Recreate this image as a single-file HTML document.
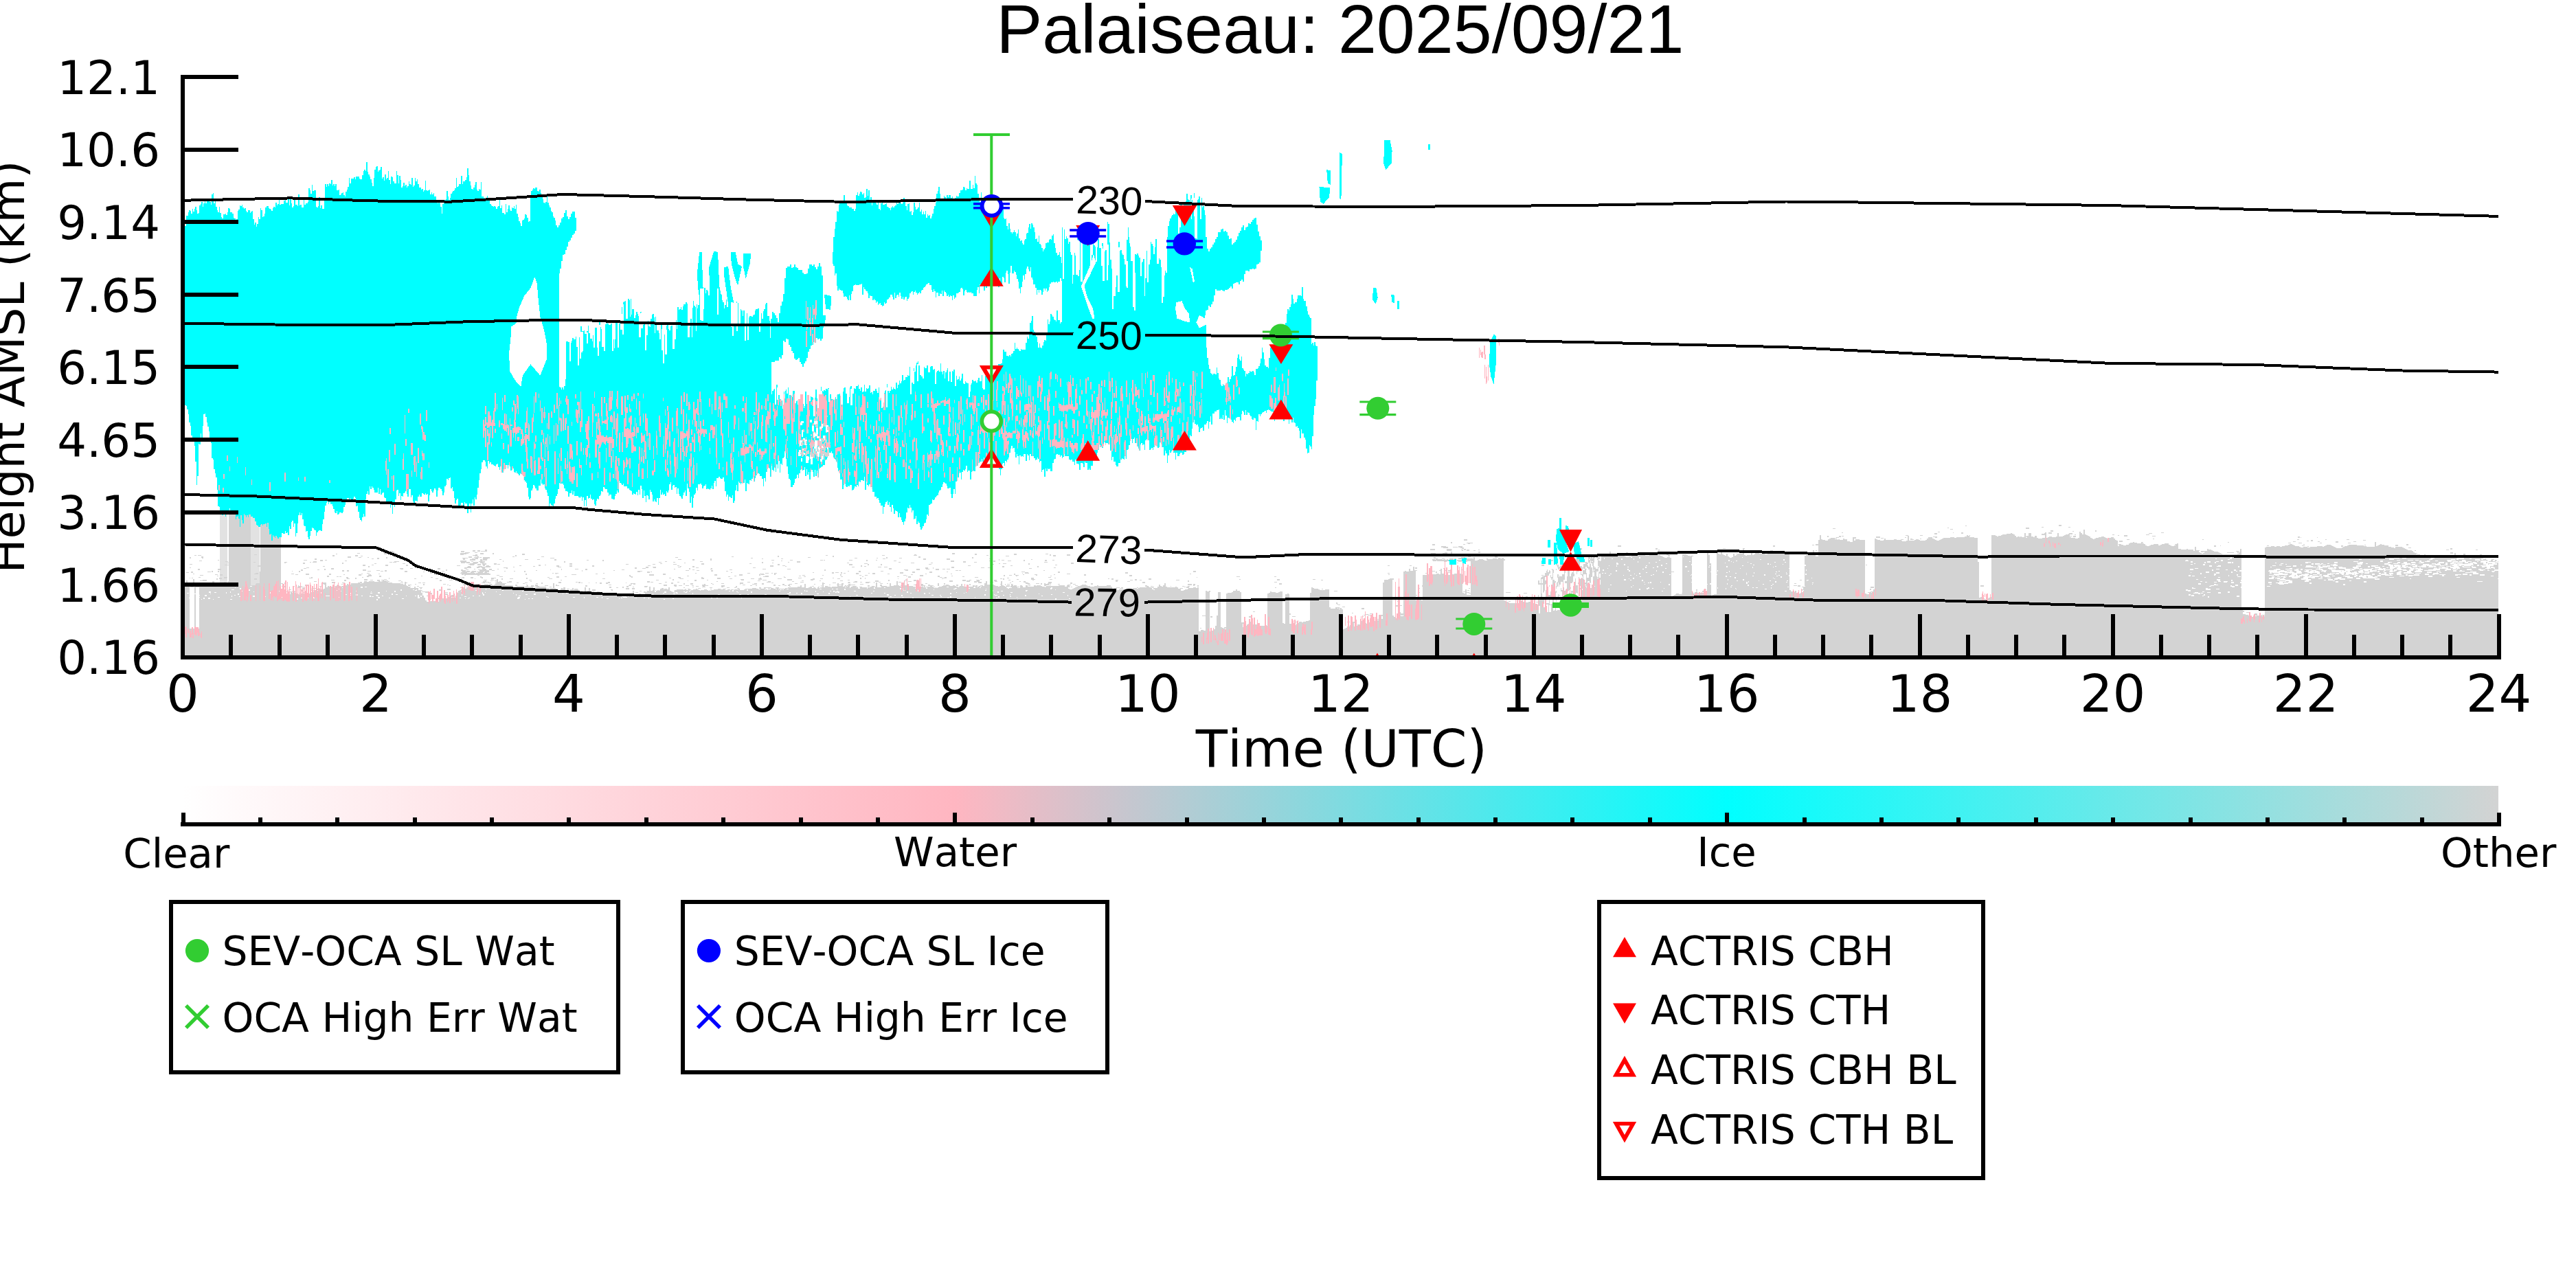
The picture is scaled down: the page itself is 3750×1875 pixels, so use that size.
<!DOCTYPE html>
<html><head><meta charset="utf-8"><title>Palaiseau: 2025/09/21</title>
<style>html,body{margin:0;padding:0;background:#fff;width:3750px;height:1875px;overflow:hidden}svg{display:block}text{font-kerning:none}</style></head>
<body><svg width="3750" height="1875" viewBox="0 0 3750 1875">
<rect width="3750" height="1875" fill="#fff"/>
<g shape-rendering="crispEdges"><path fill="#d3d3d3" d="M269,850.8H271V844.7H273V852.2H275V852.7H277V852H279V851.3H281V842.8H283V850.4H285V850.7H287V850.5H289V849.9H291V849.7H293V850.1H295V850.8H297V851.6H299V852H301V852.2H303V852.3H305V852.1H307V851.9H309V851.7H311V851.5H313V851.5H315V851.9H317V852.2H319V852.3H321V852.4H323V852.8H325V853.5H327V847.1H329V853.4H331V852.6H333V749.1H335V749.3H337V749.7H339V748.9H341V750.3H343V750.5H345V750.3H347V749.6H349V748.8H351V748.1H353V747.6H355V747.4H357V747.8H359V748.8H361V749.5H363V749.2H365V851.5H367V850.7H369V850.2H371V850.2H373V850.9H375V852.2H377V831.7H379V763.5H381V763H383V762.7H385V762.9H387V763.2H389V763H391V762.6H393V762.3H395V761.9H397V761.5H399V761.3H401V761.8H403V762.8H405V763.6H407V764H409V869.6H411V869.1H413V868.8H415V868.5H417V867.9H419V866.8H421V865.4H423V862.3H425V862.8H427V862.3H429V862.9H431V864.2H433V865.5H435V865.8H437V865.1H439V864.3H441V864.1H443V864.1H445V863.9H447V863.8H449V863.5H451V862.8H453V861.8H455V861H457V860.4H459V860H461V859.9H463V860.1H465V860.2H467V859.8H469V858.8H471V857.4H473V849.6H475V854.8H477V854.4H479V854.4H481V854.4H483V854.4H485V854.4H487V854.6H489V854.7H491V852.5H493V854.2H495V854.2H497V854.6H499V854.6H501V853.6H503V852.3H505V851.4H507V851.1H509V851H511V849.2H513V849.7H515V848.8H517V848.5H519V848.9H521V849.7H523V850.1H525V849.7H527V848.7H529V847.6H531V846.9H533V846.8H535V846.7H537V846.4H539V845.9H541V845.9H543V846.4H545V846.9H547V846.9H549V846.8H551V847H553V846.8H555V846H557V845H559V844.8H561V845.6H563V846.8H565V847.7H567V848.2H569V848.4H571V848.6H573V848.7H575V848.6H577V848.8H579V849.7H581V851H583V851.8H585V852.1H587V852.4H589V846.7H591V853.5H593V854.3H595V855.1H597V856.1H599V857.4H601V858.5H603V854H605V858.6H607V858.4H609V859H611V860.4H613V862.8H615V866.5H617V870.1H619V873.7H621V876.1H623V875.7H625V875.1H627V874.5H629V874.3H631V874.6H633V875.4H635V876.1H637V875.9H639V874.4H641V872.4H643V871.1H645V870.9H647V871.1H649V871.1H651V870.3H653V869.3H655V868.9H657V869.6H659V870.3H661V870.3H663V867H665V863.3H667V860.1H669V858.8H671V857.8H673V857.3H675V857H677V856.5H679V855.1H681V853.2H683V851.4H685V850.1H687V846.7H689V850.7H691V851.4H693V852.3H695V852.9H697V852.9H699V852.3H701V851.6H703V850.8H705V849.9H707V849.5H709V849.9H711V850.8H713V851.3H715V851.6H717V851.7H719V851.4H721V850.1H723V843.4H725V847H727V846.4H729V847.2H731V849.2H733V848.8H735V851.7H737V851.6H739V851.9H741V852.8H743V853.4H745V853.5H747V853.6H749V854.1H751V853.6H753V854.3H755V853.8H757V853.4H759V853.4H761V853.6H763V853.6H765V853.3H767V853.2H769V853.7H771V854.8H773V856.1H775V856.7H777V856.3H779V855.3H781V853.2H783V853.4H785V853.6H787V854.2H789V854.4H791V854.5H793V855.1H795V856.1H797V857.1H799V857.6H801V857.6H803V857.2H805V848.9H807V856H809V856.7H811V858.3H813V859.7H815V860.2H817V856.3H819V859.3H821V858.9H823V858.8H825V859.3H827V860.2H829V861H831V860.9H833V856.4H835V860.1H837V860.7H839V861.6H841V861.9H843V861.3H845V860.6H847V860.5H849V861.2H851V854.5H853V862H855V861.8H857V856.1H859V860.6H861V861.2H863V861.6H865V862.5H867V863.5H869V864.5H871V865.4H873V865.7H875V865.3H877V864.8H879V864.7H881V865H883V865.8H885V866.8H887V867.3H889V866.8H891V865.7H893V864.9H895V864.6H897V864.7H899V865.3H901V866.5H903V867.7H905V868.8H907V869.5H909V869.8H911V869.8H913V869.2H915V868H917V866.8H919V866.7H921V860.2H923V868.8H925V868.5H927V867.5H929V866.8H931V867H933V867.7H935V868.3H937V868.6H939V860.5H941V860.4H943V860.4H945V853.7H947V861.4H949V862.3H951V854.9H953V861.7H955V860.1H957V858.5H959V857.5H961V857.4H963V858.1H965V859.3H967V859.7H969V859H971V858.3H973V855.1H975V859.7H977V861.3H979V861.8H981V860.9H983V859.3H985V858.3H987V858.1H989V858.2H991V858.3H993V858.7H995V859.7H997V861H999V861.8H1001V858.7H1003V860.8H1005V860H1007V859.3H1009V858.4H1011V857.6H1013V857.2H1015V857.7H1017V858.7H1019V859.5H1021V859.6H1023V859H1025V858.2H1027V858.1H1029V858.8H1031V859.5H1033V859.9H1035V859.8H1037V859.1H1039V858.3H1041V858.3H1043V858.7H1045V859H1047V859.4H1049V860.2H1051V860.9H1053V860.7H1055V859.8H1057V859.4H1059V859.9H1061V860.9H1063V861.2H1065V860.6H1067V859.3H1069V858.1H1071V857.5H1073V857.8H1075V858.5H1077V858.9H1079V859H1081V858.5H1083V857.8H1085V857.3H1087V857.2H1089V857.1H1091V856.9H1093V856.5H1095V856.1H1097V855.9H1099V856.3H1101V856.9H1103V857.2H1105V856.9H1107V856.5H1109V856.6H1111V857.1H1113V857.9H1115V858.5H1117V858.6H1119V858.2H1121V857.7H1123V857.3H1125V857.3H1127V857.6H1129V857.8H1131V857.6H1133V857H1135V856.6H1137V856.8H1139V857.2H1141V857.1H1143V856.4H1145V855.6H1147V855.1H1149V854.8H1151V854.5H1153V854.7H1155V855.2H1157V855.3H1159V854.7H1161V854H1163V853.9H1165V852.3H1167V854.8H1169V855.1H1171V850H1173V855.6H1175V855.5H1177V854.9H1179V854.1H1181V853.8H1183V854.5H1185V855.8H1187V856.5H1189V856.5H1191V856.5H1193V856.7H1195V856.8H1197V848.2H1199V854.6H1201V853.1H1203V852.8H1205V853.6H1207V854.7H1209V854.9H1211V854.2H1213V853.7H1215V853.8H1217V853.8H1219V848.9H1221V853.7H1223V854.1H1225V848.9H1227V853.8H1229V853.2H1231V853.3H1233V854.3H1235V855.5H1237V855.6H1239V854.4H1241V853H1243V852.5H1245V853H1247V853.8H1249V854.1H1251V854H1253V854.1H1255V854.8H1257V856.2H1259V857.3H1261V857.2H1263V856.1H1265V854.7H1267V853.8H1269V853.4H1271V853.3H1273V853.5H1275V848.3H1277V854.5H1279V854.8H1281V854.6H1283V853.9H1285V853.3H1287V853H1289V853.2H1291V853.7H1293V853.8H1295V850.7H1297V852.9H1299V852.5H1301V852.2H1303V852H1305V846.1H1307V852.2H1309V853H1311V853.6H1313V853.8H1315V848.2H1317V853H1319V852.8H1321V852.9H1323V853H1325V853.2H1327V853.4H1329V853.8H1331V854.1H1333V854.1H1335V853.8H1337V853.6H1339V853.6H1341V854.1H1343V854.6H1345V854.8H1347V854.5H1349V854.3H1351V854.4H1353V854.7H1355V852.7H1357V854.2H1359V854.2H1361V855H1363V855.8H1365V848.6H1367V854.8H1369V853.8H1371V853.1H1373V852.3H1375V851.5H1377V851H1379V851.1H1381V851.7H1383V852.9H1385V854.2H1387V855.3H1389V856.3H1391V857H1393V853.9H1395V855.1H1397V853.4H1399V850H1401V852.9H1403V853.8H1405V854.6H1407V854.9H1409V854.7H1411V854.4H1413V854.6H1415V855.3H1417V855.8H1419V855.8H1421V855.1H1423V854.1H1425V853H1427V852.2H1429V852.1H1431V852.7H1433V848.5H1435V845.9H1437V851.8H1439V851.3H1441V850.9H1443V850.5H1445V850.9H1447V852.1H1449V853.4H1451V853.9H1453V853.6H1455V853H1457V846.1H1459V851.9H1461V852.7H1463V854.4H1465V856H1467V856.8H1469V855.5H1471V855.9H1473V855.2H1475V854.6H1477V854.4H1479V854.9H1481V855.6H1483V855.9H1485V855.4H1487V854.9H1489V855H1491V855.3H1493V855.2H1495V854.6H1497V853.8H1499V853.5H1501V853.8H1503V854H1505V852.6H1507V852.5H1509V851.9H1511V851.8H1513V852H1515V852.6H1517V853.6H1519V854.4H1521V854.6H1523V854.5H1525V854.5H1527V854.3H1529V853.7H1531V852.9H1533V852.5H1535V852.6H1537V853.1H1539V853.4H1541V853.3H1543V853.1H1545V852.7H1547V853.4H1549V853.6H1551V853.9H1553V855H1555V856.6H1557V857.8H1559V857.7H1561V856.7H1563V855.8H1565V855H1567V854.1H1569V853.3H1571V852.8H1573V852.3H1575V851.3H1577V850.7H1579V850.9H1581V851.8H1583V852.6H1585V853.2H1587V853.7H1589V853.9H1591V853.7H1593V853.1H1595V852.5H1597V852.4H1599V852.8H1601V853.2H1603V853.2H1605V852.8H1607V852.6H1609V852.6H1611V852.2H1613V851.9H1615V852.4H1617V854.1H1619V858.5H1621V859.1H1623V859H1625V858.9H1627V858.7H1629V858.1H1631V857.8H1633V857.9H1635V858.1H1637V858.2H1639V858.8H1641V859.5H1643V859.6H1645V858.5H1647V856.9H1649V855.8H1651V855.8H1653V856.4H1655V856.7H1657V856.3H1659V855.4H1661V854.7H1663V854.5H1665V854.6H1667V854.5H1669V854.2H1671V854.1H1673V854.8H1675V856.3H1677V858H1679V858.8H1681V858.3H1683V856.4H1685V854.3H1687V851.2H1689V853.3H1691V853.7H1693V853.8H1695V849.2H1697V854H1699V854.5H1701V855.1H1703V855.4H1705V855.4H1707V855.1H1709V854.5H1711V854.3H1713V855H1715V857H1717V856.8H1719V860.4H1721V860H1723V858.9H1725V858H1727V857.5H1729V857H1731V856.4H1733V855.9H1735V855.6H1737V855.3H1739V855.2H1741V855.6H1743V854.9H1745V918.7H1747V918.8H1749V918.4H1751V918H1753V917.6H1755V860.2H1757V860.5H1759V861.1H1761V918.6H1763V918.2H1765V917.5H1767V916.3H1769V911.1H1771V895.9H1773V862.3H1775V861.6H1777V913.1H1779V914H1781V915.2H1783V915.9H1785V864H1787V863.3H1789V862.8H1791V862.5H1793V862.1H1795V861.4H1797V860.4H1799V859.7H1801V859.6H1803V860.2H1805V861.5H1807V906.3H1809V912.8H1811V912.5H1813V911.1H1815V909.4H1817V908.4H1819V905.3H1821V908.5H1823V908.7H1825V908.6H1827V908.7H1829V909.4H1831V910.2H1833V910.7H1835V910.9H1837V911.1H1839V911.3H1841V908.3H1843V911H1845V863.9H1847V862.9H1849V861.2H1851V861.8H1853V862H1855V862.4H1857V862.8H1859V863H1861V862.3H1863V861.1H1865V860.5H1867V907H1869V907.6H1871V864.6H1873V864.8H1875V865.1H1877V907.5H1879V907.9H1881V908.8H1883V909.7H1885V909.5H1887V908.1H1889V906.8H1891V906.1H1893V905.9H1895V905.7H1897V905.3H1899V904.9H1901V904.4H1903V903.7H1905V902.9H1907V862.6H1909V855.4H1911V856.4H1913V857.1H1915V857.1H1917V857.2H1919V857.9H1921V859H1923V859.3H1925V859H1927V858.5H1929V858H1931V857.6H1933V857.6H1935V884.3H1937V885.6H1939V886.4H1941V886.4H1943V885.9H1945V885.6H1947V885.8H1949V886.6H1951V885.2H1953V886.9H1955V915.5H1957V914.6H1959V914.1H1961V913.2H1963V911.7H1965V910.4H1967V910.2H1969V905.3H1971V911.6H1973V911.9H1975V911.4H1977V910.6H1979V910.2H1981V903.9H1983V910.9H1985V910.4H1987V909.3H1989V908.4H1991V907.4H1993V906.4H1995V905.7H1997V905.3H1999V904.9H2001V904.2H2003V903.4H2005V902.7H2007V895.2H2009V895.6H2011V900.6H2013V847.9H2015V843.6H2017V843.6H2019V843.5H2021V843.4H2023V841.6H2025V843.6H2027V896.4H2029V898.3H2031V899.7H2033V899.7H2035V898.6H2037V890.8H2039V897.1H2041V896.9H2043V831.5H2045V831.4H2047V831.5H2049V831.9H2051V828.2H2053V831.4H2055V831H2057V825.2H2059V831.2H2061V874.4H2063V873.6H2065V872.8H2067V872.7H2069V873.6H2071V836.6H2073V837H2075V836.9H2077V833H2079V835.8H2081V835.5H2083V835.6H2085V835.9H2087V835.8H2089V835.6H2091V835.4H2093V835.4H2095V835.5H2097V828.1H2099V835.2H2101V835.8H2103V836.8H2105V837.3H2107V837.1H2109V836.8H2111V836.5H2113V836.1H2115V835.7H2117V835.4H2119V835.1H2121V835H2123V835.2H2125V835.3H2127V835.5H2129V863.3H2131V864.2H2133V858.4H2135V865.7H2137V866.2H2139V866.3H2141V816.9H2143V816.2H2145V810.6H2147V816.2H2149V816.3H2151V815.3H2153V813.9H2155V813.5H2157V814.4H2159V815.4H2161V815.7H2163V815.5H2165V815.4H2167V815.2H2169V814.7H2171V813.8H2173V813.1H2175V813H2177V813.4H2179V813.8H2181V813.6H2183V813.2H2185V812.6H2187V812H2189V874.1H2191V874.5H2193V875.8H2195V877.2H2197V878H2199V878.2H2201V878H2203V877.8H2205V877.7H2207V877.8H2209V877.7H2211V877.1H2213V875H2215V876.2H2217V876.2H2219V876.4H2221V876.7H2223V876.8H2225V876.6H2227V876.6H2229V876.9H2231V877.5H2233V878.4H2235V879.4H2237V879.9H2239V844.2H2241V842.2H2243V840H2245V838.5H2247V837.5H2249V834.2H2251V829.3H2253V832.8H2255V830H2257V829.6H2259V828.9H2261V828.6H2263V828.2H2265V827.6H2267V821.5H2269V825.2H2271V823.2H2273V820.9H2275V819.3H2277V818.7H2279V818.9H2281V818.9H2283V818H2285V816.4H2287V814.9H2289V813.8H2291V813H2293V812.6H2295V812.2H2297V811.6H2299V810.2H2301V809.2H2303V808.6H2305V808.8H2307V809.3H2309V809.8H2311V809.7H2313V809.1H2315V808.3H2317V808H2319V808.1H2321V807.9H2323V807.3H2325V807.2H2327V808H2329V809.7H2331V810.4H2333V809.7H2335V808.7H2337V807.8H2339V807.8H2341V808.2H2343V803.4H2345V808.7H2347V809.1H2349V808.9H2351V807.7H2353V806.1H2355V805.2H2357V805H2359V805.6H2361V807.2H2363V808.9H2365V810.4H2367V811.1H2369V810.9H2371V810.2H2373V809.8H2375V809.2H2377V808.2H2379V807.2H2381V806.8H2383V806.7H2385V806.5H2387V806H2389V806H2391V806.8H2393V807.8H2395V808.6H2397V808.9H2399V808.7H2401V808H2403V807.3H2405V807.1H2407V807.4H2409V807.8H2411V807.9H2413V807.8H2415V808.2H2417V808.9H2419V809.8H2421V810.7H2423V811.5H2425V811.5H2427V811H2429V811.2H2431V811.6H2433V868.3H2435V867.1H2437V865.8H2439V865.1H2441V865H2443V865.2H2445V865.3H2447V864.9H2449V807.2H2451V806.8H2453V807H2455V807.6H2457V808.7H2459V809.6H2461V810.1H2463V861.7H2465V864H2467V863.5H2469V858.2H2471V863.1H2473V863.2H2475V863.4H2477V863.4H2479V862.9H2481V862.2H2483V861.7H2485V804.4H2487V807.8H2489V820H2491V867.4H2493V866.1H2495V864.9H2497V864.6H2499V804.4H2501V806.1H2503V807.3H2505V799.9H2507V807.1H2509V807.5H2511V808.5H2513V805.7H2515V810H2517V811H2519V811.5H2521V811H2523V805.5H2525V808.7H2527V807.6H2529V806.5H2531V805.9H2533V805.8H2535V806.3H2537V802.2H2539V808.4H2541V808.7H2543V808.2H2545V807.6H2547V807.7H2549V803.4H2551V807.6H2553V806.5H2555V805.2H2557V804.7H2559V805.2H2561V806H2563V806.3H2565V806.3H2567V806.4H2569V806.8H2571V806.8H2573V806.1H2575V805.2H2577V804.8H2579V805.1H2581V801.7H2583V805.6H2585V805.8H2587V806H2589V806.2H2591V806.2H2593V806.3H2595V806.1H2597V805.6H2599V805H2601V805H2603V805.5H2605V859.4H2607V860.5H2609V861.4H2611V861.8H2613V860.2H2615V862.7H2617V863.4H2619V863.5H2621V862.9H2623V861.8H2625V854H2627V808.5H2629V807.9H2631V807.4H2633V806.9H2635V806.3H2637V804.2H2639V800.6H2641V808.3H2643V809.6H2645V809.9H2647V786.1H2649V779.1H2651V785.1H2653V785.6H2655V786.4H2657V787.1H2659V786.9H2661V785.4H2663V783.6H2665V782.6H2667V782.7H2669V783.8H2671V784.9H2673V785.4H2675V785.6H2677V786H2679V786.2H2681V785.7H2683V783.5H2685V785.5H2687V786.5H2689V787.7H2691V788H2693V789.3H2695V789.2H2697V781.5H2699V786.7H2701V785.4H2703V785H2705V785.3H2707V785.7H2709V785.8H2711V785.8H2713V786.2H2715V864.4H2717V865H2719V865.2H2721V862.7H2723V864.1H2725V862.4H2727V857.7H2729V784.1H2731V784.5H2733V785.5H2735V786.4H2737V786.8H2739V786.7H2741V786.7H2743V783.7H2745V786.2H2747V785.7H2749V785.7H2751V785.9H2753V785.9H2755V785.7H2757V785.3H2759V785.2H2761V785.5H2763V785.8H2765V786.1H2767V786.6H2769V787.5H2771V788H2773V787.7H2775V787.1H2777V780.1H2779V786.5H2781V786.9H2783V787.3H2785V786.9H2787V785.9H2789V785H2791V784.8H2793V785.6H2795V786.5H2797V787.2H2799V787.4H2801V787.2H2803V786.1H2805V784.3H2807V782.3H2809V781.6H2811V782.3H2813V783.6H2815V784.8H2817V785.8H2819V786.6H2821V786.7H2823V785.9H2825V784.7H2827V783.8H2829V783.3H2831V783.2H2833V783.2H2835V783.3H2837V783H2839V782.4H2841V782H2843V782H2845V782.8H2847V783.3H2849V783.2H2851V782.7H2853V782.3H2855V782.3H2857V782.3H2859V781.7H2861V780.5H2863V778.7H2865V780.3H2867V781.9H2869V783H2871V783H2873V782.5H2875V782.6H2877V783.3H2879V818.3H2881V869.6H2883V868.6H2885V868.9H2887V870.5H2889V872H2891V872.3H2893V871.4H2895V870.2H2897V869.1H2899V778.8H2901V778.6H2903V779H2905V779.9H2907V780.5H2909V780.4H2911V779.6H2913V778.6H2915V778H2917V777.7H2919V777.5H2921V777.1H2923V776.8H2925V776.6H2927V776.4H2929V776.8H2931V778.2H2933V780.2H2935V781.8H2937V782.1H2939V781.6H2941V781.3H2943V781.8H2945V782.4H2947V775.7H2949V782.7H2951V781.9H2953V775.8H2955V776H2957V781.3H2959V781.5H2961V781.5H2963V781.9H2965V782.9H2967V783.6H2969V783.9H2971V783.8H2973V783.3H2975V782.7H2977V774.8H2979V782.6H2981V781.5H2983V781H2985V781.4H2987V782.1H2989V782.2H2991V781.7H2993V781.3H2995V775.6H2997V781H2999V781.2H3001V780.9H3003V779.8H3005V778.8H3007V778.3H3009V778.3H3011V776.5H3013V781.5H3015V782.9H3017V783.1H3019V783.1H3021V783.6H3023V783.9H3025V783.1H3027V773.9H3029V775.9H3031V777.9H3033V771H3035V777.5H3037V778.5H3039V779.8H3041V781.3H3043V783H3045V784.4H3047V784.8H3049V784.3H3051V783.4H3053V782.7H3055V782.2H3057V781.9H3059V781.4H3061V781.2H3063V781.8H3065V782.9H3067V783.7H3069V783.4H3071V782.6H3073V781.8H3075V782H3077V783.6H3079V785.8H3081V786.9H3083V794.7H3085V793.6H3087V793.1H3089V793.2H3091V793.5H3093V793.5H3095V793.3H3097V792.5H3099V791.4H3101V790.2H3103V789.5H3105V789.3H3107V789.6H3109V790.2H3111V790.8H3113V791.2H3115V791H3117V789.3H3119V790.6H3121V791.7H3123V793.5H3125V794.7H3127V794.7H3129V794.1H3131V793.3H3133V792.7H3135V792H3137V791.6H3139V792.2H3141V793.5H3143V794H3145V793.3H3147V792.3H3149V791.6H3151V791H3153V790.8H3155V791.3H3157V792.5H3159V793.7H3161V794.6H3163V794.9H3165V794.4H3167V793H3169V791.3H3171V798.5H3173V798.9H3175V799.9H3177V800.5H3179V800.6H3181V800.2H3183V799.2H3185V799.7H3187V800.2H3189V801H3191V801.7H3193V801.7H3195V795.9H3197V801.2H3199V802H3201V803.5H3203V805.1H3205V805.8H3207V805.1H3209V803.4H3211V801.7H3213V799.2H3215V800.1H3217V800.3H3219V801.1H3221V801.9H3223V802.5H3225V802.5H3227V802.6H3229V803.5H3231V804.9H3233V806.3H3235V807H3237V806.6H3239V806.7H3241V806.5H3243V806.7H3245V806.8H3247V806.7H3249V806.8H3251V807.2H3253V807.2H3255V806.8H3257V806H3259V805H3261V798.9H3263V888.1H3265V894H3267V894.2H3269V894.9H3271V895.4H3273V895.9H3275V896.7H3277V897.7H3279V898.2H3281V897.6H3283V896.7H3285V896.2H3287V895.9H3289V895.7H3291V896.1H3293V896.9H3295V897.4H3297V796.6H3299V796.2H3301V796.2H3303V795.7H3305V795.9H3307V795.7H3309V795.9H3311V796H3313V795.7H3315V795.2H3317V795.2H3319V795.5H3321V795.7H3323V795.5H3325V795H3327V794.6H3329V793.9H3331V793H3333V791.5H3335V792.3H3337V793.2H3339V794.2H3341V794.7H3343V794.7H3345V795.1H3347V796.1H3349V797H3351V797H3353V796.3H3355V795.7H3357V796H3359V796.7H3361V796.8H3363V796.2H3365V795.6H3367V795.5H3369V795.8H3371V796H3373V795.4H3375V794.7H3377V794.8H3379V795.4H3381V795.5H3383V794.9H3385V793.9H3387V793H3389V792.6H3391V793H3393V794.2H3395V795.4H3397V796.4H3399V797.2H3401V797.7H3403V798H3405V798H3407V797.5H3409V796.7H3411V796H3413V795.4H3415V794.6H3417V793.9H3419V793.2H3421V792.8H3423V792.9H3425V793.1H3427V793H3429V793H3431V793.5H3433V794.1H3435V794.4H3437V794.4H3439V794.4H3441V794.7H3443V795.2H3445V795.7H3447V795.7H3449V795.8H3451V795.9H3453V795.9H3455V795.8H3457V789.2H3459V794.7H3461V793.5H3463V792.6H3465V792.4H3467V792.7H3469V793.2H3471V793.9H3473V794.7H3475V795.2H3477V795.7H3479V796H3481V796.5H3483V797.3H3485V797.7H3487V797.2H3489V796.3H3491V795.7H3493V795.8H3495V796.3H3497V797.3H3499V798.2H3501V799.2H3503V800.2H3505V800.7H3507V800.8H3509V801.2H3511V802.4H3513V804.3H3515V805.9H3517V806.5H3519V806.7H3521V807.4H3523V808.8H3525V810.1H3527V811.3H3529V807.4H3531V811.3H3533V812H3535V811.1H3537V810H3539V809.1H3541V808.8H3543V808.7H3545V808.5H3547V808.1H3549V809.2H3551V809.8H3553V810H3555V810.2H3557V810.3H3559V810.1H3561V809.9H3563V810.1H3565V810.8H3567V811.2H3569V811H3571V810.9H3573V805.2H3575V812.2H3577V813.2H3579V813.9H3581V814.4H3583V814.4H3585V813.6H3587V812.3H3589V808.5H3591V810.1H3593V810.3H3595V811.3H3597V812.1H3599V812.4H3601V809.6H3603V812.1H3605V812.1H3607V812.2H3609V812.3H3611V812.2H3613V812H3615V812.3H3617V813.3H3619V814.7H3621V815.7H3623V815.6H3625V814.8H3627V814.3H3629V814.3H3631V814.7H3633V815.3H3635V815.9H3637V957H269Z"/><path fill="#fff" d="M276.3,852.2L283.1,852.2L283.1,914.7L276.3,914.7ZM285,854.9L289.9,854.9L289.9,914.7L285,914.7Z"/><path fill="#e2e2e2" d="M320,745h10.5v107h-10.5zM364.6,752h13.4v100h-13.4z"/><path fill="#d3d3d3" d="M696.9,851.4h2.2v1.5h-2.2zM474.3,858.2h2.1v1.2h-2.1zM482.9,846.9h4.6v1.7h-4.6zM876.9,841.7h4.3v1.5h-4.3zM1305.5,852.5h4.1v1.4h-4.1zM1222.9,836.3h1.7v1.7h-1.7zM316.6,848.9h3.6v1.7h-3.6zM344.2,734.9h2.7v1h-2.7zM698.7,839.4h1.8v1.7h-1.8zM325.4,851.7h2.7v1.1h-2.7zM1463.9,808.8h4.7v1.2h-4.7zM1344.8,852.8h2.5v1.6h-2.5zM380.1,762.5h4.8v1.3h-4.8zM1295.5,851.5h1.8v1.4h-1.8zM490.5,855h1.6v1.3h-1.6zM603.6,855.9h4.9v1.7h-4.9zM1180.6,855.7h4.1v1.6h-4.1zM951.1,859.7h2.2v1.3h-2.2zM626.7,839.8h3.1v1.5h-3.1zM1427.3,843h2.1v1.3h-2.1zM1460.2,853.7h2.3v1.5h-2.3zM1371.9,827.7h4.1v1.6h-4.1zM751.9,853.3h3.7v1.1h-3.7zM1299.9,854.7h1.6v1.8h-1.6zM485.9,847.1h1.7v1.8h-1.7zM291.4,837.1h4.5v1.2h-4.5zM280.2,853.5h1.7v1.6h-1.7zM951.7,825h3.7v1.5h-3.7zM530.4,847.9h4.9v1.8h-4.9zM834.7,835.9h4v1.2h-4zM527.9,828.9h4.9v1.8h-4.9zM730.8,852.1h2.6v1.1h-2.6zM1544.1,852.4h4.5v1.2h-4.5zM1508.3,848.5h4.4v1.5h-4.4zM1258.2,855.1h1.8v1.3h-1.8zM1402.1,817.1h4v1.5h-4zM333.4,712.8h3.8v1.5h-3.8zM1356.2,853.8h3.7v1.5h-3.7zM1245.5,855.1h4v1.7h-4zM1080.6,858.7h4.7v1.1h-4.7zM567.2,818.1h3.6v1.3h-3.6zM1306.5,842.2h1.9v1.2h-1.9zM1315.6,829h1.8v1.4h-1.8zM1189.8,854.6h1.7v1.3h-1.7zM1475.9,835.3h2.2v1.7h-2.2zM1131.2,856.6h2.4v1.1h-2.4zM792.1,853.7h2.5v1.7h-2.5zM1251.6,849.9h4.9v1.5h-4.9zM1498,826.5h3.7v1.6h-3.7zM1269.6,834.4h4.6v1.3h-4.6zM738.8,852h4.7v1.7h-4.7zM840.2,857.8h2v1.8h-2zM1136.7,813h3.7v1.4h-3.7zM1236,821.2h4.5v1.3h-4.5zM923.8,826h3.3v1.6h-3.3zM947.1,832.4h1.7v1h-1.7zM387,759h2.8v1.8h-2.8zM1556.1,853.5h4.4v1.4h-4.4zM1355.2,852.2h4.2v1h-4.2zM873.4,862.9h2.4v1.2h-2.4zM810.7,851.8h3.3v1.6h-3.3zM1336.6,810.3h3.8v1.2h-3.8zM1016.7,856h2.3v1.3h-2.3zM565.6,841.2h1.7v1.4h-1.7zM801.3,856.1h2.5v1.8h-2.5zM1017.6,859.5h3.5v1.6h-3.5zM443.8,861.2h2.2v1.4h-2.2zM1330.9,854h2v1.1h-2zM1062.5,859.1h3.3v1.6h-3.3zM1258.7,841.2h1.5v1.3h-1.5zM584,845.8h2v1.1h-2zM1497.2,820.2h1.8v1.7h-1.8zM355.1,747.3h5v1.8h-5zM873.1,848.3h2.8v1.7h-2.8zM677.8,856.9h2v1.5h-2zM989.6,823.8h2v1.6h-2zM1487.5,833.9h1.9v1.1h-1.9zM383.4,761h4.2v1.1h-4.2zM849.2,861.6h3.9v1.1h-3.9zM1293.1,844.4h2.2v1.6h-2.2zM720.4,845.2h3.4v1.2h-3.4zM808,833.6h4.5v1.7h-4.5zM1003,827.4h2v1.8h-2zM328.1,816.6h4.3v1.3h-4.3zM1289.6,811.3h2.1v1.5h-2.1zM275.7,840.6h1.7v1.5h-1.7zM304.7,849.4h4.5v1.2h-4.5zM1520.3,849h2.1v1.7h-2.1zM470.5,849.5h4.8v1.8h-4.8zM986.8,859.5h3.3v1.2h-3.3zM675.5,857.3h2.2v1h-2.2zM1238.4,855.2h3.5v1.3h-3.5zM1108.5,849.3h3.2v1.6h-3.2zM1007.9,824.2h3.5v1.7h-3.5zM1384.7,837.7h2.7v1.4h-2.7zM371.9,834.3h3.8v1.7h-3.8zM378.9,762.4h3.8v1.6h-3.8zM365.1,852.2h2.6v1.3h-2.6zM337.2,748.9h2.2v1h-2.2zM460.7,861h2.8v1.6h-2.8zM1123.2,847.8h3.1v1.1h-3.1zM332.2,851.9h4.8v1.7h-4.8zM1005.2,849.2h4.1v1.7h-4.1zM581.5,826.6h3.8v1.2h-3.8zM641.1,872.4h3.4v1.8h-3.4zM1288.8,854.7h1.9v1.2h-1.9zM482,856.6h4.1v1.3h-4.1zM999.5,858.5h4.9v1.5h-4.9zM450.1,840.7h2.5v1.4h-2.5zM640.6,867.5h2.6v1.3h-2.6zM473.3,814.5h2.2v1.2h-2.2zM799.3,856h2.3v1.3h-2.3zM1023.2,852.7h2.8v1.5h-2.8zM1231.8,854.6h2.3v1.5h-2.3zM800.7,828.5h1.5v1.4h-1.5zM719.7,851.1h4.5v1.2h-4.5zM1287.3,824.6h4.9v1.1h-4.9zM471.3,858.8h2.6v1.7h-2.6zM1100.4,858.2h1.9v1.6h-1.9zM1074,859h3.6v1.2h-3.6zM648.8,872.1h5v1.4h-5zM1065.8,858.8h2.8v1.5h-2.8zM1233.3,818.7h2.4v1.2h-2.4zM790,854.3h4.4v1.3h-4.4zM751.8,847.8h3.5v1.3h-3.5zM281.3,834.6h1.9v1.7h-1.9zM588.5,852.3h3.4v1.7h-3.4zM760.9,849h3v1.1h-3zM641.9,834.7h4.8v1.2h-4.8zM1456.9,853.7h4v1h-4zM819.6,855.2h3v1.8h-3zM724.4,851.7h1.9v1.6h-1.9zM435.8,864.9h2.2v1.8h-2.2zM843.6,860.8h3.8v1.3h-3.8zM983.1,810.5h3.9v1.4h-3.9zM1557.8,847.9h3.1v1.7h-3.1zM1505.9,836.1h2.8v1.3h-2.8zM281.5,852.8h4.2v1.4h-4.2zM1374.9,840.3h3.5v1.6h-3.5zM912.2,853.4h3.2v1.3h-3.2zM1256.9,855.1h4.9v1.8h-4.9zM1341.2,850h3.1v1.3h-3.1zM862.5,862.7h4.3v1.7h-4.3zM915.9,837.2h2.5v1.7h-2.5zM1525.5,839.6h4.9v1.6h-4.9zM1164.5,852.1h1.7v1.1h-1.7zM1337.8,854.2h3.9v1.1h-3.9zM1244.2,811.9h3.7v1h-3.7zM1220.8,850.7h4.5v1.1h-4.5zM632.1,835h4.4v1.7h-4.4zM941.6,846.1h4.8v1.5h-4.8zM382.8,762.4h1.5v1.1h-1.5zM305.1,849.8h3.7v1.7h-3.7zM797.2,855.7h4.7v1.7h-4.7zM1530.9,853.5h3.6v1.5h-3.6zM959.2,859.9h4.7v1.4h-4.7zM317.9,850.5h4v1.2h-4zM1271.6,854.6h3v1.2h-3zM434.7,831.4h2.7v1.6h-2.7zM1419.7,853h1.5v1.4h-1.5zM573.7,817.2h2.1v1.6h-2.1zM303.1,851.4h2.2v1.7h-2.2zM1042.9,846.1h1.8v1.2h-1.8zM1421.3,843.5h4.2v1.4h-4.2zM534.8,810.5h2.4v1.1h-2.4zM1107.1,858.1h4.2v1.6h-4.2zM764.3,848h3.2v1.1h-3.2zM372.7,850.4h1.5v1.1h-1.5zM741.6,841.5h3.3v1.1h-3.3zM1249.6,831.2h3.8v1.6h-3.8zM597,827h3.5v1.1h-3.5zM1152.8,845.7h3.5v1.4h-3.5zM1259.2,836.8h3.6v1.1h-3.6zM569.2,802.1h2.9v1.5h-2.9zM439.8,856.1h3.6v1.6h-3.6zM1519.9,849.5h2.6v1.1h-2.6zM701.2,847.6h4.9v1.4h-4.9zM1140.8,838.7h1.5v1.2h-1.5zM967,860.1h2v1.6h-2zM1139.6,857.2h1.9v1.7h-1.9zM879.4,863.9h4v1.5h-4zM1552.6,853.5h4.2v1.4h-4.2zM590,848h1.6v1.1h-1.6zM410.4,852.8h4v1.2h-4zM666.3,843.1h2.9v1.3h-2.9zM1489.8,846.4h3.4v1.5h-3.4zM323.2,849.5h4.3v1.5h-4.3zM1418.2,852.7h3.2v1.2h-3.2zM509.2,851.5h2.2v1.1h-2.2zM836.3,857.2h4.2v1.6h-4.2zM967.6,847h3.1v1.2h-3.1zM919.6,856h4.8v1.7h-4.8zM355.9,736.9h1.8v1.5h-1.8zM1365.6,838.3h1.9v1.3h-1.9zM521.7,836.3h4v1.6h-4zM729.7,842.4h2.2v1.7h-2.2zM1480.4,853.6h3.5v1.6h-3.5zM567.9,848.5h1.5v1.6h-1.5zM285.8,850.3h4.3v1h-4.3zM1181.7,852.8h2.9v1.4h-2.9zM724,820.6h3.8v1.3h-3.8zM425.2,860.7h5v1.7h-5zM357.6,747.1h3.1v1.3h-3.1zM414.4,867.5h3.4v1.6h-3.4zM1194.1,841.9h3.9v1h-3.9zM551.4,845.6h2.4v1.3h-2.4zM785.2,853.6h1.5v1.7h-1.5zM1504.3,842.9h2.5v1.4h-2.5zM1446.7,844h3.9v1.6h-3.9zM1535.3,840.6h1.9v1.4h-1.9zM1459.6,853.6h1.7v1h-1.7zM360.2,748.8h4.2v1.5h-4.2zM1213.9,847.8h2.7v1.6h-2.7zM489,853.4h3v1.5h-3zM1251.7,847h3.6v1.2h-3.6zM1035.2,830.4h3v1.6h-3zM925.4,861.9h3.6v1.1h-3.6zM547.7,847.1h3.4v1.5h-3.4zM1182.7,855.9h2.7v1.1h-2.7zM1113.5,854.9h2.5v1.2h-2.5zM1494.3,848.7h5v1.3h-5zM548.1,830.1h4.7v1.1h-4.7zM1381.9,845h4.7v1.8h-4.7zM820.6,817.1h2.1v1.4h-2.1zM841.8,860.2h3.2v1.6h-3.2zM409.8,863.5h3.3v1.2h-3.3zM1098.3,857.8h3.5v1.5h-3.5zM1236,814.9h4.7v1.4h-4.7zM609,858.5h4.3v1.6h-4.3zM1294.3,826.9h3.5v1.7h-3.5zM1117.7,846.4h4.4v1.5h-4.4zM1260.5,815.4h2.9v1.6h-2.9zM655.1,866.7h4.6v1.8h-4.6zM1492.4,833h4.5v1.7h-4.5zM1056.8,858.6h1.6v1.6h-1.6zM1250.8,836.8h3.5v1.5h-3.5zM1196.8,849.2h3.8v1.2h-3.8zM959.1,848.8h3.5v1.2h-3.5zM433.5,852.3h1.9v1.6h-1.9zM504.9,830.3h2.7v1.7h-2.7zM561.1,847h3.9v1.6h-3.9zM720.8,847h3.8v1.2h-3.8zM771.8,846.3h2.6v1.1h-2.6zM1442.1,853.7h5v1.7h-5zM846.5,830.3h1.7v1.5h-1.7zM726.1,850.8h4.6v1h-4.6zM1382,854.1h3.9v1.2h-3.9zM949.7,821.2h4.3v1.1h-4.3zM663.7,863.9h4v1h-4zM1384.5,825.3h4.8v1.2h-4.8zM545.1,819.6h3.3v1.2h-3.3zM291.9,851.8h3.9v1.6h-3.9zM727,813.9h3.3v1.4h-3.3zM779.1,852.1h2.8v1.7h-2.8zM837.8,859.8h3v1.7h-3zM1094.3,858.5h3v1.4h-3zM287.9,808.3h4.7v1.1h-4.7zM982.4,858.7h2.2v1.2h-2.2zM339.1,733.8h2.8v1.6h-2.8zM1321.8,846.2h2.7v1.1h-2.7zM1110.4,843.9h4.2v1.1h-4.2zM329.5,819.1h3.6v1.1h-3.6zM1184.6,856.1h3.7v1.4h-3.7zM1192.7,855.9h4.7v1.8h-4.7zM1540.2,832.2h2.6v1.8h-2.6zM1062.4,841.7h3.8v1.2h-3.8zM1370.5,841.8h2.3v1.3h-2.3zM455.2,858.6h5v1.3h-5zM780.1,830.1h1.8v1.1h-1.8zM1232,855.2h3.6v1.7h-3.6zM996.3,859.7h2.2v1.4h-2.2zM1500.8,840.7h3.9v1.5h-3.9zM690.5,841.8h1.5v1.3h-1.5zM1317.3,854.3h3.8v1.6h-3.8zM471.9,828.1h2.4v1.8h-2.4zM714.5,840.8h4.8v1.7h-4.8zM896.6,866.1h3.7v1.5h-3.7zM352.5,746.6h4.7v1.4h-4.7zM503.6,840.2h3.1v1.7h-3.1zM902.2,866.6h2.1v1.1h-2.1zM1497.1,851.6h2.7v1.8h-2.7zM536,836.9h4.8v1.7h-4.8zM476.9,853.2h2.4v1.6h-2.4zM587.4,852.4h2.5v1.1h-2.5zM1194.2,855h2.9v1.2h-2.9zM760.5,852.7h2.7v1.6h-2.7zM494.3,839.2h2.7v1.1h-2.7zM424.5,830.6h1.6v1.2h-1.6zM1383.9,854.1h2.2v1.2h-2.2zM1348.2,854.3h4.8v1.1h-4.8zM999.5,837.8h3.5v1.4h-3.5zM834.5,859.3h5v1.3h-5zM1095,849.6h4.9v1.2h-4.9zM469.9,823.5h3.3v1.5h-3.3zM1076.4,836.2h4.4v1.6h-4.4zM276.4,825.7h1.6v1.7h-1.6zM271.4,832.6h3.7v1h-3.7zM1242.3,846.5h1.9v1.7h-1.9zM1032.6,855.2h4.8v1.2h-4.8zM497.5,818.9h2.1v1.7h-2.1zM540.7,821.8h2.9v1.5h-2.9zM1053.3,856.6h3.3v1.5h-3.3zM446,825.8h4.4v1.2h-4.4zM560.6,844.5h4.2v1.4h-4.2zM676.2,836.6h2.2v1.6h-2.2zM1242.2,855.2h3.5v1.5h-3.5zM1522.9,852.5h3.1v1.7h-3.1zM438.4,829.3h2.8v1.3h-2.8zM1553.6,851.1h2.4v1.2h-2.4zM1167.3,844.8h2.3v1.4h-2.3zM639.7,844.4h2.8v1.5h-2.8zM1448.5,853.2h4.8v1.4h-4.8zM1096,857.7h3.9v1.6h-3.9zM1034,828.2h3.2v1h-3.2zM1448.3,845.6h3.7v1.5h-3.7zM323.2,851.2h1.8v1.5h-1.8zM1372.6,840.9h4.3v1.3h-4.3zM310.6,849.3h2.1v1.2h-2.1zM578.1,850.4h3.9v1.5h-3.9zM1331.4,807h2.3v1.8h-2.3zM1260.3,847.1h4.9v1.4h-4.9zM306.5,852.1h2.6v1.6h-2.6zM1000.5,844.9h1.6v1.2h-1.6zM985.6,847h3v1.2h-3zM669.6,841h4v1.2h-4zM1496.2,853.5h2.3v1.4h-2.3zM1307.6,846.6h3.9v1.8h-3.9zM743.5,852.6h2.9v1.5h-2.9zM443.4,863.9h4v1.8h-4zM1471.5,851.4h3.1v1.7h-3.1zM1540.5,851.7h4.8v1.6h-4.8zM460,857.2h1.5v1.3h-1.5zM944.7,836h2.7v1.5h-2.7zM1125.5,851.4h3.6v1.4h-3.6zM1057.6,855h4.7v1.1h-4.7zM1384.4,834.6h1.5v1.6h-1.5zM738,846.8h3.3v1.6h-3.3zM897.4,854.6h2.3v1.1h-2.3zM1132,809.3h1.8v1.7h-1.8zM765.9,841.3h2.4v1.6h-2.4zM832.3,835.6h2.5v1.3h-2.5zM1076.7,858.9h4.9v1.5h-4.9zM1524.3,853.3h4v1.2h-4zM377.1,848.5h3.1v1.4h-3.1zM871.8,863.9h3.9v1.2h-3.9zM644.5,849.7h3.9v1.6h-3.9zM1459.2,823.7h2.3v1.8h-2.3zM940.8,852.6h2.5v1.3h-2.5zM988.9,859.8h4v1.3h-4zM1162.6,838.3h3.7v1.1h-3.7zM996.4,858h4v1.6h-4zM918.3,849.1h2v1.7h-2zM1520.3,817.8h4.3v1.3h-4.3zM1473,845.7h2.3v1.4h-2.3zM1367.6,839.8h4.4v1h-4.4zM1521.1,814.9h3.3v1.7h-3.3zM504.6,850.2h2.1v1.5h-2.1zM1453.6,813.9h1.8v1.6h-1.8zM990.9,859.4h4.6v1.4h-4.6zM324.2,850h3.9v1.7h-3.9zM526.7,839.5h1.8v1.7h-1.8zM282.5,807.7h3.5v1.6h-3.5zM1133.2,851.8h3v1.2h-3zM639.6,872.7h2.4v1.5h-2.4zM981.6,851.8h3.4v1.8h-3.4zM1366.8,853.5h3.4v1.8h-3.4zM615.2,847.5h3.8v1.5h-3.8zM987.7,840.7h2.8v1.7h-2.8zM1001.7,858.2h3.7v1.5h-3.7zM1455.9,841.9h3.3v1.3h-3.3zM819,857.1h3.7v1.7h-3.7zM1034.7,859.1h1.6v1.7h-1.6zM650.8,856.8h4.8v1.8h-4.8zM985.7,822.5h2.9v1.8h-2.9zM1145.7,857.1h4.3v1.1h-4.3zM1556.2,853.5h4.1v1.1h-4.1zM966.7,857.9h4.6v1.2h-4.6zM1198.9,814.7h1.7v1.6h-1.7zM378.2,740h4.5v1.1h-4.5zM1410.7,850.4h2.6v1.8h-2.6zM765.6,853.8h2.7v1.7h-2.7zM1539.5,849.5h3.2v1.5h-3.2zM1353.1,854.3h4.3v1.8h-4.3zM792.9,852.1h4.9v1.3h-4.9zM756,822.8h3.2v1.5h-3.2zM639.4,858.2h2.8v1.6h-2.8zM905.4,828.6h3.4v1.7h-3.4zM838.2,846.5h2.4v1.5h-2.4zM1125.3,857.4h3.4v1.7h-3.4zM530.3,843.3h4.4v1.3h-4.4zM308.6,845.8h3.1v1.7h-3.1zM1126.5,835.4h2.8v1.7h-2.8zM1338.7,854.4h3.8v1.7h-3.8zM1108.7,812.6h2.4v1.5h-2.4zM958.1,859.1h4.2v1.3h-4.2zM1107.9,835.4h4v1.1h-4zM341.3,722.4h3.8v1.1h-3.8zM437.7,859.3h2.1v1.7h-2.1zM558.9,805.2h4v1.4h-4zM1135.8,842h2.5v1.4h-2.5zM355.6,748.9h4.8v1.7h-4.8zM1242.2,855.2h3.7v1.6h-3.7zM825.4,856.6h4v1h-4zM877,864.2h3.1v1.4h-3.1zM812.4,824.5h4.6v1.6h-4.6zM1294.9,849.3h2.4v1.7h-2.4zM420.3,857.5h3.7v1.1h-3.7zM533.5,834h4.5v1.3h-4.5zM955.3,843.6h3.5v1.4h-3.5zM1093.2,841.8h4.3v1.4h-4.3zM1122.6,857.5h2.1v1.6h-2.1zM558.5,843.2h4.6v1.1h-4.6zM1145.5,856.6h3.7v1.7h-3.7zM1328.4,832.1h3.3v1.4h-3.3zM491.8,854.7h4.1v1h-4.1zM1473.2,853.4h4v1.4h-4zM1060.4,838.6h2.5v1.7h-2.5zM1244.4,846.4h3.5v1.3h-3.5zM1520.2,851.1h2.3v1.4h-2.3zM1458.1,814.6h3.5v1.3h-3.5zM1233.8,847.5h4.4v1.7h-4.4zM1176,810.6h3.8v1.8h-3.8zM1111,857.7h3.7v1.6h-3.7zM815.9,857.5h2.7v1.6h-2.7zM537.9,847.8h4.6v1.8h-4.6zM1390.9,829.5h4.1v1.4h-4.1zM1110.9,838.5h2.7v1.2h-2.7zM1165.2,846.7h5v1.3h-5zM804.2,856.3h1.6v1.1h-1.6zM1033.7,815h1.9v1.1h-1.9zM1149.6,856h1.7v1.7h-1.7zM462.2,857.1h4.1v1.6h-4.1zM1503,844.2h2v1.1h-2zM1099.6,851.6h2.4v1.1h-2.4zM721.8,850.7h2.7v1.3h-2.7zM1240.8,851h4.5v1.4h-4.5zM644.7,833.5h3.8v1.7h-3.8zM570.5,803.2h3.7v1.3h-3.7zM593.9,854.5h1.6v1.2h-1.6zM669.7,855.3h2.9v1h-2.9zM456.3,861.8h1.6v1.2h-1.6zM1093.7,858.4h4.6v1.8h-4.6zM1063.4,859.1h2.1v1.4h-2.1zM1476,806.4h4.1v1.7h-4.1zM395.3,756.8h3.2v1.2h-3.2zM997.7,851.8h4.9v1.1h-4.9zM655.9,871.4h2.3v1.3h-2.3zM745.9,809.5h2.6v1.4h-2.6zM484,855.9h2.3v1.5h-2.3zM658,870.6h3.3v1h-3.3zM1383.8,854.1h2.9v1.8h-2.9zM486.7,855.7h3.2v1.5h-3.2zM763.2,853.6h3.9v1.5h-3.9zM717.7,840.8h4.4v1.4h-4.4zM770.3,843.8h3.3v1.1h-3.3zM1435.1,853.8h4.1v1.3h-4.1zM1280.6,848.6h4.4v1.4h-4.4zM588.8,831.3h4.4v1.4h-4.4zM1468.5,837.1h4.8v1.2h-4.8zM1487.1,832.1h4.8v1.3h-4.8zM987.2,824.9h3.9v1.2h-3.9zM643,830.6h3.8v1h-3.8zM603.8,849.8h2.2v1.4h-2.2zM1131.3,857.5h2.4v1.7h-2.4zM322.7,852.1h4.4v1.5h-4.4zM878.1,834.2h2.2v1h-2.2zM1317.9,842.7h2.7v1.5h-2.7zM375,851h3.5v1.7h-3.5zM678.4,856.9h1.8v1.2h-1.8zM1077.8,842.6h3.9v1.7h-3.9zM1149.5,843.1h3.6v1.5h-3.6zM1212.3,809.2h2.1v1.5h-2.1zM430.4,865.3h4.7v1.3h-4.7zM1001.6,859.4h3.3v1h-3.3zM1019.3,816.5h3.9v1.5h-3.9zM985.8,858.6h4.2v1.3h-4.2zM704.2,843.8h4.9v1.6h-4.9zM1140.3,857.2h4.3v1.3h-4.3zM1080.7,851h4.2v1h-4.2zM395.9,761.6h2.2v1.5h-2.2zM420.6,866.9h3.4v1.1h-3.4zM1294.5,853.3h2.6v1.5h-2.6zM1529.2,852.7h2.3v1.3h-2.3zM1275.2,814.8h2v1h-2zM664.5,866.5h4.1v1.5h-4.1zM1234,852.7h3v1.8h-3zM332.4,852.2h1.6v1.7h-1.6zM938,852.8h3.8v1.7h-3.8zM953.5,858.8h1.9v1.3h-1.9zM521.7,810.5h4.2v1.2h-4.2zM929.7,863.5h3.6v1.8h-3.6zM625.6,863.1h3.3v1.8h-3.3zM551.4,834.7h1.8v1.4h-1.8zM1508,836.1h1.6v1.8h-1.6zM966.3,851.3h4.8v1.5h-4.8zM554.7,843.6h4.1v1.3h-4.1zM487.4,853.2h1.9v1.1h-1.9zM426.7,860.3h2.6v1.1h-2.6zM1223,845h4.4v1.1h-4.4zM1070.2,858.3h3.2v1.4h-3.2zM1022.5,851.2h4.7v1.5h-4.7zM723.5,827.7h2.1v1.6h-2.1zM1014.2,858.9h4.1v1.1h-4.1zM316,851.4h3.3v1.5h-3.3zM675.4,849.9h4.9v1.8h-4.9zM1200,854.7h3.2v1.6h-3.2zM1414.5,811.3h2.9v1.3h-2.9zM703.4,828.1h4.9v1.5h-4.9zM841.7,847.1h3v1.5h-3zM512.5,850.9h2.9v1.2h-2.9zM466.1,815.3h3.9v1.3h-3.9zM1549.3,853.5h2.7v1.7h-2.7zM1518.8,829.7h2.2v1.5h-2.2zM361.9,748.9h4.5v1h-4.5zM395.1,762.5h4v1.5h-4zM548.5,844.4h4.8v1.2h-4.8zM357.4,736.5h1.9v1.4h-1.9zM598.9,856h3.8v1.6h-3.8zM675.3,858.5h4.9v1.2h-4.9zM587.7,850.7h2.3v1.2h-2.3zM1462.5,853.6h4.4v1.4h-4.4zM315.5,852.1h3.8v1.4h-3.8zM582.2,850.4h4.7v1.6h-4.7zM1123.9,818.9h2.3v1.3h-2.3zM1351.3,850.7h3.1v1.6h-3.1zM1559.2,819.4h4.2v1.4h-4.2zM1180.9,855.8h2.4v1.2h-2.4zM1149.5,814.9h4.1v1.2h-4.1zM1121.9,856h4.4v1.4h-4.4zM592,853h1.8v1.3h-1.8zM707.7,846.7h3.8v1.7h-3.8zM1324.5,846.1h2.8v1.1h-2.8zM1032.6,859.4h1.7v1.5h-1.7zM481.9,827.1h3.8v1.4h-3.8zM1477.7,853.5h2.6v1.4h-2.6zM1515.3,853.5h3.6v1.7h-3.6zM456.8,845.5h3.9v1.3h-3.9zM960.9,819.8h3.1v1.4h-3.1zM997.9,859.7h4.3v1h-4.3zM1532.6,808.1h4.4v1.7h-4.4zM1064.1,858h3.6v1.5h-3.6zM452.7,840.4h2.6v1.4h-2.6zM613.9,860.5h4.6v1.6h-4.6zM350.8,727.1h4.7v1.6h-4.7zM1163.1,856h3.9v1.3h-3.9zM1460.5,837.4h2.6v1.7h-2.6zM1268.6,854.7h2.3v1h-2.3zM1263.3,855h2.5v1.6h-2.5zM664.4,867h1.7v1h-1.7zM1007.6,859.6h4.9v1h-4.9zM677.5,857.2h4.6v1.6h-4.6zM413.8,867.8h1.8v1.6h-1.8zM1234,843.7h3.2v1.4h-3.2zM1038.3,859.3h4.3v1.6h-4.3zM1148.2,856.6h2.3v1.8h-2.3zM1493.7,833.8h4.2v1.4h-4.2zM1401.4,838.7h3v1.5h-3zM372.7,849.6h4.5v1.4h-4.5zM987.6,852h4.8v1.2h-4.8zM1149.1,853.2h2.3v1h-2.3zM1057.4,858.9h3.5v1.3h-3.5zM793.2,821.5h1.8v1.4h-1.8zM804.7,856.3h2.9v1.7h-2.9zM525.5,834.5h2.4v1.4h-2.4zM980.8,859.9h4.3v1.3h-4.3zM540.6,847.3h4.9v1.8h-4.9zM875.2,863.9h4v1h-4zM1378.1,854.2h1.7v1.3h-1.7zM858.4,862.7h2.5v1.8h-2.5zM1268.2,855h4.6v1.4h-4.6zM1546.2,852.2h2.6v1.5h-2.6zM899.6,865.7h3.3v1.5h-3.3zM673.1,833h4.1v1.6h-4.1zM1121.7,857.3h4v1.1h-4zM453.1,856.9h2.1v1.1h-2.1zM1033.9,813.2h1.7v1.4h-1.7zM386.5,755.6h3.5v1.4h-3.5zM320.4,836.1h3.3v1.5h-3.3zM1131.9,821h3v1.7h-3zM496.8,849.7h2.1v1.3h-2.1zM1435.5,807.7h3.2v1.2h-3.2zM686.3,816.5h3v1.2h-3zM1347.1,848.6h3v1.7h-3zM1232.5,855.3h4.9v1.4h-4.9zM502.1,815.7h3v1.5h-3zM1238.5,855h4.9v1.5h-4.9zM343.5,742.1h1.6v1.8h-1.6zM1129.2,855.3h4.3v1.6h-4.3zM1173.6,855.9h1.8v1.7h-1.8zM1416,852.3h2.9v1.3h-2.9zM627,832.8h3.4v1.6h-3.4zM1050.8,859.2h1.8v1.1h-1.8zM911,855.8h5v1.7h-5zM1223.3,853h2.7v1.6h-2.7zM716,830h4v1.1h-4zM1307,854.6h2.6v1.8h-2.6zM1110.1,827.6h4.7v1.2h-4.7zM1296.4,852.6h1.7v1.1h-1.7zM432.9,853.8h3.7v1.7h-3.7zM650.7,851h2.4v1.3h-2.4zM1116,855.4h5v1.3h-5zM576.3,817.1h4.6v1.1h-4.6zM705.5,845.2h1.7v1.3h-1.7zM1263.6,833.5h2v1.2h-2zM616.2,850.4h2v1.8h-2zM419.7,860.5h4v1.8h-4zM1062.2,828.8h3.4v1.2h-3.4zM813.1,847.2h3.4v1.6h-3.4zM966,857.7h3.3v1.4h-3.3zM282.9,851.7h3.5v1.6h-3.5zM821.5,838.8h3.3v1.3h-3.3zM582.7,827.2h4.7v1.6h-4.7zM554.4,830.6h3.3v1.7h-3.3zM277.8,831.9h3.1v1.7h-3.1zM1051.5,859.2h3.9v1.4h-3.9zM578.6,850.6h2.9v1.4h-2.9zM887,865.9h2v1.5h-2zM974,840.7h3v1.2h-3zM1299.6,854.3h1.7v1.3h-1.7zM852.1,861.6h4.8v1.2h-4.8zM427.3,852.7h2v1.2h-2zM803.8,855.5h3.8v1.1h-3.8zM1101,858.3h3.5v1.8h-3.5zM1285.1,812.9h3.4v1.1h-3.4zM747.6,830.8h2v1.5h-2zM686,814.6h2.7v1.3h-2.7zM621.2,866.6h4.8v1.4h-4.8zM1226.4,849.1h1.8v1.5h-1.8zM1036.7,849.8h2.5v1.2h-2.5zM694.7,851.7h2.1v1.2h-2.1zM930.8,830.9h4v1.4h-4zM1194.5,852.1h1.7v1.5h-1.7zM1179.9,843.3h4.5v1.6h-4.5zM1339.4,854.4h5v1.5h-5zM1034.8,848.9h2.4v1.2h-2.4zM1401.2,844.3h4.9v1.2h-4.9zM1025.2,849.7h1.6v1.5h-1.6zM765.8,850.7h2.1v1.5h-2.1zM1138.7,822.6h4.4v1.8h-4.4zM1528.8,837.5h2.5v1.4h-2.5zM377.7,844.1h2.6v1.4h-2.6zM1237.6,855.2h4.6v1h-4.6zM902,866.2h1.6v1.4h-1.6zM608,858.7h4.4v1.2h-4.4zM1480.3,843.3h2.7v1h-2.7zM1373.5,854.2h4.2v1.4h-4.2zM857.7,862.6h3v1h-3zM1254.5,838.6h2v1.4h-2zM499.7,836.3h2.2v1.1h-2.2zM636.8,827.3h4.4v1.3h-4.4zM1294.8,852.8h2.2v1.7h-2.2zM317.3,828.4h4.9v1.1h-4.9zM1378.4,831.6h1.6v1.4h-1.6zM605.6,855.7h2.8v1.3h-2.8zM282.6,852.4h2.5v1.5h-2.5zM1167.8,836.6h3.7v1.7h-3.7zM987.5,858.6h1.6v1.6h-1.6zM995.4,859.6h3.3v1.8h-3.3zM1051.1,858h4.3v1.3h-4.3zM289.3,852.2h4.9v1.1h-4.9zM1280.6,854.9h3v1.2h-3zM713.8,851.1h2.9v1.6h-2.9zM947,860.2h4.3v1.7h-4.3zM858.5,860.8h1.6v1.1h-1.6zM754.2,853.4h4.9v1.5h-4.9zM673.6,850.6h2.1v1.7h-2.1zM916,851.4h2.1v1.4h-2.1zM1190.8,853.6h1.7v1.4h-1.7zM1333,850.2h4.9v1.4h-4.9zM1408.7,854h3.7v1.4h-3.7zM731.6,816.2h1.8v1.4h-1.8zM665.4,822.5h4.2v1.2h-4.2zM434.8,865h2.1v1.7h-2.1zM1396,829.6h2.9v1.4h-2.9zM1012,834.1h1.5v1.1h-1.5zM1020,859.4h4.8v1h-4.8zM1526,853.2h2.2v1.3h-2.2zM1092.8,811.7h3.2v1.7h-3.2zM1418.7,806.4h2.8v1.4h-2.8zM297.9,849.8h2.7v1.1h-2.7zM1343.9,853.5h2v1.1h-2zM301.5,831.8h3.4v1.4h-3.4zM803.7,811.8h2.8v1.4h-2.8zM1160.1,817.3h4.5v1.7h-4.5zM506.4,810.2h4.4v1.3h-4.4zM1309,811.8h4.1v1.6h-4.1zM1351.7,821.3h4.2v1.1h-4.2zM539.2,847.7h3.1v1.1h-3.1zM980.3,821.1h4.9v1h-4.9zM1150.5,856.9h4.5v1h-4.5zM403.1,761.1h1.5v1.5h-1.5zM535.3,830.5h4.8v1.4h-4.8zM876.5,815.3h2.6v1.7h-2.6zM1190,856h2.5v1.6h-2.5zM328.2,821.6h4.7v1.6h-4.7zM1316.3,845h4.3v1.4h-4.3zM796.8,839.7h3.1v1.2h-3.1zM611.5,856.3h2.8v1.6h-2.8zM1281.5,830.6h4.5v1.3h-4.5zM746.6,824.6h2.1v1.6h-2.1zM946.9,846.6h3.9v1.5h-3.9zM573.2,849.6h4.8v1.7h-4.8zM921.1,854.3h1.8v1.4h-1.8zM1028.5,843.5h2.3v1.1h-2.3zM1509.9,824h2.1v1.7h-2.1zM1317.9,854.4h4.3v1.3h-4.3zM701.1,851.1h3.6v1.5h-3.6zM929.7,868h4.3v1.3h-4.3zM611.2,847.7h2.1v1.7h-2.1zM1106.1,834.7h2.7v1.3h-2.7zM594.3,854h3v1.6h-3zM919,839.6h1.9v1.2h-1.9zM317.3,814.8h1.7v1.4h-1.7zM1138.6,857h4.9v1.8h-4.9zM577.4,850.3h3.8v1.4h-3.8zM1049.5,848.5h4.8v1.6h-4.8zM673.3,840.1h3.1v1.8h-3.1zM885.8,865.8h4.7v1.2h-4.7zM1329.8,844.1h4.1v1.6h-4.1zM1438.1,825.9h3.8v1.3h-3.8zM907,866h2.7v1.4h-2.7zM815.9,856.7h2.6v1.2h-2.6zM517,841.4h1.8v1.2h-1.8zM490.1,838.6h2.5v1.1h-2.5zM1329.5,850.9h4.3v1.3h-4.3zM717,843.5h1.7v1.8h-1.7zM442.1,826.7h3.8v1.6h-3.8zM540.9,813h3.4v1.3h-3.4zM518.6,849.9h4.5v1.8h-4.5zM809.6,839.2h3.9v1.4h-3.9zM889.6,858.5h2.7v1.6h-2.7zM809.2,851.3h2.1v1.8h-2.1zM370.3,834.9h3.8v1.3h-3.8zM1529.8,853.5h2.5v1.3h-2.5zM1098.2,849.1h4v1.7h-4zM294.9,844.3h2.9v1.6h-2.9zM949.7,858.5h1.5v1.2h-1.5zM845.4,859.6h2.8v1.5h-2.8zM702.8,821.3h2.8v1.3h-2.8zM829.1,823.1h3.6v1.8h-3.6zM275.8,810.8h2.2v1.7h-2.2zM326.7,821.7h3.7v1.5h-3.7zM774.6,852.2h2v1.1h-2zM1075.2,857.4h1.6v1.1h-1.6zM489.3,855h3.1v1.7h-3.1zM1020.6,840.4h1.9v1.6h-1.9zM1385.9,805h4v1.5h-4zM1511.1,853.5h4.3v1.6h-4.3zM1206.8,853.7h1.8v1.1h-1.8zM1143.3,856h4.8v1.1h-4.8zM1320.4,849.9h2.5v1.2h-2.5zM725.9,849.8h2.3v1.2h-2.3zM1522.8,850.4h3.7v1.6h-3.7zM698.2,811.1h2.5v1.2h-2.5zM327.4,851.5h1.7v1.5h-1.7zM1012.3,859.6h4.8v1.6h-4.8zM979.8,818.2h3.4v1.1h-3.4zM1275.8,811.7h1.7v1.4h-1.7zM562.1,811.2h1.8v1.6h-1.8zM535.9,835.8h3.9v1.6h-3.9zM338.4,744h1.9v1.1h-1.9zM478.8,857.2h4.8v1.4h-4.8zM597.3,850.6h1.7v1.2h-1.7zM1078.9,843.3h3.7v1.8h-3.7zM1533.7,825.6h3.1v1.6h-3.1zM591.4,822.4h2.4v1.8h-2.4zM287.6,828.4h3.3v1.7h-3.3zM942.2,832.4h4v1.5h-4zM1497.3,853.5h4.7v1.4h-4.7zM1182.6,842.4h2.9v1.4h-2.9zM1524.8,848.5h4.7v1h-4.7zM1010.8,844.4h2.9v1.1h-2.9zM1291.8,834.6h2.8v1.1h-2.8zM1352.9,832.1h4.4v1.7h-4.4zM609.4,848.1h3.1v1.3h-3.1zM799.4,841.9h5v1.4h-5zM742.9,841.5h3.7v1.3h-3.7zM1103.3,845.2h4.1v1.1h-4.1zM1111.8,855h4.6v1.5h-4.6zM1316.2,829.1h2.2v1.1h-2.2zM1249.8,855.1h4.8v1.6h-4.8zM816.1,843.8h2v1.5h-2zM1456.9,853.7h4.8v1.2h-4.8zM782,814.1h4.3v1.3h-4.3zM1533.7,853.5h3.8v1.4h-3.8zM1414.8,853.9h2.6v1.4h-2.6zM364.5,736.6h4.5v1.7h-4.5zM455.9,856.2h4.9v1.1h-4.9zM1179.3,855.4h4.7v1.5h-4.7zM1426.2,853.9h3.6v1.3h-3.6zM409.2,865.5h4.1v1.5h-4.1zM1036.1,858.5h3.3v1.4h-3.3zM1443.9,820.8h3v1.4h-3zM647.5,864h2v1.8h-2zM804.6,856.4h2.5v1.8h-2.5zM670.2,859.2h4.9v1.6h-4.9zM735.1,852.2h2.9v1.3h-2.9zM1424.1,847h4.7v1.8h-4.7zM1391.8,851.3h2.9v1.4h-2.9zM1146.3,827.5h4.4v1.3h-4.4zM1219.4,853.2h4.2v1h-4.2zM1364.9,838.4h2v1.2h-2zM671.5,854.9h4.7v1.8h-4.7zM1047.7,859.2h4.9v1.8h-4.9zM383.7,748.9h3.8v1.5h-3.8zM1205.4,855.6h2.6v1.3h-2.6zM1107.6,858.1h2.5v1.1h-2.5zM331.1,847.6h2.2v1.4h-2.2zM536,824.2h1.9v1.6h-1.9zM1118.2,857.7h2.8v1.3h-2.8zM856.7,848.3h1.6v1.1h-1.6zM1171.1,856.5h4.5v1.3h-4.5zM316.8,830.7h2.4v1.8h-2.4zM1460.2,819.8h4.6v1.1h-4.6zM304.4,849.5h3v1.3h-3zM1039.9,836.4h4.3v1.7h-4.3zM1142.7,824.3h1.8v1h-1.8zM852.4,828.4h2.8v1.1h-2.8zM432.9,864.8h4.5v1.3h-4.5zM1378.4,812.8h4.2v1.7h-4.2zM599.2,855.8h2.3v1h-2.3zM1470.7,853.3h3.7v1.2h-3.7zM966.6,856.6h4v1.2h-4zM642.4,872.4h2.6v1.7h-2.6zM1513,853.5h4.5v1.6h-4.5zM372.2,852h4.5v1.2h-4.5zM1441.4,846.8h4.9v1.4h-4.9zM439.1,854.4h3.1v1.1h-3.1zM1325.9,818.9h4.9v1.5h-4.9zM1022.3,859.2h4.9v1.6h-4.9zM1132.4,841.9h4.4v1.3h-4.4zM414.2,819.1h1.6v1.2h-1.6zM904.6,866.7h2.6v1.7h-2.6zM1076.8,850h1.6v1.3h-1.6zM427.3,863.6h2.9v1.3h-2.9zM677.6,834.6h3.1v1.7h-3.1zM713.9,851h2.7v1.7h-2.7zM733,825.7h3.9v1.2h-3.9zM516.8,850.3h3.1v1.6h-3.1zM649.3,829h1.5v1.6h-1.5zM489.3,805.5h1.8v1.7h-1.8zM787.9,854.4h1.6v1.2h-1.6zM764.4,813.6h4.9v1.1h-4.9zM994.9,859.8h1.9v1.5h-1.9zM949.6,824.5h4.7v1.1h-4.7zM1087.7,833.6h4.2v1.5h-4.2zM930.8,859.7h2.9v1.5h-2.9zM1420.2,852.2h3v1.4h-3zM1387.8,853.6h3v1.6h-3zM776,824.3h3.4v1.1h-3.4zM743.1,852.7h3v1.3h-3zM707.8,823.4h4.6v1.6h-4.6zM1258.3,820.3h4.7v1.1h-4.7zM1427.7,853.7h2.5v1.6h-2.5zM454.5,817.6h4.8v1h-4.8zM1090.9,819.6h3.4v1.4h-3.4zM1027,851.9h3.5v1.5h-3.5zM1503.5,853.5h2.3v1h-2.3zM356.2,748.6h4.7v1.3h-4.7zM1045.5,858.1h5v1.2h-5zM779.4,852.8h2.2v1.1h-2.2zM774.3,854.3h1.6v1.7h-1.6zM712.6,851.1h3.7v1.4h-3.7zM1159.7,854.9h2v1.5h-2zM783.9,822.3h2.6v1.2h-2.6zM509.9,850.7h2.3v1.4h-2.3zM750.1,807.9h2.2v1.8h-2.2zM703.2,846.3h4.9v1.6h-4.9zM1491.3,846.6h2.6v1.5h-2.6zM1153.8,856.9h1.9v1.8h-1.9zM1200,828.9h2.2v1.8h-2.2zM658.2,871.4h2.8v1.3h-2.8zM345.1,719.6h4.5v1.2h-4.5zM980.6,827.8h2.8v1.4h-2.8zM584.8,847.5h2.6v1.7h-2.6zM475.3,858h4.7v1.1h-4.7zM978.5,843.3h2.6v1.7h-2.6zM705.9,850.7h1.7v1.7h-1.7zM548.7,811.9h3.1v1.7h-3.1zM382.1,732.2h4.9v1.6h-4.9zM442.4,814.5h4.3v1.2h-4.3zM1521.9,853.5h2v1h-2zM1034.1,856.6h1.8v1.4h-1.8zM1406.5,854h3.7v1.1h-3.7zM928.9,866.3h2.5v1h-2.5zM1016.2,855.9h3.9v1.1h-3.9zM1538.9,853.5h2.2v1.5h-2.2zM442.9,863.3h3.3v1.6h-3.3zM1385.2,852.9h3.8v1h-3.8zM1418.9,839.9h4.7v1.2h-4.7zM910.7,847.7h1.6v1.7h-1.6zM1183,832.8h2.1v1.6h-2.1zM1001.4,859.6h2v1.7h-2zM784.1,854.4h2.8v1.5h-2.8zM445.9,863.5h3.8v1.7h-3.8zM1136.7,815.7h2.5v1.3h-2.5zM750.8,851.4h2.4v1.6h-2.4zM635.5,869.9h3.2v1.8h-3.2zM695,836.3h2.6v1.6h-2.6zM770.1,854.3h3.3v1.3h-3.3zM611.5,858.8h1.5v1.6h-1.5zM976.5,848.2h3.5v1.3h-3.5zM861.8,858.4h4.7v1.3h-4.7zM466.6,859.7h2.7v1.5h-2.7zM1021.4,841.4h3.8v1.1h-3.8zM772.7,852.4h1.9v1.5h-1.9zM1269.3,855h3.4v1.1h-3.4zM1271.5,847.2h1.7v1.4h-1.7zM580.8,850.8h3.8v1.3h-3.8zM1467.4,815.8h4.5v1.3h-4.5zM1437.1,853.8h4.2v1.3h-4.2zM1386.7,854.1h3.5v1.1h-3.5zM650.1,864h2v1.6h-2zM931.5,867.7h3.4v1.4h-3.4zM313.4,835.5h4v1.7h-4zM1484.6,851.5h3.8v1.5h-3.8zM337.6,731.1h2.5v1.3h-2.5zM1070.6,853.4h2.5v1.7h-2.5zM391,752.6h2.1v1.7h-2.1zM1478,836.6h4.6v1.6h-4.6zM1113.8,838.3h4.7v1.2h-4.7zM1210.8,855.3h3.1v1.3h-3.1zM1087.6,846.7h4.7v1.7h-4.7zM354,748.7h1.7v1.6h-1.7zM716.7,805.2h2.3v1.8h-2.3zM1245.9,834.2h3.6v1.7h-3.6zM572.3,817.5h4.6v1.5h-4.6zM1123.1,857.3h3.2v1.5h-3.2zM677.8,857.2h4.8v1.6h-4.8zM741.1,846h3.6v1.8h-3.6zM990.4,842.1h4.3v1.1h-4.3zM1020.6,819.9h4.4v1.7h-4.4zM479.4,834.9h2.5v1.7h-2.5zM1281.7,852.7h3.5v1.4h-3.5zM1484.4,846h1.8v1.4h-1.8zM294.8,852.1h3.2v1.4h-3.2zM359,747.3h2.5v1.2h-2.5zM841.5,860.7h1.6v1.2h-1.6zM1194.1,815.3h4.1v1.1h-4.1zM1334.1,828h4.5v1.6h-4.5zM606.7,853.1h3v1h-3zM967.3,859.3h4.8v1.5h-4.8zM1314.6,854.6h4v1.6h-4zM865.4,862.9h3.2v1.4h-3.2zM829.7,858h3.8v1.7h-3.8zM616.3,831.8h1.7v1.6h-1.7zM714.3,844.8h2.7v1.1h-2.7zM484.3,808.3h3v1.8h-3zM940.4,824.8h3.1v1.8h-3.1zM886,865.2h2.1v1.1h-2.1zM411.9,853.3h2.8v1.7h-2.8zM525.3,808.9h2.2v1.2h-2.2zM708.4,850.1h3v1.6h-3zM361.9,748.4h1.7v1.6h-1.7zM424.4,860.6h4.5v1.3h-4.5zM419.2,866.3h4.8v1.1h-4.8zM1384.5,854.1h2.1v1.6h-2.1zM1095,857.2h4v1.1h-4zM1406.8,845.4h4.8v1.5h-4.8zM1007.7,829h3.5v1.1h-3.5zM1059.3,858.1h3.7v1.8h-3.7zM1056.9,831.2h2.7v1h-2.7zM330.4,852.2h2.3v1.2h-2.3zM684.7,840.4h4.1v1.6h-4.1zM1240,824.9h4v1.4h-4zM803,856.2h1.5v1.7h-1.5zM461.8,829.4h2.9v1h-2.9zM1339.4,837.4h5v1.4h-5zM1469.8,848h2.4v1.3h-2.4zM1121.3,823.4h4.4v1.7h-4.4zM962.8,855.9h3.3v1.7h-3.3zM742.4,852.8h2.9v1.5h-2.9zM1344.4,812.9h3.9v1.7h-3.9zM1318,829.2h3.6v1.8h-3.6zM1420,853.9h1.9v1.8h-1.9zM1129.6,857.5h4.7v1.1h-4.7zM963.7,857.7h2.5v1.2h-2.5zM381.9,760.3h1.9v1.5h-1.9zM684.7,831.9h4.8v1.7h-4.8zM1224,832.7h1.8v1.8h-1.8zM1013.2,852.5h3.9v1.1h-3.9zM876.3,864.7h4.7v1.4h-4.7zM440.9,818.9h3.5v1.6h-3.5zM1306.1,839h3.1v1.2h-3.1zM336.5,737.9h1.9v1.3h-1.9zM1417.6,817.7h4.4v1.2h-4.4zM1484.6,853.4h4.7v1.6h-4.7zM1522.3,806h3.3v1.2h-3.3zM1454.6,852.5h2.7v1.5h-2.7zM452.9,858.5h2v1.4h-2zM1440.4,815.5h4.9v1.6h-4.9zM1233,852h4.6v1.1h-4.6zM484.8,856.1h2.9v1h-2.9zM1177.8,856.1h3.9v1.5h-3.9zM1162.4,840.6h4.3v1.4h-4.3zM1006,859.1h3.3v1.1h-3.3zM1501.4,814h1.8v1h-1.8zM779.6,848.5h3.2v1.3h-3.2zM1072.9,856.3h2.9v1h-2.9zM1035.4,859.4h4.5v1.4h-4.5zM727.4,838.6h4.6v1.1h-4.6zM787.7,809.5h4.5v1.3h-4.5zM737.3,826.4h1.8v1.1h-1.8zM1006.7,851.5h3.5v1.6h-3.5zM1406.9,851.3h2.6v1.7h-2.6zM585.8,819.5h4v1.7h-4zM1091.9,858.5h4v1.4h-4zM507,851.8h2.4v1.1h-2.4zM445,834.7h4.8v1.8h-4.8zM991.6,851.7h1.7v1.1h-1.7zM1263.8,846.7h3.5v1.6h-3.5zM1319.1,837.8h1.5v1.4h-1.5zM1347.8,827.9h4.8v1.4h-4.8zM943.7,860.3h3.3v1.5h-3.3zM1454.1,819.9h1.7v1.1h-1.7zM763.3,831.4h2.1v1.6h-2.1zM1034.7,826.5h2.7v1.3h-2.7zM347.7,742.8h4.2v1.4h-4.2zM942.7,822.6h4.2v1.3h-4.2zM1488.7,835.7h2.6v1.2h-2.6zM1141.6,851.6h3.6v1.1h-3.6zM1257.8,824.1h3v1.2h-3zM1527.6,807.4h1.9v1.4h-1.9zM833.6,858.9h3.3v1.5h-3.3zM742.9,851.6h4.5v1.5h-4.5zM664,868.4h2.8v1.8h-2.8zM1341.6,854.1h3.6v1h-3.6zM1440.2,812.5h2.3v1.3h-2.3zM658.4,871.2h3.9v1.3h-3.9zM276.5,853.6h3.8v1.6h-3.8zM291.4,844.8h3.7v1.5h-3.7zM1110.3,835.5h2.7v1.7h-2.7zM839.7,860.5h3.8v1.3h-3.8zM1089.4,856.5h3.2v1.4h-3.2zM1183.4,855.2h3.8v1.2h-3.8zM1290.5,854.3h1.8v1h-1.8zM1042.2,858h3.5v1.2h-3.5zM837,828.1h4.7v1h-4.7zM1493.2,847.9h4.1v1.7h-4.1zM513,848.6h4.6v1.4h-4.6zM1427.7,825.5h5v1.5h-5zM356.5,712.9h2.1v1.1h-2.1zM746,852.6h2v1.5h-2zM1443.9,853.1h2.8v1.5h-2.8zM657,866.3h4.7v1.1h-4.7zM959.8,859.8h4.2v1.2h-4.2zM1315.9,851.9h4.8v1.3h-4.8zM906,866.8h2.5v1.3h-2.5zM1421.7,844.8h4.3v1.7h-4.3zM386.3,761.3h4.4v1.6h-4.4zM997.6,857h3.2v1h-3.2zM435.9,863.1h2v1.2h-2zM1310.4,833.1h4.1v1.5h-4.1zM1459.1,853.2h3.7v1.3h-3.7zM1485.1,851.9h2.3v1.6h-2.3zM1315.2,837.2h4.2v1.2h-4.2zM1050.4,852.4h4.7v1.3h-4.7zM586.9,851.3h3.3v1.8h-3.3zM1170.3,839h3.1v1.3h-3.1zM1471.6,849.7h1.9v1.6h-1.9zM530.3,845.9h3.6v1.7h-3.6zM278.8,840.9h2v1.5h-2zM1050.3,853.2h3v1.4h-3zM1504.7,851.8h3.1v1.1h-3.1zM771.2,854.4h4.7v1.3h-4.7zM1479.6,853.5h3.8v1.5h-3.8zM1122.9,833.7h1.8v1.6h-1.8zM303.6,851.1h4.5v1.5h-4.5zM1470.9,822.5h3v1.2h-3zM532.8,848h4v1.6h-4zM331.5,847h4.4v1.5h-4.4zM807.4,814.4h3v1.2h-3zM911.4,865.4h2.9v1.4h-2.9zM370,842.2h3.5v1.6h-3.5zM583.4,851.6h4v1.3h-4zM1040.9,858.6h2.7v1.2h-2.7zM905.5,854.3h2.3v1.3h-2.3zM866.5,847.9h2.8v1h-2.8zM939.4,864h5v1.5h-5zM329.6,840h1.8v1.3h-1.8zM315.3,842.4h2.1v1.8h-2.1zM519.5,804.9h4.7v1.4h-4.7zM868.8,861.4h4.1v1.2h-4.1zM727.3,851.9h3v1.2h-3zM1456.2,849.8h2.3v1.2h-2.3zM499.9,853.1h1.7v1.6h-1.7zM405.3,733.7h4.9v1.7h-4.9zM497.8,829.7h3.6v1.8h-3.6zM648.2,862.1h3.7v1.2h-3.7zM1044.3,841.4h4.3v1.7h-4.3zM304.3,831.5h2.6v1.6h-2.6zM465.1,857.9h2.9v1.6h-2.9zM1064.4,833.2h1.5v1.2h-1.5zM1219.3,854.9h4.5v1.2h-4.5zM1130.4,857.5h4.7v1.1h-4.7zM800.4,853.6h2.6v1.4h-2.6zM946.7,836.3h4.9v1.6h-4.9zM1203.1,855.4h2.2v1h-2.2zM389.9,739.7h1.7v1.2h-1.7zM764.5,853.9h2.7v1.2h-2.7zM797.8,855.7h1.6v1.7h-1.6zM1228.1,833.6h2.4v1.8h-2.4zM1344.9,851.5h2.5v1.6h-2.5zM296.9,843.8h4.5v1.7h-4.5zM1462.6,850.3h1.6v1.3h-1.6zM618.7,860.8h4v1.8h-4zM681.8,853h1.8v1.7h-1.8zM913.3,866.7h3.3v1.4h-3.3zM1324.4,854.1h3.3v1.4h-3.3zM399.4,762.4h2.3v1.3h-2.3zM986.6,840.3h4.7v1.1h-4.7zM1525.9,850.6h4.2v1.3h-4.2zM1211.9,840.5h1.6v1.7h-1.6zM326.4,847h2.3v1.5h-2.3zM504.9,841.9h4.2v1.5h-4.2zM1350.6,852h3.8v1.4h-3.8zM1450.9,853.7h4.5v1h-4.5zM1373.6,854.2h3.9v1.1h-3.9zM1276.7,854.5h1.7v1.7h-1.7zM1013.7,830.2h4.3v1.1h-4.3zM394.2,745.4h4.5v1.1h-4.5zM1414.1,853.9h4.2v1.5h-4.2zM766.8,851.8h2.6v1.4h-2.6zM915.4,867.1h1.5v1.4h-1.5zM515.8,850.5h2.4v1.1h-2.4zM1386.2,853.2h3.8v1h-3.8zM1123,814.7h4.1v1.6h-4.1zM809,852.2h4.7v1.2h-4.7zM922.1,849.4h2.7v1.4h-2.7zM315.7,837.5h2.1v1.2h-2.1zM560.1,829.7h2.9v1.8h-2.9zM1301.1,815.9h3.9v1.2h-3.9zM687.7,850.1h2.2v1.4h-2.2zM1290.5,848.6h2.1v1.6h-2.1zM1515,848.9h2v1.6h-2zM965.4,834.8h3.6v1.7h-3.6zM288.5,839.7h3.6v1.6h-3.6zM552.1,838.1h2.4v1.6h-2.4zM372.8,852h4.8v1.6h-4.8zM595.2,853.7h3v1.2h-3zM450.9,817.6h2.2v1.6h-2.2zM1196.5,837.1h2.6v1.2h-2.6zM1065.4,809.8h2.9v1.2h-2.9zM925.5,867.5h2.7v1.6h-2.7zM582.8,847.7h3.8v1.1h-3.8zM456.3,817.2h4.5v1.7h-4.5zM1008.4,854h1.9v1.2h-1.9zM415,861h3v1.1h-3zM397.5,754h2v1h-2zM561,822.4h3.8v1.4h-3.8zM560.7,842.7h1.5v1.3h-1.5zM888.4,865.9h3.5v1.4h-3.5zM339.8,748.8h3.2v1.7h-3.2zM343.4,741h2.5v1.3h-2.5zM1459.9,842.3h2.5v1.4h-2.5zM1535.9,821.8h3v1.4h-3zM861.3,862.9h4.9v1.2h-4.9zM552.7,847h4.8v1.7h-4.8zM1091.8,852.1h3.5v1.3h-3.5zM1417.9,846.2h4.5v1.6h-4.5zM1145.8,843.2h4.2v1.7h-4.2zM1151.3,855.7h2.4v1.2h-2.4zM1374.2,849.2h1.5v1.5h-1.5zM1384,816h4.8v1.7h-4.8zM498,847.5h4v1.5h-4zM732.6,852.2h4.6v1.6h-4.6zM1387.2,851.7h2.4v1.7h-2.4zM1114.4,844.3h1.6v1.1h-1.6zM1262.5,821.4h2.7v1.7h-2.7zM501.2,844.1h2.7v1.4h-2.7zM523.8,847h3.1v1.5h-3.1zM534.4,837.9h2.2v1.8h-2.2zM581.3,851.2h2.4v1.5h-2.4zM845.6,848h1.9v1.3h-1.9zM987.3,813.8h4.6v1.5h-4.6zM657.5,871.5h3.7v1.5h-3.7zM881.8,847.9h3.1v1.6h-3.1zM642.2,871.1h4.7v1.5h-4.7zM1501.9,853.5h4.7v1h-4.7zM1234.6,846.5h1.9v1.2h-1.9zM888.9,858.2h3.2v1h-3.2zM1553,851.8h4v1.7h-4zM1526.8,853.3h4.6v1.4h-4.6zM1115.2,857.4h2v1.5h-2zM1435.1,850.7h4.8v1.6h-4.8zM294.2,812h1.9v1.2h-1.9zM996.1,818.8h2v1.2h-2zM328.8,852.2h3v1.5h-3zM929.3,868h3v1.4h-3zM1476.3,852.2h3.7v1.4h-3.7zM1274,845h5v1.5h-5zM710.8,847.8h4.5v1.3h-4.5zM1465.5,850h4.8v1.1h-4.8zM1281.4,851.1h2.3v1.5h-2.3zM346.8,748.6h4.5v1.4h-4.5zM706.3,850.8h2.1v1.2h-2.1zM864.2,863.3h2.2v1.3h-2.2zM1408.6,822.5h4.8v1.2h-4.8zM430.3,836h3.9v1.2h-3.9zM828.9,820.3h4.4v1.7h-4.4zM907.1,866.6h3.4v1.1h-3.4zM421,866.8h2.4v1.1h-2.4zM602.5,841.5h3.9v1h-3.9zM1378.1,827.7h4.8v1.2h-4.8zM1211.9,847.7h4v1.7h-4zM374.7,823.4h4.5v1.5h-4.5zM788,848.4h2v1.6h-2zM981.1,851.4h4v1.1h-4zM331.1,852.1h1.8v1.6h-1.8zM440.8,862.1h3.8v1.2h-3.8zM1446.1,816.3h2.9v1.5h-2.9zM1283.6,807.7h3.9v1.4h-3.9zM325.9,840.1h3.8v1.6h-3.8zM719,820.4h3.6v1.3h-3.6zM583.7,851.7h4v1.3h-4zM1371.6,852.9h2.6v1.6h-2.6zM760.3,806h3.5v1.7h-3.5zM427,866.1h1.5v1.7h-1.5zM885.1,847.2h3.3v1.8h-3.3zM1314.8,849.9h2.1v1.3h-2.1zM773.9,852.7h4v1.7h-4zM1340.6,854.1h2.1v1.5h-2.1zM1215.8,832.5h4.7v1.3h-4.7zM357.6,746.8h2.6v1.1h-2.6zM1146.5,851.3h3.7v1.7h-3.7zM1012.8,825.5h4.3v1.4h-4.3zM1068.9,854.6h2.9v1.6h-2.9zM1045.4,857.2h3.8v1.4h-3.8zM413.5,848.3h3.2v1.7h-3.2zM1429.8,853.8h2.4v1.6h-2.4zM528.4,821.7h3.9v1.8h-3.9zM723.2,836.5h3.6v1.5h-3.6zM1493.2,851.8h2.3v1.6h-2.3zM465,852.7h4.7v1.7h-4.7zM1161.9,856.7h4.9v1.4h-4.9zM645.4,872.3h2v1h-2zM992.3,857.5h2.5v1.7h-2.5zM373.2,849h4.3v1.7h-4.3zM1184.8,849.8h2.1v1.3h-2.1zM1210.5,832.8h3.6v1.7h-3.6zM998.3,830.3h4.7v1.1h-4.7zM458,813.4h2.5v1.4h-2.5zM816.5,828.2h1.5v1.4h-1.5zM865.6,863.5h3.1v1.7h-3.1zM336.4,748.3h3.6v1.4h-3.6zM1250.2,853.5h1.9v1.3h-1.9zM1341.2,850.9h2.9v1.6h-2.9zM1025.2,859.4h2.8v1.7h-2.8zM307.8,831.2h2.6v1.6h-2.6zM482.2,843.7h4.5v1.1h-4.5zM1504.9,853.5h1.5v1.7h-1.5zM931.4,868.1h3.8v1.4h-3.8zM1553.4,807.3h4.6v1.4h-4.6zM1326.1,835.7h2.5v1.6h-2.5zM651.5,868.8h1.8v1.1h-1.8zM916.7,839h4.3v1.1h-4.3zM969.9,858.9h2.2v1.3h-2.2zM1147.1,818.1h1.8v1.2h-1.8zM1235.1,849.9h2.9v1.6h-2.9zM293.3,810.3h2.5v1.7h-2.5zM1346.9,826h3.7v1.5h-3.7zM332.1,848.9h3.7v1.2h-3.7zM1148.8,849.6h3.8v1.7h-3.8zM701.3,840.2h1.7v1.6h-1.7zM1321.6,839.4h3.9v1.4h-3.9zM689.6,827.8h2v1.5h-2zM409.1,848.9h3.3v1.5h-3.3zM489.8,852.1h3.8v1.4h-3.8zM1203.3,855.6h2.8v1.1h-2.8zM1223.1,852.8h4.1v1.6h-4.1zM318.7,841.3h4.3v1.7h-4.3zM384.3,762.5h3.1v1.6h-3.1zM414,818.2h4v1h-4zM1229.6,851.9h2.1v1.5h-2.1zM1192.5,845h2.4v1.1h-2.4zM347.3,748.7h2.8v1.3h-2.8zM360.1,719.8h2.2v1.1h-2.2zM539.3,844.1h3.7v1.1h-3.7zM465,860.1h2.9v1.8h-2.9zM1277.8,824.9h4.7v1.2h-4.7zM1105,855.2h2.8v1.6h-2.8zM995,848.8h2.4v1.8h-2.4zM1116.2,846.5h4.2v1.7h-4.2zM496.7,853h4.9v1.5h-4.9zM1416.1,852.5h5v1.3h-5zM1308,817.5h3.3v1.3h-3.3zM912.3,867.1h1.8v1.8h-1.8zM1111.4,858h3.6v1.2h-3.6zM1353.5,852.4h1.6v1.5h-1.6zM1552.8,834.7h4.9v1.1h-4.9zM646.2,850.1h3.1v1.1h-3.1zM712.2,850.1h4v1.6h-4zM1218.9,841.6h4.1v1.7h-4.1zM610.4,858.6h4.9v1.7h-4.9zM1127.3,833.8h3.8v1.2h-3.8zM999.3,859.2h1.8v1.3h-1.8zM1313,854.5h1.7v1.2h-1.7zM1281.9,821.3h2.5v1.8h-2.5zM886.3,850.8h3.8v1.4h-3.8zM1355.2,819h3.2v1.2h-3.2zM1478.5,837.6h2.8v1.1h-2.8zM779,851.1h4.3v1.6h-4.3zM928.3,831.2h3.5v1.7h-3.5zM353.2,748.9h4.5v1.6h-4.5zM604.3,857.6h1.8v1.3h-1.8zM1412.5,853.7h2.4v1.7h-2.4zM508.6,851.1h4.1v1.7h-4.1zM1485.4,853.5h2.7v1.5h-2.7zM698.1,832.3h2.3v1.5h-2.3zM479.1,857.1h4.3v1.5h-4.3zM1002.3,857.5h3.9v1.8h-3.9zM753.7,853.4h2.4v1.6h-2.4zM653.8,851.5h2.2v1.5h-2.2zM741.7,846h2.8v1.5h-2.8zM1223.5,839.3h3v1h-3zM1337,854.4h2.8v1.6h-2.8zM1533.6,835.5h1.9v1.8h-1.9zM331.1,852.2h4.1v1.7h-4.1zM1096,825.8h3.8v1.1h-3.8zM1068.9,837.7h3.2v1.6h-3.2zM873.7,864.4h4.5v1.2h-4.5zM534.1,847.9h2.7v1.3h-2.7zM526.1,848.8h3.1v1h-3.1zM904.5,866.7h2v1.1h-2zM1362.2,828.2h4.9v1.6h-4.9zM922.7,865.1h3.5v1.5h-3.5zM1545.2,852h4.7v1.8h-4.7zM1501.4,842.4h3.7v1.8h-3.7zM804,834.1h1.8v1.2h-1.8zM919.9,848.7h2.1v1.7h-2.1zM1011.4,859.5h1.6v1.3h-1.6zM1330.3,808.1h4.2v1.2h-4.2zM1427.4,853.7h2.9v1.5h-2.9zM706.1,849.5h3v1.7h-3zM874,864.5h2.7v1.5h-2.7zM967.7,816.8h3.3v1.6h-3.3zM1237.8,850.9h3v1.4h-3zM424.1,866.4h1.9v1.1h-1.9zM375.9,849.6h2v1.8h-2zM794.3,855.7h3.8v1.6h-3.8zM1492.9,853h2.6v1.6h-2.6zM1077.2,847.8h4.8v1.8h-4.8zM281,850.9h4.8v1h-4.8zM707.2,829.7h1.8v1.5h-1.8zM1457,847h1.5v1.1h-1.5zM797.8,855.9h3.8v1.2h-3.8zM712,828.1h4.1v1.6h-4.1zM514.9,849h3.7v1.4h-3.7zM1310.5,851.7h4.7v1.2h-4.7zM1113.8,833.5h5v1.3h-5zM1410.5,844.1h3.7v1.2h-3.7zM1403.7,854h5v1.5h-5zM1020.7,859.3h3.9v1.1h-3.9zM1347.2,834.7h2.1v1.6h-2.1zM1086.7,857.7h3.8v1.6h-3.8zM914.7,851.7h4.3v1.7h-4.3zM1341.5,854.4h4.5v1.8h-4.5zM893,829.7h2.3v1h-2.3zM845.9,861.1h2v1.4h-2zM1526.4,847.4h5v1.4h-5zM867.5,863.7h1.8v1.7h-1.8zM1156.7,848.9h4.6v1.5h-4.6zM633.9,841.5h4.1v1.1h-4.1zM1342.6,852.4h4.5v1.7h-4.5zM1440.9,853.7h4.1v1.3h-4.1zM1376.4,854.1h4.6v1.8h-4.6zM936.5,861h3.6v1.7h-3.6zM383.6,732.5h2.7v1.3h-2.7zM1396.2,854h2v1.5h-2zM1211.2,855h3.9v1.3h-3.9zM305.5,851.5h2.1v1.4h-2.1zM854.6,859.9h4.7v1.3h-4.7zM516.8,808.3h3.7v1.8h-3.7zM852.4,851.9h2.6v1.8h-2.6zM626.1,833.8h2.7v1.6h-2.7zM1104.8,835.8h2.2v1.8h-2.2zM910.9,867h3.9v1.1h-3.9zM1106,840.9h2.2v1.1h-2.2zM443.8,850.8h4.1v1.7h-4.1zM689.2,852h3.7v1.7h-3.7zM1206.5,850.5h2.4v1.6h-2.4zM1374.7,853.8h4v1.6h-4zM1555.8,851.4h2.9v1h-2.9zM476.3,838.4h2.5v1.7h-2.5zM681.2,831.1h2.8v1.6h-2.8zM835.5,859.6h2.2v1.2h-2.2zM423.5,834.8h4.7v1.6h-4.7zM276.1,820.5h4.3v1.7h-4.3zM1084.3,858.4h2.5v1.3h-2.5zM508.2,851.6h4.8v1.3h-4.8zM1054.6,859.1h4.5v1.6h-4.5zM322.1,851.9h4.1v1h-4.1zM300.4,852.1h2v1.6h-2zM1279.2,846.5h2.6v1.6h-2.6zM1088.1,858.6h2.2v1.6h-2.2zM1000.3,857.2h3.4v1.2h-3.4zM1026.1,859.4h5v1.7h-5zM911.3,820.5h3.9v1.5h-3.9zM1104.2,842.1h5v1.6h-5zM576.3,850.2h4.7v1.6h-4.7zM1021.7,854.4h4.8v1h-4.8zM470.3,857.8h5v1.6h-5zM1045,857.7h2.1v1h-2.1zM453.1,862.3h3.3v1.3h-3.3zM1531.7,815.1h3.4v1.1h-3.4zM679.4,856.3h3.8v1.3h-3.8zM1465.3,852.4h4.5v1.3h-4.5zM1113,856.2h4.3v1.2h-4.3zM476.4,857.8h2.8v1.6h-2.8zM866.7,834.7h3.6v1.4h-3.6zM913.4,867.2h3.6v1.2h-3.6zM376.5,852.1h2.1v1.5h-2.1zM639.2,871.7h2.9v1.8h-2.9zM602.5,856h2.4v1.3h-2.4zM654.2,844.1h4.9v1.3h-4.9zM1389.3,854.1h3.2v1.7h-3.2zM386.4,712.7h2.9v1.4h-2.9zM1490.1,815.3h2.2v1.4h-2.2zM1218.2,851.2h4.8v1.2h-4.8zM1528.4,842.6h3.6v1.5h-3.6zM611.7,856.1h2.3v1.6h-2.3zM697.1,851.4h4.6v1.3h-4.6zM1495.8,849.8h3.8v1.6h-3.8zM935.4,826.7h4.3v1.7h-4.3zM955.9,860.1h2.1v1.1h-2.1zM959.2,817.6h3.4v1.3h-3.4zM415.3,865.4h2.1v1.4h-2.1zM861.8,822.8h2.9v1.7h-2.9zM324.1,850.5h4v1.4h-4zM371.9,850.3h3.4v1.8h-3.4zM576.1,850.2h4.2v1.5h-4.2zM720.9,849.1h2.6v1.5h-2.6zM1386.8,853.1h4.7v1.3h-4.7zM903.8,866.1h1.8v1.2h-1.8zM593.6,850.9h3.2v1.7h-3.2zM733.8,831h2.4v1.4h-2.4zM368.8,817.5h2.7v1.5h-2.7zM994.9,854.7h2.3v1.7h-2.3zM879.5,865h1.8v1.4h-1.8zM999,858.9h2.3v1.7h-2.3zM1152.3,856.9h4.3v1h-4.3zM1357.5,826h1.9v1.8h-1.9zM1431.4,853.6h3.8v1.4h-3.8zM456.6,861.5h2.2v1.5h-2.2zM1007.9,814.2h2.6v1.4h-2.6zM749.7,850.9h3.5v1.6h-3.5zM1152,856.9h2.5v1.5h-2.5zM1252.6,823.4h2.8v1.4h-2.8zM332.2,846h2.6v1.4h-2.6zM1044.7,859.1h1.8v1.6h-1.8zM1201.6,807.7h3.3v1.1h-3.3zM369.6,806.7h4.1v1.1h-4.1zM815.9,857.4h4.2v1.6h-4.2zM1466,840.6h2.9v1.7h-2.9zM764.5,835.3h2.3v1.2h-2.3zM1050.5,858.2h4.5v1.4h-4.5zM1467.8,843.8h3.5v1.4h-3.5zM520.6,848h4.6v1.5h-4.6zM1263.4,852h2.2v1.6h-2.2zM808.6,834.4h1.7v1.3h-1.7zM1108.7,818.4h2.2v1.8h-2.2zM1140.7,857h1.6v1.7h-1.6zM1141.3,839.6h2.9v1.1h-2.9zM887.3,853.7h2.5v1.8h-2.5zM1268.3,855h2.5v1.7h-2.5zM1233.9,830.5h2.2v1.7h-2.2zM1119.4,855.1h3.9v1.2h-3.9zM1428.1,853.9h2.4v1.6h-2.4zM809.6,823.4h4.4v1.5h-4.4zM734.6,848.7h2.7v1.2h-2.7zM285.7,852.1h3.9v1.4h-3.9zM696.4,850.2h2.1v1.1h-2.1zM469.9,848.2h4.8v1.5h-4.8zM715.1,843.2h2v1.1h-2zM350.8,740.8h3.6v1.1h-3.6zM1485.7,853.4h3.3v1.5h-3.3zM310.7,851.4h3.4v1.5h-3.4zM1149.6,843.7h1.8v1h-1.8zM1379.7,854h2.8v1.7h-2.8zM327.3,821.6h3.8v1.3h-3.8zM579.8,844.7h4.4v1.2h-4.4zM588.6,847.5h4.3v1.3h-4.3zM800.5,811.8h3.4v1.6h-3.4zM1138.7,850h3v1.5h-3zM1343.7,854.3h2.4v1.2h-2.4zM1315.1,853.3h3.1v1.4h-3.1zM1504.3,853.5h2.1v1.7h-2.1zM859.8,860.8h4.8v1.1h-4.8zM290,815.6h4.4v1.4h-4.4zM612.8,837.8h2.1v1.3h-2.1zM490.9,852.1h1.5v1.4h-1.5zM854,814.9h2.8v1.4h-2.8zM464.9,859.2h2.3v1.8h-2.3zM434.6,852.9h4.4v1.8h-4.4zM1179.7,856.1h4.7v1.4h-4.7zM950.8,825.5h1.6v1.6h-1.6zM1251.8,841.2h2.2v1.7h-2.2zM578.9,849.4h4.4v1.7h-4.4zM610,854.6h4.5v1.4h-4.5zM563.7,845.6h3.7v1.6h-3.7z"/><path fill="#d3d3d3" d="M1788.1,862.9h4.2v1.2h-4.2zM1742,855.8h2.3v1.1h-2.3zM1845.2,909.1h3.8v1.1h-3.8zM1823.9,889.7h3.1v1.7h-3.1zM1728.8,844.7h1.8v1.8h-1.8zM2271.8,818.8h2.2v1.6h-2.2zM2155.3,807.7h4.2v1.2h-4.2zM2137.8,862.8h3.3v1.3h-3.3zM1717.8,855.9h4.6v1h-4.6zM1923.8,856.5h1.9v1.1h-1.9zM1883.1,906.7h2.4v1.2h-2.4zM1729.4,850.3h4.9v1.2h-4.9zM1855.7,855.2h2.6v1.1h-2.6zM2040.3,894.7h1.5v1.3h-1.5zM2210.8,876.6h4.6v1.5h-4.6zM2176.3,810.2h4v1.7h-4zM1687.2,856.2h3.5v1.4h-3.5zM1945.1,883.8h4.9v1.5h-4.9zM2011.9,901.5h2.5v1.2h-2.5zM2294.6,811.4h3.3v1.6h-3.3zM2019.9,833.6h2.8v1.1h-2.8zM1728.6,852.6h3.3v1.3h-3.3zM2240,839.8h2.2v1.5h-2.2zM1990.6,894.9h3.5v1h-3.5zM1918.1,858.9h2.3v1.6h-2.3zM2272.5,810h2.3v1.3h-2.3zM2196.9,862.2h1.7v1.2h-1.7zM1998.3,904.5h1.6v1.2h-1.6zM1960.7,904.7h4.1v1.5h-4.1zM2003,900.5h4.3v1.5h-4.3zM2065.1,855.9h1.9v1h-1.9zM1953.6,882.9h4.7v1.2h-4.7zM2060.6,866.1h2.3v1h-2.3zM1869.7,909.1h2.2v1.4h-2.2zM1692.6,852.3h3.7v1.4h-3.7zM1977.6,909.2h3.5v1.7h-3.5zM2188,814.1h2.6v1.6h-2.6zM1997.3,903.7h4.4v1.7h-4.4zM1976.3,909.4h4.9v1.4h-4.9zM1816.1,911.3h4.8v1.6h-4.8zM1612.7,853.4h4.7v1.1h-4.7zM2060.1,826.3h3.3v1.6h-3.3zM1809,906.3h4.6v1.5h-4.6zM1948.4,879.6h2.2v1.3h-2.2zM2090.1,831.8h1.9v1.7h-1.9zM1864.4,862.8h2v1.7h-2zM2100.6,835.3h2.2v1.7h-2.2zM1668.6,853.1h3.8v1.8h-3.8zM2067.8,873.9h3.3v1.7h-3.3zM1759.9,860.3h1.7v1.7h-1.7zM2250.9,834h2.6v1.3h-2.6zM1691.8,854.5h3.2v1.4h-3.2zM1637.8,833.2h3.7v1.5h-3.7zM2171.7,814.1h3.6v1.3h-3.6zM2034.4,875.3h1.7v1.1h-1.7zM1819.8,907.7h4.4v1.6h-4.4zM1966.3,911.8h3.3v1.4h-3.3zM1643.7,837.4h4.4v1.5h-4.4zM1742.7,852h2.6v1.5h-2.6zM1587.5,848.6h3.5v1.7h-3.5zM1982.6,896.8h2.3v1.4h-2.3zM1799.6,839.2h4.9v1.2h-4.9zM2021.4,844h3.4v1.8h-3.4zM1663.4,847.1h3.3v1.8h-3.3zM1862.3,849.4h3.6v1.6h-3.6zM2190.6,870.4h2.7v1.5h-2.7zM2144.7,800.9h3.7v1.4h-3.7zM1622.1,856.2h3.8v1.3h-3.8zM2060.8,870.8h2.9v1.2h-2.9zM2187,813.7h3.7v1.1h-3.7zM2272.9,825.8h3.3v1.6h-3.3zM1732.3,850.1h2.9v1.8h-2.9zM1659,856.1h3.4v1.5h-3.4zM1986.1,907.3h3.2v1.1h-3.2zM2058.2,829.7h4.9v1.3h-4.9zM1598.2,853.5h2.7v1.2h-2.7zM2263.4,819.1h2.8v1.2h-2.8zM1610.1,853.5h4.1v1h-4.1zM2140.9,861.8h3.9v1.5h-3.9zM1640.5,846h4.6v1.1h-4.6zM2278.4,809.7h3.6v1.6h-3.6zM1594.2,853.3h4.7v1.7h-4.7zM1721.1,852.6h2.7v1.1h-2.7zM2138.4,855.9h1.7v1.5h-1.7zM1569.3,853.5h2.9v1h-2.9zM1944.8,877.4h2.4v1.6h-2.4zM1612.8,853.5h3.2v1h-3.2zM2121.1,818.6h1.5v1.6h-1.5zM1981.5,885.4h4.3v1.7h-4.3zM2192.4,861.6h4.2v1.7h-4.2zM1624.1,843.8h3.9v1.3h-3.9zM1883.6,907.6h2.6v1.6h-2.6zM1968,892h2.4v1.2h-2.4zM2105.6,814.2h2.8v1.3h-2.8zM1600.4,853.3h4.7v1.8h-4.7zM1923.3,843.9h2.3v1.5h-2.3zM2235.9,875.8h3.7v1.6h-3.7zM1664.1,855.9h3.6v1.2h-3.6zM1678.8,856.2h4.2v1.4h-4.2zM1971.2,905h2.6v1.5h-2.6zM1894.4,907.1h3.3v1.4h-3.3zM2069.7,852h1.7v1.5h-1.7zM2080.6,833.5h3v1.6h-3zM1960.5,911.8h3.8v1.5h-3.8zM1625.2,855.3h4.6v1.1h-4.6zM1946.1,878.9h1.9v1.2h-1.9zM1798.9,858.2h1.9v1.6h-1.9zM2064.8,861.5h2.3v1.4h-2.3zM2195.6,874.9h3.5v1.3h-3.5zM2107.6,830.2h4.1v1.8h-4.1zM2136.2,858.8h2.4v1.4h-2.4zM2260.3,808h1.9v1.5h-1.9zM1576.7,853.5h2.8v1.1h-2.8zM2041.5,893h2.8v1.7h-2.8zM1823.4,910.5h2.5v1h-2.5zM2094.6,829.7h3v1.7h-3zM1805,862.9h1.6v1.1h-1.6zM1892.5,906.5h3.1v1h-3.1zM1579.4,846.4h3v1.6h-3zM2185.9,813.2h3.1v1.6h-3.1zM1658.9,843.7h2.8v1.2h-2.8zM1906.7,900.3h4.4v1.7h-4.4zM1586.2,853.5h2.7v1h-2.7zM1891.2,905.3h3.3v1.3h-3.3zM1736.9,851.7h1.7v1h-1.7zM2111,835.7h2.1v1.2h-2.1zM1985.3,907.4h3.8v1.5h-3.8zM1859,843.4h4.1v1.1h-4.1zM1729.7,856.2h4v1.2h-4zM1894.6,907.1h4.6v1.6h-4.6zM2051.9,822.5h2.8v1.2h-2.8zM1573.4,852.1h4.7v1h-4.7zM1703.6,853h1.8v1.2h-1.8zM2116.2,835.7h2.6v1.2h-2.6zM1712,843.7h4.8v1.5h-4.8zM1748.4,917.1h3.9v1.6h-3.9zM2164.3,814.1h2.2v1.3h-2.2zM1877.1,893.3h1.8v1.2h-1.8zM1645.3,843.8h4v1.6h-4zM1794.9,859.9h4.6v1h-4.6zM2152.2,803.4h3v1.6h-3zM2120.8,835.8h4.9v1.8h-4.9zM1749.7,895.8h3.4v1.4h-3.4zM2133.1,844.2h2.4v1.1h-2.4zM2180.7,812.3h3.4v1.4h-3.4zM2209.8,872.5h4v1.6h-4zM1562.1,849.6h3.6v1.1h-3.6zM1683.7,856.2h3v1.6h-3zM1741.6,840.1h1.7v1.3h-1.7zM1731.8,834.5h2.1v1.7h-2.1zM1943.6,884.4h3v1.1h-3zM2010,895.1h3v1.6h-3zM2127.2,828.8h4.1v1.3h-4.1zM1675.2,853h3.1v1.1h-3.1zM2074.9,834h3.9v1.2h-3.9zM1732.7,856.2h4.7v1.6h-4.7zM1788.6,863h2.7v1.6h-2.7zM2225.3,876.5h4.7v1.2h-4.7zM1586,853.5h1.6v1.2h-1.6zM2129.7,860.7h4.3v1.1h-4.3zM2113.9,835.8h2.6v1.7h-2.6zM2100.5,826.7h3.8v1.3h-3.8zM2024.5,842.3h4.3v1.5h-4.3zM2218.1,862.5h4.4v1.1h-4.4zM1575.5,852.4h4.8v1.5h-4.8zM1987.9,893.5h3.7v1.1h-3.7zM1910.6,843.1h4.3v1h-4.3zM2299.1,806h2.5v1.3h-2.5zM2257.8,815.3h2.7v1.5h-2.7zM1613.2,841.7h1.8v1.6h-1.8zM1794.6,863h2v1.8h-2zM1724.4,854h2v1.4h-2zM2166.9,813.8h4v1.3h-4zM1652.2,843.4h2.7v1.5h-2.7zM2264.7,821h2.7v1.5h-2.7zM2114.3,835.7h4.8v1.2h-4.8zM1587.6,850.2h3.2v1.1h-3.2zM1917.6,858.6h4.3v1.4h-4.3zM1948.1,884.7h4.8v1.2h-4.8zM1991.9,895h3.3v1.3h-3.3zM2036,887h2v1.2h-2zM1695.5,856.2h3.7v1.8h-3.7zM1761.7,897h2.8v1.7h-2.8zM1629.7,855.6h4.5v1.7h-4.5zM2153.7,806.8h2.6v1.8h-2.6zM1984.5,894.6h2.9v1.8h-2.9zM2020.8,835.6h2v1.3h-2zM1631.6,855.3h3.5v1.2h-3.5zM1564.8,851.8h4.2v1.3h-4.2zM2135.2,861.8h3.4v1.2h-3.4zM1624.1,844.9h3.3v1.6h-3.3zM2140.7,851.8h2.8v1.2h-2.8zM1727,854h3.6v1.7h-3.6zM2298.4,800.2h3.5v1.2h-3.5zM1991.7,905.7h4.5v1.2h-4.5zM1863.2,862.8h2.3v1.6h-2.3zM1709.9,855.6h1.7v1.7h-1.7zM2225,875.5h4.7v1.2h-4.7zM1747.1,913.6h2.3v1.7h-2.3zM2278.2,822.3h3.1v1.3h-3.1zM2291.7,789.4h1.7v1.8h-1.7zM2038.6,893.4h3v1.7h-3zM1655.1,854.9h1.9v1.3h-1.9zM2152.2,800.2h2v1.2h-2zM2078.5,835.8h1.7v1.7h-1.7zM1577.5,836.3h3.6v1.3h-3.6zM1782.1,913.4h4.6v1.5h-4.6zM1667.3,852.3h2.6v1.7h-2.6zM1678.1,853.6h1.6v1.2h-1.6zM2084.5,830.6h4.7v1.1h-4.7zM1904,906.7h3.9v1.1h-3.9zM2243.8,836.9h3.4v1.3h-3.4zM1855,846.8h4.2v1.3h-4.2zM2164.2,813h1.8v1.2h-1.8zM1874,863.9h2.1v1.6h-2.1zM1736.5,850h3.3v1.5h-3.3zM2220.7,868.2h3.7v1.5h-3.7zM1942.4,860.3h4.4v1.1h-4.4zM1674.5,854.5h4.7v1.1h-4.7zM1736.6,831.3h4.1v1.4h-4.1zM1682.9,856.2h2.7v1.2h-2.7zM2214,873.6h3.3v1.5h-3.3zM1925.2,858.7h4.1v1.6h-4.1zM2232.6,874.1h2v1.8h-2zM1571.1,853.5h4v1.7h-4zM2257.8,828.2h2.5v1h-2.5zM2103.7,829.8h1.9v1.6h-1.9zM2262.9,830.5h3.6v1.3h-3.6zM2015.2,844h4.6v1.2h-4.6zM2034.6,895.4h2.1v1.8h-2.1zM1751,895.8h4.5v1.4h-4.5zM1975.8,909.8h4.2v1.5h-4.2zM1993.6,892.8h3.1v1.3h-3.1zM2108.2,833.2h3.6v1.1h-3.6zM1708.7,856.1h4.3v1.8h-4.3zM2280.5,817.1h4.2v1.1h-4.2zM1803.7,842.6h2.5v1.1h-2.5zM1881.1,897h5v1h-5zM2031.2,881.3h4.4v1.7h-4.4zM2038.1,880.9h2.9v1.5h-2.9zM1966.3,910.1h3.1v1.6h-3.1zM1671.8,842.3h4v1.2h-4zM1818.1,896.8h3v1.7h-3zM1854.9,838.6h2.9v1.8h-2.9zM1844.5,907.7h2.1v1.6h-2.1zM1618.1,842.2h3.2v1.7h-3.2zM2019.5,823h3.3v1.2h-3.3zM2243.6,822h4.4v1.5h-4.4zM1754.7,917.4h4.3v1.5h-4.3zM1886,904.5h4.3v1.2h-4.3z"/><path fill="#d3d3d3" d="M2327.6,808.7h5v1.2h-5zM3606.7,814.7h3.9v1.4h-3.9zM2961.4,783h3.5v1.5h-3.5zM3415.6,785.2h4.3v1h-4.3zM3472.5,793.8h4.5v1.7h-4.5zM2408.5,807.7h3.3v1.5h-3.3zM3554.5,810.9h3.6v1.4h-3.6zM2479.5,857.7h4v1.1h-4zM2439.5,863.9h4.8v1.7h-4.8zM3188.3,800.4h4.8v1.4h-4.8zM2485.3,805.2h1.8v1.7h-1.8zM2972.4,776.9h4.5v1.6h-4.5zM3358.1,786.8h2.8v1h-2.8zM2639.4,804.1h2.6v1.8h-2.6zM2721.8,857.1h1.9v1.4h-1.9zM3372.5,781.8h1.8v1.6h-1.8zM3590.5,813.5h4.3v1h-4.3zM3205.9,784.8h1.8v1.6h-1.8zM2447.7,862.5h2.7v1.4h-2.7zM3313.7,795h2.5v1.1h-2.5zM2845.1,782.8h1.6v1.6h-1.6zM3241.5,803.6h3.8v1.5h-3.8zM2759.7,785.5h2.3v1.5h-2.3zM2478.3,860.4h2.9v1.4h-2.9zM3314.4,795h2.6v1.4h-2.6zM2735,781.4h2v1.7h-2zM3560.6,811.3h3.2v1.3h-3.2zM2760.4,785.7h3.4v1.6h-3.4zM2616.9,852.1h4.1v1.5h-4.1zM3486.7,792.8h4.3v1.8h-4.3zM3441.9,792.5h2.5v1.5h-2.5zM3264.2,889.4h2.9v1.6h-2.9zM2744.1,786.4h4.9v1.7h-4.9zM2866.7,779.3h1.6v1.8h-1.6zM2773.4,781.6h2v1.1h-2zM3084.6,787.3h4.9v1.6h-4.9zM3117,788.8h2.5v1.3h-2.5zM3136.5,792.4h2.6v1.1h-2.6zM2348.2,807.3h2.8v1.4h-2.8zM2832.6,783.2h4.5v1h-4.5zM2328.9,808.7h4.3v1.3h-4.3zM3565,811.2h2.9v1.6h-2.9zM3566.9,798.4h2.8v1.5h-2.8zM2381.9,805.7h3.8v1.2h-3.8zM3177,800.4h4.2v1.1h-4.2zM2997.1,763.9h3.7v1.8h-3.7zM3566.6,804.2h4.3v1.6h-4.3zM2982.4,775.1h4.3v1.7h-4.3zM2309.4,808.7h3.1v1.6h-3.1zM2860.4,781.4h1.6v1.5h-1.6zM3577,808.7h2.4v1.5h-2.4zM2794.8,783.8h1.7v1.6h-1.7zM2301,798.4h1.5v1.6h-1.5zM2767.4,784.9h3.2v1.1h-3.2zM2576.7,801.2h4.7v1.1h-4.7zM2667.9,768.7h3.9v1.7h-3.9zM2815.5,776.1h4v1.6h-4zM2937,781h2.8v1.1h-2.8zM2405.2,807.9h4.5v1.3h-4.5zM3049.7,772.4h1.9v1.3h-1.9zM2794.7,778.5h4.7v1h-4.7zM3028,780.7h2.6v1.3h-2.6zM2675.6,784.5h2.8v1.4h-2.8zM2634.3,807.8h2.3v1.3h-2.3zM3246.9,803.9h5v1.1h-5zM3358.8,794.8h1.7v1.6h-1.7zM3055.5,782.2h2.8v1.7h-2.8zM3244.9,803.5h2.3v1.5h-2.3zM2461.1,808.5h4.3v1.6h-4.3zM2334.2,807.3h2.9v1.6h-2.9zM2869.2,781.7h4.4v1.2h-4.4zM3165.6,792.1h3.7v1.1h-3.7zM3471.3,795.3h3.9v1.6h-3.9zM2925.3,778.1h1.9v1.4h-1.9zM3010.9,767h2.7v1.1h-2.7zM2842.6,774.5h1.5v1h-1.5zM3635.3,814h4v1.4h-4zM2561,802.4h2.3v1.4h-2.3zM2580.8,794.1h2.9v1.6h-2.9zM2543.5,803.7h2.5v1.1h-2.5zM2722.6,863h3.6v1.4h-3.6zM3441.5,795.6h2.9v1.8h-2.9zM2763.8,785.7h4.3v1.1h-4.3zM3254.8,801.9h4.6v1.4h-4.6zM3208.1,802h4.9v1.2h-4.9zM3418.4,789.9h3.2v1.3h-3.2zM2414.1,800.1h2.3v1.7h-2.3zM3487.2,796.2h2.5v1.6h-2.5zM3322.2,795.1h4.4v1.7h-4.4zM3133,779.9h4.9v1.2h-4.9zM3560.9,800.2h3.6v1.1h-3.6zM3585.7,806.2h2.8v1.3h-2.8zM3571.4,812h4.4v1.4h-4.4zM3231.5,793.6h1.8v1.2h-1.8zM2452.4,807.7h2v1.7h-2zM3353.1,791.9h2.2v1.2h-2.2zM3091.8,779.2h4.8v1.7h-4.8zM2731.4,781.2h3.3v1.4h-3.3zM3205.3,801.7h2.4v1.3h-2.4zM2611.7,849.2h2.8v1h-2.8zM3146.4,775.2h3.4v1.2h-3.4zM3506.2,796.8h3.7v1.4h-3.7zM3331.3,790.1h3.4v1.3h-3.4zM3348.5,781.8h1.8v1h-1.8zM2433,832h3.7v1.3h-3.7zM3604,799.5h3v1.3h-3zM3012.4,776.3h4.4v1.7h-4.4zM2680.9,774.7h1.8v1.2h-1.8zM2861.1,782.2h2.7v1h-2.7zM3377.2,790h2.4v1.4h-2.4zM2821.1,774.1h2.5v1.2h-2.5zM3338.1,787.7h4v1.1h-4zM2355.2,794.4h4.9v1.2h-4.9zM2957.3,781.2h2.5v1.1h-2.5zM2638.3,792.9h3v1.2h-3zM2401.1,804.3h4.4v1.2h-4.4zM3308.7,795.1h2v1.5h-2zM2426,807.1h3.2v1h-3.2zM3399.6,788.3h4.3v1.5h-4.3zM2676.6,780h3.5v1.5h-3.5zM3305.7,794.8h4.7v1.4h-4.7zM2722.6,860.7h4.9v1.6h-4.9zM2427.5,808.4h3.9v1.8h-3.9zM3020.4,777.7h1.5v1.1h-1.5zM3377.4,794.9h3.4v1.5h-3.4zM3096.2,784.7h3.8v1.2h-3.8zM3082.9,778.6h1.7v1.8h-1.7zM3128.1,775.8h4.5v1h-4.5zM2410.4,797.8h2.4v1.7h-2.4zM3609.6,807.1h3.7v1.4h-3.7zM3515,800.8h1.8v1.6h-1.8zM2743.2,786.4h2.8v1.7h-2.8zM3292.4,894.8h4.4v1.4h-4.4zM2753,786.1h3.9v1.2h-3.9zM2976.1,783.8h3.7v1h-3.7zM2672.8,781.6h4.5v1.6h-4.5zM2685.2,784.7h3.3v1.8h-3.3zM2537,798.9h1.9v1.7h-1.9zM2448.2,864.9h2.8v1.5h-2.8zM2722.6,854h4.9v1.6h-4.9zM2328.5,808.7h4.3v1.3h-4.3zM2985.1,772.2h4v1.4h-4zM2701.4,785.6h1.9v1h-1.9zM2834.6,768h1.9v1.4h-1.9zM3123.5,777.6h5v1.5h-5zM3075.4,777.8h3v1.6h-3zM3418.9,795h3.3v1.3h-3.3zM2467.4,861.9h3.6v1.4h-3.6zM2813.8,781.1h3.3v1h-3.3zM3222.6,794.4h3.1v1.5h-3.1zM2623.4,853.8h3.1v1.5h-3.1zM3199.3,800.6h2.2v1.8h-2.2zM3407.7,794.3h2.8v1.7h-2.8zM3305.7,794.8h4.4v1.3h-4.4zM3425.3,795.3h4.8v1.3h-4.8zM3531.4,809.1h2.8v1.2h-2.8zM3084.1,792.2h3.9v1.5h-3.9zM3325.9,793.7h3v1.2h-3zM2950.3,779.9h2.5v1.4h-2.5zM2530,806.2h2.6v1.4h-2.6zM3336.6,795.1h3v1.1h-3zM2773.9,778.6h3.7v1.6h-3.7zM3388.5,794.5h2.8v1.2h-2.8zM2738.2,782.7h3.8v1.6h-3.8zM3017.7,780h3.8v1.7h-3.8zM3466.7,796h2.8v1.4h-2.8zM3134.3,783.7h1.6v1.7h-1.6zM2883.3,852.3h4.3v1.3h-4.3zM3570.9,810.6h1.9v1.2h-1.9zM3016.7,772.6h2.6v1.8h-2.6zM2642.8,792h3.8v1.6h-3.8zM2817,781.4h2.7v1.4h-2.7zM3425.8,787.6h4.4v1.3h-4.4zM2697.3,782.2h4.8v1.6h-4.8zM2611,851.8h4.6v1.6h-4.6zM3270.2,890.5h3.5v1.3h-3.5zM3259.7,803.3h2.1v1.7h-2.1zM3524.5,808.7h4.3v1.5h-4.3zM2742.2,785.9h2v1.4h-2zM2583.6,802.3h4.8v1.2h-4.8zM2645.4,806.5h1.9v1.1h-1.9zM2536.9,797.5h3.3v1.6h-3.3zM3413.8,794.7h2.1v1h-2.1zM3281.7,893.2h4.5v1.5h-4.5zM2527,805.6h2.9v1.1h-2.9zM2489.1,802.8h3.8v1.3h-3.8zM2467,862.8h3v1.6h-3zM2854.7,775.1h2.8v1.5h-2.8zM3300.3,794h3.1v1h-3.1zM2450.4,803.4h1.8v1.2h-1.8zM2949.1,768h5v1.6h-5zM2783.5,784.9h2.9v1.1h-2.9zM2680.5,779.6h3.7v1.7h-3.7zM2719.4,861.9h4.1v1.2h-4.1zM2620.4,843.5h2.7v1.7h-2.7zM2838.6,770.2h4.4v1.2h-4.4zM2367.1,803.8h2.7v1.3h-2.7zM3256.6,803.3h2.5v1.7h-2.5zM3364,786h2.6v1.8h-2.6zM2982.5,783h2v1.6h-2zM3242.8,789.1h1.8v1h-1.8zM3489.7,796.1h2.7v1.1h-2.7zM2970.3,783.5h1.7v1.8h-1.7zM2485,817.4h2.2v1.7h-2.2zM3344.5,781.4h3.2v1.6h-3.2zM3384.6,784.8h2v1.4h-2zM3175.7,800.4h4.2v1.5h-4.2zM3373.7,788.1h3v1.1h-3zM2623.1,858.4h4.8v1.2h-4.8zM3391.5,794.9h3.6v1.7h-3.6zM2899.6,778.7h2.6v1.6h-2.6zM3195.1,797.6h2.2v1.6h-2.2zM3420.6,793.7h2.5v1.5h-2.5zM3351.4,793.7h3.5v1.6h-3.5zM3526.3,808.9h3.9v1.1h-3.9zM2660,780.3h2.1v1.5h-2.1zM3346.2,789.8h4.4v1.5h-4.4zM2972.4,766.5h2.7v1.1h-2.7zM2961.9,779.8h2.8v1.8h-2.8zM2743.8,786.3h3.4v1.2h-3.4zM3139.6,792h2.8v1.5h-2.8zM3208.5,802.2h3.5v1.5h-3.5zM2780.8,784.3h3.6v1.6h-3.6zM3343.8,784.6h3.4v1.2h-3.4zM3279.8,895.6h1.6v1.1h-1.6zM2371.9,807.6h2.9v1.8h-2.9zM3439.9,785.7h4.1v1.1h-4.1zM2507.9,797.8h4.2v1h-4.2zM2854.8,782.1h3.4v1.4h-3.4zM2923.8,776.5h4.2v1.7h-4.2zM2949,781.3h4.5v1h-4.5zM3329.4,795.1h2.5v1.7h-2.5zM2715.6,821.6h1.9v1.8h-1.9zM2848.2,781.9h4.7v1.7h-4.7zM2630.1,808.7h4.6v1.3h-4.6zM2915.7,779.8h2.9v1.7h-2.9zM3515,804.8h3.7v1.1h-3.7zM2976.2,775.7h2.4v1.5h-2.4zM2560,807h3.7v1.3h-3.7zM2590.5,806.9h4.2v1.3h-4.2zM3103.6,792.1h3.7v1h-3.7zM2376.1,808.6h4.3v1.1h-4.3zM2861,764.6h2.3v1.1h-2.3zM2669.3,783.2h4.6v1h-4.6zM3010.6,779.6h5v1.4h-5zM3204.3,801.8h3.2v1.7h-3.2zM2457.8,808.6h2.6v1.7h-2.6zM3503.1,792.4h2.4v1.3h-2.4zM3283.2,894.3h2.7v1.8h-2.7zM2642.8,800.6h2.1v1.7h-2.1z"/><path fill="#fff" d="M2396.9,856.1h2.1v1.5h-2.1zM2516.4,815.2h1.6v1.6h-1.6zM2342.2,836.6h1.8v1.3h-1.8zM2395.4,825.4h1.3v1.2h-1.3zM2312.7,847.5h2.3v1.1h-2.3zM2319.6,829.2h1.2v1.3h-1.2zM2386.7,838.8h2.1v1.5h-2.1zM2543.6,851.4h2.5v1.2h-2.5zM2353.2,818.5h1.7v1.4h-1.7zM2582.7,818.3h1.8v1h-1.8zM2494.7,853.3h1.5v1.4h-1.5zM2515.1,843.2h1.3v1.3h-1.3zM2318.7,830.6h1.1v1.6h-1.1zM2417.6,822.4h2.4v1.3h-2.4zM2473.9,853.4h1.8v1.2h-1.8zM2550.8,825.1h1.2v1.4h-1.2zM2469.1,859.9h1.8v1.5h-1.8zM2314.6,811.2h1.5v1.5h-1.5zM2461.6,840.5h1.5v1.2h-1.5zM2412.4,824.2h1.1v1.4h-1.1zM2404.9,855.9h1.9v1.1h-1.9zM2400,819.1h2.1v1.2h-2.1zM2489.9,831.7h1.6v1.5h-1.6zM2474.1,825.5h1.3v1.2h-1.3zM2364.4,843.2h2.1v1.4h-2.1zM2541.9,847.4h1.9v1.1h-1.9zM2517.7,811.2h1.7v1.1h-1.7zM2537,843.4h1.5v1.4h-1.5zM2541.9,835.6h1.4v1.1h-1.4zM2596.2,814.4h1.3v1.5h-1.3zM2316.9,817.2h1.6v1.1h-1.6zM2313.9,848.8h1.3v1.5h-1.3zM2316.8,823.7h1.9v1.1h-1.9zM2462.7,834.3h1.9v1.6h-1.9zM2438.9,855.4h1.3v1.4h-1.3zM2445.7,848.8h1.8v1.5h-1.8zM2352.6,823.2h1.8v1.4h-1.8zM2428.9,850.2h1.6v1.6h-1.6zM2616.5,812.1h2v1.5h-2zM2317.2,846.9h1.9v1.3h-1.9zM2393.1,846.7h1.3v1.1h-1.3zM2419,859.6h1.6v1.1h-1.6zM2435.9,848.3h1.9v1.4h-1.9zM2580.9,824.5h1.5v1.5h-1.5zM2430,835.6h2.2v1.4h-2.2zM2610.5,810.7h1.9v1.3h-1.9zM2439.7,824.8h1.6v1.5h-1.6zM2462,821h2v1.5h-2zM2438.1,816.5h2.1v1.4h-2.1zM2535.8,810.7h1.2v1.6h-1.2zM2488.4,823h1.1v1.3h-1.1zM2410.2,817.8h2v1.1h-2zM2622.1,821.6h2.3v1.2h-2.3zM2399.4,847.9h1.8v1.1h-1.8zM2585.7,837.5h1.9v1.2h-1.9zM2580.6,840.7h1.1v1.5h-1.1zM2492.5,823.6h1.1v1h-1.1zM2341.6,822.8h1.8v1.1h-1.8zM2568,836.3h1.6v1.3h-1.6zM2381.8,836.9h1.3v1.2h-1.3zM2473.5,841.7h1.5v1.4h-1.5zM2421.6,855.8h1.2v1.3h-1.2zM2420.6,832.7h1.2v1.2h-1.2zM2364.2,843.8h2.2v1.5h-2.2zM2610.2,829.1h2v1.6h-2zM2469.9,836h2v1h-2zM2588.7,830.8h2.1v1.1h-2.1zM2467.4,838.4h2.2v1.4h-2.2zM2511.5,856.2h1.4v1.3h-1.4zM2599.5,832.8h1.9v1.3h-1.9zM2631.1,844h2.2v1h-2.2zM2434.2,847.4h1.3v1.5h-1.3zM2613.2,848.1h2.1v1.2h-2.1zM2341.1,856.9h1.6v1.5h-1.6zM2526.9,856.6h1v1.5h-1zM2551.3,838.2h1.2v1.1h-1.2zM2615.9,829.5h2.1v1.6h-2.1zM2377.5,813.3h1.1v1.3h-1.1zM2580.4,850h1.9v1h-1.9zM2383.8,817.4h1.2v1.1h-1.2zM2311.7,835.2h1.5v1.2h-1.5zM2393.8,849.6h1.4v1.1h-1.4zM2396,822.5h1.5v1.2h-1.5zM2377.3,841.4h1.2v1.5h-1.2zM2600.3,834.7h2.1v1.1h-2.1zM2399.1,855.4h1.7v1.4h-1.7zM2576.2,845.1h1.7v1.2h-1.7zM2320.4,853.2h2v1h-2zM2583.5,824.2h2.3v1.1h-2.3zM2307.5,852.9h2.3v1.3h-2.3zM2610.5,814.5h1.2v1.6h-1.2zM2619.4,844.7h1.5v1.4h-1.5zM2300.1,827.7h2.3v1.1h-2.3zM2343.8,834.6h2v1.2h-2zM2578.1,855.4h1.3v1.2h-1.3zM2584,835.1h2.1v1.2h-2.1zM2578.1,851.7h2.2v1.5h-2.2zM2433,835.8h2.2v1.4h-2.2zM2482.5,811.8h1.3v1.3h-1.3zM2556,855.2h2.5v1.2h-2.5zM2628.5,829.1h1.3v1.6h-1.3zM2336,833.8h2.2v1.4h-2.2zM2589.3,836.5h1.7v1.2h-1.7zM2512,838.2h1.8v1.4h-1.8zM2472.1,844.7h1.7v1.5h-1.7zM2369.2,828h1.5v1.5h-1.5zM2497.5,857.1h1.8v1.6h-1.8zM2551.3,854.7h1.4v1.6h-1.4zM2402.1,847.4h1.9v1.2h-1.9zM2335.3,812.3h1v1.3h-1zM2490.8,815.4h1.1v1h-1.1zM2497.1,847.7h2.3v1.3h-2.3zM2552.4,821.9h1.1v1.3h-1.1zM2410.7,830.1h1.2v1.4h-1.2zM2600.3,847.1h1.2v1.2h-1.2zM2366.7,859.5h1.6v1.1h-1.6zM2576.7,820.6h1.1v1.2h-1.1zM2312.5,832.9h1.7v1.2h-1.7zM2489.2,849.4h1.5v1.2h-1.5zM2516.5,831h1.4v1.6h-1.4zM2371.3,830h1.4v1.5h-1.4zM2525.8,855.5h1.4v1.5h-1.4zM2527.1,815.6h1.4v1.5h-1.4zM2447.9,818.1h1.2v1.2h-1.2zM2520.1,816.7h1.2v1.5h-1.2zM2389.6,844.1h2.2v1.4h-2.2zM2513.3,832.5h2.1v1.2h-2.1zM2559.6,844.9h1.2v1h-1.2zM2525.7,833.8h1.9v1.4h-1.9zM2459.3,816.6h1.9v1.2h-1.9zM2470.2,811.4h2.4v1.1h-2.4zM2637.5,849.6h1.6v1.3h-1.6zM2374.4,810.6h1.7v1h-1.7zM2360.4,813.3h1.8v1.4h-1.8zM2626.8,822.2h2.3v1.4h-2.3zM2304.5,828.3h2.5v1.4h-2.5zM2527.6,845h2.4v1.3h-2.4zM2346.3,812.5h1.9v1.1h-1.9zM2618,858.8h1.8v1.4h-1.8zM2344.2,850.6h1.6v1.5h-1.6zM2445.7,850.1h1.2v1.6h-1.2zM2532.8,827.2h1.6v1.1h-1.6zM2473.3,854.7h1.7v1.2h-1.7zM2457.3,830.8h1.6v1.3h-1.6zM2544.5,845.9h1v1.6h-1zM2420,832h1.8v1.5h-1.8zM2314,852.2h2v1.3h-2zM2437.1,836.8h2.1v1.3h-2.1zM2614.9,838.4h1.7v1.5h-1.7zM2309.4,855.1h1.7v1.1h-1.7zM2536.3,822.6h1.7v1.3h-1.7zM2629.7,844.1h1.7v1.4h-1.7zM2522.7,817.5h1.6v1.1h-1.6zM2340.2,826.7h1.1v1.1h-1.1zM2362.8,837.1h1.6v1.1h-1.6zM2638.2,847.6h2v1.4h-2zM2548,819.8h2.1v1.2h-2.1zM2369,824.6h2.2v1.2h-2.2zM2598.2,859.8h2.4v1.3h-2.4zM2492.5,840.2h1.1v1.5h-1.1zM2573.4,820.1h1.5v1.4h-1.5zM2625,828h2.3v1h-2.3zM2487,825h2.3v1.1h-2.3zM2332.6,829.1h2.1v1.4h-2.1zM2416.9,846.5h1.2v1.3h-1.2zM2598.2,818.2h1.4v1.2h-1.4zM2372.9,836.6h1.6v1.4h-1.6zM2307,850.8h1.6v1h-1.6zM2511.1,818.8h1.3v1.5h-1.3zM2324.7,857.4h1.4v1.4h-1.4zM2340.8,860h2.4v1.4h-2.4zM2391.1,828.2h1.9v1.2h-1.9zM2499.7,855.3h1.2v1.2h-1.2zM2627.3,853h1.1v1.1h-1.1zM2519.7,851.8h2.5v1.1h-2.5zM2461.6,835.7h2.3v1.3h-2.3zM2313.2,813.8h1.8v1.1h-1.8zM2474.3,839.4h1.8v1.3h-1.8zM2305.3,844.8h1.1v1.3h-1.1zM2351.5,830.2h2.2v1.5h-2.2zM2600.9,844.7h1.8v1.5h-1.8zM2323.7,811.6h2.3v1.4h-2.3zM2446,822.8h2.5v1.1h-2.5zM2386.1,857.2h2.1v1.5h-2.1zM2619.2,857.9h1.6v1.1h-1.6zM2491.1,829.1h1.5v1.3h-1.5zM2604,837.4h1.5v1.1h-1.5zM2583.1,841.9h1.3v1.5h-1.3zM2327.2,814.4h1.4v1.5h-1.4zM2478.7,844.6h2.4v1.6h-2.4zM2585.3,831.9h1.8v1h-1.8zM2326.7,831.9h1.5v1.3h-1.5zM2302,857.4h1.7v1.1h-1.7zM2517.5,838.8h2.1v1.6h-2.1zM2449.6,810h1.3v1.2h-1.3zM2385.8,834.4h1.9v1.3h-1.9zM2318.2,811.3h1v1.4h-1zM2438.1,837.6h1.6v1.4h-1.6zM2636.8,840.7h1.3v1.4h-1.3zM2372.7,844.4h1.9v1h-1.9zM2364.1,821.3h1.6v1.5h-1.6zM2541.5,834h1.6v1h-1.6zM2374,854h1.6v1.2h-1.6zM2619.8,821.1h2.2v1.2h-2.2zM2424.1,826.7h1.4v1.2h-1.4zM2395.8,833.2h1.7v1h-1.7zM2434,851h2.1v1.1h-2.1zM2370.5,841.5h1.9v1h-1.9zM2405.7,835.5h2v1.3h-2zM2518.7,854.3h2.3v1.1h-2.3zM2595.2,820.6h1v1.5h-1zM2608.3,815.2h2.1v1h-2.1zM2611.2,833.2h1.7v1.5h-1.7zM2403.4,837h1.2v1.1h-1.2zM2481.8,853.3h1.6v1h-1.6zM2379.1,834.9h1.1v1.1h-1.1zM2376.5,852.1h1.6v1.1h-1.6zM2482.8,838.8h1.9v1.4h-1.9zM2492.8,812.6h1.9v1.4h-1.9zM2470.9,817.2h1.3v1.4h-1.3zM2562,813.7h2.1v1.3h-2.1zM2513.7,849.3h1.1v1.4h-1.1zM2552.8,833.4h1.4v1.3h-1.4zM2499.5,830.2h1.8v1.4h-1.8zM2569.4,857.2h2.5v1h-2.5zM2607.7,854.1h2.5v1.5h-2.5zM2622,859.1h1.2v1.1h-1.2zM2490.8,855.8h1.8v1.3h-1.8zM2591.5,839.2h2.2v1.4h-2.2zM2476,834.9h2.2v1.1h-2.2zM2415.2,814.9h2v1.2h-2zM2604.2,827.1h2.4v1.2h-2.4zM2620.8,854.9h1.4v1.3h-1.4zM2325.3,841.1h2v1.3h-2zM2446.7,834.7h2.2v1.1h-2.2zM2584,845.9h1.6v1.6h-1.6zM2498.3,835.5h1.8v1.2h-1.8zM2479.4,814.7h1.9v1.2h-1.9zM2524.6,840.2h2.5v1.4h-2.5zM2302.7,816h1.7v1.3h-1.7zM2461.9,846.6h2.4v1h-2.4zM2513.2,824.4h1.6v1.6h-1.6zM2322.8,820.3h1.8v1.4h-1.8zM2623.6,858.6h2.4v1.5h-2.4zM2453.2,824.2h2.3v1.4h-2.3zM2541.5,848.6h2.4v1.3h-2.4zM2386.8,810.6h1.4v1.4h-1.4zM2425.4,819.8h1.2v1h-1.2zM2494,842.9h2.4v1.5h-2.4zM2353.1,820.3h2.4v1.2h-2.4zM2483.7,850.2h2v1h-2zM2460.5,836.6h1.8v1.1h-1.8zM2627.6,835h2v1.5h-2zM2385.9,811.3h1.9v1.5h-1.9zM2602.4,853.9h1.3v1.5h-1.3zM2325.9,824.2h2.2v1.1h-2.2zM2565.5,849.8h2.4v1.5h-2.4zM2544,818.4h1.2v1h-1.2zM2405.8,825.6h2.5v1.5h-2.5zM2331.8,833.5h2.2v1.2h-2.2z"/><path fill="#fff" d="M2270.4,874.1h3.3v4.5h-3.3zM2288.9,846.8h1.3v5.7h-1.3zM2293.2,829.8h1.6v11.6h-1.6zM2264.8,876.4h1.8v3.6h-1.8zM2294.8,838.4h3.4v9.1h-3.4zM2289.8,838.5h2.8v10.3h-2.8zM2280.1,877.1h3.3v8.1h-3.3zM2296.4,863.7h3.3v4.3h-3.3zM2256.5,827.6h1.3v8.9h-1.3zM2298.2,858.3h3.4v10.4h-3.4zM2276.4,843.6h1.7v11.6h-1.7zM2296.4,875.5h2v9.7h-2zM2271.2,870.7h2.5v3.1h-2.5zM2255.2,835.3h2v6.1h-2zM2239.1,850.7h3.4v8.6h-3.4zM2251.2,880.2h3.2v10.9h-3.2zM2245.2,863.1h2v10.2h-2zM2261.2,833.7h3.4v10.7h-3.4zM2278.2,848.8h2.5v8.9h-2.5zM2264.5,844.1h1.8v8.6h-1.8zM2255.7,844.7h1.9v11.2h-1.9zM2270.2,827.6h1.5v9.9h-1.5zM2296.1,832.4h2.5v7.4h-2.5zM2265.2,862.7h3v10.4h-3zM2251.7,856.6h1.6v4.7h-1.6zM2259.4,854.6h2.3v3.4h-2.3zM2268.5,828.9h1.6v10.8h-1.6zM2278.2,833.8h3v11.8h-3zM2290.9,827.5h2.7v6.7h-2.7zM2265.3,829.8h1.5v11.8h-1.5zM2266.3,828.6h2.3v7.1h-2.3zM2247.7,865.4h2.6v9.5h-2.6zM2290.1,874.2h3.5v9.3h-3.5zM2298.8,881.2h1.6v6.5h-1.6zM2267.8,848h1.4v6.5h-1.4zM2287,850.6h2.7v9.2h-2.7zM2276.9,818.8h2.1v9.7h-2.1zM2260.7,880h3.4v7.6h-3.4zM2298.8,831.3h2.3v11.3h-2.3zM2243.6,850.7h2.2v6.5h-2.2zM2264.9,856.5h3.3v3.5h-3.3zM2247,862h2.4v9.5h-2.4zM2290.4,870.6h1.9v4.9h-1.9zM2276.5,821.5h2.6v8.6h-2.6zM2268.1,872.6h1.4v3.2h-1.4zM2295.8,871.9h1.3v9.5h-1.3zM2274.4,827.1h2.2v8.4h-2.2zM2275.7,830.9h1.2v3.6h-1.2zM2252.9,838h1.7v6.1h-1.7zM2244.3,843.2h2v5.7h-2zM2261.6,873.2h3v4.2h-3zM2244.1,854h1.4v10.3h-1.4zM2261.1,880.8h2v7.9h-2zM2241.9,829h1.6v11.5h-1.6zM2299.6,858.8h2.6v9.9h-2.6zM2265.3,877.8h1.7v11.2h-1.7zM2239.2,855.7h2.6v9.8h-2.6zM2249.3,839.9h3.3v4.8h-3.3zM2256.4,854.9h3.5v6h-3.5zM2248.7,825.9h3.5v5.3h-3.5zM2284.1,822.6h2.2v8.3h-2.2zM2283.6,858.6h2.2v4.5h-2.2zM2263.7,847.7h1.9v4.3h-1.9zM2292.9,830.4h2.1v7.2h-2.1zM2248.3,868h1.6v10.5h-1.6zM2239.6,819.5h2.4v7.8h-2.4zM2266.4,876.7h2.9v10.4h-2.9zM2286.3,870.5h3.1v11h-3.1zM2284.9,829.7h2.4v9.3h-2.4zM2269.6,850.5h1.9v4.5h-1.9zM2293.9,841.4h1.3v6.2h-1.3zM2299.9,819.2h3.5v4.7h-3.5zM2240.1,881.6h1.8v11.8h-1.8zM2254,840.6h3.5v5.3h-3.5zM2288.8,871.6h2.1v4.1h-2.1zM2288.1,828.1h2v4.8h-2zM2293.7,835.9h2.5v9.1h-2.5zM2254.3,854.4h2.9v11.9h-2.9zM2264.7,840h2v8h-2zM2257.6,844.2h2.7v9.6h-2.7zM2282.8,860h1.5v9.1h-1.5zM2251.4,872.3h3.3v5.5h-3.3zM2297.2,858.5h2.9v9.5h-2.9zM2279.3,826.8h2.6v11.8h-2.6zM2289.2,846.9h3.5v11.1h-3.5zM2265.5,872.4h1.8v4.3h-1.8zM2269,869.9h2.8v5.8h-2.8zM2268.6,867.3h2.9v11.5h-2.9zM2247.2,865.2h2.7v5.5h-2.7zM2297.4,849.7h2.7v11.9h-2.7zM2271.3,860.6h2.5v10.6h-2.5zM2279.7,827.3h1.3v11.1h-1.3zM2284.8,826.1h3.2v9h-3.2zM2275.6,866.2h3.3v5.7h-3.3zM2241.5,861.4h1.9v9.5h-1.9zM2280.4,861.2h3.1v4.4h-3.1zM2249.2,851.3h1.6v7.5h-1.6zM2254.6,881.1h3.1v10.1h-3.1zM2291.8,833.7h2.4v8.5h-2.4zM2241.1,833.9h3.1v5.3h-3.1zM2294.2,848.1h2.4v4.1h-2.4zM2290.9,844.2h1.7v4.5h-1.7zM2248.2,867.7h2v8.3h-2zM2259.5,877.3h2.4v7.2h-2.4zM2296.5,870.1h3.5v9.9h-3.5zM2252.2,847.6h3v5.1h-3zM2265.7,826.2h2.2v8h-2.2zM2248.9,856.3h1.5v7.5h-1.5zM2280.9,864.7h2.2v4.5h-2.2zM2298.6,852.8h2.3v3.3h-2.3zM2285,868.4h2.9v7.1h-2.9zM2266.8,870.7h3.3v8.3h-3.3zM2277.7,871.7h2v4.6h-2zM2284.6,857.4h2v10.6h-2zM2284.8,820.1h2.4v9.3h-2.4zM2294.2,863.4h1.7v4.4h-1.7zM2297.8,873h2.2v6.7h-2.2zM2285.5,859.2h1.8v7.4h-1.8zM2298.6,846.8h1.2v3.9h-1.2zM2247.5,859.8h2v8.9h-2zM2255.7,868.7h2.3v11.4h-2.3zM2285.4,848.6h3.4v5.9h-3.4zM2267.1,840.8h1.3v5.8h-1.3zM2242.4,825.4h1.5v6.3h-1.5zM2272.5,854.2h2.7v4.7h-2.7zM2256,826.1h3.3v4.4h-3.3zM2277.2,849.7h1.4v10.5h-1.4zM2269.4,853.9h2.9v5.8h-2.9zM2262,827.2h3.2v6.4h-3.2zM2290.6,872.5h2.1v8.4h-2.1zM2252.7,848.8h1.9v11.4h-1.9zM2279.5,875.5h1.8v4.9h-1.8zM2238.1,855.6h1.9v5.5h-1.9zM2266,854.4h2.9v11h-2.9zM2250,849.6h3.3v5.9h-3.3zM2272.4,846.5h2.9v9.6h-2.9zM2262.7,835h2.6v11.4h-2.6zM2262.9,850h1.8v11h-1.8zM2241.4,842.4h1.4v7h-1.4zM2275.2,825h2.7v5.4h-2.7zM2251.1,839.6h3.3v10.9h-3.3zM2256.7,820h1.4v7.1h-1.4zM2239.6,862h2.6v6.7h-2.6zM2247.3,879.2h2v5.2h-2zM2299.1,866h2.4v6.2h-2.4zM2288.1,862.9h3.2v11.8h-3.2zM2274,870.9h3.3v4.8h-3.3zM2276.9,872.3h3v9.7h-3zM2266.5,873.4h2.3v5.6h-2.3zM2265.5,870.8h1.4v3.1h-1.4zM2241.9,826.5h1.7v4.2h-1.7zM2239.1,835.3h2.6v9.7h-2.6zM2267.3,877.3h1.3v10.9h-1.3zM2241,856.4h1.7v9.5h-1.7zM2284.3,870.1h1.9v4.4h-1.9zM2285.1,862h2.2v6.9h-2.2zM2269.1,879.1h1.5v8.4h-1.5zM2291.2,824.5h2.9v10.4h-2.9zM2253.4,840h2.2v11.9h-2.2zM2294.3,877.4h2v11h-2zM2268.8,856.2h2.7v9.6h-2.7zM2258.8,841.8h1.5v10.8h-1.5zM2266.1,879.4h1.8v8.7h-1.8zM2299.8,862.7h3.3v11.4h-3.3zM2271.1,829.7h2.6v8.9h-2.6zM2257.9,829.7h2v10h-2zM2257.7,868.9h2v10.2h-2zM2275.8,878.2h1.7v9.9h-1.7zM2265.8,831.2h1.6v5.2h-1.6zM2280.1,872.4h1.9v6.1h-1.9z"/><path fill="#fff" d="M2303.7,826.5h1.5v3.9h-1.5zM2327.2,825.9h1.9v6.5h-1.9zM2300,836.9h3.1v4.9h-3.1zM2306.4,811.2h3.3v6.3h-3.3zM2329.2,809.6h2.2v6.7h-2.2zM2317.6,824.2h1.5v7.7h-1.5zM2306.4,836h2.6v6.7h-2.6zM2323.1,823h2.4v2.5h-2.4zM2322.5,814.1h1.5v2.3h-1.5zM2308.8,806.5h1.6v4.4h-1.6zM2310.4,813.4h1.6v5.7h-1.6zM2316.2,819.6h1.6v6.7h-1.6zM2303.1,819.1h1.7v6.4h-1.7zM2316.1,845.5h2.7v5.9h-2.7zM2302.4,800.6h2.7v6.7h-2.7zM2325.9,849.5h3.2v5.3h-3.2zM2320.6,817.7h3.4v7.8h-3.4zM2321.2,811.6h2.5v6.1h-2.5zM2324.4,832.2h3v6.7h-3zM2319.6,805.8h2.9v4.8h-2.9zM2324,805.4h2.3v3.9h-2.3zM2314.5,849.1h3v7.3h-3zM2325.1,803.1h2.9v6.5h-2.9zM2322.7,812.6h2.1v5.9h-2.1zM2308.2,825.3h2.1v2.5h-2.1zM2302.2,810.3h2.2v7.5h-2.2zM2322.9,815.4h3v6.9h-3zM2327.8,835.1h2.6v6h-2.6zM2302.2,829.8h1.3v5.8h-1.3zM2320,818.9h1.6v5.1h-1.6zM2304.7,819.1h2.8v2.2h-2.8zM2328.1,844.3h2v6.9h-2zM2324.5,835.5h2.2v4.2h-2.2zM2306.1,840.1h2.7v7.8h-2.7zM2318.6,800.2h1.7v2.3h-1.7zM2308.7,828.7h2.5v5.6h-2.5zM2311,845.7h2.2v3.4h-2.2zM2312.4,819.3h1.6v5.4h-1.6zM2315.8,800.7h1.9v2.7h-1.9zM2310.2,808.4h1.4v4.2h-1.4zM2301.2,803.4h2.9v3.3h-2.9zM2323,820.8h2.5v7h-2.5zM2303.2,801.2h2v7.7h-2zM2310.8,820.5h2.6v2h-2.6zM2317.8,832.8h3.3v5.9h-3.3zM2320,804.7h2.2v3.3h-2.2zM2309.1,803.7h2.1v2.9h-2.1zM2309.1,801.7h3.4v4.5h-3.4zM2310,834.4h2.9v6.1h-2.9zM2309.5,827.2h2.2v6.5h-2.2zM2311.8,846.2h2.1v3.3h-2.1zM2326.1,803.4h3.5v7.9h-3.5zM2314.8,815.9h1.5v4.7h-1.5zM2321.6,810.3h2.8v3.9h-2.8zM2316.3,839.7h2.3v5.9h-2.3zM2310.4,829.1h3.1v7.3h-3.1zM2328.5,814.3h1.4v2.2h-1.4zM2304.6,835.9h1.6v6.6h-1.6zM2301.6,839.2h2.1v3h-2.1zM2317.8,837.7h1.3v4.5h-1.3z"/><path fill="#fff" d="M3332,838.2h4.6v1.5h-4.6zM3501.4,820.3h7.6v1.4h-7.6zM3442.1,832.9h6.4v1.7h-6.4zM3570.9,827.6h2.3v1.6h-2.3zM3389,825.6h2.1v1.4h-2.1zM3458.3,822.8h4v1.4h-4zM3334.4,837h4.1v1.5h-4.1zM3570.7,826h3.6v1.8h-3.6zM3400.2,841h7.5v1.5h-7.5zM3331,846.7h6.1v1.8h-6.1zM3473.1,835.5h4.1v1.8h-4.1zM3333.3,829.6h4v1.1h-4zM3442.1,830.1h5.5v1.6h-5.5zM3380.6,824.1h7.1v1.7h-7.1zM3508.9,821.6h2.7v1.5h-2.7zM3317.5,849.2h7.1v1.4h-7.1zM3498.7,821.6h5.9v1.7h-5.9zM3389.3,843h6.5v1.5h-6.5zM3482.8,824.5h5.7v1.9h-5.7zM3311.9,836.9h6.4v1.4h-6.4zM3370.6,832.6h6.6v1.2h-6.6zM3490,818.3h3.6v1.8h-3.6zM3483.9,820.2h7v1h-7zM3577.9,819.9h2v1.2h-2zM3342.9,832.3h6.6v1.4h-6.6zM3517.2,831h7.1v1.2h-7.1zM3342.7,838.1h7v1.3h-7zM3575.3,835.8h7.2v1.4h-7.2zM3579.8,830.5h5.2v1.7h-5.2zM3356.2,835.7h4.3v1.1h-4.3zM3376.8,836.4h2.7v1.8h-2.7zM3509.5,837.1h7.3v1h-7.3zM3607.5,827.9h4.8v1.9h-4.8zM3417.1,830.2h2.6v1.7h-2.6zM3400.8,831.3h7.2v1.4h-7.2zM3416.1,829.5h4.4v1.9h-4.4zM3479.1,827.1h2v1.9h-2zM3413.7,837.5h7.3v1.4h-7.3zM3377.3,821h2.6v1.1h-2.6zM3309.7,828.7h6.7v1.6h-6.7zM3612.4,816.1h6.4v1.7h-6.4zM3542.9,824.9h4.1v1.2h-4.1zM3622.9,821.9h7.5v1.6h-7.5zM3319.6,819.7h4.2v1.7h-4.2zM3447.6,837h3v1.9h-3zM3406.1,842.2h7.4v1.6h-7.4zM3354.3,830.6h5v1.3h-5zM3325.4,848.4h5.6v1.5h-5.6zM3334,836.8h6.8v1.2h-6.8zM3608.5,814.6h2.8v1.8h-2.8zM3362.8,834h3.6v1.1h-3.6zM3508.7,825.5h2.7v1.6h-2.7zM3550.2,824.6h7v1.2h-7zM3570,827.5h7.1v1.1h-7.1zM3481.5,839.5h3v1.4h-3zM3486.3,823.9h3.5v1.3h-3.5zM3625.9,824.9h4.4v1.8h-4.4zM3530.3,817.1h2.9v1.3h-2.9zM3634.9,814.7h3.7v1.9h-3.7zM3575.4,824.2h3.4v1.4h-3.4zM3584.4,820.6h7.8v1.4h-7.8zM3470.2,829.4h2.6v1.6h-2.6zM3502.8,834.1h3v1h-3zM3424.4,828.1h2.4v1.5h-2.4zM3358.6,840.2h2.4v1h-2.4zM3524.5,805.9h7.5v1.4h-7.5zM3566.3,802.7h4.9v1.4h-4.9zM3535.5,823.9h6.9v1.7h-6.9zM3546.8,821h6.3v1.5h-6.3zM3541.7,828.3h7.3v1.8h-7.3zM3492.3,832.1h5.1v1.3h-5.1zM3590.9,828.2h6.6v1.5h-6.6zM3631.3,829.2h3.8v1.9h-3.8zM3495.9,821.7h6.2v1.5h-6.2zM3492.6,830.9h2.2v1.9h-2.2zM3524.2,817.8h5v1.3h-5zM3317.1,830.9h6.7v1.9h-6.7zM3427.4,831.5h3.4v1.9h-3.4zM3528.6,820.9h7.5v1.7h-7.5zM3479.9,825.3h6v1.8h-6zM3412.9,827.6h3v1h-3zM3468.8,827.4h3.3v1.9h-3.3zM3457.4,824.8h7.2v1.8h-7.2zM3519.8,828.7h3.1v1.6h-3.1zM3499.2,811.2h4.4v1.2h-4.4zM3612.2,828.5h6.1v1h-6.1zM3478.8,825.5h2.5v1.2h-2.5zM3352.9,841.2h7.2v1.6h-7.2zM3409.9,826h5.3v1.8h-5.3zM3496.2,825h4.6v1.3h-4.6zM3405.7,833.8h6.6v1.6h-6.6zM3407.8,834.9h4.8v1.1h-4.8zM3570.8,830.3h5.3v1.6h-5.3zM3489,823.7h2.3v1.6h-2.3zM3395,837.9h3.8v1.4h-3.8zM3604.6,834.3h3.6v1.7h-3.6zM3443.9,820h2.7v1h-2.7zM3569.4,825.4h3.7v1.2h-3.7zM3446.5,827.5h4.9v1.7h-4.9zM3352.6,836.4h3.3v1.2h-3.3zM3403.7,830.2h6.3v1.1h-6.3zM3388.4,841.2h4.2v1h-4.2zM3593.1,822.4h4.3v1.7h-4.3zM3617.3,823.3h7.6v1.6h-7.6zM3625.9,837.6h3.9v1.7h-3.9zM3511.4,833.5h2.7v1.4h-2.7zM3511,820.7h5v1.9h-5zM3308.3,829.6h6.3v1.4h-6.3zM3373.2,834.3h4.1v1.6h-4.1zM3343.3,832.8h7.5v1.9h-7.5zM3630.5,829h6.9v1.2h-6.9zM3336.2,836.2h7.4v1.1h-7.4zM3370,820.1h7.2v1.5h-7.2zM3315.9,848.3h7.7v1.2h-7.7zM3577.7,817.6h4.5v1.8h-4.5zM3513.8,835.5h6v1.3h-6zM3538.3,813h4.1v1h-4.1zM3327.1,832.2h6v1.5h-6zM3433.9,813.8h3.9v1.3h-3.9zM3505.6,837h6.4v1.6h-6.4zM3629.9,811.5h7.6v1.3h-7.6zM3550.2,818h7.9v1.6h-7.9zM3323.6,835.2h5.9v1.7h-5.9zM3424.9,825.4h6.9v1.8h-6.9zM3554.8,824.6h4.1v1.7h-4.1zM3332.2,832.4h6.1v1.8h-6.1zM3382.9,843.7h3.5v1.4h-3.5zM3514.7,836.2h7.3v1.6h-7.3zM3567.9,814.6h6.8v1.2h-6.8zM3415,833.4h4.4v1.4h-4.4zM3409.1,831.2h3.2v1.8h-3.2zM3432.8,831.3h4.7v1.4h-4.7zM3360.8,839h4.5v1.8h-4.5zM3506.9,833h4v1h-4zM3361.8,832.2h3.2v1.6h-3.2zM3338.3,823.3h4.3v1.3h-4.3zM3599.7,832.1h5.6v1.9h-5.6zM3572.1,824.6h7.5v1.2h-7.5zM3545.2,815.8h3.8v1.4h-3.8zM3302.4,847.1h3.6v1.6h-3.6zM3348.7,821.7h2.1v1.5h-2.1zM3440.5,846.1h4.6v1.5h-4.6zM3491.7,828.3h4.3v1.8h-4.3zM3633,807h3.9v1.9h-3.9zM3484.5,822.3h3v1.6h-3zM3341.5,837.6h7.8v1.5h-7.8zM3453.1,839.6h5.1v1.8h-5.1zM3304.1,850.1h3v1.2h-3zM3491.3,824.4h3v1.8h-3zM3462.1,828.6h4.1v1.4h-4.1zM3480,830.8h6.6v1.3h-6.6zM3508.5,827.3h6.2v1.4h-6.2zM3612.3,813.2h2.5v1.6h-2.5zM3428.2,833.8h3.3v1.7h-3.3zM3587.5,818.3h5v1.3h-5zM3573.5,836.2h4.7v1.4h-4.7zM3364,831.4h4.4v1.4h-4.4zM3356.3,824.7h2.4v1.3h-2.4zM3521,828.5h3.3v1.7h-3.3zM3377.6,827.7h3.5v1h-3.5zM3620.1,816.6h3.2v1.5h-3.2zM3584.6,824.5h4.8v1.7h-4.8zM3307.7,832.7h6.3v1.6h-6.3zM3420.3,844.9h2.4v1h-2.4zM3500.2,829.4h2.9v1.8h-2.9zM3447.2,838.4h6.3v1.4h-6.3zM3354.9,828.7h2.2v1.3h-2.2zM3496.9,823.1h4.6v1.5h-4.6zM3312,818.9h2.3v1.5h-2.3zM3515.8,826.6h5.4v1.9h-5.4zM3314.9,841.7h3.9v1.1h-3.9zM3593,820.1h7.1v1.9h-7.1zM3384.3,839.2h7.5v1h-7.5zM3597.8,824.1h2v1.5h-2zM3588.4,804.9h7.3v1.5h-7.3zM3334.8,837.6h3.8v1.6h-3.8zM3390.1,826.1h3.9v1.5h-3.9zM3516,836.4h2.2v1.5h-2.2zM3409.5,831.3h6.3v1.7h-6.3zM3352.8,836.5h7.2v1.3h-7.2zM3534.8,824.5h5.6v1.2h-5.6zM3525.1,822.8h7.3v1.7h-7.3zM3510,818.7h6.8v1.4h-6.8zM3515.4,824.4h2.1v1.5h-2.1zM3570.4,823.3h2.5v1h-2.5zM3358.7,833.2h3.8v1.2h-3.8zM3594,821.5h6.9v1.3h-6.9zM3572.5,827.8h5.1v1.1h-5.1zM3393.6,828.9h6.1v1.2h-6.1zM3515.5,814.9h5.6v1.3h-5.6zM3529.7,834.7h6v1.8h-6zM3615.1,819.1h3.5v1.1h-3.5zM3635.7,841.8h6.5v1.6h-6.5zM3353.2,839.9h2.8v1.4h-2.8zM3332.5,833.3h2.3v1.4h-2.3zM3354.6,845.4h6.5v1.8h-6.5zM3618.1,826.7h7.7v1.7h-7.7zM3478.7,825h4v1h-4zM3539.3,829.2h6.4v1.9h-6.4zM3566.5,824.6h5.3v1.9h-5.3zM3380.7,821.6h5.6v1.6h-5.6zM3397.7,842.1h5v1.8h-5zM3625.2,818.1h6.8v1.5h-6.8zM3517.4,829.5h6.8v1.4h-6.8zM3433.7,838.1h7.8v1.4h-7.8zM3443,828.8h8v1.2h-8zM3502,833.3h7.3v1.3h-7.3zM3507.6,826.9h4.3v1.1h-4.3zM3394.3,830.2h3.8v1.4h-3.8zM3397.3,831.2h4.1v1.7h-4.1zM3509.9,817.7h2.8v1.8h-2.8zM3327,820.8h2.1v1.5h-2.1zM3304.3,831.8h5.9v1.6h-5.9zM3332.1,844.8h4.6v1.9h-4.6zM3494.3,828.9h7.9v1.3h-7.9zM3452.9,830.9h6.3v1h-6.3zM3304.2,831.9h7.8v1.1h-7.8zM3307.1,838.7h2.8v1.3h-2.8zM3590.6,820.8h2.3v1.4h-2.3zM3545.8,827.8h3.6v1.3h-3.6zM3303.9,833.3h2.6v1.2h-2.6zM3450.4,829.6h2.5v2h-2.5zM3470.7,833.1h3.1v1.5h-3.1zM3330.5,832.2h7.7v1.9h-7.7zM3507.5,841.6h2.7v1.3h-2.7zM3305.4,824.7h2v1.1h-2zM3635.7,810.2h7.9v1.5h-7.9zM3464.4,828.4h4.4v1.3h-4.4zM3534.5,816.3h3.9v1h-3.9zM3625.2,810.2h4.5v1.8h-4.5zM3516.2,822.3h2.8v1.8h-2.8zM3382.5,831h3.4v1.6h-3.4zM3551.1,835.8h6.1v1.6h-6.1zM3502.2,824.6h7.5v1.6h-7.5zM3318.2,822.1h4v1.2h-4zM3532.8,822.3h7.4v1.9h-7.4zM3632.3,817.5h5.4v1.4h-5.4zM3544.9,820.8h2.4v1.3h-2.4zM3373.9,823.4h3.6v1.5h-3.6zM3404.7,832.6h6.8v1.1h-6.8zM3382.2,837.1h4.4v1.6h-4.4zM3326.4,832.6h4.4v1.8h-4.4zM3440.6,836.7h2.2v1.3h-2.2zM3634.4,829.6h7.1v1.4h-7.1zM3462.5,826.5h4.1v2h-4.1zM3457.4,827.9h6.6v1.2h-6.6zM3480.2,827.1h4.7v1.1h-4.7zM3546.2,820.6h6.1v1.9h-6.1zM3457.4,839.3h4v1.8h-4zM3615.3,820h6.9v1.8h-6.9zM3376,825.4h4.5v1.1h-4.5zM3489.4,827.3h5.2v2h-5.2zM3367.2,825h5.1v1.2h-5.1zM3505.3,814.5h7.4v1.9h-7.4zM3478.5,835.6h2.9v1.2h-2.9zM3477.6,821.8h2.8v1.7h-2.8zM3463.9,811.7h4.4v1.5h-4.4zM3566.6,821.6h6.7v1.5h-6.7zM3339.6,833.9h2.8v1.3h-2.8zM3491.1,831.7h4.4v1.1h-4.4zM3479.1,825.5h7.6v1.8h-7.6zM3390.9,826.7h7.7v1.1h-7.7zM3479.3,830h3.5v1.5h-3.5zM3303.2,847.4h3.8v1.1h-3.8zM3479.1,817.5h3.2v1.9h-3.2zM3447.1,823.8h2.6v2h-2.6zM3497.7,829.8h6v1.6h-6zM3463.6,834.3h2.6v1.8h-2.6zM3313.1,828h5.7v1.9h-5.7zM3603.1,814.4h6.9v1.2h-6.9zM3364.7,840.3h5.4v1.5h-5.4zM3608.3,828.7h4.2v1.5h-4.2zM3362.4,837.3h3.1v1.5h-3.1zM3331,823.6h4.2v1.8h-4.2zM3356.5,843.1h7.2v1.7h-7.2zM3369.7,831h5.6v2h-5.6zM3436.5,838.4h6.1v2h-6.1zM3437.1,837.8h2.6v1.9h-2.6zM3372.4,831.5h4.6v1.3h-4.6zM3605.7,845.5h8v1.8h-8zM3523.7,818.6h2v1.8h-2zM3420.4,833.7h6.4v2h-6.4zM3548,819.5h4.1v1.3h-4.1zM3402.5,839.6h6.3v1.3h-6.3zM3431.7,820.2h3.5v1.7h-3.5zM3570,816.9h7.8v1.9h-7.8zM3624.6,818h4.2v1.7h-4.2zM3626,825.1h4.1v1h-4.1zM3605.6,816.9h2.7v1.4h-2.7zM3397.9,818.2h4.6v1.9h-4.6zM3405.2,826.1h6.5v1.7h-6.5zM3312.6,828.9h7v1.2h-7zM3451.8,826.7h3.2v1.5h-3.2zM3620.7,829.8h3.7v1h-3.7zM3319.5,829.9h5.2v1.6h-5.2zM3388.1,819.9h2.9v1.2h-2.9zM3320.8,841.6h4v1.3h-4zM3442.3,837.1h7.5v1.3h-7.5zM3315.3,843.5h6.4v1.2h-6.4zM3426.6,826.2h7.4v1.9h-7.4zM3318.1,846.4h4.5v1.6h-4.5zM3579.8,821.3h7.6v1.6h-7.6zM3550.1,826.7h6.4v1.5h-6.4zM3578.9,823h3.7v1h-3.7zM3557.4,825.7h6.7v1.8h-6.7zM3364.8,811.4h5.3v2h-5.3zM3614.5,822.7h3.4v1.8h-3.4zM3477.7,831.8h5.1v1.3h-5.1zM3429.9,840.9h5.6v1.8h-5.6zM3430,823.4h7.4v1.6h-7.4zM3628.8,814.8h3.3v1.7h-3.3zM3352.7,837.7h5.8v1h-5.8zM3377.6,839.2h3.8v1.7h-3.8zM3538.7,824.1h7v1.2h-7zM3346.9,837.4h4.1v1.2h-4.1zM3474.4,820.5h5.2v1.8h-5.2zM3417.1,840.3h7.5v1.6h-7.5zM3527,821.4h3.8v1.2h-3.8zM3543.2,827.2h4.4v1.4h-4.4zM3600.2,818.1h3.6v1.4h-3.6zM3320.3,838.7h6.1v1.2h-6.1zM3401,833.5h3.6v1.6h-3.6zM3634.1,814.4h4.5v1.8h-4.5zM3558.3,807.7h6.3v1.1h-6.3zM3320.4,846h7.4v1.2h-7.4zM3532.9,832.3h7.3v1.8h-7.3zM3584.4,816.2h5.9v1.9h-5.9zM3636,814.1h2.3v1.7h-2.3zM3497.2,810.9h6.1v1.7h-6.1zM3415.1,834.1h7.9v1.5h-7.9zM3332.5,833h7.3v1.4h-7.3zM3567.9,814.4h6.2v2h-6.2zM3552.3,822.6h4.4v1.7h-4.4zM3447.3,840.2h6.7v1.4h-6.7zM3537,824.5h2.2v1.3h-2.2zM3359.6,817.6h4v1.1h-4zM3353.8,837.9h5.6v1.3h-5.6zM3435.2,818.3h4.5v1.5h-4.5zM3467.6,823.6h3v1.5h-3zM3573,821.3h4v1.4h-4zM3366,838.1h7.1v1.7h-7.1zM3316.8,833.8h6.5v1.4h-6.5zM3395.8,844.6h2.8v1.8h-2.8zM3391,835.5h6.2v1.9h-6.2zM3560.5,828.2h7.2v2h-7.2zM3312.4,840.9h7.3v1.5h-7.3zM3303,837.2h7.9v1.1h-7.9zM3592.1,817.3h5.7v1h-5.7zM3627.8,831.2h2.8v1.8h-2.8zM3418,827.5h5.1v1.8h-5.1zM3496.2,819.6h7.2v1.4h-7.2zM3488.6,825.7h7.8v1.5h-7.8zM3575.5,839.6h5.6v1.8h-5.6zM3370.9,827.6h6.4v1.7h-6.4zM3621.5,825.6h3.1v1.4h-3.1zM3600.4,824.8h3.9v1.5h-3.9zM3546.5,830.6h6.2v1.4h-6.2zM3595.6,818.7h6.6v1h-6.6zM3480.3,834.4h4.1v1.2h-4.1zM3465.3,815.8h3.9v1.8h-3.9zM3560.9,824h6.4v1.4h-6.4zM3313.1,831.7h5.5v2h-5.5zM3472.4,836.8h7.2v1.4h-7.2zM3375.5,826.3h2v1.5h-2zM3359.4,824h7.6v1.7h-7.6zM3485,811.6h7.6v1.4h-7.6zM3333.9,830h2.5v1.9h-2.5zM3436.9,834.8h3.5v1.2h-3.5zM3365.1,820.4h3v1.5h-3zM3595.3,832.8h5.2v1.4h-5.2zM3416.6,830.6h4.5v2h-4.5zM3485.3,829.1h3.6v1.4h-3.6zM3452.4,822.9h5.3v1.7h-5.3zM3536.2,813.6h5.1v1.8h-5.1zM3328,831.6h7v1.7h-7zM3622.5,820.5h6v1.8h-6zM3435.3,830h4.7v1.8h-4.7zM3375.7,828.8h6.5v1.5h-6.5zM3474.1,825.9h2.8v1.1h-2.8zM3475.5,817.9h3.5v1.1h-3.5zM3618.9,821.9h3.6v1.3h-3.6zM3362.3,848.4h3.1v1.8h-3.1zM3488.6,835h7.1v1.5h-7.1zM3311.1,835.9h6v1.5h-6zM3439.9,840.9h7.8v1.5h-7.8zM3602.1,818.9h3.4v1.7h-3.4zM3565,823.9h3.3v1.1h-3.3zM3312.5,847.5h5v1.6h-5zM3467,834.5h3.1v2h-3.1zM3555.2,822.9h2.3v1.1h-2.3zM3506.9,831.3h3.5v1.7h-3.5zM3414.4,829.3h6.4v1.2h-6.4zM3323.5,840.4h2.5v1.6h-2.5zM3525.3,824.1h6.6v1.4h-6.6zM3512.2,824.2h6.3v1.5h-6.3zM3475.9,818h2.9v1.6h-2.9zM3308.1,831.1h6.7v1.9h-6.7zM3584.5,835.3h7.8v2h-7.8zM3435.7,826.6h2.9v1.6h-2.9zM3411,850.4h3v1.6h-3zM3488.5,815h5.6v1h-5.6zM3501.7,821.5h3.2v1.8h-3.2zM3547.5,828.4h4.5v1.2h-4.5zM3300.1,852.9h4.8v1.5h-4.8zM3399.4,835h5.8v1.4h-5.8zM3576.3,813.3h2.7v1.9h-2.7zM3366.6,836.2h6.4v1h-6.4zM3475,836.9h7.6v1.5h-7.6zM3473.3,829.1h6.8v1.3h-6.8zM3308.3,823.2h4.7v1.2h-4.7zM3542.4,833.9h7.9v1.9h-7.9zM3379.2,831.4h6.5v1h-6.5zM3577.3,826.3h3.8v1.9h-3.8zM3457.1,842.3h6.9v1.9h-6.9zM3349.1,828h3v1.7h-3zM3465.6,835.8h7.9v1.1h-7.9zM3453.4,841.1h4.4v1.2h-4.4zM3462.9,834.1h3.1v1.9h-3.1zM3581.4,829.6h2.4v1.7h-2.4zM3452.8,835.2h4v1.3h-4zM3612.6,828.6h5.8v1.5h-5.8zM3399.8,840.6h7.3v1.9h-7.3zM3333.6,837.4h6v1.7h-6zM3408,832.4h5.4v1.8h-5.4zM3328,834.5h3.4v1.4h-3.4zM3411.8,837.8h2.8v1.4h-2.8zM3408.7,835.1h3.5v1.3h-3.5zM3387.4,837.3h2.6v1.2h-2.6zM3595.3,812.7h2.8v1.6h-2.8zM3355.7,818.1h4.2v1.6h-4.2zM3355.7,828.5h4.3v1.7h-4.3zM3572.1,819.8h3.9v1.9h-3.9zM3405.5,829.7h6.6v1.7h-6.6zM3478.5,824.2h5.4v1h-5.4zM3620.2,824.7h4.9v1.9h-4.9zM3588.2,824.5h7.6v1.9h-7.6zM3356.8,830h4.3v1.6h-4.3zM3519.8,827.9h6v1.6h-6zM3468.5,831.6h3.6v1.4h-3.6zM3540.8,835.5h3.5v1h-3.5zM3538.9,811.1h5.2v1.9h-5.2zM3521.6,816.3h3.7v1.6h-3.7zM3579.5,817h4.5v1.2h-4.5zM3340.1,829.4h4.4v1.4h-4.4zM3584,823.9h3.4v1.1h-3.4zM3306.7,839.3h3.9v1.7h-3.9zM3364.7,832.9h6.4v1.1h-6.4zM3485.7,822.3h7.6v1.9h-7.6zM3319,843h5.3v1.7h-5.3zM3584.2,815.2h4.7v1.3h-4.7zM3506.9,829.2h6.1v1.7h-6.1zM3533,816.4h3.9v1.7h-3.9zM3430,833.7h3.5v1.3h-3.5zM3519.4,831.2h7v1.8h-7zM3486.1,828.9h4.1v1.1h-4.1zM3551.3,833.2h2.7v1.1h-2.7zM3446.2,837.8h3.2v1.2h-3.2zM3435,819.9h3.6v1.6h-3.6zM3336.5,840h5v1.9h-5zM3366.2,839.6h3.4v1.1h-3.4zM3332.9,827.3h3.7v1.6h-3.7zM3355.1,834.7h5.4v1.8h-5.4zM3342.8,827.6h4.4v1.3h-4.4zM3596.2,830.5h3.8v1.4h-3.8zM3499,818.4h5v1.3h-5zM3343,830.7h6.9v1.9h-6.9zM3395.9,830.9h4.4v1.4h-4.4zM3396.6,821.2h4.1v1.1h-4.1zM3577.4,820.2h3.2v1.4h-3.2zM3460.6,837.2h5v1.8h-5zM3574.3,825.6h4.2v1.7h-4.2zM3414.1,828.3h3.6v1.3h-3.6zM3325.2,837.5h3.8v1.1h-3.8zM3388.4,835h4.2v2h-4.2zM3609.7,835.6h6.8v1.9h-6.8zM3357,823.1h6.7v1.9h-6.7zM3505.8,825.4h4.1v1.2h-4.1zM3558.1,822h4.4v1h-4.4zM3611.1,822.5h7.6v1.7h-7.6zM3633.4,817.3h2.8v1.8h-2.8zM3574.4,822.8h5.6v1.1h-5.6zM3349.7,842.3h7.2v1.2h-7.2zM3520,823.5h5.2v1.5h-5.2zM3529.4,829.7h7.8v1.6h-7.8zM3460.8,830.9h3.6v1.6h-3.6zM3364.9,829.6h2.5v1.4h-2.5zM3395.3,831.5h6.2v1.9h-6.2zM3430.8,818.9h5.9v1.1h-5.9zM3586.9,822.4h6.1v1.3h-6.1zM3477.5,834.1h5.7v1.8h-5.7zM3445.3,827.6h4.6v1h-4.6zM3424.9,832.8h6.1v1.4h-6.1zM3576.1,825.5h4.5v1.3h-4.5zM3437.4,828.6h5.4v1.1h-5.4zM3452.6,830h7.4v1.7h-7.4zM3428.5,837.3h3.7v1.3h-3.7zM3524.1,828.3h2.9v1.5h-2.9zM3555.4,837.1h2.7v1.6h-2.7zM3615,812.4h3.4v1.8h-3.4zM3631.6,817.6h7.2v1.1h-7.2zM3446.5,831.5h7.2v1.8h-7.2zM3439.2,839.6h6.2v1.3h-6.2zM3441.7,838.3h3.7v1.8h-3.7zM3319.4,842.5h4.2v1.7h-4.2zM3375.1,841.7h5.6v1.1h-5.6zM3379.2,820h2.7v1h-2.7zM3383.4,829.6h3.2v1.5h-3.2zM3579.7,819.9h5.3v1.1h-5.3zM3416.4,828.9h4.9v1.9h-4.9zM3440.9,838.4h3.3v1.7h-3.3zM3559.3,828.9h3v1.6h-3zM3613.4,824.2h3.8v1.5h-3.8zM3409.4,835.3h2.3v1.7h-2.3zM3301.5,830.7h6.7v1.2h-6.7zM3492.2,823.1h3.1v1.4h-3.1zM3562.1,814.6h5.8v1.2h-5.8zM3476.9,822.7h5.2v1.6h-5.2zM3535.4,838.4h5.1v1.4h-5.1zM3393,822h7.3v1.3h-7.3zM3539.9,819.5h5.6v1.7h-5.6zM3535,822.1h7.9v1.2h-7.9zM3550.4,809.9h5v1h-5zM3320.9,832.1h6.4v1h-6.4zM3328.3,823.9h7.1v1.5h-7.1zM3581,831.1h6.6v1.1h-6.6zM3542.9,821.6h5.8v1.2h-5.8zM3410.8,838.1h2.5v1.2h-2.5zM3396.3,821.7h7v1.9h-7zM3579.5,817.2h5.8v1.6h-5.8zM3516.3,833.7h7.5v1.6h-7.5zM3310.7,835.6h5.3v1.8h-5.3zM3413.5,835.7h5v1.2h-5zM3498.6,825h6.1v1h-6.1zM3565.4,811h4.9v1.4h-4.9zM3630.4,817.7h7.5v1.3h-7.5zM3468.9,835.4h5v1.3h-5zM3478.2,813.3h6.3v1.8h-6.3zM3503.6,831.2h3.1v1.4h-3.1zM3599.6,834.1h7.6v1.5h-7.6zM3546.8,833.2h2.1v1.4h-2.1zM3493,838h6.9v1.2h-6.9zM3399.5,846.1h4.2v1.4h-4.2zM3491,828.6h4.6v1.1h-4.6zM3305.3,829.5h2.4v1.7h-2.4zM3560.1,818.6h2.5v1h-2.5zM3595,836.4h2.9v2h-2.9zM3507.1,825.8h2.6v1.6h-2.6zM3555.1,835.8h5v1.1h-5zM3372,832.4h4.7v1h-4.7zM3329.4,830h7.9v1.3h-7.9zM3477.9,839.5h6.6v1.5h-6.6zM3472.3,833.4h2.1v1.4h-2.1zM3341.6,840.6h2.9v1.8h-2.9zM3398.6,830.4h5.6v1.7h-5.6zM3391.7,833.7h7.2v1.5h-7.2zM3541.4,830.1h2.2v1.1h-2.2zM3349.7,835.8h6.3v2h-6.3zM3435.9,836.8h2.7v1.3h-2.7zM3502.7,824.4h2.2v1.9h-2.2zM3635.2,815.3h3.8v1.6h-3.8zM3441,827.5h7.2v1.6h-7.2zM3339.8,829.5h7.2v1.9h-7.2zM3403.6,825.2h6.7v1.2h-6.7zM3376,836.7h2.5v1.7h-2.5zM3589,833.1h6v1.1h-6zM3421,829.7h2.6v1.3h-2.6zM3424,832.9h5.8v1.6h-5.8zM3396.9,824.6h3.6v1.1h-3.6zM3621.3,818.1h4.8v1.8h-4.8zM3471,820.1h5.7v1.9h-5.7zM3488.7,833.2h5.8v1.8h-5.8zM3341.5,838.9h6.3v2h-6.3zM3418.8,832.7h4.2v1.6h-4.2zM3302.7,830.2h3.1v1.5h-3.1zM3354.8,839h6.3v1.9h-6.3zM3555.4,826.3h5.9v1.1h-5.9zM3323.9,831h4.6v1.9h-4.6zM3414.3,838.3h7v1.3h-7zM3433.7,827.5h3.5v1.9h-3.5zM3309.7,835.1h7.1v1.6h-7.1zM3365.6,829.9h6.6v1.7h-6.6zM3563,815.6h5.6v1.9h-5.6zM3632,814.2h6.6v1.2h-6.6zM3636.6,825.5h5v1.7h-5zM3588.4,821.6h6.5v1.8h-6.5zM3433.5,832.3h7.3v1.3h-7.3zM3571.6,823.2h4.2v1.3h-4.2zM3363.1,830.5h7.2v1.3h-7.2zM3390.9,827.6h3.7v1.3h-3.7zM3613.8,816h6.6v1.8h-6.6zM3425.9,816.5h6.9v1.5h-6.9zM3370.7,838.8h6.4v1.4h-6.4zM3572.9,827.4h2v1.1h-2zM3336.1,839h7.9v1.7h-7.9zM3446.1,827.9h6.9v1.6h-6.9zM3388.5,826.4h7.1v2h-7.1zM3620.5,815.4h5.2v1.4h-5.2zM3302.7,841.1h7v1.4h-7zM3521.4,818.9h6.8v1.3h-6.8zM3379.9,829.8h3.3v1.7h-3.3zM3515.1,830.7h3.9v2h-3.9zM3559.6,820.4h3v1.4h-3zM3315.1,838.8h3.4v1.2h-3.4zM3480.7,827.6h2.4v1.9h-2.4zM3326.8,844.1h7.6v1.5h-7.6zM3598.5,825.9h6.5v1.5h-6.5zM3506.2,833.7h6.1v1.2h-6.1zM3610.2,828.8h4.4v1.7h-4.4zM3592.4,821.1h6.9v1.4h-6.9zM3426.8,838.3h3v1.5h-3zM3486.6,823.4h2.9v1.1h-2.9zM3420.7,828.1h7.9v1.2h-7.9zM3306.8,830.7h4.8v1.6h-4.8zM3413.8,829.6h3.3v1.3h-3.3zM3386.7,823.2h4.9v1.4h-4.9zM3317.1,834.9h6.8v1.8h-6.8zM3620.6,827.3h2.2v1.2h-2.2zM3323.4,843.3h3.7v1.8h-3.7zM3397.5,826.1h3.6v1.6h-3.6zM3627.7,820.4h6.8v1.5h-6.8zM3611.2,816.9h7.9v1.8h-7.9zM3535.2,829.3h7.4v1.7h-7.4zM3326.5,827.5h7.8v1.7h-7.8zM3434.5,831.1h4.2v1.4h-4.2zM3480.9,831h5.4v1.3h-5.4zM3489.6,810.4h6v1.6h-6zM3336.2,834h7.6v1.6h-7.6zM3324.8,839.5h3v1.4h-3zM3355.6,831.6h6.6v1.6h-6.6zM3400.3,841h6.3v1.2h-6.3zM3606.2,822h3v2h-3zM3626.5,831h5.1v1.3h-5.1zM3512,818.2h3.6v1.1h-3.6zM3423.5,836h6.3v1.3h-6.3zM3501.8,835.8h3.6v1.8h-3.6zM3580.1,816.8h5.5v1.1h-5.5zM3499.3,833h3.3v1.7h-3.3zM3342.4,836.7h2.6v1.8h-2.6zM3435.6,838.4h4.7v1.8h-4.7zM3469.4,826.6h3.9v1.6h-3.9zM3567.3,819.3h5.1v1.8h-5.1zM3373.2,825.6h3.7v1.7h-3.7zM3396.7,829.6h7v1.5h-7zM3629.5,826.2h2.1v1.7h-2.1zM3574,817.1h3v1h-3zM3499.1,825.3h3.4v1.7h-3.4zM3476.5,821.9h7.5v1.9h-7.5zM3359.6,828.7h5.9v1h-5.9zM3370.5,838.1h4.3v1.7h-4.3zM3521.9,825.7h2.1v2h-2.1z"/><path fill="#fff" d="M3191.3,837.5h3.2v1.5h-3.2zM3289.2,818.8h4.3v1.9h-4.3zM3195.9,808.2h2.4v1h-2.4zM3187.4,859.3h1.6v1.3h-1.6zM3188.5,816.8h3.4v1.9h-3.4zM3275.8,815h4.4v1.9h-4.4zM3207.4,820.9h2.8v1.8h-2.8zM3289.1,841.5h2.9v1.4h-2.9zM3229.4,823.1h4v1.6h-4zM3218.3,851.7h4.2v1.2h-4.2zM3222.9,846.7h4.1v1.1h-4.1zM3191.7,856.2h4.2v1.2h-4.2zM3222.8,850.3h3.3v1.8h-3.3zM3202.7,834.1h2.7v1.8h-2.7zM3216.3,853.1h3v1.2h-3zM3249,817.9h1.9v1.9h-1.9zM3278.6,829.6h2.8v1.6h-2.8zM3248,844.3h2.4v1.8h-2.4zM3213.2,862.1h4.8v1.3h-4.8zM3246.6,851.7h2.3v2h-2.3zM3229.1,839.7h2.7v1.4h-2.7zM3189.7,866.2h4.6v1.8h-4.6zM3289.8,861.8h3.7v1h-3.7zM3285.5,856.3h3.4v1.5h-3.4zM3249.3,853.1h3.4v1.4h-3.4zM3188.6,832.7h1.8v1.4h-1.8zM3276.1,857.6h3.3v1.7h-3.3zM3227.1,842.8h4.6v2h-4.6zM3210.8,855.6h2.8v1.5h-2.8zM3224.1,818.1h2.3v1.9h-2.3zM3243.2,817.8h4.9v1.8h-4.9zM3264,841.7h3.6v1.1h-3.6zM3199.9,849.2h3.8v1.4h-3.8zM3269.7,822h2.1v1.1h-2.1zM3282.7,840.8h3.5v1.7h-3.5zM3193.1,862.6h4.9v1.2h-4.9zM3205.8,860.8h3.3v1.2h-3.3zM3286.9,859.9h2.8v1.6h-2.8zM3260.1,830.2h3.5v1.4h-3.5zM3272.9,822.1h3.1v1.1h-3.1zM3245.8,811.7h2.7v1.8h-2.7zM3239.8,829.3h3.2v1.1h-3.2zM3207.8,865h2v1.8h-2zM3261.4,847.4h4.2v1.1h-4.2zM3219.5,829.3h2.3v1.2h-2.3zM3213.6,867.7h2.8v1.8h-2.8zM3262.4,854h3.2v1.5h-3.2zM3200,862.8h2.8v1.7h-2.8zM3275.6,843.4h2.8v1.9h-2.8zM3190.8,854.8h2.5v1.7h-2.5zM3204.1,863.1h3.2v1.1h-3.2zM3268.4,829.4h1.8v1.8h-1.8zM3189.3,820.8h2.2v1.4h-2.2zM3287.1,812.5h5v1.3h-5zM3226,857h4.5v1.1h-4.5zM3256,836h1.8v2h-1.8zM3225.2,851.1h4.1v1.2h-4.1zM3211.3,832.3h4.6v1.8h-4.6zM3251.9,829.4h2.6v1.4h-2.6zM3222.5,836.8h2.9v1.3h-2.9zM3262.8,862.5h4.6v1.2h-4.6zM3243.8,818.8h4.6v1.5h-4.6zM3181.5,858.4h3.9v1.1h-3.9zM3274.5,811.8h4.6v2h-4.6zM3228.8,845.2h2.9v1.5h-2.9zM3271.2,857h2.9v1.8h-2.9zM3215.3,856.7h2.6v1.8h-2.6zM3209.2,840h2.1v1.1h-2.1zM3225.4,813h2v1.4h-2zM3264,830.8h1.6v1.4h-1.6zM3226.5,823.5h2.7v1.5h-2.7zM3236.7,845.7h4.8v1.9h-4.8zM3255.3,830.8h1.6v1.4h-1.6zM3210.3,846.5h2.2v1.6h-2.2zM3209,818.4h1.7v1.5h-1.7zM3193.7,819.9h2.5v1.2h-2.5zM3181.4,815.6h4.1v1.4h-4.1zM3254.1,851h3.6v1.6h-3.6zM3273.2,813h2.6v1h-2.6zM3229.4,861.7h3.3v1.9h-3.3zM3247.4,810.8h1.8v1.7h-1.8zM3285,817.8h4.7v1.7h-4.7zM3195.2,826.5h4.5v1.9h-4.5zM3255.8,866.9h4.2v1.9h-4.2zM3222.9,835.3h2.6v1.2h-2.6zM3213.4,816.9h4.8v1.6h-4.8zM3285,816.6h3.7v1.4h-3.7zM3280.3,809.1h3.6v1.5h-3.6zM3186,837.4h2.5v1.3h-2.5zM3184.6,859.3h2.2v1.9h-2.2zM3195.3,862.4h4.9v1.5h-4.9zM3274.4,824h2v1.7h-2zM3242.5,860.8h3.4v2h-3.4zM3226.4,833.2h4.2v2h-4.2zM3215.9,823.4h4.3v1.3h-4.3zM3197.2,842.9h2.5v1.1h-2.5zM3248.3,832.4h1.9v1.3h-1.9zM3225.9,817.1h3.9v1h-3.9zM3226.4,827.5h4.7v1.1h-4.7zM3188.4,828.2h4.9v1.5h-4.9zM3276.1,810.6h4.3v1.7h-4.3zM3287.4,819.5h1.9v2h-1.9zM3282.8,839.9h4.7v1.8h-4.7zM3243.6,836.9h1.6v1.7h-1.6zM3262.2,844.4h4.2v1.5h-4.2zM3205.9,866.9h1.8v1.3h-1.8zM3202.6,845.8h3.1v1.6h-3.1zM3231.4,845.9h1.9v1.4h-1.9zM3240.2,845.7h3v1.1h-3zM3257,839.1h4.9v1.3h-4.9zM3254.8,810.6h3.9v1.1h-3.9zM3247.5,847.4h4v1.5h-4zM3233.3,815.4h2.4v1.8h-2.4zM3285.2,828.7h3.4v1.3h-3.4zM3211,857.2h4.4v1.6h-4.4zM3275.6,808.3h4.7v1.1h-4.7zM3182.4,815.2h2.4v1.5h-2.4zM3186.4,864.6h3v2h-3zM3258.2,823.9h2.2v1.8h-2.2zM3243.3,813.8h2.4v1.1h-2.4z"/><path fill="#fff" d="M1034.9,869.9h1.7v1h-1.7zM1480.3,868.8h1.1v1.2h-1.1zM764.1,871.7h1.1v1.6h-1.1zM1072,860.6h1.8v1.4h-1.8zM671.6,858.7h2.6v1.2h-2.6zM1315.3,859.4h2.4v1h-2.4zM967.1,861.4h2.6v1.4h-2.6zM1115.4,856.3h2.7v1.5h-2.7zM938.2,865.5h1.5v1.2h-1.5zM980.7,861.4h1.3v1.5h-1.3zM1193.3,856.7h2.9v1.3h-2.9zM876,869.4h1.2v1.1h-1.2zM1529.9,855.3h1.9v1.6h-1.9zM676.6,870.6h1.3v1.5h-1.3zM271.7,862.6h2.9v1.5h-2.9zM1148.9,862.1h2.5v1.4h-2.5zM477.2,866.6h2.6v1.4h-2.6zM574.4,860.4h1.4v1.2h-1.4zM794.7,868.3h2.5v1.1h-2.5zM1312.2,866.3h1.7v1.3h-1.7zM410.1,856.2h1.5v1.5h-1.5zM507.9,858.2h2v1.2h-2zM538.8,862.9h3v1.3h-3zM1383,868.9h1.3v1.3h-1.3zM834.1,868.5h2.4v1.4h-2.4zM1426.4,855.1h1.2v1.3h-1.2zM1115.1,865.7h2.7v1.1h-2.7zM405.4,859.6h2.4v1.2h-2.4zM1205.9,863.4h1.6v1.3h-1.6zM868.1,869.1h2.6v1.1h-2.6zM550.2,869.1h2.7v1.5h-2.7zM750.5,855.4h2.1v1.6h-2.1zM1026.6,866h1.1v1.2h-1.1zM497.7,854.5h1.4v1.2h-1.4zM915.5,864.6h2.1v1.2h-2.1zM466.8,862.4h2.8v1.5h-2.8zM1450,869.9h2.1v1.3h-2.1zM555.5,867.2h2.2v1.2h-2.2zM348.7,856.4h2.4v1.3h-2.4zM1271.6,855.2h2.4v1.5h-2.4zM309.7,871.6h1.1v1.4h-1.1zM958.6,858.9h1.7v1h-1.7zM1248,853.4h2.9v1.6h-2.9zM1348.1,855.4h2.2v1.5h-2.2zM792.1,861.1h2.6v1h-2.6zM754.2,869h2.6v1.6h-2.6zM1388.4,856.8h2.9v1.1h-2.9zM980.3,863.9h2.3v1.4h-2.3zM566.3,869.5h1.3v1.4h-1.3zM275.2,870h2.8v1.2h-2.8zM982.8,862.2h2.9v1.2h-2.9zM368.6,860.5h1.6v1.2h-1.6zM1271.4,860.3h1.3v1.1h-1.3zM1391.9,861.8h1.4v1.3h-1.4zM411.4,862.1h1.5v1.2h-1.5zM1471.1,862.2h2.5v1.2h-2.5zM518.3,859.6h1.4v1.3h-1.4zM1138.6,858h2.4v1.3h-2.4zM1294.7,867.5h2.9v1.4h-2.9zM352.3,859.5h1.8v1.5h-1.8zM1388.3,857.1h2.8v1.2h-2.8zM1138.6,865.7h1.9v1.3h-1.9zM877.8,866h2.7v1.3h-2.7zM1402.5,862.5h1.1v1.4h-1.1zM688.1,867h1.6v1.4h-1.6zM518.3,865.3h2.2v1.4h-2.2zM312.1,861.6h2.5v1.3h-2.5zM646.9,867.3h2.4v1.3h-2.4zM1355.8,865.9h3v1.4h-3zM1515.9,867h1.9v1h-1.9zM1219.4,861.1h2.7v1.5h-2.7zM1344.8,863.4h2.3v1.4h-2.3zM845.7,860.6h3v1h-3zM1389.5,855.5h1.2v1.5h-1.2zM289.2,865.6h1.5v1.5h-1.5zM998.6,857.4h2.2v1.4h-2.2zM1364.5,853.4h2.8v1.5h-2.8zM570.1,864.4h2v1.4h-2zM585.1,870.5h2.4v1.3h-2.4zM1492.6,860h2.1v1.4h-2.1zM1065.5,859.4h2.2v1.3h-2.2zM1207.7,859.9h1.9v1.4h-1.9zM509.3,863.4h2.8v1.4h-2.8zM915.5,855.5h2.1v1.2h-2.1zM754.8,866.6h2.9v1.3h-2.9zM509.7,865.9h1.9v1.5h-1.9zM1243.4,859.8h2.6v1.3h-2.6zM1182,854.2h1.6v1.5h-1.6zM297.6,866.1h2.9v1.5h-2.9zM466.7,855.4h1.8v1h-1.8zM1062.4,865.5h2.4v1.5h-2.4zM682.6,853.3h1.4v1.5h-1.4zM461.1,855h2.4v1.4h-2.4zM1452.5,868.4h2.8v1.5h-2.8zM286.1,871h1.5v1.1h-1.5zM1434.4,858.7h1.3v1.3h-1.3zM1336.4,859.2h2.7v1.6h-2.7zM959.2,857.4h1.6v1.1h-1.6zM839.6,860.5h1.6v1.2h-1.6zM608,869.3h2.8v1.3h-2.8zM419.9,858.6h2.4v1.6h-2.4zM1245.5,854.2h1.7v1h-1.7zM994.6,860.5h1.9v1.2h-1.9zM385.6,867.9h1.7v1h-1.7zM530.8,853.9h2.7v1.1h-2.7zM1480.9,871.5h1.2v1.5h-1.2zM547.6,866.5h2.9v1.3h-2.9zM547.3,865.5h2.2v1.1h-2.2zM965.1,862.7h1.8v1.2h-1.8zM1459.7,865.5h1.8v1.3h-1.8zM1078.5,869.5h1.9v1.5h-1.9zM474.3,866.9h2.4v1h-2.4zM1100.8,854.4h2.8v1.3h-2.8zM463.8,866.9h1.5v1h-1.5zM994.6,868.2h2.4v1.5h-2.4zM1186.5,860.3h1.4v1.2h-1.4zM1343.7,853.4h1.2v1.6h-1.2zM283.3,863.5h2.8v1.3h-2.8zM1229.8,853.6h2.5v1.4h-2.5zM1086.8,858.2h2.2v1.5h-2.2zM1359.2,854.5h2.8v1.4h-2.8zM973.5,867h2.5v1.3h-2.5zM1378.9,869.6h2.6v1.1h-2.6zM768.9,870.5h2.1v1.1h-2.1zM1310.2,856.3h2.9v1.4h-2.9zM1492.9,858.9h2.8v1.2h-2.8zM368.4,867.3h2.9v1.6h-2.9zM442.5,863.6h2.3v1.2h-2.3zM1212.5,860.2h2.7v1.3h-2.7zM823.9,862.5h1.8v1.3h-1.8zM1171.3,859.3h1v1.4h-1zM850.4,869.4h1v1.5h-1zM658.5,868.5h1.6v1.1h-1.6zM1104.2,857h2.6v1.3h-2.6zM1368.3,865.8h1.9v1.4h-1.9zM341.7,854.9h1.5v1.3h-1.5zM1427.2,853.2h1.5v1.1h-1.5zM1327.6,869.8h2.1v1.1h-2.1zM1335.7,859.3h2.2v1.5h-2.2zM706.9,857.1h1.1v1.6h-1.1zM316.7,868.6h2.9v1.3h-2.9zM444.1,866.1h1.4v1.3h-1.4zM696.8,866.8h2.5v1.4h-2.5zM925.9,867.1h1.4v1.1h-1.4zM492.8,856.6h1.9v1.1h-1.9zM1465.5,854.3h2.9v1.5h-2.9zM984,863h2.6v1.2h-2.6zM1319.7,861.2h2.6v1.3h-2.6zM1529.5,864.7h2.3v1.1h-2.3zM1557.8,854.2h1.1v1.2h-1.1zM1536,858h1.1v1.2h-1.1zM1256.4,868h1.2v1.2h-1.2zM823.1,856.3h1.3v1.2h-1.3zM765.3,864.5h2.3v1.4h-2.3zM815.1,856.3h1.2v1.1h-1.2zM1217.4,856.6h1.9v1.1h-1.9zM611.5,867.2h2.6v1.3h-2.6zM1076.1,865.1h2.6v1h-2.6zM616.7,868.1h3v1.4h-3zM1333.2,856.5h1.1v1.6h-1.1zM583,858.3h2.3v1.3h-2.3zM1358.6,857.6h1.4v1h-1.4zM1291.2,865.4h2.4v1.2h-2.4zM525.7,866.8h2.6v1.2h-2.6zM676,868.1h2.6v1.1h-2.6zM607.6,867.4h2.4v1.2h-2.4zM1301.9,866.1h1.9v1.3h-1.9zM540.1,860.7h1.2v1.3h-1.2zM364.2,853.2h2.9v1.1h-2.9zM682.3,869.8h1.2v1.3h-1.2zM914.4,864.1h2.3v1.3h-2.3zM1433.4,865.2h1.3v1.3h-1.3zM337.2,858h2.8v1h-2.8zM712.3,854.3h2.8v1h-2.8zM997.1,861.8h2.8v1h-2.8zM289.9,868.7h1.4v1.3h-1.4zM1444.6,859h1.4v1.5h-1.4zM1305,871.9h2.6v1.4h-2.6zM538.2,867.3h2.1v1.3h-2.1zM1025.3,855.9h2.9v1.2h-2.9zM1469.8,867.8h2.3v1.2h-2.3zM1172.9,860h2.8v1.2h-2.8zM1377.9,853.9h2.6v1.3h-2.6zM1044.6,864.8h3v1.4h-3zM1492.2,866.4h1.9v1.6h-1.9zM1245.7,866.3h2.8v1.1h-2.8zM503.1,864.5h1.7v1.1h-1.7zM619.3,853.8h2.7v1.1h-2.7zM305.5,863.5h1.5v1.1h-1.5zM939.9,860.9h1.8v1.4h-1.8zM483.5,862.3h2.8v1.2h-2.8zM1218,860.1h1.5v1.2h-1.5zM362.2,858.4h1.6v1.5h-1.6zM1368.7,867.5h2v1h-2zM1158.6,862.6h2.6v1.3h-2.6zM328.9,862.9h1.2v1.5h-1.2zM334.7,861.3h1.3v1.3h-1.3zM335.2,871.6h2.3v1.5h-2.3zM760.1,859.5h1.8v1h-1.8zM1166,863.3h2.2v1.2h-2.2zM340.7,865.6h2.7v1.2h-2.7zM794.9,857.9h1.5v1.4h-1.5zM965.5,871.7h2.2v1.1h-2.2zM608,865.8h1.7v1.4h-1.7zM1116.3,867.9h2.2v1.3h-2.2zM921.5,858h1.4v1.5h-1.4zM1146.1,863.9h2.6v1.1h-2.6zM1042.8,869h2.1v1.5h-2.1zM432,871.1h1.6v1.4h-1.6zM1511.8,863.6h1.6v1.6h-1.6zM603.6,866.6h2.2v1.3h-2.2zM1274.6,870.6h2.9v1.5h-2.9zM1331.8,853.6h1.7v1.3h-1.7zM883,870.8h2.8v1.3h-2.8zM1457,859.7h2.6v1.1h-2.6zM1546.6,861.6h2.9v1.2h-2.9zM629.7,858.3h1.6v1.1h-1.6zM1286.9,862.7h2v1.2h-2zM891,861.7h1v1.2h-1zM490.4,858.7h1.9v1.6h-1.9zM753.2,869.9h2.5v1.6h-2.5zM1323.7,870.9h1.3v1.5h-1.3zM721.8,860.5h1.2v1.1h-1.2zM1145.4,857.2h2.3v1.2h-2.3zM1088.4,864.9h1.4v1.5h-1.4zM1189.4,863.7h2.2v1.4h-2.2zM727.2,864.6h1.3v1.6h-1.3zM1173.4,867.6h2.5v1.5h-2.5zM866.5,857.8h1.1v1.3h-1.1zM469.3,861.8h1.1v1.5h-1.1zM730.8,858.8h2.6v1.2h-2.6zM876,865.6h1.1v1.2h-1.1zM1553.8,866h1.3v1.6h-1.3zM1469.9,865.4h1v1.2h-1zM767.6,856.4h2.2v1.2h-2.2zM1135.4,857.7h2.8v1.2h-2.8zM288.7,869.1h1.4v1h-1.4zM1492.9,859.1h2.4v1.1h-2.4zM1313.8,869h1.6v1.1h-1.6zM444.9,864.1h1.8v1.5h-1.8zM746.5,862.6h1.8v1.2h-1.8zM346,864.3h1.6v1.5h-1.6zM1113.4,865h2.7v1.1h-2.7zM1419,868.5h1.4v1.1h-1.4zM328.5,861.5h1.2v1.5h-1.2zM627.1,857.3h2.8v1.2h-2.8zM702.2,863.6h2.1v1.2h-2.1zM1067.3,857.1h2.3v1.2h-2.3zM561.5,859.5h1.5v1.5h-1.5zM1249.1,855.1h2.8v1.5h-2.8zM392.8,862.4h2v1.3h-2zM296,870.4h1.9v1.4h-1.9zM979.4,870.6h1.6v1.4h-1.6zM680.6,870.6h1.6v1h-1.6zM896.9,866.4h1.8v1.4h-1.8zM1229.2,857.3h1.8v1.6h-1.8zM937.3,869.7h1.8v1.1h-1.8zM1406.2,861.6h1v1.4h-1zM961.7,868.7h2.9v1.4h-2.9zM438.3,854.8h2.7v1.4h-2.7zM1325.1,863.4h2.2v1h-2.2zM818.7,863.7h1.6v1h-1.6zM1409.8,855.9h2v1.4h-2zM904.1,869.9h1.5v1.5h-1.5zM1383,863.4h1.8v1.5h-1.8zM901,871.3h1.3v1.1h-1.3zM491.8,869h1.9v1.3h-1.9zM1132.5,856.9h1.9v1.4h-1.9zM304.4,861.3h2.2v1.3h-2.2zM525.1,854.2h2.9v1.5h-2.9zM984.1,866.8h1v1.6h-1zM705.8,861.5h1.1v1.2h-1.1zM421.1,859.4h1.8v1.4h-1.8zM437.8,869.5h2.9v1.1h-2.9zM462.7,867.9h1.7v1.2h-1.7zM612.6,856.6h2.8v1.4h-2.8zM548.3,872h1.7v1.5h-1.7zM1215.8,861.3h2.3v1.2h-2.3zM1211.4,856.9h1.3v1.2h-1.3zM1179.6,866.6h1.6v1h-1.6zM981.4,867.2h1.1v1.1h-1.1zM859.8,856.7h1.8v1.1h-1.8zM1176.8,867.8h2.9v1h-2.9zM446.4,869.7h2.4v1.4h-2.4zM292.8,871.9h1.6v1h-1.6zM411,855.7h2.3v1.2h-2.3zM661.1,856.2h1.6v1.5h-1.6zM744.7,853.1h3v1.6h-3zM750.5,865.3h1.2v1.3h-1.2zM337.7,857.5h2.9v1.1h-2.9zM949.6,864.3h1.4v1.6h-1.4zM921.3,854.5h2.5v1.3h-2.5zM494.8,859.8h2.1v1.3h-2.1zM837.1,853.1h1.2v1.2h-1.2zM1529.1,856.3h1.5v1.3h-1.5zM668.6,869.7h2.5v1.4h-2.5zM450,860h2.6v1.3h-2.6zM455.9,869.2h2.8v1.5h-2.8zM1037.7,856.1h1.7v1.3h-1.7zM1007.6,863.2h1.3v1.4h-1.3zM1313.9,857h1.1v1.2h-1.1zM774.3,870.6h1.5v1.5h-1.5zM1332,855.5h2.8v1.3h-2.8zM1383,868h2v1.5h-2zM692.2,859.1h2.2v1.2h-2.2zM541.4,868.3h2.6v1h-2.6zM1181.8,870.5h2.6v1.1h-2.6zM382.8,861.5h2.8v1.5h-2.8zM303.4,870.1h2.3v1.4h-2.3zM576.2,864.9h2.9v1.3h-2.9zM1448.1,866.1h1.5v1.2h-1.5zM604.2,858.7h2.3v1.3h-2.3zM1434.5,856.8h1.3v1.1h-1.3zM590.8,866.6h1.3v1.4h-1.3zM1446.6,864.9h1.4v1.5h-1.4zM1352.1,863h1.8v1.4h-1.8zM396.7,865.5h1.5v1.4h-1.5zM670.8,860.1h2.9v1.2h-2.9zM1286.5,855h2.4v1h-2.4zM923.6,869.9h1.5v1.2h-1.5zM1451.7,861.2h2.3v1.4h-2.3zM1204.9,871.3h2.9v1h-2.9zM336.9,867.1h1.4v1.4h-1.4zM417.8,861.7h1.9v1.3h-1.9zM986.6,855.4h1.9v1.6h-1.9zM347.8,868h2.1v1.1h-2.1zM1134,859.5h2v1.1h-2zM1555.8,870.7h2v1.3h-2zM777.2,864h2.3v1.5h-2.3zM458,870.3h1.1v1.6h-1.1zM549.9,862.3h2.7v1.2h-2.7zM404.5,865.9h2.5v1.2h-2.5zM1120,869h1v1.4h-1zM1073.9,861.6h1.4v1.2h-1.4zM796.7,868.5h2.5v1.3h-2.5zM660.5,869.6h1.1v1.2h-1.1zM701.7,862.2h1.1v1.3h-1.1zM455.3,854.1h3v1.5h-3zM703.2,865.4h1.5v1.5h-1.5zM1092.9,861.3h1.6v1.3h-1.6zM1236.7,867.8h1.1v1.6h-1.1zM943.7,870.2h1.1v1.5h-1.1zM1031.5,854.8h1v1.1h-1zM1450.3,865.5h1.7v1.2h-1.7zM1197.9,860.6h1.2v1.4h-1.2zM926.1,869.6h1.2v1.4h-1.2zM1267.5,862.6h2.6v1.5h-2.6zM1218.9,856.7h1.2v1.3h-1.2zM1536.4,871.2h1.9v1.4h-1.9zM672.1,865.1h1v1.5h-1z"/><path fill="#d3d3d3" d="M704.5,824.6h2.7v1.4h-2.7zM702.9,834.2h6v2.3h-6zM697,834.3h5.1v2.3h-5.1zM697.3,816.5h6.4v1.8h-6.4zM695.6,829.3h6.9v1.1h-6.9zM671,818.1h5.9v1.9h-5.9zM670.4,834.2h6.2v1.2h-6.2zM671,802.3h4.7v1.2h-4.7zM684,814.2h6.2v1.4h-6.2zM699.3,833.9h2.9v1.9h-2.9zM684.2,819.5h6.5v2.5h-6.5zM698.6,833.7h3.7v1.3h-3.7zM687.8,821.4h2.2v1.2h-2.2zM696.3,834.6h4.8v1.8h-4.8zM676.4,811.7h4.3v1.1h-4.3zM703.3,822.2h2.8v2.2h-2.8zM674.5,831.6h5.3v2.5h-5.3zM706.2,811.3h6.7v1.2h-6.7zM671.9,835h5.4v1.1h-5.4zM677.6,835h5.1v2h-5.1zM678.8,834.6h6.9v1.6h-6.9zM680.2,825.1h5.6v1.8h-5.6zM673.3,834.5h6v1.4h-6zM676.1,834.4h5.7v2.4h-5.7zM703.2,811h6.5v2.5h-6.5zM702.3,827.2h3.5v2.5h-3.5zM678.3,834.1h5.8v1.7h-5.8zM671.6,829.9h6.4v1.8h-6.4zM699.1,834.8h5.9v1.5h-5.9zM683.6,821.7h4.8v1.6h-4.8zM683.5,834.2h6.4v1.9h-6.4zM699.3,804.8h4.3v2.1h-4.3zM672.7,831.3h5.4v2.1h-5.4zM693.5,831.8h6.7v1.3h-6.7zM696.2,833.3h2.1v2.5h-2.1zM699.3,814.3h2.6v2.2h-2.6zM686.9,834.4h4.8v2.3h-4.8zM705.8,831h5.8v2.3h-5.8zM694.5,801.4h4.3v1.2h-4.3zM687,830.5h5.8v2.2h-5.8zM671.7,834.6h2.8v2.4h-2.8zM673.9,812.7h3v2.3h-3zM689.3,817.7h6.8v2.5h-6.8zM673.1,811.5h5.7v1.5h-5.7zM677.9,826.2h5.5v1.2h-5.5zM697.7,829.8h5.4v2.2h-5.4zM687.6,807.7h4.9v1.4h-4.9zM684.1,834.3h6.7v2h-6.7zM690.5,808.6h5v1.8h-5zM687,812.8h4.6v1.6h-4.6zM677.7,834.3h5.9v1.3h-5.9zM702.4,817.3h3.2v1.2h-3.2zM702.1,828.8h6.2v2.4h-6.2zM676.9,826.1h3.3v1.7h-3.3zM674.6,817.9h3.9v1.2h-3.9zM674.6,832.9h3.5v2.1h-3.5zM676.6,834.2h6.6v1.5h-6.6zM674.8,834.8h6.5v1.2h-6.5zM677.9,828.9h3.8v1.1h-3.8zM685.8,834.7h4v1.9h-4zM688.7,835h5.4v1.3h-5.4zM700.7,831.2h2.2v2.5h-2.2zM679.3,835h6.2v1.6h-6.2zM684.1,820.5h7v1.2h-7zM700.2,801.9h6.7v1.5h-6.7zM671.9,831h5.1v1.4h-5.1zM692.7,835h6.3v1.5h-6.3zM671.9,834.5h6.5v1.3h-6.5zM679.7,833.9h4.2v1.3h-4.2zM678.6,818.3h5v1.3h-5zM707.2,833.9h4.7v2h-4.7zM707.2,824.1h6.3v1.6h-6.3zM681.5,820.5h5v1.7h-5zM673.9,832.3h2.4v2.1h-2.4zM678.6,830.5h4.4v1h-4.4zM706.7,834.8h5.7v2.4h-5.7zM688,834h2.4v1.4h-2.4zM687.3,833.2h3.1v1.9h-3.1zM699.6,833.2h3.2v1.4h-3.2zM677.5,804.2h6.3v1.1h-6.3zM674.7,816.4h4.4v1.5h-4.4zM705.2,833h4.1v2.3h-4.1zM698.1,830.2h2.1v1.8h-2.1zM701.5,830.5h2.8v1.9h-2.8zM699.4,830.7h4.5v2.2h-4.5zM682.7,834.3h4v1.5h-4zM695.3,820.5h4.6v2.4h-4.6zM702.8,813.9h5.7v2.4h-5.7zM681,824.2h4v1.6h-4zM706.9,830.4h4.9v1.2h-4.9zM699.9,834.4h4.2v1.4h-4.2zM694.9,834.7h4.9v1.6h-4.9zM692,811.9h4.4v1.9h-4.4zM692.4,834.8h6.2v1.8h-6.2zM702,835h4.5v1.5h-4.5zM673.1,804.8h5.4v2.3h-5.4zM692.6,833.9h4.4v1.2h-4.4zM693.5,825.3h4.7v2.1h-4.7zM681.5,810.1h5.4v1.4h-5.4zM695.7,824h6.6v1.7h-6.6zM678.9,834.9h3.7v1.6h-3.7zM698.4,835h2.6v2.1h-2.6zM677.6,835h2.4v2h-2.4zM692.4,807.1h2.7v2h-2.7zM672.6,816.8h4.5v1.1h-4.5zM670.1,805.3h4.4v2.4h-4.4zM675.1,831.8h5.5v1.1h-5.5zM691.3,803.9h3.3v1.4h-3.3zM679.6,830.6h3.7v1.9h-3.7zM706.8,835h6.7v2.2h-6.7zM693.9,833.6h5.8v1.2h-5.8zM670.8,829.1h3.1v1.4h-3.1zM681.6,833.9h4.8v2.3h-4.8zM704.3,830.7h2.8v1.5h-2.8zM706.7,835h6v1.9h-6zM699.3,817.9h4.8v2.2h-4.8zM700.7,815.1h6.4v1.2h-6.4zM688.3,801.1h3.4v1.5h-3.4zM702.2,819.7h6v2.3h-6zM707.9,834.9h4.7v1.6h-4.7zM685.2,814.4h7v2h-7zM670.9,832.9h6.7v1.8h-6.7zM678.5,835h3v1.1h-3zM701.1,825.1h5.2v2.2h-5.2zM687.6,818.9h6v2h-6zM677.1,803.9h4.5v2.1h-4.5zM680.2,835h2.3v1.1h-2.3zM707.1,835h2.7v2.4h-2.7zM670.3,815.8h5.9v2.4h-5.9zM694.5,834.6h7v2.2h-7zM680.1,834.4h5.8v1.8h-5.8zM703.9,833.7h3v2.1h-3zM672.4,834.2h4.1v1.8h-4.1zM689.6,811h6.1v1.2h-6.1zM675.5,825.8h3.9v2.5h-3.9zM681.4,834.8h3.7v2.1h-3.7zM691.6,834.6h6.5v2.4h-6.5zM700.8,834.3h2.3v2h-2.3zM695.2,810.4h2.1v1.4h-2.1zM705.5,800.4h3.7v2.3h-3.7z"/><path fill="#d3d3d3" d="M2129.3,815h5.8v1.6h-5.8zM2099.5,804.9h4.2v2.3h-4.2zM2096.9,814.7h2.4v2.3h-2.4zM2102.8,815h6.9v1.2h-6.9zM2093.2,806.4h6.9v2.4h-6.9zM2139.4,814h3.8v1.1h-3.8zM2126.2,796.5h2.1v1.5h-2.1zM2133.5,813.2h6v1.6h-6zM2137.8,815h5.7v2.4h-5.7zM2127.7,797.2h3.6v1.8h-3.6zM2110.2,815h6v1.1h-6zM2093.6,814.4h6.7v2.4h-6.7zM2100.7,813.8h2.9v1.4h-2.9zM2085,792.4h3.7v1.3h-3.7zM2085.5,814.9h2.2v1.6h-2.2zM2129.5,792h3.2v1.2h-3.2zM2102.6,815h6.1v1.5h-6.1zM2098.3,795h6.7v2.4h-6.7zM2110.5,814.1h2.4v2.4h-2.4zM2082.2,798.9h6.3v2.2h-6.3zM2130.9,813h6.3v1.5h-6.3zM2136.6,815h6.3v1.6h-6.3zM2114.5,815h2.1v1.2h-2.1zM2093.6,814.4h5.2v1.6h-5.2zM2117,814.5h2.5v2.1h-2.5zM2115.4,795.6h6.6v1.7h-6.6zM2091.8,814.9h4.2v1.4h-4.2zM2122.7,812.4h4.9v1.5h-4.9zM2126.7,811.4h6.3v1.7h-6.3zM2130.9,799.2h3.4v1.4h-3.4zM2139.3,813.3h5.1v2.4h-5.1zM2112.3,815h4v1.8h-4zM2136.8,790.4h3.4v1.2h-3.4zM2109.7,813.2h5.8v1.7h-5.8zM2089.6,813.4h2.9v2.2h-2.9zM2111.7,803h2.6v2.5h-2.6zM2106.5,808.3h5.9v2.1h-5.9zM2136.3,814.9h5.8v2.4h-5.8zM2127.1,799.5h2.6v1.4h-2.6zM2139.1,814.1h5.2v1.9h-5.2zM2139.3,814.1h3.3v1.7h-3.3zM2128.6,814.6h2.5v1.3h-2.5zM2123.2,815h5v2.5h-5zM2133.4,814.6h2.1v1h-2.1zM2127.5,799.8h2.6v2h-2.6zM2092.1,814.2h4.7v2.4h-4.7zM2083.4,804.7h6.4v1.7h-6.4zM2134.7,813.6h2.2v1.6h-2.2zM2109.5,809h2.3v1.1h-2.3zM2087.7,814.9h3.1v1.9h-3.1zM2101.4,795.7h6.4v2.3h-6.4zM2131,785.2h4.7v1.6h-4.7zM2105.9,815h2.8v2.4h-2.8zM2122.5,795h6.4v2.2h-6.4zM2102.1,815h4.2v2.5h-4.2zM2087.3,810.9h2.8v2.2h-2.8zM2130.7,815h5.2v2.5h-5.2zM2099.1,811.8h4.2v1.6h-4.2zM2110.1,814.8h4.5v1.7h-4.5zM2136.6,813.6h6.5v2.1h-6.5zM2135.2,789.6h6.4v1.7h-6.4zM2120.7,814.9h6.8v2.3h-6.8zM2108.7,799.8h5.2v1.1h-5.2zM2098.5,815h5.2v2.3h-5.2zM2088.9,815h2.3v1.8h-2.3zM2138.4,789.8h5.3v1.5h-5.3zM2132.6,815h4.5v1.9h-4.5zM2139.5,814h6.9v1.6h-6.9zM2137.2,809.5h3.6v1.8h-3.6zM2116.9,813.4h2.7v1h-2.7zM2111.7,789.4h2.6v1.4h-2.6zM2113.3,814.8h4.2v2.3h-4.2zM2106.1,799.1h6.7v2.4h-6.7zM2102.9,804.4h3.8v2.2h-3.8zM2118.8,806.3h3.3v1.5h-3.3zM2135.1,800.3h3.7v2.1h-3.7zM2085.1,814.3h4.1v1.8h-4.1zM2121,815h4.2v1.3h-4.2zM2138.4,815h3.6v1.4h-3.6zM2087.7,814.5h3v1.9h-3z"/><path fill="#ffb6c1" d="M444.7,858.5h2.2v14.9h-2.2zM493.7,853.2h1.9v20.3h-1.9zM358.5,850h1.7v25.5h-1.7zM508.5,851.9h1.3v16.5h-1.3zM494.1,857.3h1.7v11.9h-1.7zM417.6,846.5h1.1v23.9h-1.1zM463.3,855.7h1.2v19.7h-1.2zM445,863h1.2v12.1h-1.2zM418.4,858.8h1.3v17.1h-1.3zM397.5,852.5h2v15.9h-2zM412.1,850h1.8v25.1h-1.8zM378.2,852.4h1.2v21.8h-1.2zM426.4,852.6h1.4v22.6h-1.4zM409.1,856.5h1.7v12.1h-1.7zM480.2,863.1h1.5v11.2h-1.5zM488.1,853.5h2.1v21.9h-2.1zM384.4,858h1.5v17h-1.5zM393.5,859.5h2.2v14.6h-2.2zM382.7,861.2h1.2v10.6h-1.2zM430.4,846.3h1v25.2h-1zM518.7,855.1h1.4v19.5h-1.4zM507.1,853.1h2.2v21.3h-2.2zM405,844.7h1.3v25.5h-1.3zM417.2,864h1.9v8.7h-1.9zM396.8,861.9h1.5v13.3h-1.5zM459.9,849.8h1.9v19.9h-1.9zM501.6,849.1h1.2v20.5h-1.2zM444.9,850.9h2.1v24.5h-2.1zM356,853.8h2v20h-2zM391.3,860.9h1.6v10.4h-1.6zM456.6,850h1.3v19.7h-1.3zM411.3,849.5h1v25.2h-1zM468.5,846.6h1.5v23.9h-1.5zM511.3,853.8h1.8v16.5h-1.8zM472.9,863.4h1.5v10.6h-1.5zM371.9,851.6h1.5v23h-1.5zM491.7,848h1.2v25.8h-1.2zM421,854h1v21.7h-1zM499.8,848.7h1.8v26h-1.8zM391.3,849.1h1.3v22.5h-1.3zM444.9,865.4h1.1v8.8h-1.1zM364,865.8h1.6v9.1h-1.6zM359.5,853.8h1.2v20.1h-1.2zM383.1,853.5h1.4v21.7h-1.4zM402.3,845.7h1.2v22.4h-1.2zM409,857.7h1.2v15.9h-1.2zM443.6,859.5h2.1v14.6h-2.1zM400.1,849.6h1.8v20.1h-1.8zM396.4,859.4h1.1v10.2h-1.1zM480.1,852.5h1.6v21.9h-1.6zM440.3,856.5h2v16.3h-2zM439.8,856.9h2.2v19h-2.2zM434.6,854.9h1.5v13.2h-1.5zM425.9,857.7h2.2v12.2h-2.2zM462.6,842.3h1.5v25.9h-1.5zM415.3,845.3h1.8v23.4h-1.8zM357.2,850.6h1.1v22.3h-1.1zM453.5,853.2h2.1v21.4h-2.1zM485.9,846.6h1.4v24.8h-1.4zM403.3,866.6h1.6v8.4h-1.6zM451.3,848.2h1v25.8h-1zM407.4,853.2h1.9v18.5h-1.9zM430.3,854.8h1.2v20.9h-1.2zM352.5,858.8h1.9v15.4h-1.9zM420.3,861.8h2.1v10.8h-2.1zM415.7,859.3h1.4v12.3h-1.4zM432.7,854.9h1.7v15.8h-1.7zM491.4,850.9h1.7v23.7h-1.7zM436.5,847.5h1.7v23.3h-1.7zM442.7,854.4h1.4v20h-1.4zM446,862.9h1.5v10.4h-1.5zM352.7,853.1h1.1v15.6h-1.1zM414.1,857.6h2.1v15.5h-2.1zM405.2,864h1.6v8.9h-1.6zM484.3,851.1h1.7v19.7h-1.7zM508.3,846.9h1.6v23.7h-1.6zM511.2,865.2h2v8.6h-2zM448.2,851h1.7v19.4h-1.7zM418.6,865.8h2v9.1h-2zM501.2,860.4h2v13.5h-2zM419,860.7h2v13.3h-2zM465.8,854.3h1.6v16.8h-1.6zM415.7,866.3h2v8.8h-2zM360.8,856.8h1.2v11.9h-1.2zM383.6,849.2h1.5v21h-1.5zM451.6,850.5h1.8v18.5h-1.8zM350.4,857.9h1.2v17h-1.2zM438.1,857.4h1.2v11.1h-1.2zM506.6,862.7h2.1v12.4h-2.1zM421,861.9h1.1v10.4h-1.1zM430.6,851.3h1.6v17.5h-1.6zM355.2,857.6h1.5v16.6h-1.5zM461.6,863.7h1.2v11.2h-1.2zM457.8,858.7h1.3v16.4h-1.3zM356.9,846.3h2.1v21.7h-2.1zM468.4,847.5h1.8v20.9h-1.8z"/><path fill="#ffb6c1" d="M276.5,921.5h2.2v6h-2.2zM268.9,912.1h1.8v11.2h-1.8zM291.5,921.8h1.7v5.7h-1.7zM276,917.9h1.7v4.8h-1.7zM287.9,916.5h2v9.7h-2zM284.6,913.4h2.1v10.1h-2.1zM271.1,913.4h1.1v9.4h-1.1zM279.4,918h1.8v4.9h-1.8zM292.7,919.2h1.1v9.4h-1.1zM283.3,911.8h1.4v11.7h-1.4zM270,919.8h1.6v8.4h-1.6zM280.7,921.4h1.2v5.9h-1.2zM270.8,912.8h1v11.7h-1zM279,912.9h2.1v10.9h-2.1zM273.5,914.7h1.9v6.9h-1.9zM288.7,916.4h1.4v7.7h-1.4zM269.1,912.7h1.2v9.7h-1.2zM275.5,919.6h2.1v8h-2.1zM272.7,916.2h2.2v5h-2.2zM286.6,912.7h2.1v8.5h-2.1zM284.5,921h1.3v4.9h-1.3zM288.9,920.5h1.7v4.9h-1.7zM291.7,922.2h1.5v4.4h-1.5zM279.7,924.6h1.9v4.2h-1.9z"/><path fill="#ffb6c1" d="M654.2,862h1.3v15.9h-1.3zM663.8,864.5h1.1v9.8h-1.1zM660.9,864h1.4v10.8h-1.4zM657.8,866.7h1.1v9.1h-1.1zM634.3,871.2h1.6v6h-1.6zM622.8,861.4h1.7v12.5h-1.7zM638.5,867.2h1.4v7.1h-1.4zM636.1,859.5h1.4v16.8h-1.4zM646.1,865h1.6v7.3h-1.6zM627.7,864.4h1.2v7.4h-1.2zM663.7,858h1.5v13.4h-1.5zM625.1,862.5h1.5v11.2h-1.5zM651.2,866.4h1.6v8.7h-1.6zM624.3,864.6h1.6v11.7h-1.6zM646.9,867.1h1.9v11.4h-1.9zM630.8,857.2h1.7v15.2h-1.7zM651,871h1.1v6.1h-1.1zM646.3,859.3h1.2v17.9h-1.2zM642.2,853.5h1.7v18h-1.7zM664.4,862.4h1.5v16.4h-1.5zM636.5,868h1.6v10h-1.6zM623.8,866.7h1.8v7.4h-1.8zM641.3,863.5h1.2v9.4h-1.2zM629.1,866.4h1.8v9.3h-1.8zM625.8,860.2h1.2v13.2h-1.2zM659.7,860.1h1.5v11.4h-1.5zM623.8,872.4h1.1v6.5h-1.1zM624.8,862.2h1.8v11.9h-1.8zM640.2,864.7h2v8.2h-2zM641.3,869.4h1v7h-1z"/><path fill="#ffb6c1" d="M684.9,846.5h1.2v13.7h-1.2zM672.4,853.5h1.2v6.9h-1.2zM698.2,850.3h1.7v10.6h-1.7zM697.5,854.5h1.4v10.9h-1.4zM674.9,858.2h1.3v5.1h-1.3zM693.6,853.9h1.8v12.1h-1.8zM698.1,851.4h2.1v9.4h-2.1zM686.4,850h1.3v8.6h-1.3zM687.4,847h2.2v12.8h-2.2zM676,852.1h1.1v6.8h-1.1zM693.7,849.8h1.7v10.1h-1.7zM698.9,851.8h1.2v9.6h-1.2zM682.5,850.8h2.1v8.1h-2.1zM672.2,856.3h2v8.5h-2zM694.2,852.8h1.7v9.2h-1.7zM675.6,860.3h1v5.3h-1zM684.6,846.7h2v12.8h-2zM680.6,850.3h1.7v8.4h-1.7z"/><path fill="#ffb6c1" d="M1339.7,841.5h1.7v15.5h-1.7zM1337.1,844.8h1.5v10.3h-1.5zM1332.6,849.8h2.1v11h-2.1zM1334.3,845.2h1.1v15.8h-1.1zM1320,842.4h1.3v11.8h-1.3zM1321.4,850.9h1.9v7.8h-1.9zM1316.2,844.9h1.1v15.1h-1.1zM1335,843.9h1.6v12.8h-1.6zM1337,852.8h1.6v9h-1.6zM1311.8,855.3h1.3v6.6h-1.3zM1336.7,848.3h1.6v11.7h-1.6zM1338,841.8h1.1v16h-1.1zM1339.2,853.6h1.2v7.6h-1.2zM1311.5,848.1h2.1v10.5h-2.1zM1313.3,848.3h1.9v6.8h-1.9z"/><path fill="#ffb6c1" d="M1406.5,851.2h1.5v7.5h-1.5zM1407.4,851.5h1.2v10.2h-1.2zM1404.2,850.2h1.2v5.7h-1.2zM1409.3,852.4h1v7.4h-1z"/><path fill="#ffb6c1" d="M1778.4,921.5h1.5v11.1h-1.5zM1767.6,924.1h1.8v7.7h-1.8zM1767.9,925.2h1.7v7.1h-1.7zM1756.2,927.8h1.1v9.4h-1.1zM1772.9,921h1.1v14.7h-1.1zM1786.7,925.3h1.5v6.6h-1.5zM1774.8,922.7h1.5v9h-1.5zM1779.3,915.7h1.3v16.8h-1.3zM1748.6,926.5h1.2v8.9h-1.2zM1789.9,920.2h1.3v11.5h-1.3zM1777.1,922.2h1.2v10.3h-1.2zM1772.1,932.5h1.7v6.2h-1.7zM1762.1,913.6h2v21.7h-2zM1751.1,921.2h1.8v16.3h-1.8zM1769.7,929.1h1.4v7.1h-1.4zM1756.7,920.9h1.9v10.3h-1.9zM1786.1,921.4h1.8v14.2h-1.8zM1784,920.2h1.2v17h-1.2zM1782.3,919.6h2v17h-2zM1765.5,914.1h1.3v17.5h-1.3zM1758.2,915.2h2v21.9h-2zM1785.3,931.3h1.3v7.5h-1.3zM1782.7,916.1h2.1v17.5h-2.1zM1789.3,915.7h1.3v16.9h-1.3z"/><path fill="#ffb6c1" d="M1810.4,907.7h1.7v18.7h-1.7zM1812.9,903.6h1.1v23.3h-1.1zM1842.2,909.9h2v13.1h-2zM1825.1,899.1h2.1v28.3h-2.1zM1840.9,894.2h2v27h-2zM1846.4,897.8h1.2v25.9h-1.2zM1821,912.3h2.1v12h-2.1zM1821.2,894.8h2v28.9h-2zM1816.7,910.6h1.9v12.7h-1.9zM1833.9,910.9h2v13.8h-2zM1830.9,916.3h1v9.4h-1zM1818.2,900.9h1.5v20.4h-1.5zM1829.5,902.4h1.7v23.7h-1.7zM1844.1,912.5h1.1v8.6h-1.1zM1832.3,908.1h1.6v14.1h-1.6zM1826.8,916h1.7v8.5h-1.7zM1830,906.6h1.7v16.8h-1.7zM1810.8,897.5h1.7v27h-1.7zM1829,911.7h1v11.6h-1zM1847.9,915h2.1v10.4h-2.1zM1816.4,909.5h1.1v18.5h-1.1zM1836.2,916.2h1.8v9.1h-1.8zM1832,906.7h1.9v18.6h-1.9zM1823,899.5h1.2v25.1h-1.2z"/><path fill="#ffb6c1" d="M1896.1,907.8h1.8v10.4h-1.8zM1895.2,911.7h2.1v12.3h-2.1zM1887.9,903.9h2.2v18.1h-2.2zM1897.9,911.9h2.2v10.1h-2.2zM1882.8,907.9h2.1v14.1h-2.1zM1889.1,902.7h1v16.4h-1zM1909.4,905.1h1.7v12.1h-1.7zM1899,909h2v14.8h-2zM1881.1,902.6h1.4v16.1h-1.4zM1884.1,902.2h1.1v15.7h-1.1zM1880.1,900.5h1.4v18.5h-1.4zM1881.6,911.4h1.5v10.5h-1.5zM1881,902.7h2.2v16.4h-2.2zM1884.7,902h1.6v15h-1.6zM1907.9,915.8h2v7.8h-2z"/><path fill="#ffb6c1" d="M1983.9,902.2h1.7v10.5h-1.7zM1983.1,896.4h1.3v21.8h-1.3zM1994.7,895.3h1.8v17.8h-1.8zM1980.4,901h1.9v16.7h-1.9zM1999,898.4h1.7v19.1h-1.7zM1986.8,901.9h1.4v12.7h-1.4zM2008.7,901.1h1.7v12.8h-1.7zM1993.5,899.5h1v12.5h-1zM1972.1,896.4h1.9v21.5h-1.9zM1986.5,904.4h1.9v11.8h-1.9zM1961.8,911.5h2.1v7.2h-2.1zM1966.3,897.4h1.8v20.3h-1.8zM1986.5,890.4h1.2v22.4h-1.2zM1990.3,896.9h1.7v18.3h-1.7zM1972.9,902.4h2.1v9.2h-2.1zM2003.1,891.9h1.4v22.6h-1.4zM2002.2,898.3h1.4v18.9h-1.4zM1978.6,909.5h2v7.6h-2zM2007.5,895.2h1v18.6h-1zM2007.8,895.2h1.8v17.7h-1.8zM1991.2,902.3h1.9v15.8h-1.9zM2018.3,893.1h1.8v18.1h-1.8zM1998.9,908.8h1.6v8.5h-1.6zM1996.5,892.8h2v18.9h-2zM1962.3,896.4h1.3v20.2h-1.3zM1957.7,897.5h1.5v13.7h-1.5zM1981.2,896.6h1v14.4h-1zM1999.4,906.8h1.9v11.9h-1.9zM1985.4,900.1h1.4v16.8h-1.4zM1980.9,908.9h1.4v8h-1.4zM1984.4,903.2h1.7v11.4h-1.7zM1976.3,910.6h1.9v6.7h-1.9zM1987.2,902.9h1.1v14.2h-1.1zM1967.3,897.9h1.5v17.4h-1.5zM1996.1,904.5h1.5v7h-1.5zM2017.1,903.2h1.2v8.2h-1.2z"/><path fill="#ffb6c1" d="M2035.2,854.3h1.3v46.1h-1.3zM2069,880.1h1.4v22.5h-1.4zM2036,842.3h1.1v59.5h-1.1zM2062.6,891.4h2.1v10.4h-2.1zM2035.6,884.7h1.8v15.3h-1.8zM2051.4,879.5h1.5v17h-1.5zM2061.5,872h2v30.1h-2zM2036.4,885.7h1.5v16.3h-1.5zM2030.7,863.9h1.7v34.5h-1.7zM2046.1,836.1h1.6v59.9h-1.6zM2037.3,854.4h1.1v47.9h-1.1zM2047,874.8h1.8v27h-1.8zM2063.6,851h2.2v48.7h-2.2zM2030.7,846.8h1.7v55.3h-1.7zM2053.9,879.8h1.7v21.1h-1.7zM2049.3,873.6h1.2v29.4h-1.2zM2061.2,879.7h1.2v23.3h-1.2zM2059.8,885.7h1.3v16.4h-1.3zM2033.3,892.6h2.1v10.7h-2.1zM2045.4,861.4h1.5v36.9h-1.5zM2049.2,863.7h1.6v36.9h-1.6z"/><path fill="#ffb6c1" d="M2142.7,821.4h1.2v26.8h-1.2zM2111.8,826.3h1.9v20.4h-1.9zM2128.6,836.2h2.1v11.9h-2.1zM2135.5,822.2h2v26.2h-2zM2134.7,826.1h1.9v25.5h-1.9zM2129.4,819.5h1.5v27.3h-1.5zM2076.7,820.2h2v27.2h-2zM2133.3,837.7h1.7v13.7h-1.7zM2102.4,826.9h1.5v21.2h-1.5zM2111.5,833.4h2v20.6h-2zM2085,835.9h1.1v12.2h-1.1zM2102.6,817.4h1.2v29.8h-1.2zM2110.7,828.7h2v18.4h-2zM2145.7,825.4h1.8v25.9h-1.8zM2080.6,841.7h2v8.6h-2zM2126.8,837.6h1.3v12.5h-1.3zM2148.9,843.5h2.1v9.7h-2.1zM2126.7,824.8h1.1v25.4h-1.1zM2083.6,823.7h1.2v28.6h-1.2zM2128.7,829.5h1.5v20.4h-1.5zM2079.6,826.6h1.9v26.4h-1.9zM2143.3,826.4h1.7v24.8h-1.7zM2103,831.5h1.3v21.6h-1.3zM2115.2,837.2h2.1v15.3h-2.1zM2112.2,820.5h1.4v28.6h-1.4zM2123.5,825.3h1.2v26.8h-1.2zM2135.5,827.8h1.3v20.1h-1.3zM2121,822.6h2.1v26.1h-2.1zM2106.7,832.9h1.3v13.8h-1.3zM2122.3,830.2h2.2v20.5h-2.2zM2104.8,826.3h1.9v23.8h-1.9zM2139.2,823.8h1.7v25.3h-1.7zM2081.9,823.7h1.8v26.1h-1.8zM2148.1,837.8h2.2v8.9h-2.2zM2131.6,830.6h1.1v15.9h-1.1zM2137,829.5h1v19.1h-1z"/><path fill="#ffb6c1" d="M2213.3,867h1v17.9h-1zM2209.8,878.8h1.5v7.7h-1.5zM2233.6,872.8h1.3v16h-1.3zM2215.7,867.3h1.6v19.6h-1.6zM2191.5,874.2h1.4v10h-1.4zM2217.5,878.2h1.6v11.7h-1.6zM2228.2,873.4h2.1v16.4h-2.1zM2245,876.2h1.9v8.1h-1.9zM2204.8,880.2h2.1v11.7h-2.1zM2238.9,880.2h1.2v7.5h-1.2zM2212.3,870.2h1.7v16.2h-1.7zM2248.6,869.5h1.9v18.1h-1.9zM2211.4,864.7h1.7v19.9h-1.7zM2214.5,874.8h1.2v10.6h-1.2zM2249.7,881.5h2.1v9.5h-2.1zM2212.3,881.9h1.2v7.5h-1.2zM2195.7,877.1h1.7v10.7h-1.7zM2236.3,878.7h1.4v9.5h-1.4zM2233.4,865.7h2v21.5h-2zM2230.1,871.2h1.5v18.9h-1.5zM2208.4,868.4h1.8v16.8h-1.8zM2209.8,878.6h2.1v10.8h-2.1zM2233.9,866.3h1.4v21.5h-1.4zM2229.5,865.1h1.9v19.2h-1.9zM2219.3,872.1h1.9v12.6h-1.9zM2238.7,869.5h1.5v17.7h-1.5zM2206.1,871.2h1.3v19.9h-1.3z"/><path fill="#ffb6c1" d="M2312.4,848.1h1.9v20.2h-1.9zM2278.9,864h1.2v6.4h-1.2zM2327.7,857.2h1.9v14.4h-1.9zM2251,854.2h1.4v12h-1.4zM2289.9,853.1h2.1v15.1h-2.1zM2276.7,860h1.3v8.9h-1.3zM2301.9,840.9h1.5v27.8h-1.5zM2311,848.8h1.8v24.6h-1.8zM2310.3,855.3h2.1v14.3h-2.1zM2274.5,849.3h1.7v21.1h-1.7zM2297.9,842.3h2v24.3h-2zM2325.2,843.9h1.3v24.4h-1.3zM2260.2,854.2h2.2v14.7h-2.2zM2291.2,847h1.9v22.5h-1.9zM2279.8,856.7h1.7v15.1h-1.7zM2279.9,863.5h1.5v6.2h-1.5zM2251.2,838.3h1.8v29.3h-1.8zM2250.6,839.9h1.6v26.1h-1.6zM2319.1,845.3h1.4v21.8h-1.4zM2316.6,850.7h1.4v22.2h-1.4zM2298.1,858.4h1.9v9.4h-1.9zM2305.4,844.1h1.9v25h-1.9zM2261.9,848.7h2.1v21.7h-2.1zM2285.2,848.4h1.2v19.1h-1.2zM2313,851.4h2v21.1h-2zM2326.9,841.7h1.6v28.7h-1.6zM2313.9,853.2h1.5v19.3h-1.5zM2258.4,850.9h1.3v21.6h-1.3zM2252.6,853.7h1.2v15.1h-1.2zM2300.6,852h1.1v18.3h-1.1z"/><path fill="#ffb6c1" d="M2462.5,860.1h1.9v7.4h-1.9zM2472.5,862.8h1.7v6.3h-1.7zM2473,861.5h1.8v7.9h-1.8zM2465.7,866.5h2v5h-2zM2483.4,859.9h2v7h-2zM2479.8,861.1h1.8v7.7h-1.8zM2480.2,863h1.6v4.9h-1.6zM2479.5,858.4h1.1v8.7h-1.1zM2480.7,857h1.8v10h-1.8zM2466.1,865.3h2.2v4.7h-2.2zM2468.3,862.6h2.2v4h-2.2zM2477,861.9h1.2v4.1h-1.2z"/><path fill="#ffb6c1" d="M2610,857.7h1.4v8.8h-1.4zM2610.7,860.1h1.6v6.9h-1.6zM2617.9,858.9h1.5v10h-1.5zM2624.1,864.2h2v5h-2zM2623.5,865.6h1.6v5.5h-1.6zM2613.7,862.6h1.6v7.4h-1.6zM2609.9,860.1h2v9h-2zM2605.3,864.7h1.8v6h-1.8zM2621.5,857.2h1.2v8.5h-1.2zM2624.5,860.5h1.6v6.1h-1.6zM2615.5,862.9h2.1v8h-2.1zM2617.4,862.4h1.5v4.3h-1.5z"/><path fill="#ffb6c1" d="M2704.9,858.7h1.7v9h-1.7zM2701,857.2h1.8v10.8h-1.8zM2720.6,862.5h1v7.8h-1zM2730,856.8h1.3v10.5h-1.3zM2723.7,868.3h1.5v4.2h-1.5zM2723.6,866.2h1.7v7.1h-1.7zM2704.3,858.1h1.6v10.2h-1.6zM2703.1,861.4h1v8.4h-1zM2714.9,864.8h1.3v5.1h-1.3zM2726.4,861.9h1.7v11.6h-1.7zM2711.9,864.4h1.4v4.7h-1.4zM2710.2,862.9h1.8v6.4h-1.8zM2711.6,863.2h1.6v8.9h-1.6zM2712.6,859.1h1.5v8.4h-1.5zM2725.9,864.8h1.2v4.2h-1.2z"/><path fill="#ffb6c1" d="M2899.6,862.5h2v10.5h-2zM2891.2,864.9h1.6v4.7h-1.6zM2891.1,867.5h1.5v7.9h-1.5zM2885.4,866.1h2.1v8.5h-2.1zM2888.7,863.7h1.7v5.4h-1.7zM2885.6,861.2h1.3v9.5h-1.3zM2892.2,864.4h1.9v10.5h-1.9zM2884.9,863.9h2v8.8h-2zM2885.2,864.8h1.4v9h-1.4zM2896.7,864.5h1.6v7.8h-1.6z"/><path fill="#ffb6c1" d="M2991,791.5h1.6v6.8h-1.6zM2992.1,791h1.1v6.3h-1.1zM2977.9,782.3h1.2v8.9h-1.2zM2990,790.5h1.7v6.8h-1.7zM2983.8,790h1.3v6.3h-1.3zM2988,789.2h1.1v6.1h-1.1zM2981.9,787.4h1.9v3.7h-1.9zM2998.7,791.9h1.4v3.2h-1.4zM2975.3,791.3h1.8v5.1h-1.8zM2996.4,789.5h1.6v3.9h-1.6z"/><path fill="#ffb6c1" d="M3057.1,789.2h1.5v4.6h-1.5zM3060.1,790.1h1.7v4.6h-1.7zM3067.8,783.2h1.9v5.7h-1.9zM3060.6,786.1h1.3v3.9h-1.3zM3060.9,789.1h1v4.7h-1zM3059.8,789.5h1.6v6.3h-1.6z"/><path fill="#ffb6c1" d="M3279.7,896.5h1.6v4.8h-1.6zM3288.3,901.1h1.9v5.1h-1.9zM3276.3,895.7h1.7v5h-1.7zM3289.1,897.5h1.3v6.9h-1.3zM3275.3,901.2h2.1v4.1h-2.1zM3270.8,900.1h1.1v6.8h-1.1zM3293.6,896.4h2.1v5.3h-2.1zM3280.9,897.1h1.1v8.3h-1.1zM3289.4,891.6h1.6v8.6h-1.6zM3273.6,899.2h1.4v4.4h-1.4zM3265.2,896.6h1.3v8.8h-1.3zM3291.7,898h1.6v7.8h-1.6zM3262.4,900.6h2.2v7h-2.2zM3280.7,898.5h1v7.5h-1zM3274.4,891.4h1.5v8.6h-1.5zM3281.4,894h1.6v8.1h-1.6zM3266.8,903h1.2v4.7h-1.2zM3262.9,899.9h1.7v7.2h-1.7z"/><path fill="#ffb6c1" d="M2154.8,509.2h1.4v7.7h-1.4zM2156.9,511.5h1.6v9.8h-1.6zM2153.1,506.1h1.2v15.3h-1.2zM2156,513.1h2v7.2h-2zM2161,515.5h1.5v7.7h-1.5zM2159.6,503.1h1.9v13.3h-1.9z"/><path fill="#ffb6c1" d="M2160.8,531h1.1v20h-1.1zM2162.6,534.4h1.2v24.3h-1.2zM2165.8,531.3h1.1v22.2h-1.1zM2163.9,547.8h1.2v8.9h-1.2z"/><path fill="#ffb6c1" d="M2181.7,497.5h1v5.4h-1zM2181.2,492.8h1.7v5.7h-1.7z"/><clipPath id="cc"><path d="M266,325.2H267.5V323.7H269V329.2H270.5V313.8H272V314.4H273.5V308.6H275V306H276.5V307.3H278V310.6H279.5V304.2H281V307.8H282.5V304.3H284V300.7H285.5V306.3H287V311.4H288.5V309.6H290V299.3H291.5V296.6H293V294.2H294.5V300.8H296V295.7H297.5V289.8H299V296.2H300.5V291.4H302V291.8H303.5V292.4H305V293.7H306.5V297.5H308V283.3H309.5V281.1H311V295.8H312.5V293.3H314V301.2H315.5V305.8H317V308.7H318.5V301.3H320V309.9H321.5V316.2H323V318H324.5V311.9H326V311.5H327.5V311.3H329V313.2H330.5V309.2H332V303.3H333.5V303.9H335V308.7H336.5V308.8H338V310.6H339.5V317.4H341V317.6H342.5V320.8H344V319.4H345.5V306.9H347V304.6H348.5V299.4H350V300.4H351.5V297.7H353V301.6H354.5V303.7H356V303.2H357.5V306.8H359V309.2H360.5V305.8H362V305.8H363.5V310.2H365V307.5H366.5V306.8H368V319.1H369.5V327H371V324.2H372.5V329.5H374V326.4H375.5V315.7H377V318.7H378.5V302.7H380V306.4H381.5V316H383V314.8H384.5V311H386V302.3H387.5V299.9H389V300.2H390.5V303.4H392V304.1H393.5V305.3H395V307.2H396.5V302.5H398V300.8H399.5V302H401V294.8H402.5V299.1H404V296.6H405.5V288H407V298.1H408.5V296.6H410V297H411.5V297.4H413V291.8H414.5V289.8H416V294.5H417.5V294.8H419V288.4H420.5V298.9H422V288.8H423.5V295.5H425V301.5H426.5V300.2H428V288.3H429.5V297.6H431V298.1H432.5V299.8H434V282.6H435.5V299.3H437V297.9H438.5V302.2H440V302H441.5V289.7H443V298.4H444.5V296.1H446V295.7H447.5V293.6H449V273.5H450.5V276.6H452V282.2H453.5V268.5H455V278H456.5V277.3H458V276.7H459.5V301.3H461V302.3H462.5V300.4H464V286.6H465.5V302.6H467V299H468.5V304.2H470V304.2H471.5V288.7H473V267.5H474.5V272.2H476V268.1H477.5V270.6H479V267.2H480.5V268.2H482V262H483.5V270.1H485V267.8H486.5V270.6H488V268.2H489.5V277.3H491V276.6H492.5V276.3H494V283.6H495.5V282.7H497V281H498.5V279.8H500V284.1H501.5V286.2H503V278.6H504.5V275.8H506V271.5H507.5V259.2H509V267H510.5V260.1H512V260.2H513.5V259.9H515V258.4H516.5V261.1H518V257.4H519.5V257.1H521V257.4H522.5V259.9H524V261.1H525.5V261H527V254.7H528.5V249.4H530V246.7H531.5V248.8H533V236.2H534.5V250H536V254.3H537.5V256.5H539V261H540.5V265.9H542V271.2H543.5V259.4H545V247H546.5V242.9H548V242.3H549.5V249.9H551V248.4H552.5V246.5H554V242.7H555.5V259.5H557V258.2H558.5V262.8H560V253.6H561.5V260.8H563V259.3H564.5V248.6H566V261.6H567.5V267.5H569V257.1H570.5V258H572V264.2H573.5V267H575V266.8H576.5V249.2H578V254.6H579.5V266.6H581V256.4H582.5V262.2H584V273H585.5V270.5H587V266H588.5V270.7H590V269H591.5V272.5H593V270.8H594.5V264.4H596V267.5H597.5V269.1H599V258.7H600.5V272.3H602V270.1H603.5V258.6H605V264H606.5V261H608V267.6H609.5V272.5H611V272.7H612.5V275.9H614V275.4H615.5V279H617V277.2H618.5V263.4H620V277H621.5V278H623V277H624.5V275.7H626V282.5H627.5V279.8H629V282.9H630.5V281.1H632V286H633.5V286.3H635V291.6H636.5V296H638V294H639.5V295.5H641V300.6H642.5V310.9H644V297.1H645.5V294.9H647V290.5H648.5V290.3H650V278.2H651.5V285.6H653V290.8H654.5V288.2H656V282H657.5V279.5H659V277.9H660.5V276.5H662V274.1H663.5V258.9H665V272.1H666.5V270.5H668V267.6H669.5V267.9H671V256H672.5V268H674V264.1H675.5V264.2H677V261.5H678.5V257.6H680V245.4H681.5V255.1H683V264.3H684.5V270.4H686V275.4H687.5V276.1H689V272.7H690.5V268.9H692V264.5H693.5V275.9H695V277.6H696.5V274.9H698V275.5H699.5V265.3H701V285.7H702.5V286.4H704V287.9H705.5V288.5H707V287.9H708.5V285.1H710V290.4H711.5V289.6H713V297H714.5V299.3H716V299.8H717.5V300.5H719V299.7H720.5V301.4H722V303.8H723.5V301.4H725V300.4H726.5V290H728V302.8H729.5V298.6H731V310.1H732.5V309.9H734V311.7H735.5V297.3H737V309.1H738.5V303.8H740V299.1H741.5V305.2H743V306.6H744.5V302H746V302.6H747.5V299.9H749V303.8H750.5V298.3H752V310.9H753.5V315.7H755V322.3H756.5V325.4H758V328.7H759.5V320.5H761V319.9H762.5V318.1H764V312.2H765.5V312.7H767V317.3H768.5V323.2H770V322.4H771.5V286.1H773V278.1H774.5V275.9H776V273.8H777.5V274.9H779V272.8H780.5V273.4H782V278.3H783.5V279.2H785V275.9H786.5V281H788V284.2H789.5V289.7H791V295H792.5V296.3H794V293.6H795.5V285.3H797V295H798.5V299.2H800V301.9H801.5V306.7H803V308.7H804.5V315.4H806V316.9H807.5V320.8H809V328.1H810.5V336.7H812V388.9H813.5V562.5H815V563.8H816.5V566.6H818V563.9H819.5V566.7H821V562.1H822.5V552H824V497.2H825.5V497H827V498.4H828.5V497.5H830V498.6H831.5V496.3H833V491.6H834.5V494.4H836V494H837.5V489.7H839V491H840.5V487.5H842V490.7H843.5V485H845V475.2H846.5V481.8H848V481.6H849.5V480.6H851V486.2H852.5V485.6H854V481.9H855.5V473.6H857V485.3H858.5V492.7H860V492.7H861.5V497.4H863V487.9H864.5V491.1H866V477.1H867.5V476.8H869V481.6H870.5V480.8H872V468.4H873.5V476.1H875V478.5H876.5V468.7H878V477.2H879.5V474.1H881V472.2H882.5V466.6H884V471H885.5V473.2H887V472.6H888.5V471H890V471.2H891.5V468.5H893V472.8H894.5V471.9H896V467.8H897.5V469.1H899V469.6H900.5V470.5H902V468H903.5V456.6H905V447.1H906.5V439.5H908V438.6H909.5V438.4H911V436.4H912.5V431.4H914V435.4H915.5V437.4H917V435.2H918.5V437.5H920V449.6H921.5V449.6H923V463H924.5V459H926V454H927.5V456.6H929V459.7H930.5V461.5H932V453.7H933.5V468.2H935V473.2H936.5V468H938V469.3H939.5V475.2H941V471.3H942.5V467H944V474.9H945.5V476.3H947V464.1H948.5V457.5H950V457.1H951.5V462.4H953V460.6H954.5V473.2H956V480.5H957.5V480.5H959V485.3H960.5V484.7H962V471.9H963.5V484.7H965V485.8H966.5V487.1H968V483.1H969.5V474H971V473H972.5V478.8H974V480.6H975.5V474.8H977V473.6H978.5V474.2H980V472H981.5V474H983V466.2H984.5V455.1H986V446.6H987.5V450.6H989V450.2H990.5V447H992V451.4H993.5V445.6H995V443.3H996.5V443.1H998V440.3H999.5V442.1H1001V442.8H1002.5V444.7H1004V451.7H1005.5V442H1007V447.6H1008.5V438.1H1010V445.4H1011.5V447H1013V443.4H1014.5V449.1H1016V443.8H1017.5V426.4H1019V426.1H1020.5V412.3H1022V419.7H1023.5V426.1H1025V419.4H1026.5V426.6H1028V422.4H1029.5V423.8H1031V430H1032.5V423.8H1034V426.5H1035.5V425.1H1037V426.8H1038.5V426.8H1040V418.6H1041.5V420.3H1043V426.4H1044.5V428.4H1046V429.3H1047.5V426.3H1049V428.9H1050.5V437.2H1052V439.5H1053.5V448.8H1055V443.9H1056.5V435.8H1058V447H1059.5V438.8H1061V451H1062.5V448H1064V449.7H1065.5V444.7H1067V446.3H1068.5V447.2H1070V450.5H1071.5V439.3H1073V441.3H1074.5V446.9H1076V445.3H1077.5V449.8H1079V451.6H1080.5V459.9H1082V452.1H1083.5V463.3H1085V460.2H1086.5V455.9H1088V456H1089.5V461.8H1091V459.8H1092.5V459.6H1094V460.7H1095.5V459.4H1097V458.1H1098.5V451.9H1100V449.6H1101.5V450.1H1103V449.2H1104.5V451.2H1106V444.7H1107.5V455.5H1109V463.5H1110.5V452.7H1112V450H1113.5V442.8H1115V440.9H1116.5V439.8H1118V453.8H1119.5V466.6H1121V492.3H1122.5V574H1124V569H1125.5V566.6H1127V565.9H1128.5V568H1130V560.1H1131.5V571.3H1133V574.5H1134.5V577.3H1136V575.8H1137.5V570.2H1139V574.1H1140.5V570.2H1142V569.3H1143.5V566.8H1145V572.8H1146.5V564.1H1148V574.8H1149.5V574.5H1151V575.5H1152.5V577.9H1154V569.2H1155.5V568.7H1157V587H1158.5V583.6H1160V582.7H1161.5V582.1H1163V581.6H1164.5V583.6H1166V587.1H1167.5V582.8H1169V588.4H1170.5V588.5H1172V570H1173.5V587.7H1175V577.7H1176.5V585H1178V583.5H1179.5V577.2H1181V578.3H1182.5V578.7H1184V581.4H1185.5V578.8H1187V566.5H1188.5V580H1190V580.1H1191.5V576.8H1193V577H1194.5V563.3H1196V568.8H1197.5V569.9H1199V567.9H1200.5V568.6H1202V565.9H1203.5V566.9H1205V564.6H1206.5V577.7H1208V573.7H1209.5V581.3H1211V581.4H1212.5V582H1214V581.8H1215.5V577.8H1217V580.6H1218.5V574.3H1220V573.9H1221.5V573.4H1223V575.9H1224.5V571.5H1226V569.6H1227.5V565.4H1229V563.9H1230.5V572.9H1232V573H1233.5V572.4H1235V578.2H1236.5V564.4H1238V561.5H1239.5V575.6H1241V572.7H1242.5V565.1H1244V566.1H1245.5V561.6H1247V561.9H1248.5V560.3H1250V565.8H1251.5V569.4H1253V564.3H1254.5V570.5H1256V570.1H1257.5V560H1259V570H1260.5V564.8H1262V566.1H1263.5V564.6H1265V561.3H1266.5V572.3H1268V570.5H1269.5V574.1H1271V569.3H1272.5V569.4H1274V566.4H1275.5V568.8H1277V572H1278.5V563.5H1280V581.5H1281.5V578.6H1283V575.2H1284.5V575H1286V571.5H1287.5V569.3H1289V567.6H1290.5V559.3H1292V568.6H1293.5V571.7H1295V569H1296.5V563H1298V567.1H1299.5V564.4H1301V565.6H1302.5V567.4H1304V556.8H1305.5V564.6H1307V560.3H1308.5V553.6H1310V558.1H1311.5V554.5H1313V546.2H1314.5V553.5H1316V552.9H1317.5V549.3H1319V548.9H1320.5V546.4H1322V546.7H1323.5V534H1325V545.1H1326.5V541.9H1328V544.4H1329.5V535.8H1331V540.5H1332.5V531.5H1334V528.4H1335.5V526.2H1337V532.3H1338.5V531.3H1340V530.6H1341.5V529.6H1343V535.6H1344.5V533.6H1346V536.4H1347.5V536.2H1349V532.4H1350.5V533.3H1352V533.3H1353.5V534.1H1355V532.7H1356.5V533.3H1358V537.6H1359.5V537.2H1361V537.6H1362.5V541.8H1364V539.9H1365.5V538.8H1367V541.2H1368.5V528.5H1370V540.7H1371.5V545.3H1373V539.7H1374.5V551H1376V541.9H1377.5V539.2H1379V535.8H1380.5V539.1H1382V540.5H1383.5V537.6H1385V540.1H1386.5V541.2H1388V537.8H1389.5V541.3H1391V546.5H1392.5V553.2H1394V552H1395.5V548.3H1397V553.5H1398.5V551.2H1400V544.3H1401.5V558H1403V558.7H1404.5V554.9H1406V557H1407.5V558.3H1409V558.4H1410.5V558.3H1412V560.2H1413.5V558H1415V552.9H1416.5V555.2H1418V554.9H1419.5V554.2H1421V557H1422.5V553.3H1424V550.4H1425.5V555.3H1427V555.4H1428.5V545.9H1430V551.8H1431.5V554.2H1433V547.2H1434.5V546.3H1436V540.5H1437.5V539.7H1439V532.7H1440.5V542.7H1442V547.9H1443.5V537.6H1445V541.2H1446.5V542.8H1448V537.9H1449.5V536.3H1451V532.4H1452.5V529.6H1454V529.6H1455.5V529.7H1457V529.4H1458.5V522.7H1460V508.7H1461.5V511.8H1463V511.6H1464.5V517.7H1466V517.7H1467.5V519.1H1469V516.6H1470.5V518.8H1472V514.5H1473.5V513.7H1475V510.5H1476.5V498.7H1478V508.2H1479.5V506.4H1481V507.9H1482.5V509.6H1484V511.1H1485.5V508.4H1487V509.3H1488.5V508.7H1490V509.3H1491.5V508.6H1493V499.3H1494.5V490.1H1496V493.1H1497.5V485.7H1499V469.8H1500.5V466.5H1502V460.1H1503.5V480.1H1505V482.9H1506.5V487.3H1508V490.2H1509.5V497.6H1511V506.1H1512.5V500.3H1514V505.9H1515.5V507.2H1517V502.8H1518.5V498.3H1520V495.1H1521.5V495.7H1523V484.3H1524.5V464.6H1526V472.4H1527.5V467.6H1529V457H1530.5V459.2H1532V460.5H1533.5V464.6H1535V465.8H1536.5V468.4H1538V452.1H1539.5V466.1H1541V466H1542.5V470.7H1544V468.8H1545.5V331.1H1547V406H1548.5V334H1550V347.8H1551.5V344.2H1553V347.3H1554.5V354.6H1556V351.8H1557.5V367.4H1559V371.3H1560.5V361.6H1562V353.6H1563.5V357.1H1565V357.1H1566.5V361.1H1568V346.8H1569.5V342.7H1571V347.4H1572.5V351H1574V337.5H1575.5V350H1577V354.1H1578.5V349H1580V345.4H1581.5V349.9H1583V353.6H1584.5V351H1586V354.2H1587.5V350.7H1589V354.2H1590.5V349.1H1592V356.5H1593.5V358.7H1595V358.1H1596.5V359.9H1598V348.2H1599.5V360.9H1601V360.7H1602.5V364.6H1604V354.2H1605.5V370.1H1607V365.5H1608.5V364H1610V364.4H1611.5V323H1613V326.2H1614.5V353H1616V378.1H1617.5V390.5H1619V403.2H1620.5V412.2H1622V411.8H1623.5V417.5H1625V400.8H1626.5V369.9H1628V352.1H1629.5V364.5H1631V364.4H1632.5V369.4H1634V371H1635.5V376.9H1637V385.2H1638.5V384.3H1640V348.7H1641.5V331.1H1643V345.4H1644.5V359.1H1646V362H1647.5V380.2H1649V401.4H1650.5V402.1H1652V370.4H1653.5V370.8H1655V368.7H1656.5V372.1H1658V374.9H1659.5V381.8H1661V381.5H1662.5V380.9H1664V376.6H1665.5V373.9H1667V370.8H1668.5V364.6H1670V368H1671.5V361.6H1673V354.8H1674.5V352H1676V355.2H1677.5V357.9H1679V358.4H1680.5V359.6H1682V348.4H1683.5V367.9H1685V369.9H1686.5V375.7H1688V378.4H1689.5V389.2H1691V402.8H1692.5V399.3H1694V401.4H1695.5V394.4H1697V396.9H1698.5V344.9H1700V328.6H1701.5V322.4H1703V318.4H1704.5V315.3H1706V313.2H1707.5V310.8H1709V311.5H1710.5V305.5H1712V309.4H1713.5V304.8H1715V306H1716.5V305.5H1718V294.1H1719.5V293.7H1721V299.6H1722.5V295.7H1724V297.8H1725.5V293.3H1727V281.9H1728.5V290.3H1730V291.1H1731.5V293.5H1733V283.6H1734.5V291.4H1736V294.7H1737.5V280.7H1739V293.2H1740.5V288.4H1742V290.7H1743.5V289.9H1745V286.4H1746.5V287H1748V287.9H1749.5V301.5H1751V300.1H1752.5V305.9H1754V473.4H1755.5V506.3H1757V520.5H1758.5V530.9H1760V537.1H1761.5V542.5H1763V543.9H1764.5V546.1H1766V543.9H1767.5V544.4H1769V544.6H1770.5V535.2H1772V542.5H1773.5V551.4H1775V553.2H1776.5V559.8H1778V561.9H1779.5V558.9H1781V560.6H1782.5V560.1H1784V557.8H1785.5V556.8H1787V549.3H1788.5V556H1790V551.8H1791.5V548.3H1793V533H1794.5V547.2H1796V546H1797.5V541.2H1799V533.6H1800.5V521.1H1802V516.3H1803.5V522.6H1805V524.8H1806.5V519.2H1808V535.9H1809.5V538.2H1811V539.7H1812.5V547.7H1814V543.5H1815.5V544.8H1817V543.2H1818.5V540.3H1820V540.9H1821.5V541.3H1823V540.3H1824.5V542.4H1826V546.3H1827.5V537.1H1829V536.5H1830.5V536H1832V532.6H1833.5V528.7H1835V522.2H1836.5V506.3H1838V513.3H1839.5V523.2H1841V532.1H1842.5V534H1844V534.4H1845.5V536.3H1847V521.1H1848.5V506.1H1850V502.5H1851.5V501.6H1853V502.8H1854.5V501H1856V496.6H1857.5V499.2H1859V496.6H1860.5V498.5H1862V498.5H1863.5V501.7H1865V501.3H1866.5V487.4H1868V497.5H1869.5V496.1H1871V470.1H1872.5V456.6H1874V449.7H1875.5V451.9H1877V446.5H1878.5V442.9H1880V428.6H1881.5V434.5H1883V441.5H1884.5V440.4H1886V440.1H1887.5V435.3H1889V430.3H1890.5V429.9H1892V429.6H1893.5V430.6H1895V417.9H1896.5V434.5H1898V437.6H1899.5V437.9H1901V446.4H1902.5V452.8H1904V457.9H1905.5V460.5H1907V463.3H1908.5V500.6H1910V498.6H1911.5V502.5H1913V498H1914.5V503.4H1916V503.7H1917.5V504.5H1918V531.9H1917.5V554.1H1916V581H1914.5V590.7H1913V604.3H1911.5V635H1910V654.1H1908.5V649.7H1907V647.5H1905.5V658.8H1904V659.6H1902.5V652.8H1901V640.4H1899.5V637.3H1898V630.7H1896.5V630.8H1895V625.4H1893.5V638.1H1892V627.3H1890.5V622.9H1889V619.5H1887.5V621H1886V616.2H1884.5V615.2H1883V607.5H1881.5V615.1H1880V608.3H1878.5V605.5H1877V617.3H1875.5V606.4H1874V607.3H1872.5V604.3H1871V607H1869.5V612.8H1868V609.7H1866.5V608.1H1865V607.9H1863.5V607.3H1862V603.3H1860.5V602.1H1859V603H1857.5V603.1H1856V613H1854.5V600.2H1853V598.8H1851.5V599H1850V598.2H1848.5V597.2H1847V596.3H1845.5V596.6H1844V600.5H1842.5V597.5H1841V599.2H1839.5V599.8H1838V601H1836.5V602.7H1835V605.5H1833.5V603.1H1832V614.3H1830.5V613.4H1829V625.7H1827.5V608.5H1826V608.1H1824.5V611.2H1823V609.7H1821.5V605.7H1820V604.4H1818.5V601.1H1817V599.6H1815.5V604.2H1814V597.1H1812.5V603.6H1811V599.5H1809.5V598.3H1808V603.2H1806.5V611.6H1805V606.7H1803.5V606.5H1802V606.5H1800.5V608.3H1799V613.3H1797.5V610.7H1796V616.2H1794.5V614H1793V610.9H1791.5V609.4H1790V608.6H1788.5V607.8H1787V615.7H1785.5V604.5H1784V597.1H1782.5V611.1H1781V603.9H1779.5V609.7H1778V608.4H1776.5V609.7H1775V595.9H1773.5V596.5H1772V596.7H1770.5V599H1769V599.4H1767.5V601.6H1766V601.5H1764.5V617.5H1763V605.9H1761.5V613.9H1760V624.2H1758.5V613.1H1757V615.9H1755.5V617.9H1754V617.8H1752.5V627.4H1751V622.4H1749.5V622.7H1748V624.4H1746.5V629.4H1745V620.8H1743.5V617.9H1742V618.7H1740.5V617H1739V611.3H1737.5V614.8H1736V624.2H1734.5V635.2H1733V632.5H1731.5V641.9H1730V646.2H1728.5V653H1727V657.7H1725.5V657.8H1724V660.5H1722.5V662.4H1721V659.1H1719.5V658.7H1718V660.6H1716.5V663.9H1715V663.9H1713.5V659.1H1712V668.6H1710.5V659.2H1709V659.4H1707.5V655H1706V656.5H1704.5V659.3H1703V655.4H1701.5V662.8H1700V674H1698.5V660.1H1697V656.3H1695.5V662.8H1694V650.9H1692.5V650.5H1691V646.8H1689.5V644.3H1688V651.1H1686.5V652.3H1685V649.8H1683.5V648.8H1682V647.7H1680.5V651.2H1679V654.6H1677.5V652.1H1676V653.8H1674.5V654.6H1673V640.9H1671.5V640.8H1670V639.2H1668.5V641H1667V654.9H1665.5V646.5H1664V647.5H1662.5V645.3H1661V646.9H1659.5V655.9H1658V653H1656.5V650.1H1655V645.1H1653.5V644.6H1652V637.4H1650.5V638.7H1649V644.5H1647.5V639.1H1646V642.1H1644.5V648.1H1643V654.3H1641.5V654.6H1640V667.5H1638.5V663.8H1637V668.8H1635.5V668.2H1634V666.9H1632.5V669H1631V674.1H1629.5V674.4H1628V678.8H1626.5V678.8H1625V677.4H1623.5V671.7H1622V672.2H1620.5V664.9H1619V670.1H1617.5V655.5H1616V646.9H1614.5V646.5H1613V645.2H1611.5V644.5H1610V647.9H1608.5V644.1H1607V649H1605.5V651.9H1604V650.1H1602.5V651.1H1601V647.2H1599.5V654.5H1598V658.8H1596.5V662.8H1595V664.1H1593.5V667.8H1592V666.4H1590.5V677.5H1589V677.9H1587.5V683.5H1586V682.3H1584.5V684.3H1583V674.1H1581.5V674.3H1580V672.2H1578.5V680.3H1577V675.2H1575.5V674.4H1574V674H1572.5V684.2H1571V675.6H1569.5V674.8H1568V674.6H1566.5V669.4H1565V677H1563.5V671.6H1562V672.3H1560.5V669H1559V670H1557.5V669.2H1556V664H1554.5V663.8H1553V663.7H1551.5V663.6H1550V661.1H1548.5V664.9H1547V666.6H1545.5V663.4H1544V664.6H1542.5V661.6H1541V662.2H1539.5V661.4H1538V661.9H1536.5V668.1H1535V669H1533.5V673.7H1532V686.4H1530.5V686.2H1529V682.3H1527.5V682.5H1526V681.5H1524.5V685.7H1523V682.2H1521.5V693.5H1520V682.7H1518.5V684.1H1517V686.5H1515.5V671.4H1514V673.1H1512.5V668H1511V665.8H1509.5V668.9H1508V669.9H1506.5V667H1505V663.9H1503.5V663.6H1502V663.7H1500.5V660.8H1499V669.5H1497.5V662.9H1496V660.8H1494.5V671.2H1493V660.5H1491.5V661H1490V665.3H1488.5V664H1487V664.9H1485.5V663.3H1484V676.1H1482.5V663.8H1481V661.2H1479.5V666H1478V657.7H1476.5V652.3H1475V652.9H1473.5V649.2H1472V653.4H1470.5V658.8H1469V666.1H1467.5V669H1466V673H1464.5V671.4H1463V677.9H1461.5V674.1H1460V675H1458.5V683.2H1457V692.3H1455.5V682.5H1454V675.6H1452.5V674.8H1451V673.6H1449.5V663.4H1448V667.7H1446.5V661.7H1445V667.4H1443.5V659H1442V661.4H1440.5V666H1439V670.2H1437.5V670.2H1436V668.8H1434.5V670.2H1433V665.5H1431.5V671.5H1430V667.8H1428.5V672.2H1427V671.8H1425.5V674.3H1424V678H1422.5V678.4H1421V679.2H1419.5V685.9H1418V685H1416.5V685.8H1415V687.4H1413.5V697.8H1412V684.9H1410.5V684.7H1409V686.9H1407.5V678.1H1406V682.7H1404.5V685.4H1403V684.1H1401.5V686.5H1400V698.2H1398.5V688.2H1397V688.7H1395.5V694.5H1394V700H1392.5V700.9H1391V719.3H1389.5V712.4H1388V719.1H1386.5V725.4H1385V718.7H1383.5V710.3H1382V711H1380.5V710.9H1379V706.9H1377.5V703.7H1376V702.8H1374.5V701.9H1373V704.7H1371.5V708.6H1370V712.9H1368.5V714.4H1367V716.8H1365.5V721.2H1364V721.7H1362.5V723.9H1361V727.3H1359.5V728H1358V726.7H1356.5V732.7H1355V734.2H1353.5V734.7H1352V751.3H1350.5V748.6H1349V755.8H1347.5V761.2H1346V762.1H1344.5V765.5H1343V768.6H1341.5V771.2H1340V766.6H1338.5V760.9H1337V758.8H1335.5V762.8H1334V751.2H1332.5V755.4H1331V755.9H1329.5V743.4H1328V745.5H1326.5V738.7H1325V735.2H1323.5V739.7H1322V739.3H1320.5V746H1319V755.3H1317.5V759.3H1316V764.3H1314.5V760.2H1313V756.9H1311.5V752.6H1310V746.9H1308.5V753H1307V744.7H1305.5V743.6H1304V742.6H1302.5V747.6H1301V739.5H1299.5V734.5H1298V744.5H1296.5V738.4H1295V730.6H1293.5V735H1292V728.8H1290.5V731H1289V734.4H1287.5V738.2H1286V748.2H1284.5V735.6H1283V736.2H1281.5V731.7H1280V727.6H1278.5V725.2H1277V725.8H1275.5V723H1274V723H1272.5V716.2H1271V715.6H1269.5V708.6H1268V709.2H1266.5V705H1265V708.4H1263.5V706H1262V700.7H1260.5V712.9H1259V694.4H1257.5V700.4H1256V699.4H1254.5V698.8H1253V702.4H1251.5V701.3H1250V707.6H1248.5V706H1247V708.5H1245.5V707.5H1244V711.4H1242.5V713.4H1241V713.8H1239.5V705.8H1238V706H1236.5V708H1235V707.1H1233.5V708.5H1232V708H1230.5V704.4H1229V705.5H1227.5V712H1226V698H1224.5V697.8H1223V688.7H1221.5V686.2H1220V681.3H1218.5V672.1H1217V669.4H1215.5V667.9H1214V665.6H1212.5V660.2H1211V657.3H1209.5V659.4H1208V659.1H1206.5V661.6H1205V665.7H1203.5V668.8H1202V670.2H1200.5V677.1H1199V676.8H1197.5V679.2H1196V680H1194.5V681.4H1193V683.4H1191.5V695.2H1190V685H1188.5V692.7H1187V684.3H1185.5V693.5H1184V686.5H1182.5V684.3H1181V686.7H1179.5V697.8H1178V687.3H1176.5V690.5H1175V683.1H1173.5V693.3H1172V680.4H1170.5V683.9H1169V684.6H1167.5V682.7H1166V683.7H1164.5V689.1H1163V695.8H1161.5V690.8H1160V695.7H1158.5V697.3H1157V702.8H1155.5V706.1H1154V709H1152.5V708.6H1151V698.6H1149.5V696.6H1148V689.5H1146.5V678.8H1145V667.5H1143.5V657.2H1142V665.4H1140.5V666.5H1139V676.9H1137.5V675.2H1136V688.4H1134.5V671.3H1133V681.8H1131.5V676.2H1130V686.6H1128.5V681H1127V685.7H1125.5V684.4H1124V677.8H1122.5V694.2H1121V681.8H1119.5V681H1118V683.1H1116.5V686.7H1115V701.3H1113.5V696.4H1112V708H1110.5V697.1H1109V693.1H1107.5V692.9H1106V690.4H1104.5V688.6H1103V689.9H1101.5V691.7H1100V696.3H1098.5V701.3H1097V695H1095.5V696.6H1094V699.5H1092.5V699H1091V705.4H1089.5V703.8H1088V702.5H1086.5V714.9H1085V697.5H1083.5V703.2H1082V704H1080.5V703.1H1079V704.8H1077.5V702.7H1076V701.1H1074.5V715.2H1073V705.8H1071.5V713.6H1070V728.9H1068.5V732H1067V720.5H1065.5V724.5H1064V723.6H1062.5V723.2H1061V729.4H1059.5V720H1058V723.3H1056.5V715.3H1055V701.3H1053.5V695H1052V697H1050.5V697.4H1049V695.7H1047.5V693.9H1046V696H1044.5V695.9H1043V707.8H1041.5V699.5H1040V703H1038.5V711.7H1037V706.5H1035.5V711.4H1034V712.9H1032.5V711.7H1031V711.1H1029.5V712.2H1028V705.3H1026.5V707.3H1025V707.5H1023.5V710.6H1022V705.5H1020.5V703.6H1019V705H1017.5V705.2H1016V714.1H1014.5V709.7H1013V717.9H1011.5V720.4H1010V724.8H1008.5V738.8H1007V723.3H1005.5V732.4H1004V715.5H1002.5V711.2H1001V704.3H999.5V721.9H998V713.7H996.5V717.1H995V721.2H993.5V726.4H992V724.2H990.5V722.2H989V718.5H987.5V710.7H986V719.1H984.5V709.3H983V709.7H981.5V705.5H980V707.3H978.5V713H977V701.5H975.5V704.8H974V713.5H972.5V716.9H971V715.4H969.5V722.4H968V718.9H966.5V719.5H965V717.1H963.5V720H962V712.7H960.5V725.3H959V734.9H957.5V725.4H956V730.8H954.5V730.4H953V727.4H951.5V730.1H950V719.6H948.5V716.4H947V713.3H945.5V727.3H944V721.6H942.5V721.2H941V731.2H939.5V721.8H938V713.5H936.5V724.6H935V712H933.5V706.5H932V719.7H930.5V712.7H929V720.8H927.5V715.8H926V719.5H924.5V719.1H923V717.7H921.5V719.8H920V714.6H918.5V713.7H917V713.2H915.5V711H914V711.1H912.5V708.1H911V708.1H909.5V707.6H908V703.5H906.5V706H905V703.5H903.5V702.6H902V699.9H900.5V717.4H899V714.4H897.5V719.2H896V721.6H894.5V727.4H893V727.1H891.5V725.9H890V720.3H888.5V720H887V721.5H885.5V716.5H884V712.3H882.5V712.4H881V710.6H879.5V709.4H878V716.1H876.5V715.2H875V719.9H873.5V722H872V726.9H870.5V726.2H869V729.1H867.5V735.5H866V734.1H864.5V726.7H863V728H861.5V725.8H860V720.1H858.5V724.9H857V725.9H855.5V721.8H854V737.2H852.5V728.3H851V737.1H849.5V723.9H848V728.9H846.5V723H845V724.9H843.5V724.1H842V721.8H840.5V721.9H839V721.6H837.5V722.1H836V715.4H834.5V719.9H833V713.8H831.5V717.7H830V718.1H828.5V722.6H827V715.7H825.5V714.7H824V714.7H822.5V710.6H821V705.9H819.5V704.2H818V703.6H816.5V704.1H815V703.3H813.5V712.3H812V719.1H810.5V722.1H809V725.6H807.5V733.1H806V739.3H804.5V735.5H803V734.9H801.5V732.5H800V738.3H798.5V721.8H797V717.1H795.5V713.2H794V711H792.5V704.9H791V706.2H789.5V703.8H788V698.3H786.5V706.5H785V707.3H783.5V713.7H782V713.8H780.5V710.7H779V707.8H777.5V705.9H776V711.2H774.5V714H773V725.2H771.5V727.3H770V723.2H768.5V709.8H767V703.1H765.5V701.4H764V699.2H762.5V693H761V691.3H759.5V690.1H758V689.2H756.5V691.7H755V689.8H753.5V689.1H752V685.6H750.5V688.3H749V686.9H747.5V682.1H746V683.6H744.5V685.1H743V679.3H741.5V676.9H740V682.2H738.5V677.1H737V681.8H735.5V683H734V685.4H732.5V687.6H731V687.9H729.5V678.9H728V683.7H726.5V680H725V675.1H723.5V676.4H722V679H720.5V677.7H719V677.4H717.5V676H716V675.9H714.5V673.3H713V674.7H711.5V671.3H710V682H708.5V678.8H707V671.9H705.5V670.4H704V669.6H702.5V672.6H701V682.9H699.5V689H698V698.6H696.5V710.4H695V720.2H693.5V727.2H692V724H690.5V735.9H689V726.5H687.5V733H686V746.2H684.5V733.3H683V741.2H681.5V747H680V732.5H678.5V732.6H677V731H675.5V736.4H674V732.4H672.5V731.7H671V734.7H669.5V736H668V735.6H666.5V726.1H665V728.1H663.5V733.1H662V725.3H660.5V715.2H659V708.8H657.5V710.7H656V695.4H654.5V695.7H653V698.5H651.5V696.8H650V705.9H648.5V708.3H647V717H645.5V720.6H644V714.8H642.5V711.6H641V709.5H639.5V709.8H638V714H636.5V723H635V712.5H633.5V711.4H632V713.8H630.5V717.1H629V715.2H627.5V712H626V720.6H624.5V730.1H623V719.2H621.5V719.5H620V718.4H618.5V719.9H617V719.4H615.5V718.2H614V722.6H612.5V722.6H611V719.8H609.5V723.2H608V729.9H606.5V728.8H605V729H603.5V731.7H602V730.4H600.5V721.2H599V723.6H597.5V711.9H596V712.4H594.5V722.5H593V719.1H591.5V714.8H590V716.8H588.5V718.2H587V722.9H585.5V721.7H584V727.5H582.5V718.3H581V722.4H579.5V713.1H578V713.7H576.5V726.9H575V738H573.5V734H572V747.6H570.5V734.6H569V738.6H567.5V730.7H566V733.7H564.5V730.4H563V731.5H561.5V724.5H560V723.5H558.5V716.9H557V717.9H555.5V720H554V711.9H552.5V719H551V710.4H549.5V716.8H548V716.5H546.5V716.9H545V712.6H543.5V710.1H542V708.1H540.5V711.6H539V708.4H537.5V719.8H536V714.9H534.5V718.9H533V726.5H531.5V752.2H530V748.2H528.5V753H527V759.4H525.5V756.7H524V753.7H522.5V744.7H521V735.7H519.5V737H518V724.9H516.5V723.3H515V726.1H513.5V729.2H512V727.9H510.5V726.3H509V727.8H507.5V724.8H506V724.6H504.5V730.9H503V734.5H501.5V737.9H500V744.5H498.5V746.6H497V745.7H495.5V745.7H494V747.7H492.5V748.6H491V744.4H489.5V747.2H488V746.2H486.5V740.9H485V736.9H483.5V734.3H482V734.2H480.5V730.5H479V733.8H477.5V729.7H476V732.2H474.5V736H473V745.2H471.5V755.5H470V763.3H468.5V773.2H467V772.3H465.5V771.8H464V773.1H462.5V774.9H461V780.4H459.5V772.1H458V770.9H456.5V769.2H455V768.1H453.5V773.3H452V780H450.5V784.9H449V782.3H447.5V772.8H446V774.3H444.5V765.8H443V764.5H441.5V755.5H440V746.7H438.5V749.8H437V745.6H435.5V750.4H434V762.3H432.5V776.2H431V780.6H429.5V762.2H428V767.2H426.5V757.6H425V759.7H423.5V770.2H422V765.9H420.5V778.9H419V774.7H417.5V775.5H416V773.1H414.5V776.6H413V776.6H411.5V775.7H410V781.9H408.5V782H407V782.1H405.5V783.7H404V782H402.5V779.6H401V782.8H399.5V780.6H398V778.7H396.5V786.9H395V777H393.5V777.6H392V769.6H390.5V761.2H389V766.5H387.5V761.5H386V762.5H384.5V762.9H383V765.1H381.5V762.5H380V764H378.5V766.8H377V766.5H375.5V764.6H374V764.1H372.5V758.8H371V753.6H369.5V753.6H368V752.3H366.5V751.9H365V748.9H363.5V749.4H362V753.3H360.5V750.4H359V753.2H357.5V750H356V748.2H354.5V762.4H353V757H351.5V750H350V767H348.5V754.8H347V750.6H345.5V752.4H344V755.7H342.5V749.1H341V744.4H339.5V744.8H338V744.3H336.5V742.8H335V739.7H333.5V743.9H332V746.3H330.5V746.2H329V751.5H327.5V746.1H326V743.6H324.5V750.3H323V745.4H321.5V743.5H320V737.5H318.5V737.2H317V713.2H315.5V695.4H314V688.6H312.5V683.3H311V669.1H309.5V666.5H308V645.1H306.5V639.6H305V627.5H303.5V621.1H302V615.1H300.5V606.8H299V602.4H297.5V602.7H296V619.5H294.5V637.9H293V630.7H291.5V647.3H290V645.7H288.5V692.6H287V705.7H285.5V672.2H284V649H282.5V640.9H281V641.7H279.5V634H278V619.8H276.5V615.3H275V603.4H273.5V595.7H272V591.4H270.5V589.7H269V588.7H267.5V585.7H266ZM811,331H813V328.4H815V324.1H817V318.4H819V315.5H821V310.2H823V305.6H825V314.8H827V319H829V316.2H831V311.1H833V307.7H835V307.9H837V316.9H839V336.3H837V340.2H835V342.2H833V346H831V349.7H829V351.9H827V358.6H825V363.5H823V370.2H821V371.1H819V379.6H817V390.5H815V397.7H813V399H811ZM1121.6,463.7H1123.6V453.9H1125.6V455.6H1127.6V459.3H1129.6V462.6H1131.6V468.5H1133.6V456.1H1135.6V444.5H1137.6V438.5H1139.6V428H1141.6V404.9H1143.6V390.1H1145.6V388.2H1147.6V388.3H1149.6V384.7H1151.6V389.6H1153.6V389.1H1155.6V384.8H1157.6V389H1159.6V390.2H1161.6V393.3H1163.6V393.3H1165.6V393.1H1167.6V397H1169.6V398.8H1171.6V398.7H1173.6V397.6H1175.6V391.2H1177.6V384.8H1179.6V384.5H1181.6V387.1H1183.6V385.3H1185.6V388.9H1187.6V392.3H1189.6V388.1H1191.6V382.7H1193.6V387.7H1195.6V400.7H1197.6V469H1198.7V477.4H1197.6V492.7H1195.6V495.6H1193.6V492.9H1191.6V494.3H1189.6V491.7H1187.6V498.9H1185.6V497.9H1183.6V501.5H1181.6V502.7H1179.6V507.6H1177.6V512H1175.6V521.1H1173.6V526.4H1171.6V529.4H1169.6V533.8H1167.6V529.7H1165.6V526.7H1163.6V521.4H1161.6V523H1159.6V523.7H1157.6V522.1H1155.6V514.1H1153.6V511.4H1151.6V505.1H1149.6V502.1H1147.6V494.4H1145.6V493.3H1143.6V497.9H1141.6V495.7H1139.6V516.6H1137.6V521.5H1135.6V520.4H1133.6V525.1H1131.6V524.5H1129.6V524.9H1127.6V526.8H1125.6V526.6H1123.6V526.6H1121.6ZM1750.7,311.5H1752.7V313.2H1754.7V344.6H1756.7V361.9H1758.7V365.9H1760.7V361.5H1762.7V359.5H1764.7V356.4H1766.7V353.2H1768.7V348H1770.7V345.4H1772.7V338.1H1774.7V337.9H1776.7V334H1778.7V332.7H1780.7V337.2H1782.7V336.4H1784.7V338H1786.7V342.5H1788.7V347.6H1790.7V346.8H1792.7V356.1H1794.7V353.9H1796.7V351.6H1798.7V349.3H1800.7V343.8H1802.7V338.5H1804.7V335.8H1806.7V330.9H1808.7V327.9H1810.7V335.1H1812.7V330.5H1814.7V330.2H1816.7V325.2H1818.7V326.2H1820.7V322.8H1822.7V320.3H1824.7V317.5H1826.7V317.3H1828.7V326.8H1830.7V337.1H1832.7V343.5H1834.7V350H1836.7V352.8H1836.9V353.2H1836.7V365.2H1834.7V382H1832.7V383.5H1830.7V385.3H1828.7V390.6H1826.7V392.1H1824.7V391.4H1822.7V391.7H1820.7V391.7H1818.7V395.2H1816.7V393.6H1814.7V394.3H1812.7V398.5H1810.7V409.6H1808.7V407.3H1806.7V408.5H1804.7V414.4H1802.7V410.5H1800.7V410.9H1798.7V411.9H1796.7V413.1H1794.7V420.2H1792.7V416.6H1790.7V419.1H1788.7V420.5H1786.7V422.3H1784.7V422.2H1782.7V424.1H1780.7V422.8H1778.7V421.5H1776.7V422.6H1774.7V422.5H1772.7V422.5H1770.7V421.1H1768.7V429.6H1766.7V439.1H1764.7V443.3H1762.7V446.8H1760.7V444.7H1758.7V450.5H1756.7V452.4H1754.7V458.5H1752.7V463.2H1750.7ZM1211.5,366.9H1213V344.6H1214.5V333H1216V323.4H1217.5V307H1219V308.1H1220.5V298.4H1222V293.7H1223.5V295.3H1225V293.7H1226.5V291.9H1228V284H1229.5V295.5H1231V295.4H1232.5V298.8H1234V299.8H1235.5V302.3H1237V301.7H1238.5V301.9H1240V304.2H1241.5V303.9H1243V306.9H1244.5V303.5H1246V283.8H1247.5V279.8H1249V285H1250.5V282.3H1252V279.2H1253.5V279.7H1255V282.6H1256.5V280.7H1258V288.4H1259.5V287.1H1261V274.8H1262.5V285.3H1264V276.9H1265.5V293.5H1267V286.8H1268.5V299.3H1270V292H1271.5V291.6H1273V294.7H1274.5V295.5H1276V297.6H1277.5V294.1H1279V303.6H1280.5V305.5H1282V296.4H1283.5V291.6H1285V298.4H1286.5V297.8H1288V296.8H1289.5V295.7H1291V301H1292.5V302H1294V303.3H1295.5V306.2H1297V301.9H1298.5V300.3H1300V301.6H1301.5V300H1303V299.1H1304.5V294.1H1306V296.8H1307.5V293.6H1309V295H1310.5V296H1312V297.3H1313.5V294.5H1315V287.8H1316.5V290.2H1318V300.2H1319.5V306.3H1321V297.3H1322.5V296.2H1324V307.5H1325.5V306.8H1327V312.6H1328.5V308.7H1330V294.9H1331.5V300.5H1333V305H1334.5V303.6H1336V301.7H1337.5V295.1H1339V307.8H1340.5V304.7H1342V311.5H1343.5V307.8H1345V311.6H1346.5V307.4H1348V316.8H1349.5V311.8H1351V314.2H1352.5V313.1H1354V318.2H1355.5V314.5H1357V311H1358.5V304.4H1360V300.2H1361.5V295H1363V282.2H1364.5V278.4H1366V271.9H1367.5V282.4H1369V288.9H1370.5V289.2H1372V288.8H1373.5V285.2H1375V287.2H1376.5V289.9H1378V283.9H1379.5V286.8H1381V284.1H1382.5V283.7H1384V288H1385.5V285.6H1387V288.8H1388.5V288.6H1390V287.5H1391.5V284.7H1393V285.6H1394.5V286.4H1396V280.6H1397.5V277H1399V277.3H1400.5V276.4H1402V272.3H1403.5V272.7H1405V277.1H1406.5V274.4H1408V274.9H1409.5V274.8H1411V263.4H1412.5V275.1H1414V275.3H1415.5V269.4H1417V273.9H1418.5V255.7H1420V266.7H1421.5V269.3H1423V281.9H1424.5V288.3H1426V293.6H1427.5V279.5H1429V295.2H1430.5V292.3H1432V291.1H1433.5V293.9H1435V292.4H1436.5V296.1H1438V295.6H1439.5V292.5H1441V294.8H1442.5V294.5H1444V286.8H1445.5V297.8H1447V300.4H1448.5V297.7H1450V301.9H1451.5V305.6H1453V300.9H1454.5V305H1456V305.8H1457.5V303H1459V299.4H1460.5V317.3H1462V319.2H1463.5V317.6H1465V329.3H1466.5V333.5H1468V324.5H1469.5V332.7H1471V337.8H1472.5V339.6H1474V338.3H1475.5V335.3H1477V338H1478.5V343.8H1480V340H1481.5V333.5H1483V347.2H1484.5V350.5H1486V349.6H1487.5V354.1H1489V356H1490.5V349.7H1492V347.8H1493.5V340.3H1495V338.8H1496.5V330.8H1498V325.7H1499.5V332.7H1501V325.2H1502.5V326.5H1504V331.1H1505.5V338H1507V348.4H1508.5V347H1510V351.8H1511.5V343.2H1513V355.2H1514.5V356.5H1516V361H1517.5V365.7H1519V363.2H1520.5V361.4H1522V353.8H1523.5V353H1525V353H1526.5V348.9H1528V348.4H1529.5V349H1531V343.1H1532.5V340.9H1534V354.4H1535.5V360.8H1537V368.3H1538.5V371.8H1540V371.3H1541.5V367.3H1543V373.9H1544.5V382.6H1546V396.1H1546.9V401.2H1546V408.8H1544.5V405.4H1543V410.1H1541.5V409.8H1540V411.6H1538.5V409.6H1537V411.4H1535.5V410.8H1534V410.3H1532.5V411H1531V411.3H1529.5V413.1H1528V417.5H1526.5V422.5H1525V424.6H1523.5V419.7H1522V422.9H1520.5V420H1519V425.1H1517.5V428.9H1516V423.4H1514.5V422.3H1513V426.4H1511.5V422.1H1510V429.1H1508.5V419.3H1507V413.9H1505.5V414.4H1504V407H1502.5V403.7H1501V389.2H1499.5V395.1H1498V391.6H1496.5V388H1495V391.3H1493.5V399H1492V406.7H1490.5V400.8H1489V410H1487.5V417.7H1486V427.3H1484.5V419.7H1483V409.8H1481.5V405.5H1480V400.3H1478.5V395.5H1477V394.1H1475.5V397.9H1474V397.6H1472.5V387H1471V397.1H1469.5V412.7H1468V398.9H1466.5V393.6H1465V396.8H1463.5V410.6H1462V404.5H1460.5V402.9H1459V414.7H1457.5V416.2H1456V404.6H1454.5V417.5H1453V405.4H1451.5V407.1H1450V407.1H1448.5V408H1447V408.7H1445.5V410H1444V409.1H1442.5V410.2H1441V412.6H1439.5V412.3H1438V416.1H1436.5V418.5H1435V416H1433.5V423.1H1432V409.5H1430.5V411.2H1429V413.7H1427.5V414.1H1426V427.1H1424.5V417.8H1423V422H1421.5V430.9H1420V430.8H1418.5V431.2H1417V426.5H1415.5V426.5H1414V425.2H1412.5V425.9H1411V424.7H1409.5V425.9H1408V425.4H1406.5V422.4H1405V423.8H1403.5V430.3H1402V421H1400.5V419.2H1399V419.6H1397.5V425.1H1396V426.2H1394.5V426.5H1393V427.2H1391.5V433.3H1390V434.5H1388.5V430H1387V437.3H1385.5V430.5H1384V430.4H1382.5V432.3H1381V428.9H1379.5V430.6H1378V427.4H1376.5V425.4H1375V423.3H1373.5V431.1H1372V423.4H1370.5V427.7H1369V426.5H1367.5V430.7H1366V426.4H1364.5V426.2H1363V433.2H1361.5V424.2H1360V421.2H1358.5V424.9H1357V422.3H1355.5V415.4H1354V415.4H1352.5V412.3H1351V412.7H1349.5V414.2H1348V416.3H1346.5V417.5H1345V418.9H1343.5V421.7H1342V422.8H1340.5V426.6H1339V425.2H1337.5V426.7H1336V428.7H1334.5V426.2H1333V423.1H1331.5V424.5H1330V429.2H1328.5V424.4H1327V424.8H1325.5V427.3H1324V432.9H1322.5V434.9H1321V438.1H1319.5V432.4H1318V433.4H1316.5V435.8H1315V431.9H1313.5V434.7H1312V431.4H1310.5V426.4H1309V432.2H1307.5V428.6H1306V430.2H1304.5V433.8H1303V426.2H1301.5V436.3H1300V431.7H1298.5V428.5H1297V429.1H1295.5V432.7H1294V434.8H1292.5V436H1291V440.8H1289.5V442.1H1288V440.1H1286.5V445.3H1285V446.4H1283.5V444.2H1282V440.7H1280.5V442.2H1279V444.2H1277.5V439H1276V441H1274.5V436.6H1273V434.5H1271.5V436.5H1270V431.4H1268.5V430.8H1267V429.7H1265.5V433.6H1264V427.4H1262.5V423.7H1261V423.3H1259.5V421.3H1258V418.3H1256.5V429.2H1255V413.1H1253.5V413.9H1252V414.4H1250.5V414.6H1249V414.8H1247.5V414.5H1246V413.5H1244.5V414.9H1243V416H1241.5V423.6H1240V427.7H1238.5V437.3H1237V430.1H1235.5V437H1234V434.9H1232.5V431.5H1231V431.4H1229.5V431.6H1228V426.5H1226.5V422.5H1225V422.6H1223.5V421.5H1222V420H1220.5V422.8H1219V415.9H1217.5V398.4H1216V400.7H1214.5V386.6H1213V383.8H1211.5ZM1018.2,366.9L1021.7,366.9L1022.8,403L1024,428.7L1017,428.7L1014.7,398.4L1015.9,389.1ZM1032.2,389.1L1039.1,365.8L1045,366.9L1047.3,417L1049.6,428.7L1033.3,428.7ZM1054.3,389.1L1060.1,387.9L1063.6,417L1070.6,452L1061.3,452L1057.8,426.3L1054.3,403ZM1063.6,366.9L1070.6,366.9L1074.1,384.4L1079.9,387.9L1074.1,415.9L1069.4,403L1064.8,384.4ZM1082.2,369.3L1093.4,369.3L1091.6,384.4L1085.7,405.4L1082.2,389.1ZM1199.9,428.7L1210.3,431L1209.2,450.8L1202.2,449.6ZM1196.4,458.9L1202.2,458.9L1201,470.6L1196.4,470.6ZM1920.4,271.8L1935.9,273.4L1935.3,287.3L1926.6,296.6L1921.9,293.5ZM1931.2,247L1937.5,248.5L1936.8,268.7L1932.8,267.1ZM1950.5,222.1L1953.9,223.7L1952.4,290.4L1950.2,288.9ZM2015.4,203.5L2023.5,203.5L2026.6,219L2026,237.6L2017.3,247L2014.2,237.6ZM2078.8,209.7L2081.9,209.7L2081.9,217.5L2078.8,217.5ZM1998.9,419.3L2003.3,419.3L2005.8,433.3L2002.7,442.6L1998,436.4ZM2025.3,428.6L2029.7,429.6L2029.7,441.1L2026,439.5ZM2034.3,438L2036.8,438L2036.8,450.4L2034.3,450.4ZM2168.8,498.5L2175,486.1L2178.1,489.2L2177.5,532.7L2174.4,560L2170.4,548.2L2168.2,532.7ZM2270,754L2273,754L2273.5,772L2270,772ZM2266,770L2272,768L2280,790L2284,803L2276,806L2268,800L2265,786ZM2279,765L2283,766L2284,771L2279,771ZM2253,786L2257,786L2257.5,797L2253,797ZM2262,790L2266,790L2268,820L2262,822ZM2270,806L2277,808L2276,822L2271,822ZM2245,812L2250,812L2250,821L2244,821ZM2254,814L2258,814L2258,822L2254,822ZM2290,792L2298,788L2301,800L2303,812L2296,814L2292,806ZM2298,812L2306,810L2307,818L2300,818ZM2311,783L2314,783L2314,795L2311,795ZM2315,786L2318,786L2318,796L2315,796ZM2109.1,815.5L2120,814.1L2119.5,822.3L2110.5,822.3ZM2128.2,812.8L2134.9,812L2133.6,820.9L2128.7,819.6Z"/></clipPath><path fill="#00ffff" d="M266,325.2H267.5V323.7H269V329.2H270.5V313.8H272V314.4H273.5V308.6H275V306H276.5V307.3H278V310.6H279.5V304.2H281V307.8H282.5V304.3H284V300.7H285.5V306.3H287V311.4H288.5V309.6H290V299.3H291.5V296.6H293V294.2H294.5V300.8H296V295.7H297.5V289.8H299V296.2H300.5V291.4H302V291.8H303.5V292.4H305V293.7H306.5V297.5H308V283.3H309.5V281.1H311V295.8H312.5V293.3H314V301.2H315.5V305.8H317V308.7H318.5V301.3H320V309.9H321.5V316.2H323V318H324.5V311.9H326V311.5H327.5V311.3H329V313.2H330.5V309.2H332V303.3H333.5V303.9H335V308.7H336.5V308.8H338V310.6H339.5V317.4H341V317.6H342.5V320.8H344V319.4H345.5V306.9H347V304.6H348.5V299.4H350V300.4H351.5V297.7H353V301.6H354.5V303.7H356V303.2H357.5V306.8H359V309.2H360.5V305.8H362V305.8H363.5V310.2H365V307.5H366.5V306.8H368V319.1H369.5V327H371V324.2H372.5V329.5H374V326.4H375.5V315.7H377V318.7H378.5V302.7H380V306.4H381.5V316H383V314.8H384.5V311H386V302.3H387.5V299.9H389V300.2H390.5V303.4H392V304.1H393.5V305.3H395V307.2H396.5V302.5H398V300.8H399.5V302H401V294.8H402.5V299.1H404V296.6H405.5V288H407V298.1H408.5V296.6H410V297H411.5V297.4H413V291.8H414.5V289.8H416V294.5H417.5V294.8H419V288.4H420.5V298.9H422V288.8H423.5V295.5H425V301.5H426.5V300.2H428V288.3H429.5V297.6H431V298.1H432.5V299.8H434V282.6H435.5V299.3H437V297.9H438.5V302.2H440V302H441.5V289.7H443V298.4H444.5V296.1H446V295.7H447.5V293.6H449V273.5H450.5V276.6H452V282.2H453.5V268.5H455V278H456.5V277.3H458V276.7H459.5V301.3H461V302.3H462.5V300.4H464V286.6H465.5V302.6H467V299H468.5V304.2H470V304.2H471.5V288.7H473V267.5H474.5V272.2H476V268.1H477.5V270.6H479V267.2H480.5V268.2H482V262H483.5V270.1H485V267.8H486.5V270.6H488V268.2H489.5V277.3H491V276.6H492.5V276.3H494V283.6H495.5V282.7H497V281H498.5V279.8H500V284.1H501.5V286.2H503V278.6H504.5V275.8H506V271.5H507.5V259.2H509V267H510.5V260.1H512V260.2H513.5V259.9H515V258.4H516.5V261.1H518V257.4H519.5V257.1H521V257.4H522.5V259.9H524V261.1H525.5V261H527V254.7H528.5V249.4H530V246.7H531.5V248.8H533V236.2H534.5V250H536V254.3H537.5V256.5H539V261H540.5V265.9H542V271.2H543.5V259.4H545V247H546.5V242.9H548V242.3H549.5V249.9H551V248.4H552.5V246.5H554V242.7H555.5V259.5H557V258.2H558.5V262.8H560V253.6H561.5V260.8H563V259.3H564.5V248.6H566V261.6H567.5V267.5H569V257.1H570.5V258H572V264.2H573.5V267H575V266.8H576.5V249.2H578V254.6H579.5V266.6H581V256.4H582.5V262.2H584V273H585.5V270.5H587V266H588.5V270.7H590V269H591.5V272.5H593V270.8H594.5V264.4H596V267.5H597.5V269.1H599V258.7H600.5V272.3H602V270.1H603.5V258.6H605V264H606.5V261H608V267.6H609.5V272.5H611V272.7H612.5V275.9H614V275.4H615.5V279H617V277.2H618.5V263.4H620V277H621.5V278H623V277H624.5V275.7H626V282.5H627.5V279.8H629V282.9H630.5V281.1H632V286H633.5V286.3H635V291.6H636.5V296H638V294H639.5V295.5H641V300.6H642.5V310.9H644V297.1H645.5V294.9H647V290.5H648.5V290.3H650V278.2H651.5V285.6H653V290.8H654.5V288.2H656V282H657.5V279.5H659V277.9H660.5V276.5H662V274.1H663.5V258.9H665V272.1H666.5V270.5H668V267.6H669.5V267.9H671V256H672.5V268H674V264.1H675.5V264.2H677V261.5H678.5V257.6H680V245.4H681.5V255.1H683V264.3H684.5V270.4H686V275.4H687.5V276.1H689V272.7H690.5V268.9H692V264.5H693.5V275.9H695V277.6H696.5V274.9H698V275.5H699.5V265.3H701V285.7H702.5V286.4H704V287.9H705.5V288.5H707V287.9H708.5V285.1H710V290.4H711.5V289.6H713V297H714.5V299.3H716V299.8H717.5V300.5H719V299.7H720.5V301.4H722V303.8H723.5V301.4H725V300.4H726.5V290H728V302.8H729.5V298.6H731V310.1H732.5V309.9H734V311.7H735.5V297.3H737V309.1H738.5V303.8H740V299.1H741.5V305.2H743V306.6H744.5V302H746V302.6H747.5V299.9H749V303.8H750.5V298.3H752V310.9H753.5V315.7H755V322.3H756.5V325.4H758V328.7H759.5V320.5H761V319.9H762.5V318.1H764V312.2H765.5V312.7H767V317.3H768.5V323.2H770V322.4H771.5V286.1H773V278.1H774.5V275.9H776V273.8H777.5V274.9H779V272.8H780.5V273.4H782V278.3H783.5V279.2H785V275.9H786.5V281H788V284.2H789.5V289.7H791V295H792.5V296.3H794V293.6H795.5V285.3H797V295H798.5V299.2H800V301.9H801.5V306.7H803V308.7H804.5V315.4H806V316.9H807.5V320.8H809V328.1H810.5V336.7H812V388.9H813.5V562.5H815V563.8H816.5V566.6H818V563.9H819.5V566.7H821V562.1H822.5V552H824V497.2H825.5V497H827V498.4H828.5V497.5H830V498.6H831.5V496.3H833V491.6H834.5V494.4H836V494H837.5V489.7H839V491H840.5V487.5H842V490.7H843.5V485H845V475.2H846.5V481.8H848V481.6H849.5V480.6H851V486.2H852.5V485.6H854V481.9H855.5V473.6H857V485.3H858.5V492.7H860V492.7H861.5V497.4H863V487.9H864.5V491.1H866V477.1H867.5V476.8H869V481.6H870.5V480.8H872V468.4H873.5V476.1H875V478.5H876.5V468.7H878V477.2H879.5V474.1H881V472.2H882.5V466.6H884V471H885.5V473.2H887V472.6H888.5V471H890V471.2H891.5V468.5H893V472.8H894.5V471.9H896V467.8H897.5V469.1H899V469.6H900.5V470.5H902V468H903.5V456.6H905V447.1H906.5V439.5H908V438.6H909.5V438.4H911V436.4H912.5V431.4H914V435.4H915.5V437.4H917V435.2H918.5V437.5H920V449.6H921.5V449.6H923V463H924.5V459H926V454H927.5V456.6H929V459.7H930.5V461.5H932V453.7H933.5V468.2H935V473.2H936.5V468H938V469.3H939.5V475.2H941V471.3H942.5V467H944V474.9H945.5V476.3H947V464.1H948.5V457.5H950V457.1H951.5V462.4H953V460.6H954.5V473.2H956V480.5H957.5V480.5H959V485.3H960.5V484.7H962V471.9H963.5V484.7H965V485.8H966.5V487.1H968V483.1H969.5V474H971V473H972.5V478.8H974V480.6H975.5V474.8H977V473.6H978.5V474.2H980V472H981.5V474H983V466.2H984.5V455.1H986V446.6H987.5V450.6H989V450.2H990.5V447H992V451.4H993.5V445.6H995V443.3H996.5V443.1H998V440.3H999.5V442.1H1001V442.8H1002.5V444.7H1004V451.7H1005.5V442H1007V447.6H1008.5V438.1H1010V445.4H1011.5V447H1013V443.4H1014.5V449.1H1016V443.8H1017.5V426.4H1019V426.1H1020.5V412.3H1022V419.7H1023.5V426.1H1025V419.4H1026.5V426.6H1028V422.4H1029.5V423.8H1031V430H1032.5V423.8H1034V426.5H1035.5V425.1H1037V426.8H1038.5V426.8H1040V418.6H1041.5V420.3H1043V426.4H1044.5V428.4H1046V429.3H1047.5V426.3H1049V428.9H1050.5V437.2H1052V439.5H1053.5V448.8H1055V443.9H1056.5V435.8H1058V447H1059.5V438.8H1061V451H1062.5V448H1064V449.7H1065.5V444.7H1067V446.3H1068.5V447.2H1070V450.5H1071.5V439.3H1073V441.3H1074.5V446.9H1076V445.3H1077.5V449.8H1079V451.6H1080.5V459.9H1082V452.1H1083.5V463.3H1085V460.2H1086.5V455.9H1088V456H1089.5V461.8H1091V459.8H1092.5V459.6H1094V460.7H1095.5V459.4H1097V458.1H1098.5V451.9H1100V449.6H1101.5V450.1H1103V449.2H1104.5V451.2H1106V444.7H1107.5V455.5H1109V463.5H1110.5V452.7H1112V450H1113.5V442.8H1115V440.9H1116.5V439.8H1118V453.8H1119.5V466.6H1121V492.3H1122.5V574H1124V569H1125.5V566.6H1127V565.9H1128.5V568H1130V560.1H1131.5V571.3H1133V574.5H1134.5V577.3H1136V575.8H1137.5V570.2H1139V574.1H1140.5V570.2H1142V569.3H1143.5V566.8H1145V572.8H1146.5V564.1H1148V574.8H1149.5V574.5H1151V575.5H1152.5V577.9H1154V569.2H1155.5V568.7H1157V587H1158.5V583.6H1160V582.7H1161.5V582.1H1163V581.6H1164.5V583.6H1166V587.1H1167.5V582.8H1169V588.4H1170.5V588.5H1172V570H1173.5V587.7H1175V577.7H1176.5V585H1178V583.5H1179.5V577.2H1181V578.3H1182.5V578.7H1184V581.4H1185.5V578.8H1187V566.5H1188.5V580H1190V580.1H1191.5V576.8H1193V577H1194.5V563.3H1196V568.8H1197.5V569.9H1199V567.9H1200.5V568.6H1202V565.9H1203.5V566.9H1205V564.6H1206.5V577.7H1208V573.7H1209.5V581.3H1211V581.4H1212.5V582H1214V581.8H1215.5V577.8H1217V580.6H1218.5V574.3H1220V573.9H1221.5V573.4H1223V575.9H1224.5V571.5H1226V569.6H1227.5V565.4H1229V563.9H1230.5V572.9H1232V573H1233.5V572.4H1235V578.2H1236.5V564.4H1238V561.5H1239.5V575.6H1241V572.7H1242.5V565.1H1244V566.1H1245.5V561.6H1247V561.9H1248.5V560.3H1250V565.8H1251.5V569.4H1253V564.3H1254.5V570.5H1256V570.1H1257.5V560H1259V570H1260.5V564.8H1262V566.1H1263.5V564.6H1265V561.3H1266.5V572.3H1268V570.5H1269.5V574.1H1271V569.3H1272.5V569.4H1274V566.4H1275.5V568.8H1277V572H1278.5V563.5H1280V581.5H1281.5V578.6H1283V575.2H1284.5V575H1286V571.5H1287.5V569.3H1289V567.6H1290.5V559.3H1292V568.6H1293.5V571.7H1295V569H1296.5V563H1298V567.1H1299.5V564.4H1301V565.6H1302.5V567.4H1304V556.8H1305.5V564.6H1307V560.3H1308.5V553.6H1310V558.1H1311.5V554.5H1313V546.2H1314.5V553.5H1316V552.9H1317.5V549.3H1319V548.9H1320.5V546.4H1322V546.7H1323.5V534H1325V545.1H1326.5V541.9H1328V544.4H1329.5V535.8H1331V540.5H1332.5V531.5H1334V528.4H1335.5V526.2H1337V532.3H1338.5V531.3H1340V530.6H1341.5V529.6H1343V535.6H1344.5V533.6H1346V536.4H1347.5V536.2H1349V532.4H1350.5V533.3H1352V533.3H1353.5V534.1H1355V532.7H1356.5V533.3H1358V537.6H1359.5V537.2H1361V537.6H1362.5V541.8H1364V539.9H1365.5V538.8H1367V541.2H1368.5V528.5H1370V540.7H1371.5V545.3H1373V539.7H1374.5V551H1376V541.9H1377.5V539.2H1379V535.8H1380.5V539.1H1382V540.5H1383.5V537.6H1385V540.1H1386.5V541.2H1388V537.8H1389.5V541.3H1391V546.5H1392.5V553.2H1394V552H1395.5V548.3H1397V553.5H1398.5V551.2H1400V544.3H1401.5V558H1403V558.7H1404.5V554.9H1406V557H1407.5V558.3H1409V558.4H1410.5V558.3H1412V560.2H1413.5V558H1415V552.9H1416.5V555.2H1418V554.9H1419.5V554.2H1421V557H1422.5V553.3H1424V550.4H1425.5V555.3H1427V555.4H1428.5V545.9H1430V551.8H1431.5V554.2H1433V547.2H1434.5V546.3H1436V540.5H1437.5V539.7H1439V532.7H1440.5V542.7H1442V547.9H1443.5V537.6H1445V541.2H1446.5V542.8H1448V537.9H1449.5V536.3H1451V532.4H1452.5V529.6H1454V529.6H1455.5V529.7H1457V529.4H1458.5V522.7H1460V508.7H1461.5V511.8H1463V511.6H1464.5V517.7H1466V517.7H1467.5V519.1H1469V516.6H1470.5V518.8H1472V514.5H1473.5V513.7H1475V510.5H1476.5V498.7H1478V508.2H1479.5V506.4H1481V507.9H1482.5V509.6H1484V511.1H1485.5V508.4H1487V509.3H1488.5V508.7H1490V509.3H1491.5V508.6H1493V499.3H1494.5V490.1H1496V493.1H1497.5V485.7H1499V469.8H1500.5V466.5H1502V460.1H1503.5V480.1H1505V482.9H1506.5V487.3H1508V490.2H1509.5V497.6H1511V506.1H1512.5V500.3H1514V505.9H1515.5V507.2H1517V502.8H1518.5V498.3H1520V495.1H1521.5V495.7H1523V484.3H1524.5V464.6H1526V472.4H1527.5V467.6H1529V457H1530.5V459.2H1532V460.5H1533.5V464.6H1535V465.8H1536.5V468.4H1538V452.1H1539.5V466.1H1541V466H1542.5V470.7H1544V468.8H1545.5V331.1H1547V406H1548.5V334H1550V347.8H1551.5V344.2H1553V347.3H1554.5V354.6H1556V351.8H1557.5V367.4H1559V371.3H1560.5V361.6H1562V353.6H1563.5V357.1H1565V357.1H1566.5V361.1H1568V346.8H1569.5V342.7H1571V347.4H1572.5V351H1574V337.5H1575.5V350H1577V354.1H1578.5V349H1580V345.4H1581.5V349.9H1583V353.6H1584.5V351H1586V354.2H1587.5V350.7H1589V354.2H1590.5V349.1H1592V356.5H1593.5V358.7H1595V358.1H1596.5V359.9H1598V348.2H1599.5V360.9H1601V360.7H1602.5V364.6H1604V354.2H1605.5V370.1H1607V365.5H1608.5V364H1610V364.4H1611.5V323H1613V326.2H1614.5V353H1616V378.1H1617.5V390.5H1619V403.2H1620.5V412.2H1622V411.8H1623.5V417.5H1625V400.8H1626.5V369.9H1628V352.1H1629.5V364.5H1631V364.4H1632.5V369.4H1634V371H1635.5V376.9H1637V385.2H1638.5V384.3H1640V348.7H1641.5V331.1H1643V345.4H1644.5V359.1H1646V362H1647.5V380.2H1649V401.4H1650.5V402.1H1652V370.4H1653.5V370.8H1655V368.7H1656.5V372.1H1658V374.9H1659.5V381.8H1661V381.5H1662.5V380.9H1664V376.6H1665.5V373.9H1667V370.8H1668.5V364.6H1670V368H1671.5V361.6H1673V354.8H1674.5V352H1676V355.2H1677.5V357.9H1679V358.4H1680.5V359.6H1682V348.4H1683.5V367.9H1685V369.9H1686.5V375.7H1688V378.4H1689.5V389.2H1691V402.8H1692.5V399.3H1694V401.4H1695.5V394.4H1697V396.9H1698.5V344.9H1700V328.6H1701.5V322.4H1703V318.4H1704.5V315.3H1706V313.2H1707.5V310.8H1709V311.5H1710.5V305.5H1712V309.4H1713.5V304.8H1715V306H1716.5V305.5H1718V294.1H1719.5V293.7H1721V299.6H1722.5V295.7H1724V297.8H1725.5V293.3H1727V281.9H1728.5V290.3H1730V291.1H1731.5V293.5H1733V283.6H1734.5V291.4H1736V294.7H1737.5V280.7H1739V293.2H1740.5V288.4H1742V290.7H1743.5V289.9H1745V286.4H1746.5V287H1748V287.9H1749.5V301.5H1751V300.1H1752.5V305.9H1754V473.4H1755.5V506.3H1757V520.5H1758.5V530.9H1760V537.1H1761.5V542.5H1763V543.9H1764.5V546.1H1766V543.9H1767.5V544.4H1769V544.6H1770.5V535.2H1772V542.5H1773.5V551.4H1775V553.2H1776.5V559.8H1778V561.9H1779.5V558.9H1781V560.6H1782.5V560.1H1784V557.8H1785.5V556.8H1787V549.3H1788.5V556H1790V551.8H1791.5V548.3H1793V533H1794.5V547.2H1796V546H1797.5V541.2H1799V533.6H1800.5V521.1H1802V516.3H1803.5V522.6H1805V524.8H1806.5V519.2H1808V535.9H1809.5V538.2H1811V539.7H1812.5V547.7H1814V543.5H1815.5V544.8H1817V543.2H1818.5V540.3H1820V540.9H1821.5V541.3H1823V540.3H1824.5V542.4H1826V546.3H1827.5V537.1H1829V536.5H1830.5V536H1832V532.6H1833.5V528.7H1835V522.2H1836.5V506.3H1838V513.3H1839.5V523.2H1841V532.1H1842.5V534H1844V534.4H1845.5V536.3H1847V521.1H1848.5V506.1H1850V502.5H1851.5V501.6H1853V502.8H1854.5V501H1856V496.6H1857.5V499.2H1859V496.6H1860.5V498.5H1862V498.5H1863.5V501.7H1865V501.3H1866.5V487.4H1868V497.5H1869.5V496.1H1871V470.1H1872.5V456.6H1874V449.7H1875.5V451.9H1877V446.5H1878.5V442.9H1880V428.6H1881.5V434.5H1883V441.5H1884.5V440.4H1886V440.1H1887.5V435.3H1889V430.3H1890.5V429.9H1892V429.6H1893.5V430.6H1895V417.9H1896.5V434.5H1898V437.6H1899.5V437.9H1901V446.4H1902.5V452.8H1904V457.9H1905.5V460.5H1907V463.3H1908.5V500.6H1910V498.6H1911.5V502.5H1913V498H1914.5V503.4H1916V503.7H1917.5V504.5H1918V531.9H1917.5V554.1H1916V581H1914.5V590.7H1913V604.3H1911.5V635H1910V654.1H1908.5V649.7H1907V647.5H1905.5V658.8H1904V659.6H1902.5V652.8H1901V640.4H1899.5V637.3H1898V630.7H1896.5V630.8H1895V625.4H1893.5V638.1H1892V627.3H1890.5V622.9H1889V619.5H1887.5V621H1886V616.2H1884.5V615.2H1883V607.5H1881.5V615.1H1880V608.3H1878.5V605.5H1877V617.3H1875.5V606.4H1874V607.3H1872.5V604.3H1871V607H1869.5V612.8H1868V609.7H1866.5V608.1H1865V607.9H1863.5V607.3H1862V603.3H1860.5V602.1H1859V603H1857.5V603.1H1856V613H1854.5V600.2H1853V598.8H1851.5V599H1850V598.2H1848.5V597.2H1847V596.3H1845.5V596.6H1844V600.5H1842.5V597.5H1841V599.2H1839.5V599.8H1838V601H1836.5V602.7H1835V605.5H1833.5V603.1H1832V614.3H1830.5V613.4H1829V625.7H1827.5V608.5H1826V608.1H1824.5V611.2H1823V609.7H1821.5V605.7H1820V604.4H1818.5V601.1H1817V599.6H1815.5V604.2H1814V597.1H1812.5V603.6H1811V599.5H1809.5V598.3H1808V603.2H1806.5V611.6H1805V606.7H1803.5V606.5H1802V606.5H1800.5V608.3H1799V613.3H1797.5V610.7H1796V616.2H1794.5V614H1793V610.9H1791.5V609.4H1790V608.6H1788.5V607.8H1787V615.7H1785.5V604.5H1784V597.1H1782.5V611.1H1781V603.9H1779.5V609.7H1778V608.4H1776.5V609.7H1775V595.9H1773.5V596.5H1772V596.7H1770.5V599H1769V599.4H1767.5V601.6H1766V601.5H1764.5V617.5H1763V605.9H1761.5V613.9H1760V624.2H1758.5V613.1H1757V615.9H1755.5V617.9H1754V617.8H1752.5V627.4H1751V622.4H1749.5V622.7H1748V624.4H1746.5V629.4H1745V620.8H1743.5V617.9H1742V618.7H1740.5V617H1739V611.3H1737.5V614.8H1736V624.2H1734.5V635.2H1733V632.5H1731.5V641.9H1730V646.2H1728.5V653H1727V657.7H1725.5V657.8H1724V660.5H1722.5V662.4H1721V659.1H1719.5V658.7H1718V660.6H1716.5V663.9H1715V663.9H1713.5V659.1H1712V668.6H1710.5V659.2H1709V659.4H1707.5V655H1706V656.5H1704.5V659.3H1703V655.4H1701.5V662.8H1700V674H1698.5V660.1H1697V656.3H1695.5V662.8H1694V650.9H1692.5V650.5H1691V646.8H1689.5V644.3H1688V651.1H1686.5V652.3H1685V649.8H1683.5V648.8H1682V647.7H1680.5V651.2H1679V654.6H1677.5V652.1H1676V653.8H1674.5V654.6H1673V640.9H1671.5V640.8H1670V639.2H1668.5V641H1667V654.9H1665.5V646.5H1664V647.5H1662.5V645.3H1661V646.9H1659.5V655.9H1658V653H1656.5V650.1H1655V645.1H1653.5V644.6H1652V637.4H1650.5V638.7H1649V644.5H1647.5V639.1H1646V642.1H1644.5V648.1H1643V654.3H1641.5V654.6H1640V667.5H1638.5V663.8H1637V668.8H1635.5V668.2H1634V666.9H1632.5V669H1631V674.1H1629.5V674.4H1628V678.8H1626.5V678.8H1625V677.4H1623.5V671.7H1622V672.2H1620.5V664.9H1619V670.1H1617.5V655.5H1616V646.9H1614.5V646.5H1613V645.2H1611.5V644.5H1610V647.9H1608.5V644.1H1607V649H1605.5V651.9H1604V650.1H1602.5V651.1H1601V647.2H1599.5V654.5H1598V658.8H1596.5V662.8H1595V664.1H1593.5V667.8H1592V666.4H1590.5V677.5H1589V677.9H1587.5V683.5H1586V682.3H1584.5V684.3H1583V674.1H1581.5V674.3H1580V672.2H1578.5V680.3H1577V675.2H1575.5V674.4H1574V674H1572.5V684.2H1571V675.6H1569.5V674.8H1568V674.6H1566.5V669.4H1565V677H1563.5V671.6H1562V672.3H1560.5V669H1559V670H1557.5V669.2H1556V664H1554.5V663.8H1553V663.7H1551.5V663.6H1550V661.1H1548.5V664.9H1547V666.6H1545.5V663.4H1544V664.6H1542.5V661.6H1541V662.2H1539.5V661.4H1538V661.9H1536.5V668.1H1535V669H1533.5V673.7H1532V686.4H1530.5V686.2H1529V682.3H1527.5V682.5H1526V681.5H1524.5V685.7H1523V682.2H1521.5V693.5H1520V682.7H1518.5V684.1H1517V686.5H1515.5V671.4H1514V673.1H1512.5V668H1511V665.8H1509.5V668.9H1508V669.9H1506.5V667H1505V663.9H1503.5V663.6H1502V663.7H1500.5V660.8H1499V669.5H1497.5V662.9H1496V660.8H1494.5V671.2H1493V660.5H1491.5V661H1490V665.3H1488.5V664H1487V664.9H1485.5V663.3H1484V676.1H1482.5V663.8H1481V661.2H1479.5V666H1478V657.7H1476.5V652.3H1475V652.9H1473.5V649.2H1472V653.4H1470.5V658.8H1469V666.1H1467.5V669H1466V673H1464.5V671.4H1463V677.9H1461.5V674.1H1460V675H1458.5V683.2H1457V692.3H1455.5V682.5H1454V675.6H1452.5V674.8H1451V673.6H1449.5V663.4H1448V667.7H1446.5V661.7H1445V667.4H1443.5V659H1442V661.4H1440.5V666H1439V670.2H1437.5V670.2H1436V668.8H1434.5V670.2H1433V665.5H1431.5V671.5H1430V667.8H1428.5V672.2H1427V671.8H1425.5V674.3H1424V678H1422.5V678.4H1421V679.2H1419.5V685.9H1418V685H1416.5V685.8H1415V687.4H1413.5V697.8H1412V684.9H1410.5V684.7H1409V686.9H1407.5V678.1H1406V682.7H1404.5V685.4H1403V684.1H1401.5V686.5H1400V698.2H1398.5V688.2H1397V688.7H1395.5V694.5H1394V700H1392.5V700.9H1391V719.3H1389.5V712.4H1388V719.1H1386.5V725.4H1385V718.7H1383.5V710.3H1382V711H1380.5V710.9H1379V706.9H1377.5V703.7H1376V702.8H1374.5V701.9H1373V704.7H1371.5V708.6H1370V712.9H1368.5V714.4H1367V716.8H1365.5V721.2H1364V721.7H1362.5V723.9H1361V727.3H1359.5V728H1358V726.7H1356.5V732.7H1355V734.2H1353.5V734.7H1352V751.3H1350.5V748.6H1349V755.8H1347.5V761.2H1346V762.1H1344.5V765.5H1343V768.6H1341.5V771.2H1340V766.6H1338.5V760.9H1337V758.8H1335.5V762.8H1334V751.2H1332.5V755.4H1331V755.9H1329.5V743.4H1328V745.5H1326.5V738.7H1325V735.2H1323.5V739.7H1322V739.3H1320.5V746H1319V755.3H1317.5V759.3H1316V764.3H1314.5V760.2H1313V756.9H1311.5V752.6H1310V746.9H1308.5V753H1307V744.7H1305.5V743.6H1304V742.6H1302.5V747.6H1301V739.5H1299.5V734.5H1298V744.5H1296.5V738.4H1295V730.6H1293.5V735H1292V728.8H1290.5V731H1289V734.4H1287.5V738.2H1286V748.2H1284.5V735.6H1283V736.2H1281.5V731.7H1280V727.6H1278.5V725.2H1277V725.8H1275.5V723H1274V723H1272.5V716.2H1271V715.6H1269.5V708.6H1268V709.2H1266.5V705H1265V708.4H1263.5V706H1262V700.7H1260.5V712.9H1259V694.4H1257.5V700.4H1256V699.4H1254.5V698.8H1253V702.4H1251.5V701.3H1250V707.6H1248.5V706H1247V708.5H1245.5V707.5H1244V711.4H1242.5V713.4H1241V713.8H1239.5V705.8H1238V706H1236.5V708H1235V707.1H1233.5V708.5H1232V708H1230.5V704.4H1229V705.5H1227.5V712H1226V698H1224.5V697.8H1223V688.7H1221.5V686.2H1220V681.3H1218.5V672.1H1217V669.4H1215.5V667.9H1214V665.6H1212.5V660.2H1211V657.3H1209.5V659.4H1208V659.1H1206.5V661.6H1205V665.7H1203.5V668.8H1202V670.2H1200.5V677.1H1199V676.8H1197.5V679.2H1196V680H1194.5V681.4H1193V683.4H1191.5V695.2H1190V685H1188.5V692.7H1187V684.3H1185.5V693.5H1184V686.5H1182.5V684.3H1181V686.7H1179.5V697.8H1178V687.3H1176.5V690.5H1175V683.1H1173.5V693.3H1172V680.4H1170.5V683.9H1169V684.6H1167.5V682.7H1166V683.7H1164.5V689.1H1163V695.8H1161.5V690.8H1160V695.7H1158.5V697.3H1157V702.8H1155.5V706.1H1154V709H1152.5V708.6H1151V698.6H1149.5V696.6H1148V689.5H1146.5V678.8H1145V667.5H1143.5V657.2H1142V665.4H1140.5V666.5H1139V676.9H1137.5V675.2H1136V688.4H1134.5V671.3H1133V681.8H1131.5V676.2H1130V686.6H1128.5V681H1127V685.7H1125.5V684.4H1124V677.8H1122.5V694.2H1121V681.8H1119.5V681H1118V683.1H1116.5V686.7H1115V701.3H1113.5V696.4H1112V708H1110.5V697.1H1109V693.1H1107.5V692.9H1106V690.4H1104.5V688.6H1103V689.9H1101.5V691.7H1100V696.3H1098.5V701.3H1097V695H1095.5V696.6H1094V699.5H1092.5V699H1091V705.4H1089.5V703.8H1088V702.5H1086.5V714.9H1085V697.5H1083.5V703.2H1082V704H1080.5V703.1H1079V704.8H1077.5V702.7H1076V701.1H1074.5V715.2H1073V705.8H1071.5V713.6H1070V728.9H1068.5V732H1067V720.5H1065.5V724.5H1064V723.6H1062.5V723.2H1061V729.4H1059.5V720H1058V723.3H1056.5V715.3H1055V701.3H1053.5V695H1052V697H1050.5V697.4H1049V695.7H1047.5V693.9H1046V696H1044.5V695.9H1043V707.8H1041.5V699.5H1040V703H1038.5V711.7H1037V706.5H1035.5V711.4H1034V712.9H1032.5V711.7H1031V711.1H1029.5V712.2H1028V705.3H1026.5V707.3H1025V707.5H1023.5V710.6H1022V705.5H1020.5V703.6H1019V705H1017.5V705.2H1016V714.1H1014.5V709.7H1013V717.9H1011.5V720.4H1010V724.8H1008.5V738.8H1007V723.3H1005.5V732.4H1004V715.5H1002.5V711.2H1001V704.3H999.5V721.9H998V713.7H996.5V717.1H995V721.2H993.5V726.4H992V724.2H990.5V722.2H989V718.5H987.5V710.7H986V719.1H984.5V709.3H983V709.7H981.5V705.5H980V707.3H978.5V713H977V701.5H975.5V704.8H974V713.5H972.5V716.9H971V715.4H969.5V722.4H968V718.9H966.5V719.5H965V717.1H963.5V720H962V712.7H960.5V725.3H959V734.9H957.5V725.4H956V730.8H954.5V730.4H953V727.4H951.5V730.1H950V719.6H948.5V716.4H947V713.3H945.5V727.3H944V721.6H942.5V721.2H941V731.2H939.5V721.8H938V713.5H936.5V724.6H935V712H933.5V706.5H932V719.7H930.5V712.7H929V720.8H927.5V715.8H926V719.5H924.5V719.1H923V717.7H921.5V719.8H920V714.6H918.5V713.7H917V713.2H915.5V711H914V711.1H912.5V708.1H911V708.1H909.5V707.6H908V703.5H906.5V706H905V703.5H903.5V702.6H902V699.9H900.5V717.4H899V714.4H897.5V719.2H896V721.6H894.5V727.4H893V727.1H891.5V725.9H890V720.3H888.5V720H887V721.5H885.5V716.5H884V712.3H882.5V712.4H881V710.6H879.5V709.4H878V716.1H876.5V715.2H875V719.9H873.5V722H872V726.9H870.5V726.2H869V729.1H867.5V735.5H866V734.1H864.5V726.7H863V728H861.5V725.8H860V720.1H858.5V724.9H857V725.9H855.5V721.8H854V737.2H852.5V728.3H851V737.1H849.5V723.9H848V728.9H846.5V723H845V724.9H843.5V724.1H842V721.8H840.5V721.9H839V721.6H837.5V722.1H836V715.4H834.5V719.9H833V713.8H831.5V717.7H830V718.1H828.5V722.6H827V715.7H825.5V714.7H824V714.7H822.5V710.6H821V705.9H819.5V704.2H818V703.6H816.5V704.1H815V703.3H813.5V712.3H812V719.1H810.5V722.1H809V725.6H807.5V733.1H806V739.3H804.5V735.5H803V734.9H801.5V732.5H800V738.3H798.5V721.8H797V717.1H795.5V713.2H794V711H792.5V704.9H791V706.2H789.5V703.8H788V698.3H786.5V706.5H785V707.3H783.5V713.7H782V713.8H780.5V710.7H779V707.8H777.5V705.9H776V711.2H774.5V714H773V725.2H771.5V727.3H770V723.2H768.5V709.8H767V703.1H765.5V701.4H764V699.2H762.5V693H761V691.3H759.5V690.1H758V689.2H756.5V691.7H755V689.8H753.5V689.1H752V685.6H750.5V688.3H749V686.9H747.5V682.1H746V683.6H744.5V685.1H743V679.3H741.5V676.9H740V682.2H738.5V677.1H737V681.8H735.5V683H734V685.4H732.5V687.6H731V687.9H729.5V678.9H728V683.7H726.5V680H725V675.1H723.5V676.4H722V679H720.5V677.7H719V677.4H717.5V676H716V675.9H714.5V673.3H713V674.7H711.5V671.3H710V682H708.5V678.8H707V671.9H705.5V670.4H704V669.6H702.5V672.6H701V682.9H699.5V689H698V698.6H696.5V710.4H695V720.2H693.5V727.2H692V724H690.5V735.9H689V726.5H687.5V733H686V746.2H684.5V733.3H683V741.2H681.5V747H680V732.5H678.5V732.6H677V731H675.5V736.4H674V732.4H672.5V731.7H671V734.7H669.5V736H668V735.6H666.5V726.1H665V728.1H663.5V733.1H662V725.3H660.5V715.2H659V708.8H657.5V710.7H656V695.4H654.5V695.7H653V698.5H651.5V696.8H650V705.9H648.5V708.3H647V717H645.5V720.6H644V714.8H642.5V711.6H641V709.5H639.5V709.8H638V714H636.5V723H635V712.5H633.5V711.4H632V713.8H630.5V717.1H629V715.2H627.5V712H626V720.6H624.5V730.1H623V719.2H621.5V719.5H620V718.4H618.5V719.9H617V719.4H615.5V718.2H614V722.6H612.5V722.6H611V719.8H609.5V723.2H608V729.9H606.5V728.8H605V729H603.5V731.7H602V730.4H600.5V721.2H599V723.6H597.5V711.9H596V712.4H594.5V722.5H593V719.1H591.5V714.8H590V716.8H588.5V718.2H587V722.9H585.5V721.7H584V727.5H582.5V718.3H581V722.4H579.5V713.1H578V713.7H576.5V726.9H575V738H573.5V734H572V747.6H570.5V734.6H569V738.6H567.5V730.7H566V733.7H564.5V730.4H563V731.5H561.5V724.5H560V723.5H558.5V716.9H557V717.9H555.5V720H554V711.9H552.5V719H551V710.4H549.5V716.8H548V716.5H546.5V716.9H545V712.6H543.5V710.1H542V708.1H540.5V711.6H539V708.4H537.5V719.8H536V714.9H534.5V718.9H533V726.5H531.5V752.2H530V748.2H528.5V753H527V759.4H525.5V756.7H524V753.7H522.5V744.7H521V735.7H519.5V737H518V724.9H516.5V723.3H515V726.1H513.5V729.2H512V727.9H510.5V726.3H509V727.8H507.5V724.8H506V724.6H504.5V730.9H503V734.5H501.5V737.9H500V744.5H498.5V746.6H497V745.7H495.5V745.7H494V747.7H492.5V748.6H491V744.4H489.5V747.2H488V746.2H486.5V740.9H485V736.9H483.5V734.3H482V734.2H480.5V730.5H479V733.8H477.5V729.7H476V732.2H474.5V736H473V745.2H471.5V755.5H470V763.3H468.5V773.2H467V772.3H465.5V771.8H464V773.1H462.5V774.9H461V780.4H459.5V772.1H458V770.9H456.5V769.2H455V768.1H453.5V773.3H452V780H450.5V784.9H449V782.3H447.5V772.8H446V774.3H444.5V765.8H443V764.5H441.5V755.5H440V746.7H438.5V749.8H437V745.6H435.5V750.4H434V762.3H432.5V776.2H431V780.6H429.5V762.2H428V767.2H426.5V757.6H425V759.7H423.5V770.2H422V765.9H420.5V778.9H419V774.7H417.5V775.5H416V773.1H414.5V776.6H413V776.6H411.5V775.7H410V781.9H408.5V782H407V782.1H405.5V783.7H404V782H402.5V779.6H401V782.8H399.5V780.6H398V778.7H396.5V786.9H395V777H393.5V777.6H392V769.6H390.5V761.2H389V766.5H387.5V761.5H386V762.5H384.5V762.9H383V765.1H381.5V762.5H380V764H378.5V766.8H377V766.5H375.5V764.6H374V764.1H372.5V758.8H371V753.6H369.5V753.6H368V752.3H366.5V751.9H365V748.9H363.5V749.4H362V753.3H360.5V750.4H359V753.2H357.5V750H356V748.2H354.5V762.4H353V757H351.5V750H350V767H348.5V754.8H347V750.6H345.5V752.4H344V755.7H342.5V749.1H341V744.4H339.5V744.8H338V744.3H336.5V742.8H335V739.7H333.5V743.9H332V746.3H330.5V746.2H329V751.5H327.5V746.1H326V743.6H324.5V750.3H323V745.4H321.5V743.5H320V737.5H318.5V737.2H317V713.2H315.5V695.4H314V688.6H312.5V683.3H311V669.1H309.5V666.5H308V645.1H306.5V639.6H305V627.5H303.5V621.1H302V615.1H300.5V606.8H299V602.4H297.5V602.7H296V619.5H294.5V637.9H293V630.7H291.5V647.3H290V645.7H288.5V692.6H287V705.7H285.5V672.2H284V649H282.5V640.9H281V641.7H279.5V634H278V619.8H276.5V615.3H275V603.4H273.5V595.7H272V591.4H270.5V589.7H269V588.7H267.5V585.7H266ZM811,331H813V328.4H815V324.1H817V318.4H819V315.5H821V310.2H823V305.6H825V314.8H827V319H829V316.2H831V311.1H833V307.7H835V307.9H837V316.9H839V336.3H837V340.2H835V342.2H833V346H831V349.7H829V351.9H827V358.6H825V363.5H823V370.2H821V371.1H819V379.6H817V390.5H815V397.7H813V399H811ZM1121.6,463.7H1123.6V453.9H1125.6V455.6H1127.6V459.3H1129.6V462.6H1131.6V468.5H1133.6V456.1H1135.6V444.5H1137.6V438.5H1139.6V428H1141.6V404.9H1143.6V390.1H1145.6V388.2H1147.6V388.3H1149.6V384.7H1151.6V389.6H1153.6V389.1H1155.6V384.8H1157.6V389H1159.6V390.2H1161.6V393.3H1163.6V393.3H1165.6V393.1H1167.6V397H1169.6V398.8H1171.6V398.7H1173.6V397.6H1175.6V391.2H1177.6V384.8H1179.6V384.5H1181.6V387.1H1183.6V385.3H1185.6V388.9H1187.6V392.3H1189.6V388.1H1191.6V382.7H1193.6V387.7H1195.6V400.7H1197.6V469H1198.7V477.4H1197.6V492.7H1195.6V495.6H1193.6V492.9H1191.6V494.3H1189.6V491.7H1187.6V498.9H1185.6V497.9H1183.6V501.5H1181.6V502.7H1179.6V507.6H1177.6V512H1175.6V521.1H1173.6V526.4H1171.6V529.4H1169.6V533.8H1167.6V529.7H1165.6V526.7H1163.6V521.4H1161.6V523H1159.6V523.7H1157.6V522.1H1155.6V514.1H1153.6V511.4H1151.6V505.1H1149.6V502.1H1147.6V494.4H1145.6V493.3H1143.6V497.9H1141.6V495.7H1139.6V516.6H1137.6V521.5H1135.6V520.4H1133.6V525.1H1131.6V524.5H1129.6V524.9H1127.6V526.8H1125.6V526.6H1123.6V526.6H1121.6ZM1750.7,311.5H1752.7V313.2H1754.7V344.6H1756.7V361.9H1758.7V365.9H1760.7V361.5H1762.7V359.5H1764.7V356.4H1766.7V353.2H1768.7V348H1770.7V345.4H1772.7V338.1H1774.7V337.9H1776.7V334H1778.7V332.7H1780.7V337.2H1782.7V336.4H1784.7V338H1786.7V342.5H1788.7V347.6H1790.7V346.8H1792.7V356.1H1794.7V353.9H1796.7V351.6H1798.7V349.3H1800.7V343.8H1802.7V338.5H1804.7V335.8H1806.7V330.9H1808.7V327.9H1810.7V335.1H1812.7V330.5H1814.7V330.2H1816.7V325.2H1818.7V326.2H1820.7V322.8H1822.7V320.3H1824.7V317.5H1826.7V317.3H1828.7V326.8H1830.7V337.1H1832.7V343.5H1834.7V350H1836.7V352.8H1836.9V353.2H1836.7V365.2H1834.7V382H1832.7V383.5H1830.7V385.3H1828.7V390.6H1826.7V392.1H1824.7V391.4H1822.7V391.7H1820.7V391.7H1818.7V395.2H1816.7V393.6H1814.7V394.3H1812.7V398.5H1810.7V409.6H1808.7V407.3H1806.7V408.5H1804.7V414.4H1802.7V410.5H1800.7V410.9H1798.7V411.9H1796.7V413.1H1794.7V420.2H1792.7V416.6H1790.7V419.1H1788.7V420.5H1786.7V422.3H1784.7V422.2H1782.7V424.1H1780.7V422.8H1778.7V421.5H1776.7V422.6H1774.7V422.5H1772.7V422.5H1770.7V421.1H1768.7V429.6H1766.7V439.1H1764.7V443.3H1762.7V446.8H1760.7V444.7H1758.7V450.5H1756.7V452.4H1754.7V458.5H1752.7V463.2H1750.7ZM1211.5,366.9H1213V344.6H1214.5V333H1216V323.4H1217.5V307H1219V308.1H1220.5V298.4H1222V293.7H1223.5V295.3H1225V293.7H1226.5V291.9H1228V284H1229.5V295.5H1231V295.4H1232.5V298.8H1234V299.8H1235.5V302.3H1237V301.7H1238.5V301.9H1240V304.2H1241.5V303.9H1243V306.9H1244.5V303.5H1246V283.8H1247.5V279.8H1249V285H1250.5V282.3H1252V279.2H1253.5V279.7H1255V282.6H1256.5V280.7H1258V288.4H1259.5V287.1H1261V274.8H1262.5V285.3H1264V276.9H1265.5V293.5H1267V286.8H1268.5V299.3H1270V292H1271.5V291.6H1273V294.7H1274.5V295.5H1276V297.6H1277.5V294.1H1279V303.6H1280.5V305.5H1282V296.4H1283.5V291.6H1285V298.4H1286.5V297.8H1288V296.8H1289.5V295.7H1291V301H1292.5V302H1294V303.3H1295.5V306.2H1297V301.9H1298.5V300.3H1300V301.6H1301.5V300H1303V299.1H1304.5V294.1H1306V296.8H1307.5V293.6H1309V295H1310.5V296H1312V297.3H1313.5V294.5H1315V287.8H1316.5V290.2H1318V300.2H1319.5V306.3H1321V297.3H1322.5V296.2H1324V307.5H1325.5V306.8H1327V312.6H1328.5V308.7H1330V294.9H1331.5V300.5H1333V305H1334.5V303.6H1336V301.7H1337.5V295.1H1339V307.8H1340.5V304.7H1342V311.5H1343.5V307.8H1345V311.6H1346.5V307.4H1348V316.8H1349.5V311.8H1351V314.2H1352.5V313.1H1354V318.2H1355.5V314.5H1357V311H1358.5V304.4H1360V300.2H1361.5V295H1363V282.2H1364.5V278.4H1366V271.9H1367.5V282.4H1369V288.9H1370.5V289.2H1372V288.8H1373.5V285.2H1375V287.2H1376.5V289.9H1378V283.9H1379.5V286.8H1381V284.1H1382.5V283.7H1384V288H1385.5V285.6H1387V288.8H1388.5V288.6H1390V287.5H1391.5V284.7H1393V285.6H1394.5V286.4H1396V280.6H1397.5V277H1399V277.3H1400.5V276.4H1402V272.3H1403.5V272.7H1405V277.1H1406.5V274.4H1408V274.9H1409.5V274.8H1411V263.4H1412.5V275.1H1414V275.3H1415.5V269.4H1417V273.9H1418.5V255.7H1420V266.7H1421.5V269.3H1423V281.9H1424.5V288.3H1426V293.6H1427.5V279.5H1429V295.2H1430.5V292.3H1432V291.1H1433.5V293.9H1435V292.4H1436.5V296.1H1438V295.6H1439.5V292.5H1441V294.8H1442.5V294.5H1444V286.8H1445.5V297.8H1447V300.4H1448.5V297.7H1450V301.9H1451.5V305.6H1453V300.9H1454.5V305H1456V305.8H1457.5V303H1459V299.4H1460.5V317.3H1462V319.2H1463.5V317.6H1465V329.3H1466.5V333.5H1468V324.5H1469.5V332.7H1471V337.8H1472.5V339.6H1474V338.3H1475.5V335.3H1477V338H1478.5V343.8H1480V340H1481.5V333.5H1483V347.2H1484.5V350.5H1486V349.6H1487.5V354.1H1489V356H1490.5V349.7H1492V347.8H1493.5V340.3H1495V338.8H1496.5V330.8H1498V325.7H1499.5V332.7H1501V325.2H1502.5V326.5H1504V331.1H1505.5V338H1507V348.4H1508.5V347H1510V351.8H1511.5V343.2H1513V355.2H1514.5V356.5H1516V361H1517.5V365.7H1519V363.2H1520.5V361.4H1522V353.8H1523.5V353H1525V353H1526.5V348.9H1528V348.4H1529.5V349H1531V343.1H1532.5V340.9H1534V354.4H1535.5V360.8H1537V368.3H1538.5V371.8H1540V371.3H1541.5V367.3H1543V373.9H1544.5V382.6H1546V396.1H1546.9V401.2H1546V408.8H1544.5V405.4H1543V410.1H1541.5V409.8H1540V411.6H1538.5V409.6H1537V411.4H1535.5V410.8H1534V410.3H1532.5V411H1531V411.3H1529.5V413.1H1528V417.5H1526.5V422.5H1525V424.6H1523.5V419.7H1522V422.9H1520.5V420H1519V425.1H1517.5V428.9H1516V423.4H1514.5V422.3H1513V426.4H1511.5V422.1H1510V429.1H1508.5V419.3H1507V413.9H1505.5V414.4H1504V407H1502.5V403.7H1501V389.2H1499.5V395.1H1498V391.6H1496.5V388H1495V391.3H1493.5V399H1492V406.7H1490.5V400.8H1489V410H1487.5V417.7H1486V427.3H1484.5V419.7H1483V409.8H1481.5V405.5H1480V400.3H1478.5V395.5H1477V394.1H1475.5V397.9H1474V397.6H1472.5V387H1471V397.1H1469.5V412.7H1468V398.9H1466.5V393.6H1465V396.8H1463.5V410.6H1462V404.5H1460.5V402.9H1459V414.7H1457.5V416.2H1456V404.6H1454.5V417.5H1453V405.4H1451.5V407.1H1450V407.1H1448.5V408H1447V408.7H1445.5V410H1444V409.1H1442.5V410.2H1441V412.6H1439.5V412.3H1438V416.1H1436.5V418.5H1435V416H1433.5V423.1H1432V409.5H1430.5V411.2H1429V413.7H1427.5V414.1H1426V427.1H1424.5V417.8H1423V422H1421.5V430.9H1420V430.8H1418.5V431.2H1417V426.5H1415.5V426.5H1414V425.2H1412.5V425.9H1411V424.7H1409.5V425.9H1408V425.4H1406.5V422.4H1405V423.8H1403.5V430.3H1402V421H1400.5V419.2H1399V419.6H1397.5V425.1H1396V426.2H1394.5V426.5H1393V427.2H1391.5V433.3H1390V434.5H1388.5V430H1387V437.3H1385.5V430.5H1384V430.4H1382.5V432.3H1381V428.9H1379.5V430.6H1378V427.4H1376.5V425.4H1375V423.3H1373.5V431.1H1372V423.4H1370.5V427.7H1369V426.5H1367.5V430.7H1366V426.4H1364.5V426.2H1363V433.2H1361.5V424.2H1360V421.2H1358.5V424.9H1357V422.3H1355.5V415.4H1354V415.4H1352.5V412.3H1351V412.7H1349.5V414.2H1348V416.3H1346.5V417.5H1345V418.9H1343.5V421.7H1342V422.8H1340.5V426.6H1339V425.2H1337.5V426.7H1336V428.7H1334.5V426.2H1333V423.1H1331.5V424.5H1330V429.2H1328.5V424.4H1327V424.8H1325.5V427.3H1324V432.9H1322.5V434.9H1321V438.1H1319.5V432.4H1318V433.4H1316.5V435.8H1315V431.9H1313.5V434.7H1312V431.4H1310.5V426.4H1309V432.2H1307.5V428.6H1306V430.2H1304.5V433.8H1303V426.2H1301.5V436.3H1300V431.7H1298.5V428.5H1297V429.1H1295.5V432.7H1294V434.8H1292.5V436H1291V440.8H1289.5V442.1H1288V440.1H1286.5V445.3H1285V446.4H1283.5V444.2H1282V440.7H1280.5V442.2H1279V444.2H1277.5V439H1276V441H1274.5V436.6H1273V434.5H1271.5V436.5H1270V431.4H1268.5V430.8H1267V429.7H1265.5V433.6H1264V427.4H1262.5V423.7H1261V423.3H1259.5V421.3H1258V418.3H1256.5V429.2H1255V413.1H1253.5V413.9H1252V414.4H1250.5V414.6H1249V414.8H1247.5V414.5H1246V413.5H1244.5V414.9H1243V416H1241.5V423.6H1240V427.7H1238.5V437.3H1237V430.1H1235.5V437H1234V434.9H1232.5V431.5H1231V431.4H1229.5V431.6H1228V426.5H1226.5V422.5H1225V422.6H1223.5V421.5H1222V420H1220.5V422.8H1219V415.9H1217.5V398.4H1216V400.7H1214.5V386.6H1213V383.8H1211.5ZM1018.2,366.9L1021.7,366.9L1022.8,403L1024,428.7L1017,428.7L1014.7,398.4L1015.9,389.1ZM1032.2,389.1L1039.1,365.8L1045,366.9L1047.3,417L1049.6,428.7L1033.3,428.7ZM1054.3,389.1L1060.1,387.9L1063.6,417L1070.6,452L1061.3,452L1057.8,426.3L1054.3,403ZM1063.6,366.9L1070.6,366.9L1074.1,384.4L1079.9,387.9L1074.1,415.9L1069.4,403L1064.8,384.4ZM1082.2,369.3L1093.4,369.3L1091.6,384.4L1085.7,405.4L1082.2,389.1ZM1199.9,428.7L1210.3,431L1209.2,450.8L1202.2,449.6ZM1196.4,458.9L1202.2,458.9L1201,470.6L1196.4,470.6ZM1920.4,271.8L1935.9,273.4L1935.3,287.3L1926.6,296.6L1921.9,293.5ZM1931.2,247L1937.5,248.5L1936.8,268.7L1932.8,267.1ZM1950.5,222.1L1953.9,223.7L1952.4,290.4L1950.2,288.9ZM2015.4,203.5L2023.5,203.5L2026.6,219L2026,237.6L2017.3,247L2014.2,237.6ZM2078.8,209.7L2081.9,209.7L2081.9,217.5L2078.8,217.5ZM1998.9,419.3L2003.3,419.3L2005.8,433.3L2002.7,442.6L1998,436.4ZM2025.3,428.6L2029.7,429.6L2029.7,441.1L2026,439.5ZM2034.3,438L2036.8,438L2036.8,450.4L2034.3,450.4ZM2168.8,498.5L2175,486.1L2178.1,489.2L2177.5,532.7L2174.4,560L2170.4,548.2L2168.2,532.7ZM2270,754L2273,754L2273.5,772L2270,772ZM2266,770L2272,768L2280,790L2284,803L2276,806L2268,800L2265,786ZM2279,765L2283,766L2284,771L2279,771ZM2253,786L2257,786L2257.5,797L2253,797ZM2262,790L2266,790L2268,820L2262,822ZM2270,806L2277,808L2276,822L2271,822ZM2245,812L2250,812L2250,821L2244,821ZM2254,814L2258,814L2258,822L2254,822ZM2290,792L2298,788L2301,800L2303,812L2296,814L2292,806ZM2298,812L2306,810L2307,818L2300,818ZM2311,783L2314,783L2314,795L2311,795ZM2315,786L2318,786L2318,796L2315,796ZM2109.1,815.5L2120,814.1L2119.5,822.3L2110.5,822.3ZM2128.2,812.8L2134.9,812L2133.6,820.9L2128.7,819.6Z"/><g clip-path="url(#cc)"><path fill="#ffb6c1" d="M1002.3,585h1.9v12.3h-1.9zM829,679.2h1.7v21.3h-1.7zM740.5,672.5h1.2v21.6h-1.2zM1051.5,641.5h1.7v24.1h-1.7zM910.7,627.1h1.9v24.6h-1.9zM886.4,578.5h2.1v19.4h-2.1zM933.8,651.9h1.3v20.2h-1.3zM742.4,626.2h2.2v23.5h-2.2zM1079.6,689.8h1.8v7h-1.8zM795,641.3h1.1v9.6h-1.1zM705.6,590.6h2.2v12h-2.2zM1080.4,594h2.4v4.9h-2.4zM955.7,634h1.1v27.8h-1.1zM938.7,642.7h2v24.8h-2zM933.2,629.7h1.6v15h-1.6zM1119.6,587.8h1.7v11.9h-1.7zM1051.5,680h1.2v5.2h-1.2zM788.5,666.1h2.1v5.2h-2.1zM1053.4,573.3h2.1v8.6h-2.1zM959.8,616h1.7v20h-1.7zM991.1,576.2h2v18.7h-2zM726.3,612.3h2v9.4h-2zM792.6,642.6h1.8v23h-1.8zM942.5,637.9h1.8v13.1h-1.8zM1108.4,590.4h1.7v5.7h-1.7zM1093.7,671h1.9v12.1h-1.9zM899,666.9h1.8v4h-1.8zM897.6,679.3h2.1v21.6h-2.1zM777.4,670.7h2.1v20.9h-2.1zM739.3,618.7h1.8v15.1h-1.8zM1116.8,675.6h1.7v24.3h-1.7zM801.8,598.6h1.9v9.5h-1.9zM1083.5,656.7h1.2v13.5h-1.2zM1064.8,646.4h1.5v19.1h-1.5zM761.9,689.1h1.4v15.5h-1.4zM935.3,633.7h2.2v8.9h-2.2zM752.2,585.7h1.4v5.9h-1.4zM705.9,607.3h2.2v8.6h-2.2zM809.5,571.8h2.3v23.3h-2.3zM985.3,593.6h1.7v16.6h-1.7zM763.7,631.7h2.2v16.6h-2.2zM732,644.7h2.3v9.1h-2.3zM1098,623.5h2.2v23.9h-2.2zM819,602.2h2v24.7h-2zM969,623.2h1.5v24h-1.5zM791.3,600h2.4v8.1h-2.4zM766.3,598.3h1.8v24.6h-1.8zM844.3,612.6h2.1v16.5h-2.1zM1003.5,588.4h1.4v7.8h-1.4zM1047,591.9h2.1v4.1h-2.1zM887,688h1.9v12.9h-1.9zM984.8,612.2h1v18.8h-1zM759.6,630.6h2.2v15.9h-2.2zM998.5,648.5h1.7v7.5h-1.7zM935.7,602.2h1v12.3h-1zM940.9,613.6h2.1v16.9h-2.1zM1032.5,651.9h1.1v8.7h-1.1zM787.7,656.3h1.4v12.4h-1.4zM935.5,663.5h1.1v10.9h-1.1zM1085.4,633.4h1.4v13.4h-1.4zM1109.5,659.3h1.5v5.6h-1.5zM915.2,608.3h2.2v7.1h-2.2zM880.6,637h2v5.9h-2zM748.3,610.9h1.8v19.5h-1.8zM919.5,688.8h1v20.1h-1zM1074.9,608.4h1.4v17.5h-1.4zM766.4,650.7h1.4v20.8h-1.4zM749.5,689.8h1.4v22h-1.4zM1020.1,626.2h2.1v6h-2.1zM995.6,681.2h1.4v19.3h-1.4zM840.3,596.5h1.6v19.5h-1.6zM778.4,645.5h1.6v7.2h-1.6zM734.7,677h1.9v10.4h-1.9zM896.2,618.5h1.5v7.8h-1.5zM793.7,636.6h2v9.4h-2zM773.2,664.5h1.9v23.1h-1.9zM797,632.3h1.4v22.8h-1.4zM1098.7,613h1.7v15.1h-1.7zM994.6,656.6h2.3v7.3h-2.3zM751.4,621.8h1.7v10.1h-1.7zM913,623.2h2.3v22.5h-2.3zM970.8,661.1h1.2v16h-1.2zM922.2,573.3h1.3v8h-1.3zM709.1,644.4h1.5v25.3h-1.5zM831.5,655.7h2.1v12.9h-2.1zM750.6,685.9h1.8v19.4h-1.8zM930.4,584.3h1.8v21.1h-1.8zM835.2,678.9h2.1v20.5h-2.1zM773,680.2h2.1v7.6h-2.1zM1096.5,685.7h2.2v7.6h-2.2zM854.3,612.6h1.5v14.9h-1.5zM1004.3,644.6h2.2v12.1h-2.2zM1019.4,613h2v20.5h-2zM933.1,664.6h2.3v7.8h-2.3zM971.6,684.7h2.3v8.9h-2.3zM777.8,670.4h1.9v12.6h-1.9zM891,621.7h1.2v17.4h-1.2zM923.3,649.6h2.4v7.2h-2.4zM728.9,667.9h1.6v16.3h-1.6zM924.1,607.6h1.2v13.3h-1.2zM816.3,609.1h1.4v18.7h-1.4zM702.7,610.9h2.2v26.4h-2.2zM793.7,680.7h1.9v26.9h-1.9zM758.8,674.9h2.3v21.9h-2.3zM1056.9,672.2h2v20.2h-2zM719.2,593.8h1.1v17.1h-1.1zM747.4,626.3h1v10.6h-1zM1079.6,635.4h1.1v11h-1.1zM808.7,616.4h1.2v25.8h-1.2zM897.2,581.1h2.4v10.8h-2.4zM1063,663.3h1.1v9.6h-1.1zM825.8,656.9h1.3v24.3h-1.3zM783.3,666.3h2.3v23.5h-2.3zM813.6,659.6h1v6.7h-1zM1081,577.2h2.4v6.7h-2.4zM897,633.2h1.3v11.9h-1.3zM1116.1,630.1h1.1v14h-1.1zM983.5,598.4h2.4v21.3h-2.4zM954.7,627.4h1.7v24.7h-1.7zM865.1,570.1h1.3v8.9h-1.3zM868,616.8h1.9v6h-1.9zM1096.6,607h1.2v9.9h-1.2zM738.5,647.3h2.2v12.6h-2.2zM864.8,591h1.3v8.1h-1.3zM717.9,597.5h1.7v22.8h-1.7zM1049.2,610.3h1.3v23.3h-1.3zM831.3,647.4h1.5v18.4h-1.5zM994,611.1h1.9v14.8h-1.9zM995.1,649.7h1.1v22h-1.1zM1068.2,604.7h2.4v13.7h-2.4zM844.5,587.1h1.7v9.1h-1.7zM799.6,635.1h1.4v11.4h-1.4zM1014.6,580.8h1.9v23.1h-1.9zM713.3,687.4h2.3v19.9h-2.3zM991.4,581.4h1.1v21.4h-1.1zM805.7,589.4h2v11.2h-2zM886.5,569h2.3v15.5h-2.3zM774.4,608.2h1.8v22h-1.8zM985.5,610.4h1.8v8.9h-1.8zM901.1,630.1h1.7v27.4h-1.7zM854.3,648.2h1.3v16.5h-1.3zM889.6,607.5h2.1v7.4h-2.1zM881.8,586.5h1.7v19.9h-1.7zM1080.8,645.4h2.2v12.9h-2.2zM1092.3,616.3h2.3v12h-2.3zM993.6,609.7h1.5v19h-1.5zM1051,586h1.1v13.8h-1.1zM980.8,651.5h2.3v27.6h-2.3zM897.4,682.8h2.3v15.4h-2.3zM897.4,609h2.1v18.7h-2.1zM870.1,600.7h1.9v7.7h-1.9zM1080,686h1.7v21.5h-1.7zM843.7,676.5h1.8v4.8h-1.8zM771.9,663.6h2v18h-2zM1000.9,625.3h2.3v24.5h-2.3zM806.2,619.4h1.1v26.9h-1.1zM764.7,639.4h2v18.4h-2zM789.9,639h1.3v4.5h-1.3zM837.7,595.6h1.8v12h-1.8zM1059.8,614h1.6v23.3h-1.6zM967.6,627.2h1.4v27.8h-1.4zM875.8,601.9h1.5v15.6h-1.5zM964.8,578.5h1.5v5.4h-1.5zM823.5,608h1.9v8.5h-1.9zM844.5,569.7h1.5v27.7h-1.5zM1041.5,646.6h1.5v5.5h-1.5zM971.3,656.4h1.7v10h-1.7zM1105.9,663h1.3v7.8h-1.3zM971.9,599.3h2.4v24.3h-2.4zM858,660.2h1.1v6.8h-1.1zM806.6,678h2.2v27.4h-2.2zM866.3,639.9h2.3v26.3h-2.3zM1008.8,639.6h1.9v4h-1.9zM934.4,681.9h2.3v14.9h-2.3zM930.7,651.2h1.7v24.8h-1.7zM838.5,689.3h2.2v19.2h-2.2zM968.2,645.6h1.1v14h-1.1zM764.4,614.8h1.6v15.4h-1.6zM1074.7,657.4h1v8h-1zM785.7,583.3h1.4v15.4h-1.4zM1112.2,590.5h1v4.7h-1zM822.7,580.3h1v4.7h-1zM916.1,588.4h1.1v10.9h-1.1zM1017.5,635h1.9v22.4h-1.9zM913.1,685.2h1.6v12.7h-1.6zM797,656.4h1.7v14.3h-1.7zM1009.4,584.6h1.8v26.4h-1.8zM1121.7,625.9h1.7v27.6h-1.7zM929,674.7h1.6v18.9h-1.6zM753.6,577.9h1.6v19.7h-1.6zM1013,612.8h2.2v14.1h-2.2zM831.9,614.3h1.1v5.2h-1.1zM782,685h2.4v4.6h-2.4zM786.1,678.4h1.7v4.6h-1.7zM752.6,574.5h1.5v20.2h-1.5zM1067.3,637.2h1.6v20.6h-1.6zM911.7,638.2h2.1v5h-2.1zM842.5,667.9h1.2v12.6h-1.2zM874.9,577.8h2.2v4.8h-2.2zM1019.6,580.6h1.3v23.8h-1.3zM706.1,623.2h2.3v27.9h-2.3zM1044.6,593.2h1.1v13.6h-1.1zM711.6,603.4h1.8v5.9h-1.8zM968.5,647.3h1.4v6.7h-1.4zM852.7,617h1.9v22h-1.9zM839.4,596.6h2.2v17.6h-2.2zM720,572.4h1.5v26.6h-1.5zM734.1,602h2.3v22.6h-2.3zM907,670.2h2.3v18.6h-2.3zM871.5,635.9h2.1v16.3h-2.1zM1042.2,638.4h1.8v27.6h-1.8zM1119.1,600.4h1.3v22.1h-1.3zM1120,585.5h1.7v24.6h-1.7zM997.8,649.5h2v15.7h-2zM1062.5,660h2.2v21.3h-2.2zM911,665.5h2.4v14.5h-2.4zM992.5,639.3h2.4v18.3h-2.4zM870.9,649.7h1.3v15.4h-1.3zM715.5,610.5h2.3v27.9h-2.3zM910.3,593.2h1.7v27.4h-1.7zM1024,626h2v10.1h-2zM891.5,654.9h1v18.4h-1zM912,592.8h1.7v7.9h-1.7zM788.4,593.6h2v22h-2zM917.4,616.2h1.5v11.5h-1.5zM853,657h1.4v19.6h-1.4zM730.3,631.4h1.1v7.2h-1.1zM1096.2,643.1h1v16.7h-1zM824.9,676.3h1.4v13.8h-1.4zM1089.8,614.9h1.4v18.9h-1.4zM1010.4,630.7h1.6v27.5h-1.6zM912.2,629.1h1.4v21.9h-1.4zM965.8,634.9h1.6v25.1h-1.6zM1015.8,623.5h2.4v20.4h-2.4zM980,642.7h1v17.6h-1zM1063.9,667.8h2.1v20.3h-2.1zM975.2,662h1.1v14.3h-1.1zM872,658h1.6v23.6h-1.6zM904.1,576.7h2.4v27.6h-2.4zM1099.7,571h2.2v27.3h-2.2zM709.3,624.9h1.8v9.8h-1.8zM855.6,637.2h2v14.5h-2zM1120,645.9h1.4v26.1h-1.4zM776.1,602.1h1v12.1h-1zM842.5,592.2h1.1v15.8h-1.1zM817,686.2h2.2v14.5h-2.2zM750.3,614.4h1.1v27.5h-1.1zM807.1,657.2h1.9v24.7h-1.9zM950.5,648.9h1.9v19.3h-1.9zM929.5,649.9h1.2v19.2h-1.2zM897.1,613.6h1.6v24h-1.6zM1089.5,646.7h1.5v11.7h-1.5zM1037.3,623.8h2.3v13.8h-2.3zM815.9,677.6h1.5v27.4h-1.5zM871.2,612.4h2.1v13.5h-2.1zM776.6,643.3h1.7v25.2h-1.7zM936.5,655h1.5v19.7h-1.5zM971.4,590.7h1.4v7.1h-1.4zM1102.3,620.5h2.1v4.7h-2.1zM1061.6,639.5h1v5.5h-1zM998.7,602.1h1.2v15.2h-1.2zM882.9,598.3h2.4v27.4h-2.4zM999,572.5h2.2v18.3h-2.2zM730.7,578.8h1.6v18.4h-1.6zM814.2,607.6h1.5v4.3h-1.5zM1100.5,595.1h1.6v9.2h-1.6zM907.3,673h2.2v7.6h-2.2zM797.6,601.2h2.2v24h-2.2zM1067.5,616.8h2.4v8.1h-2.4zM939.3,601.9h1.7v25.5h-1.7zM1114,611.2h1.7v10.9h-1.7zM1048.1,586h1.7v22.7h-1.7zM875.7,591.8h1.7v22h-1.7zM892,689.6h2v6h-2zM983,665.1h2.3v23.6h-2.3zM1046.1,579h1.3v15.6h-1.3zM889,577.7h1.8v18.2h-1.8zM779.4,633.8h2v9h-2zM1010.8,596.3h2.3v24.7h-2.3zM714.5,643.7h1.9v6h-1.9zM866.3,601.7h2.4v4.3h-2.4zM867.5,613.8h1.4v24.6h-1.4zM736.5,602.9h1.4v25.8h-1.4zM827.5,671.8h2.2v25.6h-2.2zM967.5,679.9h1.6v5.3h-1.6zM751.5,621.7h1.8v4.5h-1.8zM1050.6,631.2h2v20.2h-2zM919.1,576.5h1.5v7.5h-1.5zM749.1,587.5h2.1v24.4h-2.1zM841.6,584.7h2.3v17.1h-2.3zM931.1,605.6h1.8v14.1h-1.8zM1001,680.5h1.2v19.7h-1.2zM982.7,670.4h1.5v16.3h-1.5zM896.1,664h1.8v21.3h-1.8zM967.9,669.3h2.1v17h-2.1zM938.1,632.2h1.3v26.1h-1.3zM788.3,626.4h1.4v6.3h-1.4zM1041.6,617.6h1.8v23.9h-1.8zM713.1,605.3h2v11.8h-2zM899.3,686.4h1.6v25.1h-1.6zM724.8,688.6h2v19.4h-2zM971.9,625.5h1.1v11.9h-1.1zM968.8,626.6h1.8v17.5h-1.8zM855.2,624h1.3v17.4h-1.3zM890.4,569h1.7v14h-1.7zM913.4,575.1h1.5v7.3h-1.5zM754.2,577.2h1v25.4h-1zM952.3,670h1.5v16.7h-1.5zM741.5,609.3h1.3v21.3h-1.3zM1014.3,674.4h1.1v18h-1.1zM994.9,571.4h2.2v13.3h-2.2zM1117,598.2h1.9v19.9h-1.9zM821.8,608.7h2v17.3h-2zM1077.8,671h1.1v22.5h-1.1zM1046.4,673.7h1.9v9.7h-1.9zM732.7,673.9h2.1v14.1h-2.1zM1056.4,576.5h2.3v17.8h-2.3zM949.4,684.6h2.2v7.7h-2.2zM1035.5,587.9h1.8v14.7h-1.8zM904.6,643.8h2.1v13.8h-2.1zM1086.1,578.4h1.2v24h-1.2zM970.5,681.3h1.9v8.4h-1.9zM898.1,568.8h2.3v26.1h-2.3zM712.6,621.7h1.4v15.6h-1.4zM858.4,672.6h1.4v8.8h-1.4zM1109.4,604h2v16.3h-2zM1006.8,636h2.1v7.8h-2.1zM1097.4,599.5h2.3v4.2h-2.3zM926.2,616h1.1v21.7h-1.1zM990.4,652.3h1.7v17.4h-1.7zM917.3,606.1h1.8v24.2h-1.8zM1046.4,576.7h2.1v15.1h-2.1zM986.7,624.1h1.4v27.3h-1.4zM1105.5,653.5h1.2v5.2h-1.2zM981.9,653.1h1.1v14.3h-1.1zM1003.3,685.3h2.2v23.4h-2.2zM745.2,679.1h1.7v14.7h-1.7zM938,641.5h2.2v4.3h-2.2zM719.7,623.7h2.2v6.4h-2.2zM970.7,617.7h2.3v22.7h-2.3zM787.5,689.5h2.3v8h-2.3zM1018.5,632.7h1.7v14.1h-1.7zM886.4,639.2h2.4v25.8h-2.4zM852.3,616.9h2.2v11.6h-2.2zM871.3,652.1h1.1v23.2h-1.1zM790.7,629.8h1.4v17h-1.4zM826,620.1h1.8v25.7h-1.8zM832.4,679.6h2.4v24.7h-2.4zM839.1,641.7h1.8v21.4h-1.8zM967.8,595.8h1.4v8.8h-1.4zM889.3,665.7h2v6.5h-2zM816.1,652.7h1.7v18.4h-1.7zM980.8,651.7h1.3v21.1h-1.3zM796,615.6h1.4v8.4h-1.4zM823.9,576h2.3v13.2h-2.3zM1103.2,595.1h1.6v26.5h-1.6zM811.5,618.9h1.7v7.9h-1.7zM990,627.5h1.7v23.4h-1.7zM731.5,683.4h1.5v23.6h-1.5zM985.5,660.4h1.9v22.4h-1.9zM1013.4,594.1h2.2v7.6h-2.2zM766.7,593h1.7v26.3h-1.7zM752.6,687.9h1.2v15.7h-1.2zM848.5,652.2h1.8v10h-1.8zM922.7,622.7h1.4v9.3h-1.4zM784.1,573h1.2v6.3h-1.2zM825.9,581.4h1.9v21.3h-1.9zM1116,675.5h2v27h-2zM1066,675.9h1v23.3h-1zM856.1,606h2.2v20.3h-2.2zM1008.2,681.1h1.6v22.8h-1.6zM734.3,574.6h1.3v10.8h-1.3zM704,676.5h1.8v16.2h-1.8zM767.4,667.5h2v14h-2zM762.2,687.1h2.3v6.7h-2.3zM872.9,629.3h1.9v20.6h-1.9zM1007.7,610.6h1.6v7h-1.6zM916.4,667.3h1.2v15.1h-1.2zM744.9,593.2h1.9v5.8h-1.9zM959.4,605.3h1.4v22.9h-1.4zM919.4,636.9h2.2v22.1h-2.2zM711.2,630.7h1.5v16.6h-1.5zM769.2,616.1h1.2v24.8h-1.2zM881.5,651.5h1.7v21.7h-1.7zM822.1,667h1.4v16h-1.4zM917,594.8h1.7v4.9h-1.7zM990,649.4h1v12.5h-1zM837.2,573.6h2v6.2h-2zM913.4,685h1.8v20.2h-1.8zM900.2,667.3h2v10.5h-2zM889.7,643.9h1.2v12.8h-1.2zM1078.1,675.7h1.4v26.1h-1.4zM982.4,668.3h1.6v26.7h-1.6zM918.2,604.8h1.6v12.7h-1.6zM912.9,684.6h1.2v15.4h-1.2zM1097.3,682.6h1v23.5h-1zM750.8,592.2h1v10.2h-1zM1004.9,660.4h1.9v18.3h-1.9zM936,572.9h1.1v7.5h-1.1zM1108.1,614.2h2v25.2h-2zM905.5,629.3h1.5v23.1h-1.5zM926,579.6h1.1v15.9h-1.1zM973.9,627.7h2.2v22.7h-2.2zM1040.4,570h2.3v27.3h-2.3zM1008.9,676.7h1.7v21.3h-1.7zM908.9,575.9h1.8v22.7h-1.8zM861.8,588.1h2.2v27.3h-2.2zM1084,666.7h1.4v6h-1.4zM846.3,596.4h1.3v25.4h-1.3zM747.4,583h1.5v6.6h-1.5zM869.6,686.6h1.1v9.4h-1.1zM1084.1,587.1h2.2v13.6h-2.2zM1031.5,580.1h2v11.6h-2zM1017.9,570.1h1.6v15.2h-1.6zM861,689h2.1v10.4h-2.1zM984.7,605.3h2.2v14.4h-2.2zM879.3,577.9h1.5v9.3h-1.5zM1008.5,666.4h1.6v23.4h-1.6zM1068.7,589.8h2v5.5h-2zM815.7,582.8h1.5v4.9h-1.5zM815.7,652.3h2.3v12.5h-2.3zM1107.8,657.9h2.2v10.7h-2.2zM1114.1,579.7h2v16.9h-2zM879.2,681.2h1.4v24.3h-1.4zM1002.7,670.8h2.4v18h-2.4zM1042.7,654.4h1.7v21.6h-1.7zM945.4,631.4h1.5v23.2h-1.5zM1101.5,643.9h1.3v18.5h-1.3zM831.2,688.1h2.3v12.9h-2.3zM829.4,646.4h1.3v22h-1.3zM845.3,644h1.8v12.6h-1.8zM787,643.9h1.7v23.6h-1.7zM1031.8,630.4h2.2v11.4h-2.2zM1019.5,648.6h1.4v5.9h-1.4zM723.2,587.6h1.1v8.3h-1.1zM967.5,616.4h1.5v26.5h-1.5zM889.3,663.9h2.1v16.7h-2.1zM1022.9,610.5h2v9.1h-2zM1001.8,611.2h1.9v26.5h-1.9zM751.7,574.8h1.4v10.6h-1.4zM940.9,608.7h1.7v26.7h-1.7zM779.4,570.8h1.9v15.1h-1.9zM1103.5,585.7h2v14.1h-2zM1117.3,574.4h1.3v9.7h-1.3zM1002.9,668.1h1.8v10.2h-1.8zM710.2,598.6h2.3v21.2h-2.3zM728.9,684.5h1.8v10.1h-1.8zM1016.6,601h1.1v21.1h-1.1zM1093.2,655.9h1.1v23.6h-1.1zM845.6,677.3h1.4v15h-1.4zM1094,629.4h1.4v9.5h-1.4zM874.7,582.1h1.9v24.3h-1.9zM769.4,617.7h1.3v24.4h-1.3zM817.7,687.8h1.6v8.9h-1.6zM993.5,596.1h2.2v18.8h-2.2zM812.2,666.7h1.2v23.2h-1.2zM813,589.8h1.1v27.4h-1.1zM893.3,598.6h1.4v26.2h-1.4zM912.8,669.1h2.3v6.6h-2.3zM908.3,608.5h1.6v20.4h-1.6zM791.6,668.2h2.1v11.5h-2.1zM861.8,613h1.6v23.1h-1.6zM885.9,644.9h1.6v4.1h-1.6zM981.3,638h1.4v19.9h-1.4zM965.4,647.1h1.9v18.3h-1.9zM1101.4,679.3h1.9v24.7h-1.9zM889.3,603.5h2v4.2h-2zM976.3,671.1h1.1v18.4h-1.1zM897.3,634h1v15.8h-1zM875.2,580h1v8.1h-1zM943.8,629.6h1.9v4.2h-1.9zM840.4,585.1h2v4.9h-2zM1067,666.3h1.1v18.8h-1.1zM1084.9,591.7h2.4v23.7h-2.4zM1113.8,619.9h1.7v23h-1.7zM814.1,579.4h1.2v11.4h-1.2zM852.3,651.8h1.4v9.7h-1.4zM811.3,618.1h1.6v15.7h-1.6zM977.9,607.6h2.4v20.3h-2.4zM941.5,669.9h1.7v26.5h-1.7zM895,670h1.2v26.7h-1.2zM1115,605.5h1.7v22.9h-1.7zM791.5,672h1.7v21.7h-1.7zM792,591.7h1.1v19.6h-1.1zM921.2,647.5h1.3v9.6h-1.3zM896.4,609h1.1v24h-1.1zM1095.5,686.8h2.3v11h-2.3zM999.2,649.3h1.8v9.9h-1.8zM927.6,571.8h2v4.1h-2zM971.3,681.8h1.4v10.1h-1.4zM906.9,680.1h1.2v11h-1.2zM777,577.1h1.3v23.5h-1.3zM871.7,620h2.2v13.4h-2.2zM1082.6,626.4h1.2v23h-1.2zM759.5,685.1h2v8.3h-2zM1224.1,592.1h2.1v12.5h-2.1zM1303.6,638h2v25.6h-2zM1193.8,657.2h2.4v8.7h-2.4zM1319,645.3h1.3v26.6h-1.3zM1435.3,658.6h1.9v24.2h-1.9zM1328.4,639.7h2v17.2h-2zM1154.7,599.6h2.2v7.8h-2.2zM1180,664.5h2v5.1h-2zM1273.8,657.8h1.2v26.3h-1.2zM1163.9,613.2h1.4v16.7h-1.4zM1128.4,640h2v22.7h-2zM1242.6,685.4h2v8.3h-2zM1190.7,675.1h1.1v13.3h-1.1zM1227.9,613.8h1.1v8.5h-1.1zM1181.7,639.6h1.3v15.2h-1.3zM1217.9,575.4h1.5v20.6h-1.5zM1276.3,652.9h1.2v24.6h-1.2zM1357,579.7h1.6v19.4h-1.6zM1409.4,647h2.3v8.5h-2.3zM1280.9,579h1.7v4h-1.7zM1125.1,587h1.5v11.9h-1.5zM1438.9,582.8h1.3v24.3h-1.3zM1364.5,652.8h1v7.6h-1zM1375.6,577.9h1.8v12.1h-1.8zM1241.8,630.5h2.1v28h-2.1zM1381.3,648.6h2.2v6.9h-2.2zM1268.1,687.8h1.5v6.4h-1.5zM1330.9,597.7h2.3v10.4h-2.3zM1344.6,672.2h1.1v27.4h-1.1zM1264.4,634.9h1.6v4.4h-1.6zM1417,589.6h1.6v13.2h-1.6zM1276.1,632.1h2.4v7.7h-2.4zM1246.1,673.7h2v23.8h-2zM1271,619.7h1.5v12.1h-1.5zM1150.8,664.4h1.4v13h-1.4zM1199.5,654.5h1.4v15.1h-1.4zM1213.3,665.8h1.4v17.7h-1.4zM1286.3,572.8h2.4v24.6h-2.4zM1358.8,590.2h2.2v27.3h-2.2zM1397.6,645.8h2.1v10.3h-2.1zM1364,609.6h1.5v23.7h-1.5zM1151.3,574.3h1.9v24.9h-1.9zM1306.1,642.1h1.1v16.6h-1.1zM1422.8,626.2h1.8v9.6h-1.8zM1166.8,677.8h1.3v26.9h-1.3zM1406.4,581.7h2.1v4.8h-2.1zM1415,669.1h1v21.6h-1zM1254.3,590h1.6v14.1h-1.6zM1410.6,634.7h2.3v18.1h-2.3zM1251.8,593.4h2v18.2h-2zM1130,596.7h1.6v9.6h-1.6zM1125.8,689h2.1v20.6h-2.1zM1306.6,646h1.3v12.2h-1.3zM1275.9,674.1h1.4v22h-1.4zM1146,651.9h1.1v14.7h-1.1zM1152.4,608.7h2.3v22.2h-2.3zM1420.3,658.2h1.7v9.6h-1.7zM1386.8,592.6h1.4v18h-1.4zM1189.2,658.1h1.1v6.3h-1.1zM1209.4,619.5h1.3v6.7h-1.3zM1267.4,687.4h2.2v24.4h-2.2zM1341.5,607.6h1.6v22.7h-1.6zM1318.8,589h1.4v21.6h-1.4zM1349.7,608.9h2v5.9h-2zM1250.1,575.6h1.1v27.8h-1.1zM1202.1,644h2.1v8.3h-2.1zM1301.7,677.2h1.8v24.5h-1.8zM1362.9,612.2h1.5v26.7h-1.5zM1267,682.6h1.2v9.9h-1.2zM1187.7,661.4h1.5v6.8h-1.5zM1424,661.7h1.7v5.5h-1.7zM1218.6,626.5h1.7v13.6h-1.7zM1381.2,579.7h1.5v20.2h-1.5zM1214.2,579.7h1.7v22.5h-1.7zM1333.1,659h1v22.8h-1zM1329.7,637.1h2.1v6.3h-2.1zM1259.3,657.3h2.2v13.3h-2.2zM1128.3,635.4h1.9v10.8h-1.9zM1432.3,627.6h1.7v25h-1.7zM1201.5,580.7h1.5v23.7h-1.5zM1344.4,662.1h1.6v7.6h-1.6zM1243.3,623h1.2v16.5h-1.2zM1326.1,604.3h1.9v7.7h-1.9zM1331.9,574.8h1.8v8.8h-1.8zM1355.4,680.6h1.5v8.1h-1.5zM1298.8,574.1h1.9v6.2h-1.9zM1342.8,665.7h1.6v18.5h-1.6zM1366,664.8h1.1v10.3h-1.1zM1354.6,626.6h2v17.2h-2zM1301.3,639.2h1.4v20.9h-1.4zM1343.2,662.9h2v10.6h-2zM1312.5,607h1.6v22h-1.6zM1216.6,684.3h2.1v21.9h-2.1zM1178.6,646.4h1.3v5.2h-1.3zM1256,592.5h2v21h-2zM1355.4,684.8h1.1v17.8h-1.1zM1255.4,574.1h1.2v27.7h-1.2zM1428.4,577.9h1.4v7.6h-1.4zM1134.5,580.2h1v5.1h-1zM1381.4,630.9h2.1v4.5h-2.1zM1225.9,586.8h1.3v23.8h-1.3zM1372.2,644.1h2.1v19.5h-2.1zM1185,580.4h2.3v22.4h-2.3zM1333.3,638.4h1.8v26.9h-1.8zM1234.1,682.1h1.7v16.7h-1.7zM1386.6,612h1.8v22.5h-1.8zM1244.9,650.7h1.3v10.6h-1.3zM1318.1,590.1h1.9v20.5h-1.9zM1303.9,574.1h1.3v16.4h-1.3zM1261.7,585.4h2.1v8.2h-2.1zM1341.9,603.1h1.2v28h-1.2zM1228.2,633.8h1.9v17.6h-1.9zM1436.9,617h1.4v20.3h-1.4zM1248.4,605.8h1.8v19.9h-1.8zM1302.5,645.2h1.8v6.6h-1.8zM1256.2,576.7h2.4v22.9h-2.4zM1162.3,629.6h1.6v16.2h-1.6zM1394.1,633.2h2.2v9.8h-2.2zM1201,633.5h1.5v8.6h-1.5zM1350.4,573.2h1.5v13.8h-1.5zM1402,625.9h1.6v18.4h-1.6zM1190.6,678.2h1.4v27.3h-1.4zM1327.4,588.4h1.9v22.1h-1.9zM1259.3,648.6h2.1v27.7h-2.1zM1172.7,636.1h1.3v21.8h-1.3zM1314.8,646.8h2.1v4.2h-2.1zM1220.6,683.9h2.2v6.8h-2.2zM1185.1,598.8h1v5.7h-1zM1248,608.9h2.2v17.9h-2.2zM1289.3,647.6h1.8v20.7h-1.8zM1374.2,687.7h1.3v7.3h-1.3zM1438.3,573.7h1.2v27.3h-1.2zM1283,599.8h1.2v14.9h-1.2zM1259.1,612.9h1.1v12.7h-1.1zM1260.8,675h2v27.7h-2zM1314.4,668.7h2.1v11.5h-2.1zM1324.2,668.5h2v5.7h-2zM1258.4,577.1h2v26.8h-2zM1436,670.9h2.1v24.4h-2.1zM1277.4,641.4h1.8v13.5h-1.8zM1236.1,687h2.2v5.4h-2.2zM1179.6,681.7h1.5v23h-1.5zM1266.9,618.2h1.4v5.5h-1.4zM1381.4,602h1.3v27.4h-1.3zM1291.8,681.8h1.6v8.5h-1.6zM1372.7,605.4h2.2v12.7h-2.2zM1223,617.2h1.7v16.1h-1.7zM1254.3,645.2h1.2v27.3h-1.2zM1239.5,645.4h2.3v12.3h-2.3zM1155.5,572.7h2.4v10.2h-2.4zM1345.3,663.7h1.1v6h-1.1zM1344.2,621.4h1.5v6h-1.5zM1393.4,631h1.7v25.3h-1.7zM1380.4,622.3h1.5v11.4h-1.5zM1293.8,604.9h1.4v6.4h-1.4zM1234.3,670.1h1.1v22.3h-1.1zM1336.8,681.8h1.1v22h-1.1zM1207.2,646.8h2v5.3h-2zM1191.2,586.8h1.2v18.9h-1.2zM1199.4,645.4h1.1v6.6h-1.1zM1188.8,688.8h2.2v8.4h-2.2zM1246.9,640.3h1.4v12.4h-1.4zM1285.8,647.6h1.7v7.8h-1.7zM1282.8,674.9h1.4v10.6h-1.4zM1166.5,638.6h1.2v26h-1.2zM1369.7,653.5h1.3v8.3h-1.3zM1415.6,575.3h1.4v22.6h-1.4zM1256.5,662.2h1.4v25.9h-1.4zM1209.1,606.3h1.2v4.7h-1.2zM1223,575h2.1v28h-2.1zM1242.9,663.2h1.9v5.9h-1.9zM1143.8,638.7h1.1v21.6h-1.1zM1395.6,686.3h1.2v19.6h-1.2zM1389.3,649h1.2v10.8h-1.2zM1189.6,658.5h2.1v12.5h-2.1zM1227.6,683.2h2.3v23.9h-2.3zM1250.6,645.2h1.1v22.5h-1.1zM1225.6,582.5h1.8v14.1h-1.8zM1155.9,585h2.2v15.9h-2.2zM1194.9,598.6h1.9v21.6h-1.9zM1141.5,577.1h1.5v14.5h-1.5zM1230.2,672.2h1.1v15.3h-1.1zM1354.9,570.4h1.8v17h-1.8zM1181.5,643h1.3v24.7h-1.3zM1360.1,602.3h2v24.6h-2zM1158.6,654h1.6v25.5h-1.6zM1373.1,673.8h1.2v12.4h-1.2zM1365.1,653.1h1.3v11.8h-1.3zM1151.2,599h1.6v12.8h-1.6zM1152.3,602.4h1.9v9.1h-1.9zM1325.1,682h1.9v21.4h-1.9zM1431.3,673.4h1.6v8.7h-1.6zM1403.7,603h1.6v11.2h-1.6zM1268.3,667.5h1.7v25.7h-1.7zM1300.4,624.8h2v6.7h-2zM1402,654.4h2.3v9h-2.3zM1141.7,610.3h1v17h-1zM1158.5,627.7h1v18.9h-1zM1288.5,648.9h2v25.2h-2zM1382.2,680.1h1.6v21h-1.6zM1240.5,660.7h1v16.8h-1zM1215.6,596h2.2v15.6h-2.2zM1161.8,596.9h2.1v27.9h-2.1zM1294.3,672.6h2.2v26.1h-2.2zM1438.9,638.3h1.3v11.9h-1.3zM1391.8,637.2h1.7v16.1h-1.7zM1382,592.2h1.9v7.8h-1.9zM1275.9,671.5h2v19.9h-2zM1180,640.3h2v25.1h-2zM1131.1,590.5h1.1v10.4h-1.1zM1225.1,622h1.8v11.3h-1.8zM1163.9,631.6h2.4v11.2h-2.4zM1143.4,647.4h1.1v12.6h-1.1zM1225.5,688.9h1.6v5h-1.6zM1205.8,621.2h2.4v26.6h-2.4zM1378.5,655.9h1.8v10.2h-1.8zM1413.1,603.4h1.4v21.5h-1.4zM1279.3,577.8h1.6v21.1h-1.6zM1124.8,644.7h2.1v5.1h-2.1zM1415.4,628.8h1.3v5.2h-1.3zM1131.4,688.2h1.5v22.2h-1.5zM1415.6,605.9h1.5v12.9h-1.5zM1245.3,686.1h2v19.3h-2zM1363.2,658.6h1.7v10.7h-1.7zM1195,613.7h1.7v13.6h-1.7zM1196.6,689.8h2.4v5h-2.4zM1193,624.1h1.8v25.4h-1.8zM1140.1,597.6h1.5v17.5h-1.5zM1382.2,608.1h1.3v6.5h-1.3zM1354.7,682.1h1.9v13.7h-1.9zM1131.8,663.4h2v7.3h-2zM1282.6,620.5h1.7v22.8h-1.7zM1420,665.7h2v19.2h-2zM1259.7,601.2h2.1v25.3h-2.1zM1293.2,633.7h2.3v15.5h-2.3zM1261.3,615.9h1.1v20.5h-1.1zM1188,621.9h2.2v6.1h-2.2zM1278.7,602.8h2.2v10.1h-2.2zM1398.3,576.9h1.8v26h-1.8zM1351.4,686.8h1.3v8.6h-1.3zM1244.7,650.3h2.3v20.7h-2.3zM1377.1,641.4h2.3v8.2h-2.3zM1223.2,594.9h1.4v16.5h-1.4zM1291.3,689.5h1.7v6.1h-1.7zM1272.6,665.6h2.1v6.1h-2.1zM1132.1,581.4h2.1v8.2h-2.1zM1127.7,598.9h2.3v8.8h-2.3zM1327.2,684.7h1.8v11.7h-1.8zM1390.1,615.1h1.8v17.9h-1.8zM1426,682.7h1.4v7.6h-1.4zM1388.7,582h1.2v5h-1.2zM1429.2,676.5h1.1v10h-1.1zM1259.6,670.9h2.2v11.3h-2.2zM1250.2,626.9h1.1v25.7h-1.1zM1189.1,612.9h1.4v23.8h-1.4zM1280.6,680.9h1.3v5.9h-1.3zM1336.1,688.5h1.7v23.9h-1.7zM1331.6,570h1.8v14.3h-1.8zM1276.8,585.3h1.1v13h-1.1zM1141.3,573.8h1.6v9.6h-1.6zM1166.2,678.1h1.1v16.9h-1.1zM1319.5,583.1h1.6v19.7h-1.6zM1293.6,601.6h1.2v23.2h-1.2zM1397.8,605.8h1v11h-1zM1234.6,686.3h1.2v15.2h-1.2zM1139.9,601.6h1.7v23.7h-1.7zM1386.4,689.5h1.2v10.6h-1.2zM1395.1,584.4h1.5v26.8h-1.5zM1431.4,575.1h2v20.5h-2zM1400.6,595.8h1.1v22.9h-1.1zM1417.8,575.7h2.1v23.7h-2.1zM1425.5,637.9h1v13.6h-1zM1422.8,659.5h1.3v20.3h-1.3zM1438.7,585.5h1.1v19.4h-1.1zM1307.6,630.1h1.6v4.3h-1.6zM1279.1,650.7h2.1v5.5h-2.1zM1278.8,619.6h1.2v16h-1.2zM1413.9,628.1h1.3v20.3h-1.3zM1125.9,659.2h1.6v8.3h-1.6zM1300.5,673.6h2v24.1h-2zM1218.2,666h1.2v7.7h-1.2zM1177.2,596.6h1.8v9.5h-1.8zM1423.3,630.1h1.2v18h-1.2zM1194.9,653.1h1.9v23h-1.9zM1174,617.7h1.8v5.7h-1.8zM1310.9,590.4h1.7v17.1h-1.7zM1153.6,582.5h1.3v13.6h-1.3zM1280.5,658.2h1.3v18.6h-1.3zM1287.3,629.3h1.3v19.9h-1.3zM1255.7,650h2.2v11.7h-2.2zM1294.6,664.1h2.1v22.1h-2.1zM1203.3,684h1.9v14.2h-1.9zM1364.9,646.5h1.6v9.3h-1.6zM1285.1,621h2v20.8h-2zM1301.2,595.7h1.1v22.4h-1.1zM1182,663.2h1.3v12.5h-1.3zM1245.2,573.2h1.2v20.4h-1.2zM1187.1,606h1.3v6.1h-1.3zM1249.7,654.9h2.1v6.2h-2.1zM1433.9,602.4h2.2v8.6h-2.2zM1309.8,650.8h1.7v14.4h-1.7zM1297.7,607.3h1.7v8h-1.7zM1322.3,678.3h2.2v4.9h-2.2zM1421,593.8h1.5v20h-1.5zM1341.5,602.3h2.2v27.4h-2.2zM1439,645.6h2.4v22.5h-2.4zM1161.5,615h1.6v15.3h-1.6zM1183,616.4h1.7v21.2h-1.7zM1299.2,574.3h1.8v22.4h-1.8zM1433.8,595.4h1.5v7.4h-1.5zM1425.4,648.1h1.8v12.7h-1.8zM1223.6,661.5h1.5v27.2h-1.5zM1386,666.1h2v8h-2zM1301.9,634.5h1.3v24.3h-1.3zM1229.2,688.2h1.9v14.7h-1.9zM1366.2,622.5h2.4v11.9h-2.4zM1315.5,585.7h1.8v9.8h-1.8zM1291.6,622.6h1v20.6h-1zM1201.2,574.9h1.7v10.8h-1.7zM1422.5,657.6h2.3v18.9h-2.3zM1244.8,591.9h2.2v12h-2.2zM1122.5,674.8h1.8v14.6h-1.8zM1392.8,680.4h1.3v20.5h-1.3zM1215,629.3h1.5v20.4h-1.5zM1432.7,672.1h1.4v18h-1.4zM1227.8,667h1.4v9.8h-1.4zM1266.7,639.1h1.9v5.1h-1.9zM1251,620.8h1.6v21.8h-1.6zM1124.3,688.4h1.5v7.5h-1.5zM1211.1,575.7h1.4v16.4h-1.4zM1122.2,684.1h1.8v12.1h-1.8zM1286.4,586.6h1.7v9.4h-1.7zM1135.5,582.1h2.2v8.9h-2.2zM1360.1,610.6h1.6v19.4h-1.6zM1174.2,607.5h1.5v8.8h-1.5zM1318,673.1h1.9v23.7h-1.9zM1192.2,636.4h1.2v23.7h-1.2zM1216.1,656.4h1.3v10.4h-1.3zM1145.6,634.8h1.7v7.2h-1.7zM1214.5,682.2h1.8v26.9h-1.8zM1185.1,643.5h1.2v23.6h-1.2zM1167.7,625.1h1.4v9h-1.4zM1349.6,658.6h1.6v21.8h-1.6zM1126.5,595.3h2.1v24.7h-2.1zM1126.8,679.5h1.1v17.8h-1.1zM1240.8,622h1.6v16.8h-1.6zM1324.2,626h1.2v9.8h-1.2zM1218.6,633.9h1.6v9.9h-1.6zM1304.3,621.7h1v12.8h-1zM1396.3,665.9h1.4v16.8h-1.4zM1424,619.8h1.3v25.1h-1.3zM1334.2,652.7h1.7v16.9h-1.7zM1307.3,605.2h2.3v21.8h-2.3zM1189,583.7h1.9v27.3h-1.9zM1426.2,625.8h1.5v6h-1.5zM1141.1,573.5h1.5v22.9h-1.5zM1318,595.3h1.3v23.8h-1.3zM1418.7,576.2h2.2v17.4h-2.2zM1180.7,635.9h1.5v20.6h-1.5zM1207.1,578.8h1.9v24.9h-1.9zM1363.6,625.9h1.6v17.1h-1.6zM1128,661.8h1.3v19h-1.3zM1167.4,579.7h2v16.8h-2zM1407.2,580h2v15.9h-2zM1277.9,686.5h1.6v9.3h-1.6zM1371.2,641.3h1.9v16.9h-1.9zM1313.3,640.7h1.9v8.9h-1.9zM1263.1,666.8h2.2v23.6h-2.2zM1126.1,604.3h1.4v7.7h-1.4zM1127.5,639.3h1.1v9.3h-1.1zM1350.6,685h1v7.3h-1zM1368.9,632.3h1.7v15.9h-1.7zM1317.2,630.3h1v16.2h-1zM1434.3,581.5h2.3v8.3h-2.3zM1173.7,603.9h1.8v27.5h-1.8zM1395.5,613.7h1.6v17.2h-1.6zM1273.8,648.6h1v13.6h-1zM1143.8,585.6h1.8v19.2h-1.8zM1274.8,611.6h2.1v15.7h-2.1zM1340.2,574.4h1.8v19.5h-1.8zM1393.7,616.3h1.7v10h-1.7zM1354.2,626.3h1.2v16h-1.2zM1354.3,655.6h1.7v22.8h-1.7zM1351.5,669h1.7v11.5h-1.7zM1189,613.1h1.3v20.5h-1.3zM1445.5,556.1h1.2v27.1h-1.2zM1701.4,541.1h1.3v20.1h-1.3zM1568.1,611.8h1.9v23.3h-1.9zM1459.2,583.5h1.7v15.1h-1.7zM1699.8,609.4h1.2v13.7h-1.2zM1704.9,621.3h1v4.6h-1zM1626.3,635.1h1.5v7.7h-1.5zM1591.6,601.7h2.2v7h-2.2zM1462.6,636h2.4v21.2h-2.4zM1485.7,572.3h1.8v4.2h-1.8zM1483.7,582.6h2.2v19.2h-2.2zM1618.4,636h1.3v20.5h-1.3zM1678.6,621.7h1.2v11.8h-1.2zM1722.7,585.3h1.6v27h-1.6zM1606.5,634.9h1.6v20.5h-1.6zM1547.6,579.3h1.8v27.3h-1.8zM1666.3,605.7h1.5v25h-1.5zM1510.6,606h2.2v8h-2.2zM1704.4,606.3h1.6v7.7h-1.6zM1502.8,642.5h1.1v21.8h-1.1zM1663.6,565.6h1.6v12h-1.6zM1628.9,631h2v16.1h-2zM1544.5,628.4h2.1v17.8h-2.1zM1566.7,558.9h1.1v21.1h-1.1zM1583.5,641h1.3v4.1h-1.3zM1681.6,618.7h1.4v24.4h-1.4zM1479.9,623.7h1.2v5.6h-1.2zM1603.4,629.8h2v15.9h-2zM1736.2,573.5h1.3v15.9h-1.3zM1746.6,643.3h1.6v16.3h-1.6zM1643.5,571.8h1.4v26.4h-1.4zM1454.4,622.6h1.5v13h-1.5zM1623.4,584.2h2.1v16.9h-2.1zM1678.1,545.7h2.4v9.5h-2.4zM1737.8,594.8h2v11.4h-2zM1483,611.8h2.1v5.7h-2.1zM1749.2,541.1h2.1v24.5h-2.1zM1747.9,571.5h1v7.5h-1zM1467.9,606.5h1.8v5.3h-1.8zM1627.6,614.4h1.1v20.7h-1.1zM1597.8,604.3h2.3v27.6h-2.3zM1552.8,555.5h1.5v5.5h-1.5zM1528.5,541.1h2.2v10.5h-2.2zM1477.5,606.1h1.7v20.8h-1.7zM1603.8,586.4h2v19.6h-2zM1553.7,638.4h1.1v24h-1.1zM1501.2,595.1h2.1v17.3h-2.1zM1618.6,564.8h1.4v26.7h-1.4zM1460.8,631.8h2.3v7.7h-2.3zM1738.7,541.1h1.1v15.1h-1.1zM1549.7,617.2h2.3v5.2h-2.3zM1648.1,570.7h2v18.1h-2zM1509.5,622.4h1.2v9.5h-1.2zM1722.2,556.6h1.6v5.1h-1.6zM1699.8,589.3h1.5v4.4h-1.5zM1536.1,568.8h2v10.4h-2zM1538.9,546.4h1.2v9.2h-1.2zM1507.4,616.8h1v17.3h-1zM1513.4,611.5h2.2v16.3h-2.2zM1607.8,635.4h1v6.6h-1zM1458.1,590.5h2.1v12.7h-2.1zM1589.8,634.4h2v20.7h-2zM1545.5,637.7h1.1v5.2h-1.1zM1683.4,634.2h1.6v26.7h-1.6zM1680.5,634.9h2.1v21.7h-2.1zM1472.9,568h1.4v15.6h-1.4zM1599.5,636.8h1.1v27.3h-1.1zM1588.5,641.3h1.4v19.3h-1.4zM1641.3,589.1h2v19.7h-2zM1558,546.4h1.4v22.2h-1.4zM1458,583.9h1.6v15.1h-1.6zM1599.4,586.8h1.6v19h-1.6zM1738.1,629.7h1v6.3h-1zM1717.2,609h1.1v8.4h-1.1zM1554.2,559.8h1.6v11.3h-1.6zM1717.5,562.5h1.2v7.9h-1.2zM1661.9,602.9h2.4v15.7h-2.4zM1462.2,618.7h1.3v21.9h-1.3zM1698.3,545.5h1.1v27.7h-1.1zM1704,624.7h1.8v17.6h-1.8zM1697.2,557.5h2.1v21.9h-2.1zM1536.2,543.9h2.1v8.1h-2.1zM1736.9,568.1h1.7v27.5h-1.7zM1459.5,633.8h2.3v5.9h-2.3zM1626.6,618.2h1.9v5.2h-1.9zM1502.6,576.6h2.3v6h-2.3zM1739.8,552.9h1v9.3h-1zM1492.3,603.9h2.2v10.8h-2.2zM1667.3,543.4h1v15.6h-1zM1461.1,575h1.3v9.9h-1.3zM1488.6,639.6h1.4v10.6h-1.4zM1603.5,602.1h1.6v9h-1.6zM1492.7,553.7h1v24.3h-1zM1460.9,639.7h2.1v23.5h-2.1zM1560.6,549.9h2v12h-2zM1701.6,574.4h1.4v9.7h-1.4zM1467.6,640.6h1.2v6.1h-1.2zM1544.6,612.6h2.3v26.9h-2.3zM1526,591.2h1.8v24.2h-1.8zM1638,608h2.2v17.1h-2.2zM1548.2,636.8h2v27.6h-2zM1744.7,585h2.3v4.3h-2.3zM1635.6,644.3h1.9v10.5h-1.9zM1511.9,593.6h1.1v4.3h-1.1zM1570.8,575.6h1.8v13.1h-1.8zM1516.9,637.4h1.1v8.6h-1.1zM1466,641.7h1.7v19.3h-1.7zM1524.4,578.6h2.1v19.8h-2.1zM1498.4,616.1h1.1v5.2h-1.1zM1443.5,582.1h2.2v25.6h-2.2zM1478.8,589.3h2.3v8h-2.3zM1489.5,634.3h1.6v19h-1.6zM1705.8,550h1.6v6.5h-1.6zM1526,593.3h1.2v11.6h-1.2zM1558.7,559h1.3v24.9h-1.3zM1699.5,596.5h2.3v7.5h-2.3zM1732.3,560.5h1.7v26.2h-1.7zM1463.5,541.1h1.8v27.3h-1.8zM1694,563.7h1.8v26.9h-1.8zM1683.7,583.3h2.1v14.5h-2.1zM1696.2,583.6h1.2v6.6h-1.2zM1442.2,568.4h2v10.2h-2zM1624,553.8h1.3v20.7h-1.3zM1748.6,624.8h2v7.2h-2zM1513.4,640.8h1.5v27.1h-1.5zM1482.3,568.1h1.9v9.4h-1.9zM1461.2,608.9h1.3v10.6h-1.3zM1465,614.1h1v7.8h-1zM1544.3,614.5h1.5v22h-1.5zM1639.3,554.1h1.5v24h-1.5zM1629.3,592.4h1.1v26.1h-1.1zM1652.1,563h2.4v14h-2.4zM1462.2,584.2h1.5v19.9h-1.5zM1513.6,558.5h2.1v5.8h-2.1zM1592.3,568.6h1.4v4.8h-1.4zM1713.3,566.3h2.2v10.6h-2.2zM1749.3,628h1.5v19.4h-1.5zM1661.7,607.1h2.2v6h-2.2zM1690.1,626.4h2.3v9.2h-2.3zM1697.2,552.2h1.9v4.7h-1.9zM1637.1,640.7h1.9v11.5h-1.9zM1482.2,627.9h1.4v17h-1.4zM1701,569.6h2.2v16.7h-2.2zM1523.8,574.7h1.3v4.7h-1.3zM1670.8,581.9h1.5v15.9h-1.5zM1540.7,611.4h1.8v26.3h-1.8zM1527.1,572.7h1.5v11.6h-1.5zM1461.9,619.2h1.5v23.4h-1.5zM1512.4,546.8h1.7v15.7h-1.7zM1604.4,613.1h1.9v14.8h-1.9zM1736,589.5h1.2v25.2h-1.2zM1653.4,584.6h1.8v9.4h-1.8zM1451.3,555.3h1.8v12.3h-1.8zM1446.4,550.4h1.5v4.8h-1.5zM1588.8,611h1.2v25.8h-1.2zM1593.4,597.4h2.1v21.6h-2.1zM1558.8,583.4h1.9v7.6h-1.9zM1719.9,585.8h1.5v15.8h-1.5zM1623.3,632.1h1.4v25.9h-1.4zM1613.9,633.8h1.9v23.4h-1.9zM1450.8,584.9h1.2v7.9h-1.2zM1614,540.8h1v19.1h-1zM1488.6,609.7h1.6v25.4h-1.6zM1657.9,594.8h1.3v25.5h-1.3zM1565.9,643.6h1.4v13.1h-1.4zM1651.6,558.5h1v16.7h-1zM1501.5,626.9h1.9v9.3h-1.9zM1599,635.1h1.8v16.4h-1.8zM1445.2,607.9h1.7v19.8h-1.7zM1527.5,640h2.3v10.7h-2.3zM1570.2,598.3h1.9v7.6h-1.9zM1696.6,641.3h1.4v7.6h-1.4zM1586.9,610.4h2.4v14.7h-2.4zM1736.5,554.5h1.3v26.5h-1.3zM1736.1,540.3h1.7v21.3h-1.7zM1671.3,602.9h1.5v13h-1.5zM1501.3,584.9h1.6v7.3h-1.6zM1749.2,581.4h1.1v20.3h-1.1zM1657.9,632.6h1.5v26.3h-1.5zM1720.5,630.7h1.6v26.7h-1.6zM1706.3,620.9h1.2v15.9h-1.2zM1533.5,638.2h1v21.6h-1zM1560.3,632.9h2v4.1h-2zM1469.8,547.5h1.7v12.4h-1.7zM1700.8,623.2h1.5v23.3h-1.5zM1689.1,621h1.2v22.3h-1.2zM1659.9,605.8h1.5v24.4h-1.5zM1621.3,572.3h2v6.4h-2zM1597.9,574h1.8v24.3h-1.8zM1496.2,637h2.2v5h-2.2zM1471.7,551.4h2.1v20.9h-2.1zM1720.5,615.4h2.2v15.2h-2.2zM1582.8,598.2h1.3v8.5h-1.3zM1598.3,644.5h1.5v22.6h-1.5zM1620.9,639.7h1.8v7.3h-1.8zM1709.9,570.4h1.9v6.3h-1.9zM1561.1,610h1.6v13.3h-1.6zM1596.1,578.2h2.3v20.9h-2.3zM1720.1,627.7h2.4v26.4h-2.4zM1674.4,553.4h2.2v21.1h-2.2zM1708.3,637.8h1v18.9h-1zM1476.6,549.6h1.7v4.8h-1.7zM1501.1,596.3h2.1v8.5h-2.1zM1630,604.8h1v13.1h-1zM1464.8,559.1h1.2v6.2h-1.2zM1514.3,570.2h2v14.8h-2zM1621.5,620.4h1.2v9h-1.2zM1484.6,545.6h1.7v26.8h-1.7zM1682.7,636.2h1.1v22.7h-1.1zM1459.2,623.6h1.2v10.2h-1.2zM1646.8,565.4h1.4v4.9h-1.4zM1710.7,552h1.9v18.6h-1.9zM1647.8,553.1h2v19.4h-2zM1588.6,574h2.4v10.5h-2.4zM1543.4,550.8h1.3v12.2h-1.3zM1524.5,578.5h1.2v19.3h-1.2zM1661.6,543.2h1.7v24.9h-1.7zM1459.4,561.8h1.8v7.2h-1.8zM1519.9,576.8h1.9v20h-1.9zM1503.5,621.6h1.7v13.2h-1.7zM1717,556h1.2v21h-1.2zM1488.5,557.8h1.6v6.5h-1.6zM1629.8,605h1.1v6.1h-1.1zM1515.7,549.6h2.4v20.4h-2.4zM1645.4,631h2v19h-2zM1488.7,611.3h2.1v7.9h-2.1zM1466.6,556.8h1.9v14.8h-1.9zM1609.3,620.5h2.3v20.8h-2.3zM1585,599h1.3v17.8h-1.3zM1670.4,626.3h1.9v27h-1.9zM1620.7,632.5h1.2v20.7h-1.2zM1602.2,563.7h1.3v22.5h-1.3zM1587.1,555.5h2.3v11.4h-2.3zM1565.3,566.2h1.7v10.9h-1.7zM1720.1,637.9h2.1v15.3h-2.1zM1611,611.5h2v14.8h-2zM1608.6,600.3h1.9v8.3h-1.9zM1717.4,579.8h1.8v21.4h-1.8zM1574.4,567.8h1.8v5.9h-1.8zM1533.1,591.3h2.2v13.8h-2.2zM1683.8,571.6h1.8v24.2h-1.8zM1714.3,633h2.2v9.2h-2.2zM1614.2,554.6h2.3v15.5h-2.3zM1492.2,629.4h1.6v23h-1.6zM1493.5,607.3h1.7v18.9h-1.7zM1600.9,587.8h1.4v9.7h-1.4zM1695.2,616h1.3v14.3h-1.3zM1631.7,562.3h2v20.7h-2zM1654.8,567.6h2v7.6h-2zM1472.9,600h1.3v11.9h-1.3zM1449.7,567h2v16.8h-2zM1732.2,590.8h2.2v12h-2.2zM1527.5,542.7h1.7v20h-1.7zM1489,551h1.2v21.6h-1.2zM1678.8,602.2h1.4v8.1h-1.4zM1576.5,605.1h2.1v11.2h-2.1zM1639.4,616.3h1.9v18.1h-1.9zM1741.5,542.7h1.8v5.2h-1.8zM1473.4,582.6h1.3v23.8h-1.3zM1725.8,639.1h1.3v14.5h-1.3zM1742.8,628.8h1.3v5.5h-1.3zM1660.6,598.1h2.2v15.1h-2.2zM1556.3,555.5h2.2v22.7h-2.2zM1727.4,613.9h1.7v27h-1.7zM1514.1,643.8h1v11.4h-1zM1618.6,566h1.6v27.1h-1.6zM1515.4,553.7h2v20.5h-2zM1503.6,578.7h1.4v24.6h-1.4zM1680.1,546.5h1.3v27.5h-1.3zM1510.5,634.2h1.5v10.6h-1.5zM1732.4,559.6h2.1v16.6h-2.1zM1603.3,554.2h1.4v7.3h-1.4zM1591.5,618.5h1.9v23.3h-1.9zM1544.4,638.4h1.4v11h-1.4zM1657.2,610.4h1.4v7.8h-1.4zM1725,635.2h2.1v21h-2.1zM1689.5,638.1h2.3v15.6h-2.3zM1590.9,629.4h2.3v4.6h-2.3zM1449.1,641.8h1.6v26.2h-1.6zM1680.2,638.4h1.3v20h-1.3zM1479.9,625.6h1.3v5.8h-1.3zM1673.1,614.2h2.1v10.6h-2.1zM1624.3,562.4h1.3v16.3h-1.3zM1607.5,578.6h1.6v26h-1.6zM1491,604.8h2.4v17.4h-2.4zM1497.1,561.2h1.4v15.6h-1.4zM1588.1,610.4h1v16.8h-1zM1440.1,644.3h1.6v19.7h-1.6zM1575.7,643.3h2.1v12.2h-2.1zM1509.9,555.2h1.6v24.1h-1.6zM1460.3,576.8h2v13.2h-2zM1630.9,618.1h1.7v17.8h-1.7zM1463.7,558.6h1.2v5h-1.2zM1745.8,589.7h1.7v18.1h-1.7zM1693.4,636.1h1.6v6.7h-1.6zM1580.8,617.6h2.3v6.8h-2.3zM1563.3,611.2h1.4v20.6h-1.4zM1660.6,616.4h1.4v18h-1.4zM1440.3,597.1h1.4v19h-1.4zM1479.1,604.7h2.4v8h-2.4zM1599.4,558.6h1.9v23.4h-1.9zM1525.8,567.3h2.2v17.6h-2.2zM1551.4,602.7h1.6v18.5h-1.6zM1574.5,638.3h1.2v10.9h-1.2zM1524,612.7h1.5v11.2h-1.5zM1674.6,585.1h1.7v4.3h-1.7zM1637.3,643.1h1.7v27.2h-1.7zM1714.4,636.3h1.3v15.8h-1.3zM1742.1,584.1h1v12.5h-1zM1571.6,551.6h1.6v11.2h-1.6zM1656.5,566.8h2.3v12.7h-2.3zM1699.6,579.4h1.7v6.1h-1.7zM1606.7,553h2.3v10.1h-2.3zM1624.6,623.6h1.6v20.9h-1.6zM1739.6,559.4h1.7v16.1h-1.7zM1535.8,615.6h1.7v18h-1.7zM1552,614.1h1.6v9.4h-1.6zM1588.7,591.5h2v23.6h-2zM1554.6,567h2.3v23.2h-2.3zM1648.8,618.5h1.2v8.9h-1.2zM1617.9,550.3h2.3v13.2h-2.3zM1452.8,597.5h1.4v14.9h-1.4zM1602,610.8h2.4v7.2h-2.4zM1583,549h1.7v5.1h-1.7zM1456.5,617.6h2v14h-2zM1478.9,564.2h2.2v17.1h-2.2zM1576.1,631.8h1.8v27.2h-1.8zM1444.8,622.3h1.7v19.5h-1.7zM1469.1,544.3h1.6v20.7h-1.6zM1485,569.7h2.3v4.5h-2.3zM1699.2,576.4h2.3v7.3h-2.3zM1565,574.3h2.3v14.3h-2.3zM1479.2,562.2h2.1v17.3h-2.1zM1498,596.1h2.1v20.2h-2.1zM1511.1,642.4h1.3v11h-1.3zM1679.4,569.5h1.9v8.3h-1.9zM1454.3,598.5h1v9h-1zM1728.7,606.8h1.7v20.3h-1.7zM1617.2,611.9h1.5v24.7h-1.5zM1485.8,608.3h1v13.1h-1zM1459,576.6h1.6v10.4h-1.6zM1672.8,609.1h1.8v4.2h-1.8zM1496.8,579.2h1.3v21.3h-1.3zM1504.3,600.2h1.5v19.9h-1.5zM1705.8,590.6h1.6v15.8h-1.6zM1547.1,625.2h1.2v11.3h-1.2zM1519.5,616.9h1.3v22.6h-1.3zM1710.4,575h2.4v9.7h-2.4zM1633.5,572.8h1.3v20.2h-1.3zM1644.1,625.2h2.3v8.6h-2.3zM1460.5,544.6h1.3v10.6h-1.3zM1631.1,564.7h1.9v19.3h-1.9zM1501.1,600.5h1.7v21.8h-1.7zM1458.9,573.3h2.2v6h-2.2zM1511.3,609.5h1v5h-1zM1534.2,617.3h2v24.2h-2zM1505.7,605h1v5.7h-1zM1460.6,564.3h2.2v10.7h-2.2zM1499.8,560.5h1.1v26h-1.1zM1472.2,580.1h2.1v15h-2.1zM1626.6,607.6h1v17.1h-1zM1466.9,588.8h1.5v25.8h-1.5zM1698.3,612.9h2.4v26.9h-2.4zM1653.5,638.4h2.3v18.3h-2.3zM1579.5,550.7h2.2v22.6h-2.2zM1629.8,644.2h1.5v24.4h-1.5zM1654.4,594.4h2.1v5.8h-2.1zM1741.3,630.7h1.3v21.9h-1.3zM1511.4,619.3h1.2v17h-1.2zM1481.2,626.6h1.1v26.5h-1.1zM1648.7,572.5h2v10.5h-2zM1581,582.3h1.5v22.7h-1.5zM1616.8,584.6h2.2v25.6h-2.2zM1488.1,625.4h1.8v11h-1.8zM1717.4,640.1h1.9v12.2h-1.9zM1493.7,599.2h2.2v15.5h-2.2zM1480.2,565.4h2.2v11.9h-2.2zM1454.6,597.1h1.7v13.3h-1.7zM1470.2,566.6h1.6v20.2h-1.6zM1669.5,540.6h1.5v9.4h-1.5zM1616.3,616.9h2v18.2h-2zM1554.7,555.2h1.4v12.1h-1.4zM1526.2,618.9h1.7v21.6h-1.7zM1464.9,633.6h1.1v19.3h-1.1zM1736.8,573h1.4v10.4h-1.4zM615.2,660.4h2.3v9.4h-2.3zM602.9,663.6h2.3v22.9h-2.3zM612.7,619.8h2.1v5.5h-2.1zM594.2,595.2h2.1v6.1h-2.1zM613.6,621.8h1.9v7h-1.9zM590.8,689.9h1.7v24.7h-1.7zM610.9,602h1.8v16h-1.8zM565.9,655h2.1v16.7h-2.1zM586.2,668.4h2.2v15.6h-2.2zM614,656.3h1.2v7.4h-1.2zM617.1,636.2h1.2v4.7h-1.2zM602.2,664.6h1.5v12.7h-1.5zM599,685.2h1.1v8.8h-1.1zM560.6,670.7h2.3v14.1h-2.3zM561.6,666.5h1v24.3h-1zM598.2,645.2h2.4v16.5h-2.4zM607.5,652.2h2.4v21.5h-2.4zM588.8,604.3h1.3v26.4h-1.3zM612.6,679.9h2.1v18.5h-2.1zM605.8,671.8h1.3v21.8h-1.3zM569.6,693h1.1v5.3h-1.1zM590.4,638.5h1.4v10.6h-1.4zM617.6,633.4h2.1v8.6h-2.1zM615.4,629.3h2.3v10.8h-2.3zM619.9,597.4h1.8v15.2h-1.8zM593.3,690.2h1.8v21.7h-1.8zM572.3,691.5h1.8v23.1h-1.8zM623.9,673.4h1.3v7.7h-1.3zM574.1,645.7h2.3v16.6h-2.3zM567.3,623.3h2.1v8.4h-2.1zM564.1,683.2h1.4v26.5h-1.4zM612.3,686.8h1.7v10.6h-1.7zM587.1,660.2h1.3v10.3h-1.3zM1785.5,557.6h2v9.7h-2zM1785.4,560.1h2.1v9.9h-2.1zM1800.1,553.4h1.5v8.4h-1.5zM1799,547.6h2.3v15.3h-2.3zM1785.1,580.9h1.2v8.3h-1.2zM1789.1,574.4h1.6v6.7h-1.6zM1783.4,554.2h1.4v13.9h-1.4zM1791,577h1.2v8.9h-1.2zM1786.3,557.5h1v20.8h-1zM1784.4,578.6h2.3v6.7h-2.3zM1790.1,589.7h1.5v25.8h-1.5zM1784.7,552.5h1.3v27.7h-1.3zM1794.6,559.7h2v21.8h-2zM1802.7,563.6h2.3v10.7h-2.3zM1793.5,596.3h1.4v7h-1.4zM1787.7,564.3h2.3v20h-2.3zM1867.2,587.8h1.3v9.3h-1.3zM1848.3,575.6h2.4v16.4h-2.4zM1865.7,543.6h2.3v11.2h-2.3zM1860,569.1h1.1v14.1h-1.1zM1854,586.8h2.1v18.5h-2.1zM1850.3,580.4h2.2v14.5h-2.2zM1847.5,574.8h1.7v4.8h-1.7zM1856,579.4h1.7v26.2h-1.7zM1868.1,576.3h2.1v19.2h-2.1zM1861.2,564.2h1.4v18.8h-1.4zM1875,537.5h2.2v9.8h-2.2zM1857.9,590.7h1.6v4.5h-1.6zM1859.5,563.5h1.4v17.1h-1.4zM1862,559.9h1.3v19h-1.3zM1869.3,571.2h2.1v7.2h-2.1zM1850.3,559.6h1.5v11.1h-1.5zM1854.2,549h2.4v22.6h-2.4zM1856.6,535.2h1.3v4.6h-1.3zM1868.7,558.3h1.5v20.3h-1.5zM1871.6,594.8h1.6v16.8h-1.6zM1874.1,550.8h1.7v24.3h-1.7zM1870.8,576.7h2.1v26.5h-2.1zM317.8,706h2.4v8.1h-2.4zM413.5,688h2.1v12.8h-2.1zM392.4,701.5h1.7v13.5h-1.7zM344.8,665h1.5v9.1h-1.5zM333.9,678.8h1.5v7.2h-1.5zM324,709.9h2.2v6.6h-2.2zM433.7,694.9h1.6v4.8h-1.6zM330,662.7h2.3v7.9h-2.3zM356.7,679.5h1.5v12h-1.5zM443.4,693.5h1.1v7.1h-1.1zM365.5,697.9h1.8v7.6h-1.8zM478.7,698.5h1.9v4.9h-1.9zM324.9,690.2h1.9v7.1h-1.9zM703.5,617.6h2v9h-2zM705.5,615.8h2v4.6h-2zM707.5,615.1h1.5v3.1h-1.5zM709,614.9h2v8.3h-2zM711,616.8h2v4.9h-2zM713,615.2h3v4.6h-3zM716,615.2h2v7.7h-2zM718,616.3h2.5v4h-2.5zM729.3,615.9h3v2.8h-3zM732.3,616.9h2v7.9h-2zM734.3,619h3v8.4h-3zM737.3,617.7h3v5.2h-3zM743.3,618h2.5v2.2h-2.5zM745.8,622.7h3v7.7h-3zM748.8,622.2h1.5v7.2h-1.5zM750.3,621.5h3v8.9h-3zM753.3,620.9h2.5v8.7h-2.5zM755.8,622.1h2.5v3.4h-2.5zM758.3,624.7h3v7.3h-3zM868,614.6h1.5v9.2h-1.5zM869.5,608.8h3v6.7h-3zM877,612.7h3v3.2h-3zM880,610.9h2.5v5.7h-2.5zM882.5,607.1h1.5v7.7h-1.5zM884,607h2v4h-2zM888,606.2h2v7.4h-2zM890,606h2v6.3h-2zM893.5,603.9h1.5v4.9h-1.5zM897.5,601.9h2v7.1h-2zM922.2,621.2h2v6.5h-2zM927.2,621.9h2.5v7.8h-2.5zM992.1,628.3h2.5v11.1h-2.5zM994.6,629.6h2v8h-2zM996.6,630.8h2v6.3h-2zM998.6,626.8h1.5v7.9h-1.5zM1000.1,627.7h2.5v12.9h-2.5zM1005.6,624.8h2v8h-2zM1013.8,627.8h3v3.5h-3zM1016.8,626.2h2.5v3.4h-2.5zM1019.3,626.8h2v4.7h-2zM1021.3,624h2.5v6.5h-2.5zM1023.8,624.6h3v5.7h-3zM1026.8,625.2h2v6.3h-2zM1033.9,618.7h1.5v9.4h-1.5zM1035.4,619.1h2.5v7h-2.5zM1037.9,621.4h3v11.9h-3zM1427.1,615.3h2.5v12.3h-2.5zM1429.6,620.1h2.5v10.2h-2.5zM1432.1,619.1h3v9.7h-3zM1435.1,622.4h2.5v7.2h-2.5zM1442.1,617h3v8.3h-3zM1445.1,624.1h1.5v8.1h-1.5zM1446.6,621.9h2.5v12.3h-2.5zM1458.7,630.2h3v8.2h-3zM1461.7,632h2v5.5h-2zM1463.7,627.8h2.5v4.7h-2.5zM1466.2,629.9h2v8.3h-2zM1468.2,629.3h1.5v8h-1.5zM1469.7,629.8h2v7.8h-2zM1471.7,629.7h2.5v8.7h-2.5zM1474.2,627.3h3v3.6h-3zM1477.2,627.1h2v3.5h-2zM1479.2,632.2h2v6.5h-2zM1481.2,630.9h2v3.3h-2zM1483.2,630.3h2v7.9h-2zM1487.7,630.8h2v10h-2zM1489.7,633.3h3v9.5h-3zM1559.9,646.5h2v11.5h-2zM1561.9,648.3h2v11.4h-2zM1563.9,644.7h3v8.2h-3zM1566.9,644.5h2.5v12.7h-2.5zM1573.9,644.7h2v7.9h-2zM1575.9,648.8h3v8.1h-3zM1578.9,644.8h2.5v9.8h-2.5zM1581.4,646h2v11.2h-2zM1587.8,647.6h2v7.2h-2zM1589.8,649.2h2v5.9h-2zM1591.8,644.9h1.5v10.9h-1.5zM1593.3,648h2.5v6.7h-2.5zM1595.8,644.7h2.5v10.4h-2.5zM1598.3,648.4h3v5.3h-3zM1601.3,647.6h1.5v11.2h-1.5zM1604.3,645.8h3v5.3h-3zM1607.3,647.8h1.5v6.9h-1.5zM1608.8,645.3h2v8.7h-2zM1610.8,645.6h3v7.2h-3zM1655.8,623.1h2v8.4h-2zM1660.8,623.4h2.5v10.8h-2.5zM1663.3,621.8h3v6.1h-3zM1666.3,620.7h1.5v8.1h-1.5zM1667.8,620.4h1.5v7.7h-1.5zM1669.3,619.6h2v8h-2zM1672.8,618.9h1.5v8.9h-1.5zM1674.3,619.3h1.5v6.7h-1.5zM1675.8,618h1.5v10.6h-1.5zM1677.3,619.7h1.5v4.5h-1.5zM1678.8,619.9h1.5v6.9h-1.5zM1680.3,620.1h2.5v8h-2.5zM1806.6,641.1h3v8.3h-3zM1812.1,645h2.5v7h-2.5zM1814.6,641.7h2v8.9h-2zM1816.6,643.4h3v8.6h-3zM1819.6,642.2h1.5v8.6h-1.5zM1821.1,642.4h2.5v3.7h-2.5zM1823.6,641.4h2v4.9h-2zM1825.6,643.7h2.5v4.6h-2.5zM1828.1,643.5h2.5v4.1h-2.5zM1833.1,642.2h3v4.2h-3zM1836.1,642.8h2v4.6h-2zM753.4,635.5h3v6.4h-3zM758.4,638.8h1.5v10.1h-1.5zM759.9,638.5h3v6.2h-3zM762.9,634.6h2v5.8h-2zM764.9,632.2h2.5v7.4h-2.5zM767.4,633.3h2.5v6h-2.5zM869.3,633.4h3v13.5h-3zM872.3,633.1h2.5v8h-2.5zM874.8,634h1.5v12.7h-1.5zM876.3,633.5h3v10.7h-3zM879.3,636h1.5v9.7h-1.5zM880.8,635.8h1.5v12.1h-1.5zM882.3,634.1h2v8.1h-2zM884.3,637.4h2v8h-2zM886.3,635.9h2.5v9.1h-2.5zM888.8,636.4h2v8.5h-2zM890.8,638.3h1.5v13.4h-1.5zM892.3,638.9h2v13.2h-2zM908.4,623.9h2.5v11.9h-2.5zM910.9,623.6h3v11.8h-3zM913.9,623.4h1.5v12.5h-1.5zM915.4,624.9h3v12.6h-3zM918.4,629.5h2v11h-2zM920.4,628.8h2.5v6.9h-2.5zM922.9,624.3h2v10.7h-2zM1177.3,640.2h1.5v3.3h-1.5zM1178.8,643.7h1.5v4.7h-1.5zM1180.3,643.4h1.5v3.9h-1.5zM1181.8,641.2h3v7.5h-3zM1184.8,642.7h2.5v5.8h-2.5zM1187.3,643.4h2.5v9.1h-2.5zM1189.8,641h3v8h-3zM1192.8,644.1h2.5v9.9h-2.5zM1195.3,644.9h2v8.9h-2zM1197.3,645.6h2v8.6h-2zM1199.3,643.8h1.5v6h-1.5zM1203.8,643.5h2v9.6h-2zM1205.8,642.4h2v8.6h-2zM1215.8,652.3h3v9.6h-3zM1218.8,651.3h1.5v6h-1.5zM1220.3,651h3v6.4h-3zM1223.3,650.2h2v10.5h-2zM1276.7,632.6h2v11h-2zM1278.7,629.8h2v7.6h-2zM1280.7,631.4h3v9.8h-3zM1283.7,629h3v8h-3zM1286.7,629.1h1.5v12h-1.5zM1288.2,630.1h2v12.5h-2zM1290.2,626.3h2v7.8h-2zM1292.2,626.9h3v9.1h-3zM1491.6,627.8h3v9.7h-3zM1494.6,630.2h2.5v9.5h-2.5zM1499.1,626.3h2v7.3h-2zM1502.6,630.9h2.5v7.2h-2.5zM1507.1,626.9h1.5v5.1h-1.5zM1508.6,628.2h2.5v6h-2.5zM1511.1,625.1h2.5v9.6h-2.5zM1513.6,622.3h2v3.5h-2zM1531.2,639.9h2v9.6h-2zM1533.2,638.5h2.5v10.8h-2.5zM1535.7,640.4h1.5v10.7h-1.5zM1537.2,640.4h1.5v12.5h-1.5zM1538.7,643.4h3v8.7h-3zM1541.7,642.5h1.5v9.3h-1.5zM1543.2,640.5h2.5v10.6h-2.5zM1545.7,642.1h2v9.7h-2zM1550.7,642.5h3v8h-3zM1556.7,642h2.5v9.2h-2.5zM1559.2,644.8h2.5v8.6h-2.5zM1572.6,647.2h2.5v8.2h-2.5zM1575.1,649.9h1.5v4h-1.5zM1579.6,645.9h1.5v6.5h-1.5zM1584.6,649.4h3v6h-3zM1725.6,640.2h1.5v10.1h-1.5zM1727.1,646.5h1.5v6.3h-1.5zM1728.6,642.3h1.5v12.5h-1.5zM1732.6,643.7h2v8.3h-2zM1734.6,643.2h1.5v5.6h-1.5zM1179.8,584.7h2v4.6h-2zM1181.8,582.4h2.5v8.1h-2.5zM1185.8,583.3h2v11.2h-2zM1187.8,583.5h3v5.7h-3zM1190.8,581.2h3v8.4h-3zM1196.3,585.2h1.5v10.8h-1.5zM1197.8,583.7h1.5v8.2h-1.5zM1349.9,587.7h2.5v5h-2.5zM1354.9,586.5h1.5v7.7h-1.5zM1356.4,589.8h1.5v3.5h-1.5zM1357.9,588h3v6.6h-3zM1360.9,587h3v6.5h-3zM1363.9,583.4h2.5v7.2h-2.5zM1366.4,586.6h3v3.7h-3zM1369.4,583.6h2v3.8h-2zM1371.4,583h3v3.2h-3zM1374.4,581.6h3v9.3h-3zM1377.4,583.6h1.5v4.8h-1.5zM1378.9,582.1h2v6h-2zM1406.4,585.4h2.5v2.7h-2.5zM1410.9,585.7h2v6.8h-2zM1412.9,585.9h2.5v3.7h-2.5zM1415.4,586.2h1.5v8.4h-1.5zM1416.9,587.4h1.5v8.8h-1.5zM1418.4,587.8h2.5v2.4h-2.5zM1423.4,587.3h3v3.9h-3zM1491.1,588.7h2v10.4h-2zM1493.1,587.9h2.5v9.2h-2.5zM1495.6,587.6h3v9.7h-3zM1498.6,587.3h1.5v6h-1.5zM1500.1,589.4h1.5v11.6h-1.5zM1501.6,587.7h1.5v10.6h-1.5zM1505.6,589.3h2v11.4h-2zM1540.8,586.3h1.5v7.2h-1.5zM1542.3,588.3h2.5v10h-2.5zM1544.8,590.3h3v8.5h-3zM1547.8,586.7h1.5v8.9h-1.5zM1549.3,589.9h3v8.4h-3zM1552.3,589.2h2.5v10.1h-2.5zM1554.8,587.7h3v8.7h-3zM1557.8,588.5h2.5v7.8h-2.5zM1560.3,587.8h2v10.2h-2zM1562.3,591.9h2.5v9.7h-2.5zM1564.8,588.8h2v8.2h-2zM1566.8,587.3h2.5v8.9h-2.5zM1588,599.5h2.5v7.8h-2.5zM1590.5,599.9h3v9.4h-3zM1593.5,597.4h3v11h-3zM1596.5,599.1h1.5v9.2h-1.5zM1598,597.5h3v8.3h-3zM1603,598.4h1.5v9.8h-1.5zM1604.5,597.4h3v7.5h-3zM1610.5,596h2v9.1h-2zM1677.7,607.6h3v7.6h-3zM1680.7,602.7h3v8.9h-3zM1683.7,601.9h1.5v10.8h-1.5zM1685.2,603.3h2.5v11h-2.5zM1687.7,602.5h2v7.3h-2zM1689.7,599.4h3v9.4h-3zM1692.7,603.4h2.5v12.1h-2.5zM1695.2,601.9h2.5v11.1h-2.5zM1697.7,602.1h1.5v12.1h-1.5zM1699.2,599.3h2.5v8h-2.5zM1704.9,596.3h3v8.1h-3zM1707.9,596.7h1.5v8.1h-1.5zM1709.4,592.8h2v5.9h-2zM1712.9,594.3h1.5v9.7h-1.5zM1714.4,592.4h2.5v8h-2.5zM1078,652.2h3v10.6h-3zM1081,652.6h2.5v10.7h-2.5zM1083.5,649.6h3v11.5h-3zM1086.5,650.7h3v9.2h-3zM1089.5,648.3h1.5v10.2h-1.5zM1091,646.5h1.5v5.7h-1.5zM1092.5,647.5h1.5v9.3h-1.5zM1094,649.5h3v6.3h-3zM1098.5,657.5h2v7h-2zM1103,654.9h2v2.7h-2zM1105,653.2h3v8.3h-3zM1108,656.9h2v3.2h-2zM1110,657h3v4.7h-3zM1113,653.1h3v6.4h-3zM1349.5,661.7h3v10.2h-3zM1352.5,661h2.5v7.8h-2.5zM1355,660.9h3v8.5h-3zM1360,660.6h2v13.1h-2zM1362,656.1h3v7.1h-3zM1365,657.2h3v7.5h-3z"/></g><path fill="#fff" d="M843.5,484.4h2.8v37.6h-2.8zM1022.5,420.3h2.8v30h-2.8zM854.2,484.4h1.6v16h-1.6zM845.8,483.4h2.9v27.4h-2.9zM911.3,430.6h2.9v33.2h-2.9zM892,462.6h2.6v29.3h-2.6zM1083.5,457.2h2.1v39.2h-2.1zM1105.8,441.8h2.2v27.8h-2.2zM841.3,486.5h2.1v45.1h-2.1zM932.9,455.3h3v23h-3zM918.8,428.4h1.4v30h-1.4zM959.9,477.4h1.8v16.5h-1.8zM941.3,466.9h2.1v20.9h-2.1zM938.8,466.9h1.8v43h-1.8zM1069.2,442.9h2.5v22.4h-2.5zM968.4,480.2h2.8v35.7h-2.8zM1072.1,440.6h2v29.5h-2zM1067.6,441.9h2.6v29.2h-2.6zM891,462.8h2.4v47.9h-2.4zM898.9,461.7h2.1v44.3h-2.1zM1005.4,440.6h1.3v23.4h-1.3zM953.1,455.3h1.3v30h-1.3zM979.4,467.4h2.5v16.4h-2.5zM829.2,494.9h1.6v24.5h-1.6zM903.4,456.7h2.1v22.9h-2.1zM985.1,444.9h1.3v33.8h-1.3zM1087.5,455.9h2.4v39.2h-2.4zM1071.5,441.9h2.5v40h-2.5zM916.7,426.7h1.7v34h-1.7zM868.6,475.6h2v30.2h-2zM845.2,483.3h2.6v30.1h-2.6zM1002.4,440.7h1.8v22.9h-1.8zM869.7,474.5h2.2v43h-2.2zM1084.9,456.7h2.2v15.5h-2.2zM905.6,442.9h2.2v44.2h-2.2zM931.2,455.7h1.6v14.6h-1.6zM1000.8,440.7h2.8v50.4h-2.8zM871.3,472.9h2.4v23.6h-2.4zM1065.8,440.9h1.9v47.8h-1.9zM876.4,468.5h2.7v36.7h-2.7zM839.4,488h2.3v16.7h-2.3zM1104.8,442.1h2.6v40.9h-2.6zM1019.2,420.3h2.9v45.8h-2.9zM1012.6,440.3h1.7v41.5h-1.7zM878.5,467.4h2.5v43.3h-2.5zM979.4,467.4h2.9v41h-2.9zM863.6,484.9h2.3v20.7h-2.3zM981.9,461.1h2.1v33.3h-2.1zM938.5,466.9h2.9v30.2h-2.9zM965,479.1h1.5v49.6h-1.5zM1072,440.8h1.5v26.3h-1.5zM1020.9,420.3h2.7v46.7h-2.7zM1002.2,440.7h2.9v27.6h-2.9zM876.7,468.4h1.7v16.6h-1.7zM1117.3,437.4h2.6v22.5h-2.6zM963.2,478.5h1.8v31.1h-1.8zM1117.5,438.4h2.3v19.3h-2.3zM1069.8,443.2h2.1v27.7h-2.1zM1002.6,440.7h2.7v35.5h-2.7zM1075.6,439h2.4v29.4h-2.4zM891.6,462.7h2.3v20.1h-2.3zM1006.7,440.5h1.6v50.7h-1.6zM929.6,456h3v34.9h-3zM894,462.4h1.4v44.7h-1.4zM1043.8,419.6h2.3v38.5h-2.3zM1075.2,439h2.8v35.6h-2.8zM1063.9,439.8h2.8v35.7h-2.8zM899.7,461.5h1.7v32.6h-1.7zM829.1,495.1h1.7v31.2h-1.7zM893.3,462.5h2.6v31.9h-2.6z"/><path fill="#fff" d="M1340.9,526.1h1.9v21.7h-1.9zM1410.1,551.6h2.2v26.8h-2.2zM1351.4,529.4h2.7v12.2h-2.7zM1431.2,547.4h2.7v19.4h-2.7zM1165.3,575.8h2.4v15.7h-2.4zM1131,563.7h2.1v18.1h-2.1zM1233.4,566.7h2.7v20h-2.7zM1342.8,527.5h2.4v23.7h-2.4zM1183.6,575.5h2.4v30.4h-2.4zM1195.4,569.2h1.4v18h-1.4zM1361.3,529.4h1.6v30h-1.6zM1334.9,530.4h1.9v24.8h-1.9zM1380,535.9h2.4v19.5h-2.4zM1410.1,551.6h2.7v18.6h-2.7zM1329.3,540.3h1.6v18.7h-1.6zM1169.5,576.5h1.3v17.5h-1.3zM1138.8,567.5h1.7v27.7h-1.7zM1134.9,567.6h2.2v13.6h-2.2zM1169.7,576.5h2.2v14.8h-2.2zM1290.3,563.5h1.7v29.2h-1.7zM1237.8,565.8h2.8v23.7h-2.8zM1282.7,573h1.9v20.9h-1.9zM1205.5,566.1h2.4v18.9h-2.4zM1326.8,542h2.9v14.6h-2.9zM1141.9,566.5h1.4v13.3h-1.4zM1147.6,571h1.7v19.2h-1.7zM1339.1,524.7h1.6v20.9h-1.6zM1410.1,551.6h2.1v21.2h-2.1zM1284.6,570.7h2.3v15.2h-2.3zM1282.8,572.9h2.8v18.9h-2.8zM1389.8,536.1h2.6v25.8h-2.6zM1160.6,576.3h2v13.1h-2zM1429.9,547.7h2.4v17h-2.4zM1384.4,535.9h1.3v19.8h-1.3zM1127.6,561.5h1.9v27h-1.9zM1131,563.8h1.8v15.6h-1.8zM1224.1,568.6h2.8v20.8h-2.8zM1325,543.1h1.6v30.4h-1.6zM1137.3,568h1.9v14.7h-1.9zM1190.3,572.6h2.2v21.3h-2.2z"/><path fill="#fff" d="M1618.7,386.3h1.9v63.7h-1.9zM1560.5,359.5h1.5v53.5h-1.5zM1565.4,349.2h1.8v22.8h-1.8zM1621.2,411h2.5v20.1h-2.5zM1684.1,357.4h2.7v26.9h-2.7zM1737.9,288h1.5v27.1h-1.5zM1568.7,350.3h1.9v51.5h-1.9zM1586.5,350h2.9v41.9h-2.9zM1671.8,356.6h2v28h-2zM1639.8,382.2h2v36.7h-2zM1603.3,358.3h1.4v28.7h-1.4zM1692.9,392.4h2.1v39.5h-2.1zM1691.2,390.4h1.9v50.1h-1.9zM1611.2,355.5h2.9v30.2h-2.9zM1605.1,361.9h2.6v19.9h-2.6zM1746.5,285h2.3v33.7h-2.3zM1679.1,351.3h1.5v18.3h-1.5zM1669.9,362.4h1.6v48.9h-1.6zM1627.1,363.6h1.4v33.6h-1.4zM1738.9,287.9h2.9v59.4h-2.9zM1667.4,369.9h1.7v34.8h-1.7zM1715.4,301h1.4v38.9h-1.4zM1650.9,397h2.5v54.6h-2.5zM1627.3,359.7h2.9v64.8h-2.9zM1649.1,392.3h1.8v54.9h-1.8zM1643.7,337.1h2.1v16.4h-2.1zM1659.7,371.2h2.4v30.4h-2.4zM1665.9,371.9h1.3v59h-1.3zM1605.3,362.4h2.2v46.6h-2.2zM1716.4,299.5h2.2v31.1h-2.2zM1733.8,288.5h1.4v30.4h-1.4zM1572.8,346.7h2.9v63h-2.9zM1561.5,352.2h2.5v47.9h-2.5zM1639,380.1h2.6v36.8h-2.6zM1560.7,358.1h2.4v40.2h-2.4zM1673.3,352.2h2.1v25.4h-2.1zM1610.7,356.5h1.8v51.8h-1.8zM1588.7,350.8h2.2v20.6h-2.2zM1646,353.1h1.8v27.3h-1.8zM1594.8,352.8h2.3v28.2h-2.3zM1570.9,348.6h1.5v44.5h-1.5zM1741.7,287.4h1.3v60.3h-1.3zM1565.9,349.4h2.7v50.2h-2.7zM1691.7,392.4h2.6v18.6h-2.6zM1563,348.4h3v19.2h-3z"/><path fill="#ffb6c1" d="M1140,588.5h3v17.6h-3zM1143,585.6h2v47.9h-2zM1145,580.1h5v37.2h-5zM1155,574.4h2v39.4h-2zM1162,581.4h3v24.7h-3zM1165,574.1h4v25h-4zM1175,575.4h3v46.5h-3zM1186,583.6h2v22.2h-2zM1192,574.4h5v38.6h-5zM1197,573.2h2v22.5h-2zM1199,576.7h3v44.4h-3zM1202,582.5h2v47.3h-2zM1209,583.4h3v36.8h-3z"/><path fill="#fff" d="M1187.4,611.8h2.2v9.5h-2.2zM1162.3,657.6h2.6v6.6h-2.6zM1188.4,623.1h2.2v8.5h-2.2zM1166.6,625.9h2.5v9.7h-2.5zM1179.1,610.5h2.8v4.3h-2.8zM1165.2,614.7h2.9v3.8h-2.9zM1187.5,646.8h1.9v9.2h-1.9zM1163,655.4h2.6v9h-2.6zM1190.3,650.3h2.5v8.9h-2.5zM1197.8,650.9h2.1v4.3h-2.1zM1194.1,667.8h3.1v4.6h-3.1zM1189.1,653.9h2.1v5.9h-2.1zM1190.2,657.3h2.7v7.7h-2.7zM1166.2,666.7h1.9v5.5h-1.9zM1182.4,662.2h1.7v5h-1.7zM1184.4,629.1h2.8v7.9h-2.8zM1164.1,640.6h3.8v8.6h-3.8zM1185,610h2.3v8.1h-2.3zM1196.4,649.1h1.6v5.3h-1.6zM1198.1,633.5h2.8v7.1h-2.8zM1180.2,667.9h2.8v8.5h-2.8zM1186.6,631.1h3v3.9h-3zM1192.9,638.7h2.9v6.7h-2.9zM1187,649.8h1.5v6.7h-1.5zM1173.4,663.9h3.5v9.6h-3.5zM1192.7,620.9h3.3v3.7h-3.3zM1174.7,664.7h2.8v5.3h-2.8zM1182.4,620.2h2.8v8.1h-2.8zM1185.7,641.4h3.8v9.6h-3.8zM1167.8,653.3h2.9v3.4h-2.9zM1202.2,619h4v9.7h-4zM1162.6,654.5h2.2v9.2h-2.2zM1197,664.3h1.9v4h-1.9zM1179.4,658.7h3.2v9.3h-3.2zM1189,634.5h3.6v3.2h-3.6zM1171.2,639.7h3.8v8.1h-3.8zM1169.4,658.8h2.5v3.2h-2.5zM1183.5,652.8h1.9v7.6h-1.9zM1166.1,612.7h3.8v3h-3.8zM1203.6,650.8h2.2v5.7h-2.2zM1192.2,652h1.5v3.7h-1.5zM1185,647.8h1.5v4.9h-1.5zM1196.4,660.7h2.7v8.3h-2.7zM1168.6,637.5h3.6v5.4h-3.6zM1196.1,616.8h2.1v6h-2.1z"/><path fill="#d3d3d3" d="M1165.3,658.8h2.7v2h-2.7zM1167.6,654.8h2.2v3.8h-2.2zM1197.2,655.5h3.4v5.1h-3.4zM1176.5,655h1.5v2.3h-1.5zM1201.9,660h1.9v4.7h-1.9zM1197.3,638.3h2.5v4.8h-2.5zM1182.9,645.7h3.3v4h-3.3zM1194.8,659.5h3v4.7h-3zM1188.7,650.1h2.5v2.7h-2.5zM1198.9,659.3h2v2.3h-2zM1172.6,659.1h2.1v3.5h-2.1zM1180.3,659.8h3.1v4.8h-3.1zM1162.6,645.8h1.8v5.1h-1.8zM1186.7,617.5h2v2.8h-2zM1178.9,657.7h2.9v3.9h-2.9zM1172.9,648.6h1.9v5.7h-1.9zM1180.7,647.6h3.6v3.2h-3.6zM1193.4,644.8h3.7v4.6h-3.7zM1194.9,659.8h1.9v2.4h-1.9zM1187.8,599.2h1.5v4h-1.5zM1187.1,659.3h2.1v3.9h-2.1zM1192.9,654.6h2.5v3.3h-2.5zM1198.7,650.4h2.8v5.5h-2.8zM1196.3,652.3h3v3.1h-3zM1203.9,654.3h3.3v4.9h-3.3zM1193.4,642.4h3.4v3.8h-3.4zM1187.1,606.7h2.5v5.5h-2.5zM1198.4,615.8h3.8v5.1h-3.8zM1169.9,652.3h3.4v4.9h-3.4zM1173.8,627h2.9v3.9h-2.9zM1200.9,639.5h3.2v5.9h-3.2zM1172.9,641.6h1.9v5.2h-1.9zM1165.7,644h3.9v3.7h-3.9zM1185.3,609.1h3.8v4.3h-3.8zM1167.2,659.9h2.6v3.6h-2.6zM1193,657.7h1.7v2.4h-1.7zM1200.8,657.6h2.5v3.1h-2.5zM1180.5,660h2.8v5.4h-2.8zM1198.4,645.8h2.6v2.2h-2.6zM1203.9,621.3h3.3v4.4h-3.3zM1201.3,604.6h3.3v2h-3.3zM1204.3,660h2.6v4.1h-2.6zM1194.5,638.4h2.9v2.2h-2.9zM1166.7,659.3h2.5v5.7h-2.5zM1203.6,660h1.6v5h-1.6zM1187.9,616.8h3.4v5.5h-3.4zM1169,624.6h2.2v4.4h-2.2zM1193.6,660h2.6v3.5h-2.6zM1180.4,657.9h2.8v2.5h-2.8zM1200.7,659.9h2.2v4h-2.2zM1182.9,659.7h1.6v5.8h-1.6zM1173.3,657.4h3.1v3.6h-3.1zM1185.4,636.4h1.8v4.7h-1.8zM1203.4,659.4h3.7v4.4h-3.7zM1167.9,639.7h3.4v3.7h-3.4zM1201,642.6h3.4v2.6h-3.4zM1183.6,627.6h2.3v2.4h-2.3zM1175.1,655.9h2.6v4.7h-2.6zM1182.1,617.8h3.2v2.5h-3.2zM1183.7,658.8h2v2.4h-2zM1185.6,656.9h2.2v3.8h-2.2zM1175.3,624.5h1.9v2.7h-1.9zM1189.8,653.8h2.4v4.1h-2.4zM1178.2,645.5h2.6v2.1h-2.6zM1188.6,654h1.9v3h-1.9zM1172.2,659.8h2.1v4.6h-2.1zM1179.7,631.8h2.3v3.1h-2.3zM1204.9,644.1h3.8v2h-3.8zM1204,659.7h2v4.2h-2zM1165.6,657.5h2.2v4.1h-2.2z"/><g clip-path="url(#cc)"><path fill="#ffb6c1" d="M1185.5,448.4h1.4v8.4h-1.4zM1174,468h1.4v13h-1.4zM1186.6,437h2.4v22.1h-2.4zM1184.6,479.1h1.2v22.3h-1.2zM1174.8,447h2.4v19.1h-2.4zM1181.7,470.2h1.9v9.9h-1.9zM1177.8,463h1v10.1h-1zM1185.9,492.3h1.8v14.7h-1.8zM1182,486.1h1v19.1h-1zM1178.7,447.4h1.1v20.9h-1.1zM1173,438.1h1.2v18.7h-1.2zM1184.3,449.8h1.3v8.3h-1.3zM1173.3,482.1h1.2v23h-1.2zM1183.3,485.6h1v12.6h-1zM1185.9,453.4h2v11.1h-2zM1185.1,473.7h2.2v18.9h-2.2zM1179.4,468.5h1.2v20.3h-1.2zM1172.5,438h1.6v13.6h-1.6zM1173.6,470.8h2.3v7.6h-2.3zM1182.9,443.9h1.4v19.9h-1.4zM1173,444.2h1v19.7h-1zM1181.5,463.2h2.1v16.4h-2.1z"/></g><path fill="#fff" d="M1591.9,369.3L1595.2,382.1L1586.5,400.7L1578.4,415.9L1583,433.3L1591.2,449.6L1593.5,463.6L1590,463.6L1580.7,438L1573.7,417L1580.7,400.7L1588.9,382.1ZM1712.3,440.3L1720.5,438L1725.1,449.6L1730.9,456.6L1732.1,469.4L1722.8,467.1L1713.5,463.6L1711.1,449.6ZM1732.1,389.1L1735.6,391.4L1739.1,410L1736.8,411.2ZM1741.4,469.4L1746.1,458.9L1754.2,463.6L1755.4,472.9L1746.1,477.6ZM778.3,403L772.4,419.4L763.1,431L756.1,447.3L752.6,459L751.5,470.6L744.5,475.3L743.3,493.9L741,514.8L742.2,540L745.6,546.6L751.5,555.9L758.4,562.9L760.8,546.6L772.4,530.3L786.4,546.6L795.7,523.3L795.7,500L793.4,486.9L789.9,472.9L786.4,461.3L784.1,440.3L781.7,412.4Z"/></g>
<path d="M1443.3,332.4L1460.8,303L1425.8,303Z" fill="#ff0000"/><path d="M1443.3,388.9L1460.8,416.8L1425.8,416.8Z" fill="#ff0000"/><path d="M1583.7,358L1601.2,328L1566.2,328Z" fill="#ff0000"/><path d="M1724.5,328.9L1742.2,299.1L1706.8,299.1Z" fill="#ff0000"/><path d="M1864.9,530L1882.4,501.2L1847.4,501.2Z" fill="#ff0000"/><path d="M1583.7,640.9L1601.2,670.7L1566.2,670.7Z" fill="#ff0000"/><path d="M1724.4,627L1741.9,655.6L1706.9,655.6Z" fill="#ff0000"/><path d="M1864.9,581.5L1882.4,610.6L1847.4,610.6Z" fill="#ff0000"/><path d="M1443.3,561L1460.8,532L1425.8,532Z" fill="#ff0000"/><path d="M1443.3,549.4L1450.4,537.6L1436.2,537.6Z" fill="#fff"/><path d="M1443.3,652.5L1460.8,681L1425.8,681Z" fill="#ff0000"/><path d="M1443.3,664.1L1450.2,675.4L1436.4,675.4Z" fill="#fff"/><path d="M2286.5,803.6L2303.1,771L2269.9,771Z" fill="#ff0000"/><path d="M2286.5,803.6L2303.1,830.8L2269.9,830.8Z" fill="#ff0000"/><path d="M2005,950.5L2008.2,956L2001.8,956Z" fill="#ff0000"/><path d="M2145.8,950.5L2149,956L2142.6,956Z" fill="#ff0000"/><path d="M1443.3,196V955M1417,196H1470" stroke="#32cd32" stroke-width="4" fill="none"/><path d="M1417,296.7h53M1417,302.8h53" stroke="#0000ff" stroke-width="3.4" fill="none"/><circle cx="1443.6" cy="299.9" r="14" fill="#fff" stroke="#0000ff" stroke-width="5.8"/><path d="M1557.2,335.1h53M1557.2,343.9h53" stroke="#0000ff" stroke-width="3.5" fill="none"/><circle cx="1584" cy="339.75" r="16.8" fill="#0000ff"/><path d="M1698,351.1h53M1698,359.9h53" stroke="#0000ff" stroke-width="3.5" fill="none"/><circle cx="1724.3" cy="354.9" r="16.7" fill="#0000ff"/><circle cx="1443.3" cy="613.3" r="14" fill="#fff" stroke="#32cd32" stroke-width="5.6"/><path d="M1837.9,483h53M1837.9,492.7h53" stroke="#32cd32" stroke-width="3.2" fill="none"/><circle cx="1864.4" cy="488" r="16.5" fill="#32cd32"/><path d="M1979.3,585h53M1979.3,603.6h53" stroke="#32cd32" stroke-width="3.2" fill="none"/><circle cx="2005.8" cy="594.3" r="16.5" fill="#32cd32"/><path d="M2119.3,901h53M2119.3,915h53" stroke="#32cd32" stroke-width="3.2" fill="none"/><circle cx="2145.8" cy="908.4" r="16.5" fill="#32cd32"/><path d="M2260,879h53M2260,883h53" stroke="#32cd32" stroke-width="4.2" fill="none"/><circle cx="2286.5" cy="881" r="16.7" fill="#32cd32"/><g fill="none" stroke="#000" stroke-width="4" stroke-linejoin="round" shape-rendering="crispEdges"><path d="M269,291.7L423,288.4L539.5,292.4L656,293.6L702.6,290.8L819,283L860,284L956.5,286.6L1096,290.8L1236,294L1352,291.7L1440,290L1562.5,289.6"/><path d="M1667.4,293L1802,300L2020,301L2300,299L2600,293.5L2680,294.2L3069.7,299L3636.8,314.9"/><path d="M269,470.6L311,471.3L437,473L563,473L679,468.3L796,466L860,466.4L933,470L1049.6,473L1189.4,473.6L1247.6,472.2L1387.4,484.6L1440,485L1562.5,486"/><path d="M1667.4,487.6L1816,489L1880,489.8L2020,492.7L2300,498L2600,505.3L3069.7,528.8L3283,531L3496.7,539.5L3636.8,541.6"/><path d="M269,720L371.8,722.4L516,729.4L679,738.7L830.7,738.7L860,742L940,749L1040,755.5L1117,771.8L1224,785.8L1380,796.5L1562,796.5"/><path d="M1666.2,800.5L1810,811.4L1905,806.8L2320,808.7L2514.7,802L2648,806L2884,810.6L3000,809.5L3252,809.5L3341,811.4L3548,810L3637,810"/><path d="M269,792.5L337,794L528,797L548,797.5L594,815.5L605,823.6L667.6,844L689.3,853L885,865L960,868L1008,868L1130,868L1293,872.5L1442.7,874L1559.6,876.6"/><path d="M1666.2,876.6L1946,871L2320,871L2514.7,869L2653,874L2816,874L3000,880L3251.7,886L3360,887.5L3637,888"/></g><g font-family="'Liberation Sans',sans-serif" font-size="58px" text-anchor="middle" fill="#000"><text x="1615" y="312" transform="rotate(1.7 1615 291.3)">230</text><text x="1614.5" y="508.5" transform="rotate(0.8 1614.5 487.8)">250</text><text x="1614" y="819.8" transform="rotate(2.0 1614 799.0999999999999)">273</text><text x="1611.5" y="897" transform="rotate(0.5 1611.5 876.3)">279</text></g><path d="M266,109V959.9M263,956.9H3640.5" stroke="#000" stroke-width="6" fill="none" shape-rendering="crispEdges"/><path d="M266,112H347M266,217.6H347M266,323.2H347M266,428.8H347M266,534.4H347M266,639.9H347M266,745.5H347M266,851.1H347M336.2,956.9v-33M406.5,956.9v-33M476.7,956.9v-33M547,956.9v-63M617.2,956.9v-33M687.4,956.9v-33M757.7,956.9v-33M827.9,956.9v-63M898.2,956.9v-33M968.4,956.9v-33M1038.6,956.9v-33M1108.9,956.9v-63M1179.1,956.9v-33M1249.4,956.9v-33M1319.6,956.9v-33M1389.8,956.9v-63M1460.1,956.9v-33M1530.3,956.9v-33M1600.6,956.9v-33M1670.8,956.9v-63M1741,956.9v-33M1811.3,956.9v-33M1881.5,956.9v-33M1951.8,956.9v-63M2022,956.9v-33M2092.2,956.9v-33M2162.5,956.9v-33M2232.7,956.9v-63M2302.9,956.9v-33M2373.2,956.9v-33M2443.4,956.9v-33M2513.7,956.9v-63M2583.9,956.9v-33M2654.1,956.9v-33M2724.4,956.9v-33M2794.6,956.9v-63M2864.9,956.9v-33M2935.1,956.9v-33M3005.3,956.9v-33M3075.6,956.9v-63M3145.8,956.9v-33M3216.1,956.9v-33M3286.3,956.9v-33M3356.5,956.9v-63M3426.8,956.9v-33M3497,956.9v-33M3567.3,956.9v-33M3637.5,956.9v-63" stroke="#000" stroke-width="6" fill="none" shape-rendering="crispEdges"/><g font-family="'DejaVu Sans',sans-serif" fill="#000"><g font-size="67.3px" text-anchor="end"><text x="233" y="136.7">12.1</text><text x="233" y="242.3">10.6</text><text x="233" y="347.9">9.14</text><text x="233" y="453.5">7.65</text><text x="233" y="559.1">6.15</text><text x="233" y="664.6">4.65</text><text x="233" y="770.2">3.16</text><text x="233" y="875.8">1.66</text><text x="233" y="981.4">0.16</text></g><g font-size="75.2px" text-anchor="middle"><text x="266" y="1036.2">0</text><text x="547" y="1036.2">2</text><text x="827.9" y="1036.2">4</text><text x="1108.9" y="1036.2">6</text><text x="1389.8" y="1036.2">8</text><text x="1670.8" y="1036.2">10</text><text x="1951.8" y="1036.2">12</text><text x="2232.7" y="1036.2">14</text><text x="2513.7" y="1036.2">16</text><text x="2794.6" y="1036.2">18</text><text x="3075.6" y="1036.2">20</text><text x="3356.5" y="1036.2">22</text><text x="3637.5" y="1036.2">24</text><text x="1952.9" y="1116.4" font-size="75.5px">Time (UTC)</text></g><text font-size="66.7px" text-anchor="middle" transform="translate(35.4,534) rotate(-90)">Height AMSL (km)</text></g><defs><linearGradient id="cb" x1="0" x2="1" y1="0" y2="0"><stop offset="0" stop-color="#fff"/><stop offset="0.3333" stop-color="#ffb6c1"/><stop offset="0.6667" stop-color="#00ffff"/><stop offset="1" stop-color="#d3d3d3"/></linearGradient></defs><rect x="266" y="1144" width="3371" height="53" fill="url(#cb)"/><path d="M263,1200H3640.5M266.5,1200v-17M378.9,1200v-10M491.3,1200v-10M603.6,1200v-10M716,1200v-10M828.4,1200v-10M940.8,1200v-10M1053.2,1200v-10M1165.6,1200v-10M1278,1200v-10M1390.3,1200v-17M1502.7,1200v-10M1615.1,1200v-10M1727.5,1200v-10M1839.9,1200v-10M1952.2,1200v-10M2064.6,1200v-10M2177,1200v-10M2289.4,1200v-10M2401.8,1200v-10M2514.2,1200v-17M2626.6,1200v-10M2738.9,1200v-10M2851.3,1200v-10M2963.7,1200v-10M3076.1,1200v-10M3188.5,1200v-10M3300.8,1200v-10M3413.2,1200v-10M3525.6,1200v-10M3638,1200v-17" stroke="#000" stroke-width="6" fill="none" shape-rendering="crispEdges"/><g font-family="'DejaVu Sans',sans-serif" font-size="59.3px" text-anchor="middle" fill="#000"><text x="256.8" y="1263">Clear</text><text x="1390.6" y="1261">Water</text><text x="2513.5" y="1261">Ice</text><text x="3637.3" y="1261.5">Other</text></g><g fill="none" stroke="#000" stroke-width="6" shape-rendering="crispEdges"><rect x="249" y="1313" width="651" height="248"/><rect x="994" y="1313" width="618" height="248"/><rect x="2328" y="1313" width="559" height="402"/></g><g font-family="'DejaVu Sans',sans-serif" font-size="58.3px" fill="#000"><text x="323.5" y="1405.2">SEV-OCA SL Wat</text><text x="323.5" y="1502">OCA High Err Wat</text><text x="1068.8" y="1405.2">SEV-OCA SL Ice</text><text x="1068.8" y="1502">OCA High Err Ice</text><text x="2403" y="1404.5" font-size="58.25px">ACTRIS CBH</text><text x="2403" y="1491.3" font-size="58.25px">ACTRIS CTH</text><text x="2403" y="1578.1" font-size="58.25px">ACTRIS CBH BL</text><text x="2403" y="1664.9" font-size="58.25px">ACTRIS CTH BL</text></g><circle cx="287" cy="1384" r="17.1" fill="#32cd32"/><circle cx="1031.9" cy="1384" r="17.1" fill="#0000ff"/><path d="M270.9,1463.9l32.2,32.2M270.9,1496.1l32.2,-32.2" stroke="#32cd32" stroke-width="5.5" fill="none"/><path d="M1015.9,1463.9l32.2,32.2M1015.9,1496.1l32.2,-32.2" stroke="#0000ff" stroke-width="5.5" fill="none"/><path d="M2365,1364.1L2382,1393.2L2348,1393.2Z" fill="#ff0000"/><path d="M2365,1490L2382,1460.6L2348,1460.6Z" fill="#ff0000"/><path d="M2365,1536.9L2382.2,1567.6L2347.8,1567.6Z" fill="#ff0000"/><path d="M2365,1548.5L2372.6,1562L2357.4,1562Z" fill="#fff"/><path d="M2365,1663.5L2382.2,1633L2347.8,1633Z" fill="#ff0000"/><path d="M2365,1651.9L2372.5,1638.6L2357.5,1638.6Z" fill="#fff"/>
<text x="1950.8" y="76.8" font-family="'Liberation Sans',sans-serif" font-size="100.6px" text-anchor="middle" fill="#000">Palaiseau: 2025/09/21</text>
</svg></body></html>
